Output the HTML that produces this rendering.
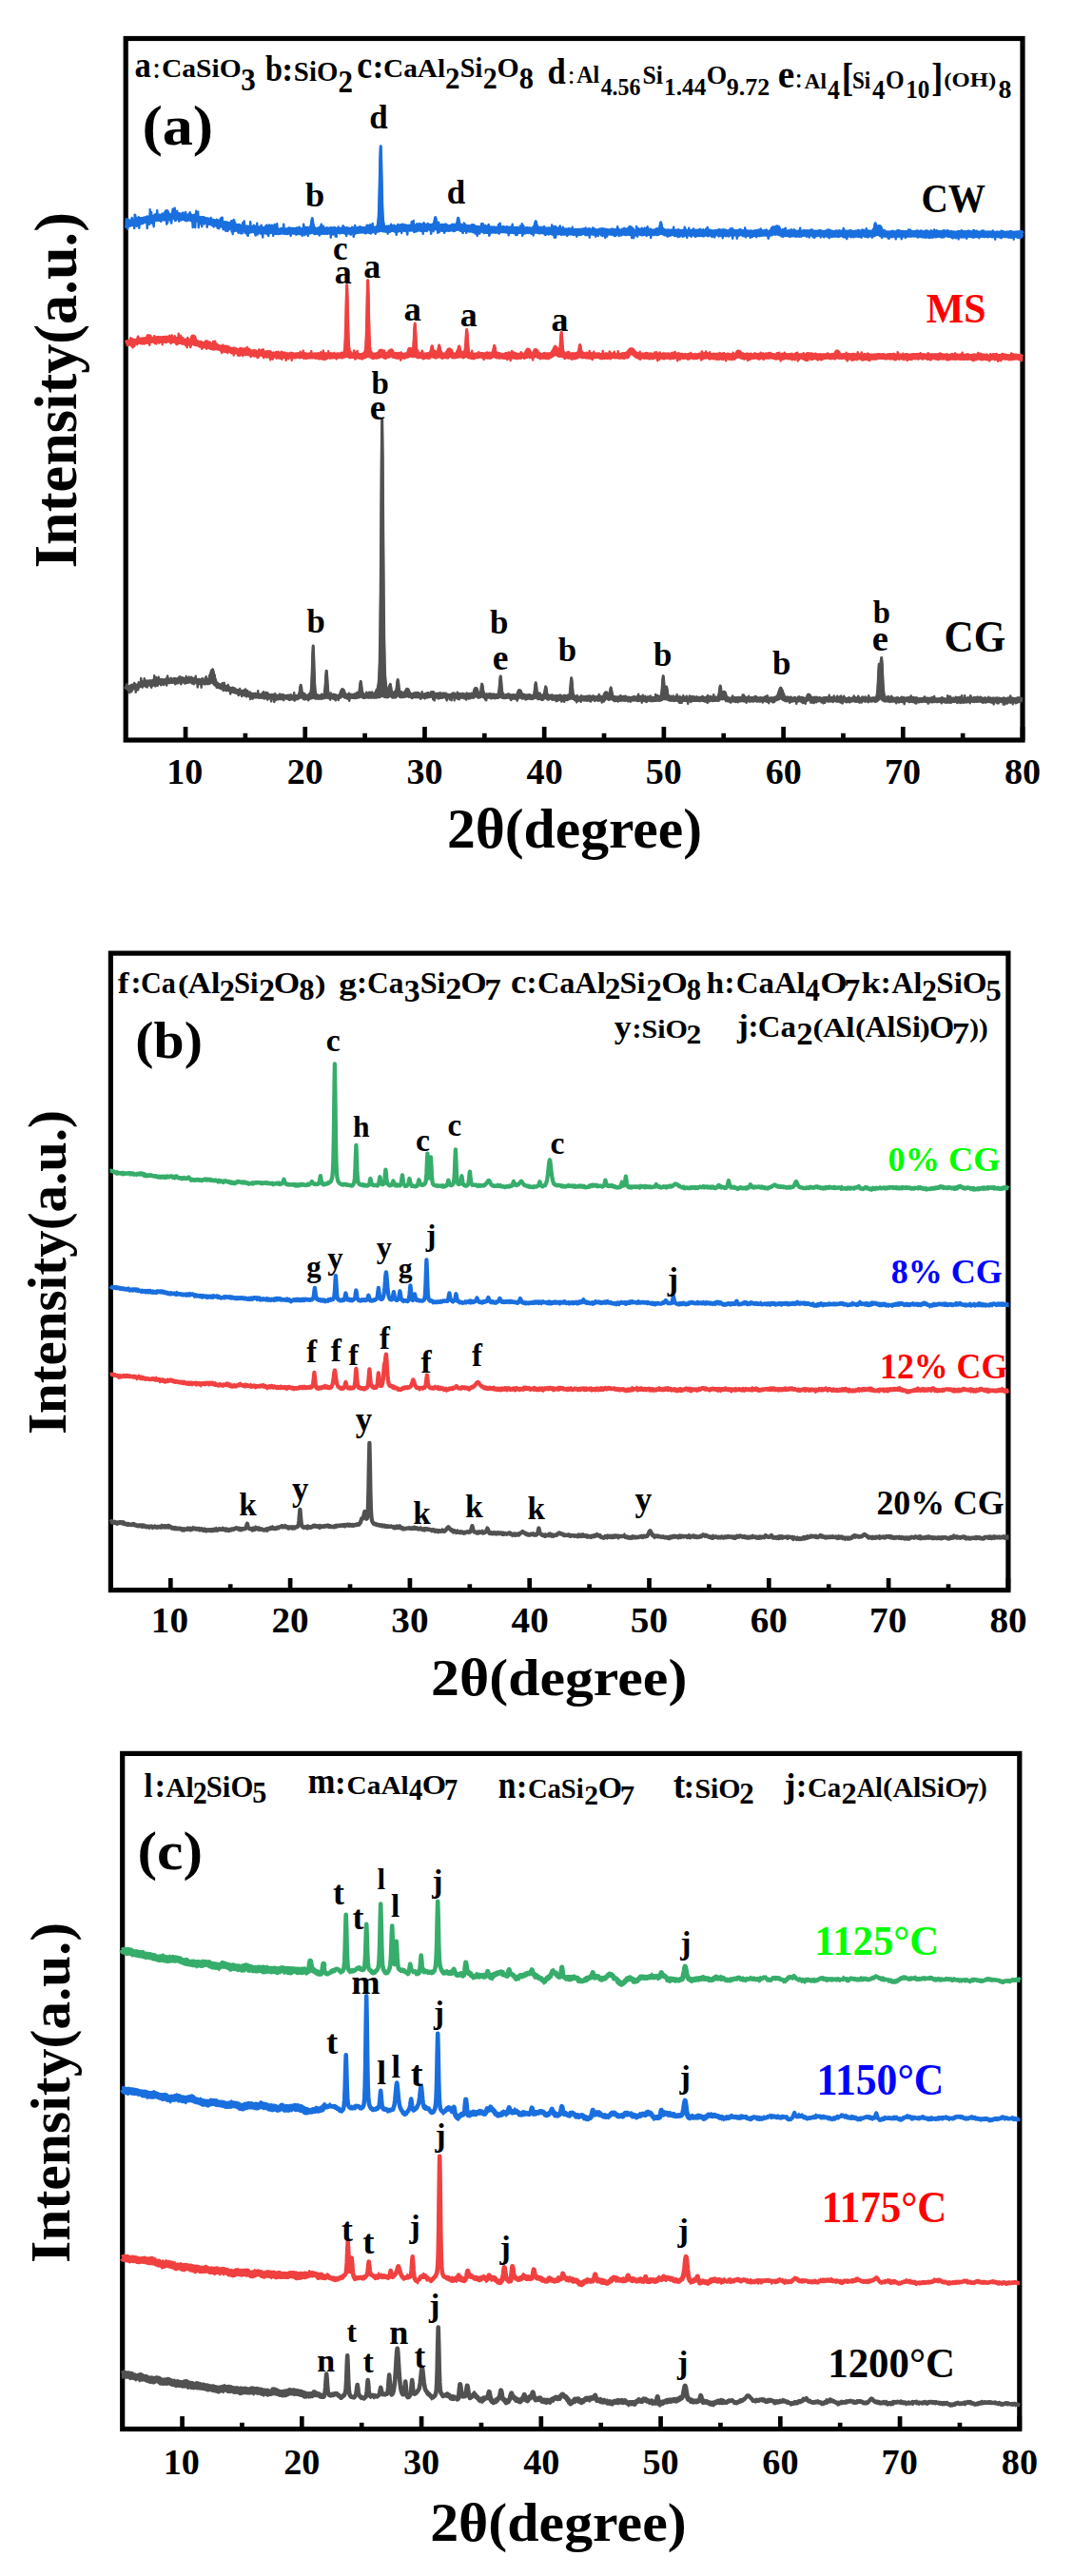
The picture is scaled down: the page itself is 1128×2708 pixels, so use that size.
<!DOCTYPE html>
<html lang="en"><head><meta charset="utf-8"><title>XRD patterns</title>
<style>
html,body{margin:0;padding:0;background:#fff}
svg{display:block}
svg text{font-family:"Liberation Serif","Times New Roman",serif;font-weight:bold;white-space:pre}
</style></head><body>
<svg width="1128" height="2708" viewBox="0 0 1128 2708">
<rect width="1128" height="2708" fill="#fff"/>
<text transform="translate(968.42,222.96) scale(0.9161,1)" font-size="42.84">CW</text>
<text transform="translate(973.79,339.36) scale(0.9452,1)" font-size="44.35" fill="#FF0000">MS</text>
<text transform="translate(992.53,685.14) scale(0.9401,1)" font-size="45.83">CG</text>
<rect x="132.2" y="40.5" width="942.80" height="737.50" fill="none" stroke="#000" stroke-width="5.2"/>
<line x1="195.05" y1="778.0" x2="195.05" y2="764.0" stroke="#000" stroke-width="4.7"/>
<text transform="translate(175.22,823.92)" font-size="38.07">10</text>
<line x1="257.91" y1="778.0" x2="257.91" y2="770.8" stroke="#000" stroke-width="4.7"/>
<line x1="320.76" y1="778.0" x2="320.76" y2="764.0" stroke="#000" stroke-width="4.7"/>
<text transform="translate(301.65,823.92)" font-size="38.07">20</text>
<line x1="383.61" y1="778.0" x2="383.61" y2="770.8" stroke="#000" stroke-width="4.7"/>
<line x1="446.47" y1="778.0" x2="446.47" y2="764.0" stroke="#000" stroke-width="4.7"/>
<text transform="translate(427.45,823.92)" font-size="38.07">30</text>
<line x1="509.32" y1="778.0" x2="509.32" y2="770.8" stroke="#000" stroke-width="4.7"/>
<line x1="572.17" y1="778.0" x2="572.17" y2="764.0" stroke="#000" stroke-width="4.7"/>
<text transform="translate(553.61,823.92)" font-size="38.07">40</text>
<line x1="635.03" y1="778.0" x2="635.03" y2="770.8" stroke="#000" stroke-width="4.7"/>
<line x1="697.88" y1="778.0" x2="697.88" y2="764.0" stroke="#000" stroke-width="4.7"/>
<text transform="translate(678.80,823.92)" font-size="38.07">50</text>
<line x1="760.73" y1="778.0" x2="760.73" y2="770.8" stroke="#000" stroke-width="4.7"/>
<line x1="823.59" y1="778.0" x2="823.59" y2="764.0" stroke="#000" stroke-width="4.7"/>
<text transform="translate(804.63,823.92)" font-size="38.07">60</text>
<line x1="886.44" y1="778.0" x2="886.44" y2="770.8" stroke="#000" stroke-width="4.7"/>
<line x1="949.29" y1="778.0" x2="949.29" y2="764.0" stroke="#000" stroke-width="4.7"/>
<text transform="translate(929.89,823.92)" font-size="38.07">70</text>
<line x1="1012.15" y1="778.0" x2="1012.15" y2="770.8" stroke="#000" stroke-width="4.7"/>
<line x1="1075.00" y1="778.0" x2="1075.00" y2="764.0" stroke="#000" stroke-width="4.7"/>
<text transform="translate(1056.06,823.92)" font-size="38.07">80</text>
<text transform="translate(80.20,597.26) rotate(-90)" font-size="62.36">Intensity(a.u.)</text>
<text transform="translate(469.90,891.24)" font-size="59.57">2θ(degree)</text>
<path d="M132.2,724.9l1-1.4 1,0 1-.5 1,.2 1-.9 1,.5 1-1.3 1,.9 1-.7 1,.4 1-.5 1-.3 1-.1 1-.7 1-.3 1-.2 1,0 1-.2 1-1.1 1,.5 1-.2 1,.5 1-.7 1-1.2 1,1.1 1,0 1-.5 1,.3 1-.9 1-.9 1,.3 1,1.4 1-1.6 1-.4 1,.7 1-.1 1,.3 1-.5 1-.8 1,.6 1,0 1-1.1 1,.2 1-.3 1,.1 1,.9 1-.7 1,.3 1,.1 1-.2 1-1.3 1,1.2 1-.5 1,1.1 1-.1 1-2.1 1,.9 1,.4 1,.1 1-1.2 1,.9 1-.7 1,.4 1,1.1 1-1.1 1,.7 1-.5 1,.6 1-.6 1-.5 1,1 1-.7 1,1 1-.4 1,.8 1-.6 1-.2 1,.9 1-.7 1,.7 1,.3 1,.4 1,.5 1-.5 1,0 1,0 1-.1 1-.1 1-.8 1-.6 1-.1 1,.8 1,1 1,1.5 1,.4 1,.3 1,.9 1,.3 1,.5 1,1.1 1-1.1 1,1.6 1-.6 1,.1 1,1.1 1,1 1-1.5 1,1.2 1,.4 1,.6 1-.3 1,.9 1-1.1 1,1.9 1,.2 1,.3 1-.5 1,.6 1,.9 1,.4 1-.3 1-.3 1,.3 1,.2 1,.8 1,0 1,1.1 1-.7 1,.2 1,.7 1,.7 1-.8 1,.8 1,0 1,.4 1-.9 1,1.2 1-1 1,.4 1,.5 1-.2 1,.3 1,.3 1-.1 1,0 1-.3 1,.7 1-1.4 1,.8 1,.8 1,.1 1-.8 1,.3 1,.8 1-.3 1,0 1-.2 1-.2 1,.5 1,.9 1-.6 1,.2 1,.2 1-.1 1-1.6 1,.8 1,0 1,.4 1-.1 1-.4 1-.1 1,1.5 1-1.2 1,.3 1,.7 1,.1 1-1.3 1,1.3 1-1 1,.7 1-1.2 1,.3 1-1.3 1-1.8 1,2 1,.3 1,1.2 1,.7 1-.7 1,.5 1-.9 1,.2 1,.4 1-.5 1,0 1-1.6 1-1.7 1,1.8 1,1.3 1,.5 1-.3 1,.1 1,.2 1-.1 1-.6 1,.8 1-.6 1,0 1,0 1-1.6 1-1.8 1,1.8 1,1.5 1-.7 1,.3 1-.4 1,.5 1,.6 1,.4 1-1.3 1,.5 1,.4 1,.2 1-.7 1-.1 1-.8 1-2.7 1-2.5 1,3.2 1,2 1,.8 1-.6 1,.4 1,.2 1,.2 1-.3 1-.2 1,.4 1-.7 1,.6 1,.4 1-.6 1,.2 1-.3 1-.1 1-1.3 1-1.9 1,1.8 1,1.2 1,.7 1,.1 1-.5 1-.1 1-.7 1,.9 1-.7 1-.3 1,1 1-.3 1-.1 1,.4 1-.1 1,.1 1-.4 1,.1 1-.2 1-.2 1-.9 1-1.8 1,0 1,1.7 1,.9 1,.3 1-.3 1,.5 1-.6 1-1.5 1-1.7 1,2 1,.9 1,1.2 1-.9 1,.8 1-1.1 1-1.1 1-2 1,1.9 1,.7 1,1.2 1-.1 1,.1 1-.2 1-.5 1,.3 1-2.6 1-2.8 1,3.1 1,2.1 1,0 1,.2 1-.3 1,.7 1-.4 1,.4 1-.2 1,.3 1-1.1 1,1.1 1-.7 1,.7 1,.5 1-.5 1,.2 1-.2 1-.7 1-.2 1,1.2 1-1.9 1,.9 1-.2 1,.3 1,.2 1-.2 1,.4 1-.8 1,1.4 1-.7 1-.3 1-.3 1,1.2 1-.1 1,.5 1-1.8 1,.8 1,.4 1,0 1,.1 1,.3 1,0 1-.2 1,0 1-.4 1,0 1-1.1 1,0 1,1.1 1,.3 1-.1 1,1.2 1-2.3 1,1.3 1-.6 1,.7 1-1 1,0 1,1.4 1-.9 1,.1 1-.2 1-.5 1,.1 1,1.4 1-.9 1-.2 1,.8 1-1.5 1-1.9 1-3.8 1,3.5 1,3 1,.7 1-.2 1-1.1 1-1.7 1-.2 1,2.3 1,1 1-.2 1-.5 1,.2 1,.4 1-.4 1-.8 1,.8 1,.5 1,0 1-.7 1,1.1 1-.9 1,.3 1,.4 1-.7 1-1.4 1-1.5 1,1.7 1,1.6 1,.3 1,.2 1-.2 1-.1 1-.5 1-.3 1,.6 1-.1 1,1.2 1-.1 1-1 1,.9 1-.7 1,.5 1,.8 1-.5 1-3.3 1-2.8 1,3 1,1.6 1,1.3 1-1.4 1,1 1,.4 1-.7 1,1.1 1-.5 1-.6 1,.4 1,.1 1,.5 1-.2 1-.1 1-1.5 1-1.7 1,1.4 1,1.7 1,.7 1-.1 1-.1 1-.9 1,.9 1,.1 1-1.5 1-1.4 1,0 1,2.1 1,1.4 1-.9 1-.7 1,.7 1-.7 1,1.8 1-.6 1-.4 1,.9 1-1.1 1,1.9 1-2 1,1.2 1-1.3 1,1.3 1,.1 1-.5 1-.9 1,1.3 1,.2 1,.2 1-.8 1-.1 1-.4 1-1.9 1-.1 1,2 1,.3 1,.3 1-.2 1,.8 1-.1 1,.6 1-.7 1-.1 1,.2 1,.2 1-.7 1,1 1-1 1,.3 1-.6 1,.7 1-.1 1,1.2 1-1.3 1,0 1,0 1-.6 1,1.1 1-.4 1,.5 1-.7 1,1.3 1-.5 1-.7 1,0 1-.2 1,1 1-.2 1-3.5 1-1.9 1,2.4 1,1.3 1,1.2 1-1.2 1-2.2 1,1.9 1,1.6 1-.3 1,1.4 1-1.1 1,.2 1,.9 1-1.1 1,.9 1-.4 1,.4 1-.7 1,.3 1,.6 1-1.2 1,.3 1,.5 1,.3 1-.7 1,.6 1,.1 1-.6 1,.1 1-.2 1,.4 1-.5 1,0 1,1 1-1.4 1,1.1 1-.8 1,.3 1,.6 1-.3 1,.4 1,.2 1,.3 1-1.2 1-.3 1,.6 1,.1 1,.5 1-.4 1,.5 1-.7 1,.5 1,0 1-.6 1-.2 1,.5 1,.1 1-.5 1-.1 1-1.4 1-1.8 1,1.8 1,.5 1-1.8 1,.1 1,1.9 1,.8 1-.3 1,.8 1-.5 1,.4 1-.3 1-.4 1,.4 1-.9 1,1.2 1-.5 1,1.4 1-.6 1-.4 1-.3 1,.3 1-.5 1,.8 1-.3 1,.4 1,.5 1-.6 1-.3 1,0 1,.4 1-1.5 1,1 1-.6 1,1.1 1-.3 1,.3 1,0 1-.5 1,.2 1-.3 1-.5 1,1.1 1,.2 1,.3 1-.8 1-.9 1,.5 1,1.2 1-.6 1-1.2 1,1 1-.1 1,0 1,0 1-.8 1,.8 1,.1 1,.1 1-1.6 1-2.3 1,1.8 1,.5 1-2 1-2.9 1,3.6 1,2 1,1.1 1,.3 1,.1 1,.2 1-.2 1-.8 1-.4 1,.3 1,.5 1-.6 1,.1 1,.5 1-.7 1,1.1 1,.1 1-.9 1,.3 1,.1 1,.5 1-1.2 1,.8 1,.1 1-.8 1,.2 1,.8 1-.6 1-.3 1-.1 1,1 1-.8 1-1.1 1,1.1 1,1 1-.6 1,.6 1-1 1,.4 1-.3 1,.7 1-.4 1-.3 1,.3 1,.8 1-1.2 1,.4 1,.3 1-.3 1-.4 1,.7 1,.7 1-1.5 1-.6 1,.3 1-.7 1-.1 1-1 1-.6 1,0 1,.5 1,1.3 1,.6 1,.3 1,.8 1-1 1,.7 1,.3 1,.2 1-.3 1,.5 1-.3 1-.4 1-.1 1,0 1,.9 1-.5 1,.1 1-1.4 1,.9 1-.6 1,1.5 1-1.2 1,1.2 1-.4 1,0 1-.6 1-1.3 1-2.3 1,2 1,1.4 1,.8 1-.2 1-.8 1,1.5 1-.4 1-1.4 1,1 1,.2 1-.5 1-.1 1,.7 1-.2 1,.5 1-1.1 1,.3 1-.6 1,.7 1,.4 1,.2 1-.3 1,0 1,.2 1-.3 1-.3 1,.1 1-.1 1,.5 1,.3 1-.5 1-.3 1-.1 1,1.7 1-1.4 1-.4 1-.1 1,.3 1,.6 1,.6 1-.6 1-.6 1,1.1 1-.6 1,0 1-.7 1,.2 1,.3 1,.5 1-.3 1,0 1,0 1,.7 1-.5 1-.5 1-.5 1,.5 1,0 1-.7 1,1 1-.4 1,.1 1-.6 1,.8 1-.1 1,.4 1-.3 1-.5 1,.5 1-.6 1,.7 1-.8 1-1.2 1-2.1 1,1 1-.5 1,.3 1,2 1,.6 1,.8 1,0 1-.3 1,.1 1,.1 1,.1 1-.5 1-.3 1,.9 1-.1 1-.5 1,.7 1-.3 1-.9 1,.7 1,1.2 1-1.2 1,.3 1-1.4 1,2.1 1-1.6 1,.8 1-.2 1-.5 1,.5 1-.7 1,1.6 1-.8 1-.4 1,.8 1-1.3 1,1 1-.1 1-.7 1,.9 1,.8 1,0 1-.6 1-.1 1,.2 1-.3 1,.1 1-.1 1,.4 1-.8 1,0 1,.3 1,.5 1,.2 1,0 1-1.4 1,.6 1,.8 1-.4 1-.1 1,.6 1-.3 1-.3 1,.2 1-.6 1,.1 1,.8 1-.4 1,.4 1,.6 1-.8 1,.7 1-.4 1,.4 1-1.1 1-.5 1,.9 1-.7 1,.9 1-.6 1-.2 1,.2 1-1 1,.4 1,.4 1-.3 1,.5 1,.4 1,.7 1-1 1,.1 1,.1 1,.1 1-.2 1-.8 1,.3 1,.4 1,.1 1,.1 1,.3 1-.9 1-.3 1,1 1-.6 1,.3 1,.1 1-1.3 1,1.4 1,.9 1-.6 1-1.2 1,1.6 1-1.1 1,.5 1-.3 1-.6 1,.5 1,1 1-1.2 1,1.6 1-1.2 1-.8 1,.3 1-.5 1,.7 1-.1 1-.1 1,.6 1,.1 1-.2 1-.9 1,1.9 1-.8 1-.3 1,.8 1-1.6 1,1 1,.9 1-1.8 1,.1 1,1.1 1,0 1-.6 1,1 1-1.4 1,1.1 1-1.6 1,.9 1,.3 1,.4" fill="none" stroke="#515151" stroke-width="5.6" stroke-linejoin="round"/>
<path d="M216.2,716.6 L216.7,716.6 L217.2,716.5 L217.7,716.3 L218.2,716.0 L218.7,715.5 L219.2,714.9 L219.7,713.9 L220.2,712.7 L220.7,711.2 L221.2,709.5 L221.7,707.7 L222.2,705.9 L222.7,704.6 L223.2,704.2 L223.7,704.9 L224.2,706.5 L224.7,708.5 L225.2,710.6 L225.7,712.6 L226.2,714.3 L226.7,715.8 L227.2,717.0 L227.7,718.0 L228.2,718.7 L228.7,719.3 L229.2,719.7 L229.7,720.1 L230.2,720.4 M313.2,732.4 L313.7,732.1 L314.2,731.4 L314.7,729.7 L315.2,726.7 L315.7,722.7 L316.2,720.3 L316.7,722.7 L317.2,726.7 L317.7,729.6 L318.2,731.2 L318.7,731.9 L319.2,732.2 L319.7,732.3 M323.2,732.2 L323.7,732.1 L324.2,732.0 L324.7,731.8 L325.2,731.5 L325.7,731.1 L326.2,730.5 L326.7,729.2 L327.2,726.0 L327.7,719.0 L328.2,706.3 L328.7,689.2 L329.2,679.1 L329.7,689.2 L330.2,706.2 L330.7,718.9 L331.2,725.9 L331.7,729.0 L332.2,730.4 L332.7,731.0 L333.2,731.3 L333.7,731.6 L334.2,731.8 L334.7,731.9 L335.2,732.0 L335.7,732.0 M338.2,732.0 L338.7,731.9 L339.2,731.8 L339.7,731.6 L340.2,731.3 L340.7,730.6 L341.2,729.0 L341.7,725.5 L342.2,719.0 L342.7,710.4 L343.2,705.2 L343.7,710.4 L344.2,719.0 L344.7,725.4 L345.2,729.0 L345.7,730.6 L346.2,731.3 L346.7,731.6 L347.2,731.8 L347.7,731.9 M375.7,731.3 L376.2,731.1 L376.7,730.7 L377.2,729.8 L377.7,727.8 L378.2,724.3 L378.7,719.5 L379.2,716.6 L379.7,719.4 L380.2,724.2 L380.7,727.7 L381.2,729.6 L381.7,730.5 L382.2,730.8 L382.7,730.9 L383.2,731.0 L383.7,731.1 L384.2,731.1 M384.7,731.1 L385.2,731.0 L385.7,731.0 L386.2,731.0 L386.7,730.9 L387.2,730.9 L387.7,730.8 L388.2,730.8 L388.7,730.7 L389.2,730.6 L389.7,730.5 L390.2,730.4 L390.7,730.3 L391.2,730.1 L391.7,729.9 L392.2,729.8 L392.7,729.5 L393.2,729.3 L393.7,729.0 L394.2,728.6 L394.7,728.1 L395.2,727.6 L395.7,726.9 L396.2,726.0 L396.7,724.9 L397.2,723.4 L397.7,721.2 L398.2,717.6 L398.7,710.8 L399.2,697.0 L399.7,670.0 L400.2,623.4 L400.7,556.0 L401.2,480.2 L401.7,441.1 L402.2,480.2 L402.7,555.9 L403.2,623.3 L403.7,669.9 L404.2,696.8 L404.7,710.6 L405.2,717.3 L405.7,720.8 L406.2,723.0 L406.7,724.4 L407.2,725.4 L407.7,726.0 L408.2,726.1 L408.7,725.5 L409.2,723.7 L409.7,721.1 L410.2,719.7 L410.7,721.7 L411.2,724.8 L411.7,727.1 L412.2,728.4 L412.7,729.1 L413.2,729.4 L413.7,729.5 L414.2,729.6 L414.7,729.6 L415.2,729.5 L415.7,729.2 L416.2,728.3 L416.7,726.3 L417.2,722.5 L417.7,717.5 L418.2,714.5 L418.7,717.5 L419.2,722.7 L419.7,726.5 L420.2,728.6 L420.7,729.6 L421.2,730.0 L421.7,730.2 L422.2,730.3 L422.7,730.4 M503.7,731.0 L504.2,730.8 L504.7,730.1 L505.2,728.4 L505.7,725.5 L506.2,721.5 L506.7,719.1 L507.2,721.5 L507.7,725.5 L508.2,728.5 L508.7,730.2 L509.2,731.0 L509.7,731.3 M522.2,731.5 L522.7,731.4 L523.2,731.2 L523.7,730.6 L524.2,729.4 L524.7,726.6 L525.2,721.6 L525.7,714.9 L526.2,710.9 L526.7,714.9 L527.2,721.7 L527.7,726.7 L528.2,729.5 L528.7,730.8 L529.2,731.3 L529.7,731.6 M559.7,732.5 L560.2,732.3 L560.7,731.9 L561.2,731.1 L561.7,729.1 L562.2,725.5 L562.7,720.8 L563.2,717.9 L563.7,720.8 L564.2,725.6 L564.7,729.2 L565.2,731.1 L565.7,732.0 L566.2,732.4 L566.7,732.6 M570.7,732.6 L571.2,732.4 L571.7,731.7 L572.2,730.3 L572.7,727.6 L573.2,724.0 L573.7,721.9 L574.2,724.1 L574.7,727.7 L575.2,730.4 L575.7,731.9 L576.2,732.6 L576.7,732.9 M597.2,733.2 L597.7,732.9 L598.2,732.4 L598.7,731.2 L599.2,728.5 L599.7,723.5 L600.2,716.8 L600.7,712.9 L601.2,716.9 L601.7,723.5 L602.2,728.5 L602.7,731.3 L603.2,732.5 L603.7,733.0 L604.2,733.3 M639.2,733.2 L639.7,733.2 L640.2,732.7 L640.7,731.3 L641.2,728.7 L641.7,725.2 L642.2,723.1 L642.7,725.2 L643.2,728.8 L643.7,731.5 L644.2,733.0 L644.7,733.6 L645.2,733.9 M693.2,734.2 L693.7,734.1 L694.2,733.8 L694.7,733.2 L695.2,731.8 L695.7,728.6 L696.2,723.0 L696.7,715.4 L697.2,710.8 L697.7,715.2 L698.2,722.4 L698.7,727.3 L699.2,728.9 L699.7,727.5 L700.2,724.4 L700.7,722.4 L701.2,724.8 L701.7,728.7 L702.2,731.6 L702.7,733.2 L703.2,733.9 L703.7,734.2 M754.2,734.5 L754.7,734.1 L755.2,733.3 L755.7,731.5 L756.2,728.1 L756.7,723.7 L757.2,721.0 L757.7,723.6 L758.2,728.0 L758.7,731.1 L759.2,732.6 L759.7,732.6 L760.2,731.4 M814.7,734.4 L815.2,734.2 L815.7,733.9 L816.2,733.4 L816.7,732.7 L817.2,731.9 L817.7,730.8 L818.2,729.5 L818.7,728.0 L819.2,726.4 L819.7,724.8 L820.2,723.6 L820.7,723.2 L821.2,723.6 L821.7,724.8 L822.2,726.4 L822.7,728.0 L823.2,729.5 L823.7,730.8 L824.2,731.9 L824.7,732.8 L825.2,733.4 L825.7,733.9 L826.2,734.2 L826.7,734.5 M918.2,734.9 L918.7,734.8 L919.2,734.6 L919.7,734.5 L920.2,734.2 L920.7,733.9 L921.2,733.4 L921.7,732.4 L922.2,730.3 L922.7,725.8 L923.2,717.6 L923.7,706.3 L924.2,698.2 L924.7,700.5 L925.2,704.0 L925.7,702.0 L926.2,695.3 L926.7,691.6 L927.2,698.0 L927.7,709.3 L928.2,719.3 L928.7,726.1 L929.2,730.1 L929.7,732.2 L930.2,733.2 L930.7,733.8 L931.2,734.2 L931.7,734.4 L932.2,734.6 L932.7,734.8 L933.2,734.9" fill="#515151" stroke="#515151" stroke-width="3.0" stroke-linejoin="round" stroke-linecap="round"/>
<path d="M132.2,719.3l.5,1.7 .5,2.4 .5-4.4 .5,4.6 .5,.3 .5-2 .5,2.9 .5,3.6 .5-7.5 .5,3.2 .5-2.9 .5,5.9 .5-1 .5-3.9 .5-2 .5,4.1 .5-2.6 .5-3.7 .5,.6 .5,2.4 .5,6.9 .5-3.4 .5,.8 .5-1.5 .5,1.3 .5,.2 .5-8 .5,5.1 .5-.1 .5-.5 .5-.3 .5-8.6 .5,7.7 .5-4.8 .5,6.9 .5-4.6 .5,.7 .5,.5 .5-6.1 .5,5.6 .5-3.4 .5,6.5 .5-4.5 .5-1.9 .5,7 .5-4.7 .5-2.1 .5,2.5 .5-.4 .5,1.2 .5-3.8 .5,6.2 .5-2.4 .5,3.9 .5-3.3 .5-4.7 .5,6 .5-4 .5,1 .5-7.6 .5,3.4 .5,7.8 .5-.9 .5-8.6 .5,6.2 .5-.1 .5,2.7 .5-7.1 .5-2 .5,6.1 .5-3 .5,.2 .5-1 .5,6.3 .5-6.3 .5,5.4 .5-1.1 .5-3.9 .5,4.9 .5,.8 .5-2.8 .5-1.8 .5,2.9 .5-4.5 .5,3.6 .5,3.1 .5-8.7 .5-1.4 .5,7.6 .5-4.9 .5,1.2 .5,1.8 .5-2.3 .5,2.2 .5-3.4 .5,1.3 .5,1.3 .5,1.9 .5-2.9 .5,2.2 .5,.8 .5-.3 .5-1.9 .5,4.2 .5-6.2 .5,5.4 .5-.2 .5-.3 .5-4.2 .5,4.4 .5-1.5 .5-4.8 .5,2.5 .5-3.1 .5,5.1 .5,3 .5-1.4 .5-5.7 .5,0 .5,2.4 .5,.1 .5,2.6 .5-3.1 .5,4.3 .5-4.9 .5,4.6 .5-7.3 .5,2.7 .5,1.7 .5,2.4 .5-.9 .5-4.1 .5-1.3 .5,3.8 .5-.2 .5-.8 .5,1.1 .5-3.8 .5,5.4 .5,1.5 .5-5.6 .5,.2 .5,6.1 .5-.4 .5-5.4 .5,.3 .5-3 .5,6.6 .5-.8 .5-.5 .5,6.5 .5-7 .5,.2 .5,1.2 .5-1.3 .5,3.8 .5-3.6 .5,.9 .5,6.1 .5-8 .5-1.7 .5,3.9 .5-2.1 .5,0 .5,2.4 .5,1.7 .5-6.3 .5,3.5 .5-4.9 .5,7.6 .5-4.9 .5,3.5 .5,1.8 .5-1.9 .5-2.8 .5-4.7 .5,3.7 .5-4.5 .5-.7 .5-2.9 .5-1.1 .5,1 .5-1.8 .5,1.8 .5,2.8 .5,3.5 .5-2.1 .5,6.5 .5-1 .5,3.2 .5,4.6 .5-3.1 .5,2.1 .5,1.2 .5-3.8 .5,1.5 .5-.6 .5,1.3 .5-1.2 .5-.4 .5-.1 .5,4 .5-5.6 .5,4.2 .5,3.7 .5-7.5 .5-.9 .5,7 .5-4 .5,.4 .5,4 .5-.8 .5-2.5 .5,1.1 .5-3 .5,2.6 .5,1.6 .5,1.9 .5,.3 .5,3.3 .5-4.8 .5,3.1 .5-1.9 .5-3.2 .5,3.7 .5,.2 .5,1 .5-.3 .5-.8 .5-2.7 .5,1.8 .5,1.7 .5,1.1 .5,.6 .5-1.1 .5,.9 .5,2.2 .5-3.1 .5-1.8 .5-2.2 .5,3.9 .5,1.7 .5-2.5 .5,5 .5-6 .5,1.4 .5,1 .5-3 .5,5.9 .5-4.4 .5-1 .5-1.5 .5,7 .5,1 .5-5.6 .5-.9 .5,2.5 .5,1.2 .5-1.2 .5,2.6 .5-3.7 .5,7.7 .5-4 .5,1.7 .5-3.4 .5,3.4 .5,1.8 .5-5.7 .5,2.2 .5,2.1 .5-1.3 .5-2.9 .5,1 .5,2.5 .5-.5 .5-2.3 .5,2.4 .5-5.9 .5,5.4 .5,2.1 .5,0 .5-3 .5,1.6 .5,0 .5-.8 .5-1.5 .5-1.4 .5,1.9 .5-1.4 .5-1.9 .5,7.4 .5-6 .5,1.8 .5,0 .5-2.4 .5,4.6 .5-4.5 .5,7.6 .5-6.9 .5,1.3 .5,1.4 .5,.1 .5,.3 .5,2.5 .5,.7 .5,2.3 .5-7.4 .5,5 .5-.7 .5-2.1 .5-2.2 .5,8 .5-2.4 .5-6.5 .5,7.2 .5-2.2 .5-.5 .5,1.2 .5-3.1 .5,1.1 .5,2.4 .5-4.6 .5-.5 .5-.7 .5,5.4 .5-4 .5,1.5 .5-.3 .5,2.4 .5-.5 .5-2.6 .5,4.9 .5-2.2 .5-.1 .5-1.7 .5,.2 .5,.2 .5,.6 .5,.8 .5,0 .5-1.5 .5,.3 .5,1.8 .5,1.1 .5,.1 .5-2.8 .5-2.7 .5,3.1 .5,0 .5-.2 .5,.9 .5-2.1 .5,1.3 .5-5.2 .5,8.6 .5-3.7 .5-.8 .5,1.7 .5-1.6 .5-1.1 .5,3.1 .5-1.7 .5-1.7 .5,1.6 .5-2.2 .5-3.2 .5-4.6 .5-1.5 .5,1.1 .5,5.4 .5,4.1 .5-1.8 .5,2.6 .5-3.6 .5,3.6 .5-3.3 .5,.7 .5,3 .5,1.7 .5-1.2 .5-1.4 .5-1.2 .5,1.4 .5,4.2 .5-2 .5-5.1 .5,.8 .5-1.6 .5,1.4 .5-4.1 .5-7.6 .5-11.9 .5-17.1 .5-10.2 .5,10.2 .5,17.4 .5,11.9 .5,7.2 .5,1.7 .5,2.4 .5,3.5 .5-.9 .5-2 .5,.4 .5,3.5 .5-2.5 .5-.7 .5,3.3 .5-3 .5-.6 .5,2.2 .5-3.3 .5,1.5 .5-.7 .5,1.5 .5-.7 .5,2.3 .5-3.5 .5-4.5 .5-6.1 .5-9.1 .5-5 .5,5.3 .5,8.7 .5,7.5 .5,3 .5-.2 .5,2.3 .5-2.2 .5,6 .5-7.3 .5,3.5 .5,1.3 .5-2.8 .5,1 .5,3 .5-4.6 .5,4.4 .5-2.4 .5-.2 .5,4.8 .5-2.5 .5-.8 .5-1.3 .5,.8 .5-.7 .5,4.1 .5-3.4 .5-1.9 .5,.4 .5,1.6 .5-3.2 .5-.1 .5-2.5 .5-2.4 .5,3.3 .5-1.1 .5,4.6 .5,.2 .5,.5 .5-2.3 .5,2.2 .5,.5 .5-2.1 .5,3.3 .5,1.1 .5-1.6 .5-.5 .5-4 .5,8.3 .5-3.2 .5-4 .5,0 .5,1 .5-.7 .5,2.1 .5-1.8 .5,2 .5-1.3 .5,.4 .5-1.9 .5,2.7 .5,.1 .5-2.2 .5-1.7 .5,3.3 .5-3.7 .5,1.8 .5,1.8 .5,.2 .5-4.2 .5-3 .5-4.3 .5-4.2 .5,3.1 .5,5.3 .5,4.8 .5-1.4 .5,.6 .5,4.1 .5,.6 .5-3.3 .5,1.4 .5,1.6 .5-2.2 .5-3.1 .5,3.9 .5,1.3 .5-4.1 .5,4.6 .5-3 .5-2.7 .5,3.5 .5-3.1 .5,4.9 .5-1.7 .5,2.1 .5-5.9 .5,2.8 .5,1.8 .5-.6 .5-1.2 .5-.7 .5,0 .5-.1 .5,.4 .5-4.9 .5,.1 .5-.6 .5-.9 .5-2 .5-4.1 .5-6.6 .5-13.6 .5-27 .5-46.8 .5-67.5 .5-75.7 .5-39 .5,39 .5,75.7 .5,67.4 .5,46.5 .5,27.3 .5,13.5 .5,6.4 .5,3.9 .5,2.3 .5,.6 .5,.9 .5,2.5 .5-1.7 .5,.9 .5-2.8 .5-3.1 .5-1.6 .5,1.5 .5,5 .5,2.4 .5,0 .5-.4 .5,1 .5,1.2 .5,1.9 .5-3.1 .5-1.7 .5,2.7 .5-1.7 .5-2.4 .5-4.3 .5-3.3 .5-2.6 .5,1.8 .5,4.5 .5,4.4 .5,2.2 .5,2.2 .5-.3 .5-3 .5,3.7 .5,.1 .5-1.5 .5,1.6 .5-3.2 .5,1.9 .5-1.9 .5,2.5 .5,1.1 .5-5.2 .5,2 .5-.9 .5-1.6 .5,2.6 .5-.2 .5,4.9 .5-2.7 .5-2.2 .5,2.2 .5-1 .5,3.9 .5,.9 .5,.2 .5-1.9 .5-1.8 .5-.9 .5-1.1 .5,3.7 .5-4 .5,2.1 .5,1 .5,.5 .5-3.8 .5,.3 .5,.1 .5,4.3 .5-4.2 .5,.5 .5,3.2 .5,.7 .5,2 .5-3.9 .5,2 .5-5.7 .5,5.1 .5,.5 .5,.2 .5-3 .5,4 .5,.5 .5-3.4 .5,.1 .5-.8 .5,.1 .5,.6 .5-2.7 .5-.2 .5,2.3 .5-.5 .5,3.1 .5-2.4 .5-1.6 .5-1.8 .5,3.1 .5-1.5 .5-1.6 .5,7.9 .5-8.1 .5,7.6 .5,1.6 .5-4.8 .5-1.2 .5,2.4 .5-3.4 .5,2.4 .5,1.2 .5-4.3 .5,6 .5-3.1 .5,.4 .5,2.2 .5-5.8 .5,.4 .5,3.3 .5,.2 .5-1.4 .5,.3 .5-.3 .5-1.5 .5-.7 .5,1.2 .5,1.8 .5,.7 .5-3.6 .5,6.4 .5,1.3 .5-4.6 .5-2.1 .5,1.3 .5,2.1 .5-1.9 .5,4.2 .5-4.6 .5,2.6 .5-1 .5,3.8 .5-3.9 .5,.2 .5-2.8 .5,1.2 .5-2.2 .5,7.8 .5-4.9 .5-.5 .5,.5 .5,.8 .5,.3 .5-4.9 .5,6.5 .5-2.6 .5-.3 .5,4 .5-3.3 .5-2.2 .5-.1 .5,3.4 .5-1.5 .5,.2 .5-3 .5,3.1 .5-1.8 .5-.3 .5,4.4 .5-2.1 .5-1.2 .5,2.7 .5,1.9 .5-7.2 .5,5.2 .5-1.4 .5-.7 .5,3.1 .5-1.2 .5-2.7 .5,3.5 .5-3 .5,.4 .5-2.8 .5,2.8 .5,1.1 .5-2 .5,.6 .5,1.8 .5-3.4 .5-2.3 .5,.3 .5-3.7 .5-.4 .5,3 .5,2.8 .5-.8 .5,.3 .5,1.3 .5,.5 .5-.4 .5-.2 .5-.3 .5-2.1 .5-5.4 .5-2.8 .5,1.5 .5,4.6 .5,1.6 .5,3 .5-1.2 .5,4.4 .5,2.2 .5-2.1 .5,2.9 .5-7 .5,4.1 .5-2 .5,.7 .5-2.6 .5,2.1 .5-.1 .5-1.2 .5,3.8 .5-.8 .5,.9 .5-3.5 .5-.3 .5-1 .5,4.1 .5,.2 .5-2 .5-1.4 .5,1.6 .5,.7 .5,0 .5-1.6 .5,2.4 .5,0 .5-4.3 .5,.7 .5-3.2 .5-6 .5-6.1 .5-3.6 .5,4.5 .5,5.7 .5,5.1 .5,2.9 .5,.9 .5-1.3 .5,4.4 .5-1.9 .5,1.5 .5,.5 .5-2.1 .5-1.1 .5,.6 .5,.4 .5-.6 .5,1.1 .5-2.3 .5,2 .5-.3 .5,1.8 .5,.6 .5,2.7 .5-1.3 .5-1 .5-1.4 .5,.2 .5,.6 .5-1.2 .5,.6 .5-1.9 .5,2.5 .5-2.6 .5,.9 .5-.2 .5,5.4 .5-4.6 .5,.6 .5-4.6 .5,.4 .5-2 .5,2.4 .5,.4 .5,.1 .5,4 .5-.9 .5-2.6 .5,2.5 .5-1.6 .5,3.3 .5-1.2 .5,.6 .5-2.6 .5,4.7 .5-4 .5,1.9 .5-1.1 .5,.6 .5-2.6 .5,2.6 .5,.7 .5-3.4 .5,4.6 .5-4.1 .5,.9 .5-.2 .5,3.5 .5-3.4 .5,0 .5,1 .5-1.2 .5-.9 .5-5.2 .5-4.9 .5-2.9 .5,2.8 .5,5.9 .5,3.6 .5,.9 .5,1.2 .5-3.4 .5,5.8 .5-.6 .5-4.9 .5,3 .5,1 .5,2.9 .5-2.3 .5,1.9 .5,.4 .5-1.9 .5-3.5 .5-1.7 .5-1.2 .5-2.7 .5-2.5 .5,1 .5,5.3 .5,.8 .5,2.1 .5,3.1 .5-1.3 .5-1.1 .5-.3 .5,1.7 .5,.4 .5-.8 .5-1.2 .5,2.5 .5,.8 .5-3.9 .5,3.6 .5-2.6 .5,.8 .5,2.5 .5-4.5 .5,2.3 .5,3.8 .5-.5 .5-4.2 .5-1 .5,4.8 .5-2.1 .5,.1 .5-3.7 .5,3.4 .5-3.4 .5,2.6 .5,4.4 .5-1.3 .5,.7 .5-3.1 .5,.7 .5-1.6 .5,4.9 .5-5.2 .5-1.8 .5,1.9 .5,3 .5-3.2 .5,1.3 .5-3.1 .5,1.3 .5-1.4 .5,0 .5,.2 .5-1.8 .5-4.2 .5-7.8 .5-4.6 .5,3.9 .5,6.1 .5,5.9 .5,1.6 .5,2.2 .5-1.1 .5,5.1 .5-3.3 .5,2.2 .5-1.9 .5,5.1 .5-7.3 .5,4 .5,1.8 .5-2.8 .5,2.1 .5-2.1 .5,2.5 .5-2.3 .5,3.6 .5-6.7 .5,4.8 .5-2.6 .5,.2 .5,2 .5-2.4 .5-.1 .5,2.6 .5-3.5 .5,1.8 .5,2.6 .5-3.8 .5,4.2 .5-4.7 .5,2.7 .5-.3 .5-3.1 .5,4.5 .5-4.6 .5,5.9 .5,.2 .5-4.5 .5,1.5 .5-.5 .5-2.6 .5,1.2 .5,1.6 .5,.1 .5,2.6 .5-3.5 .5-.2 .5,2.6 .5,.2 .5-2.1 .5,.9 .5-1.6 .5,.9 .5-4.1 .5,.8 .5,5.3 .5-3 .5-1 .5,3.3 .5,3.1 .5-2.1 .5-1.3 .5-.9 .5,3.4 .5-.7 .5-3.5 .5-2.2 .5-1.2 .5-.7 .5,.3 .5,1.3 .5,1 .5-.9 .5,2 .5,.4 .5-3.6 .5-1.8 .5-2 .5-3.4 .5,3 .5,2.2 .5,1.2 .5,4.6 .5,1.2 .5-.4 .5-.4 .5,3 .5-3.3 .5-1 .5,2.1 .5,1.7 .5-1.5 .5,1.5 .5,1 .5-4.7 .5,1.4 .5-.3 .5,1.7 .5-4.4 .5,5.2 .5-4.8 .5,3.7 .5-1.5 .5-.2 .5,2 .5-3.6 .5,3.7 .5-1.9 .5-2.1 .5,4.8 .5-4.5 .5,3.8 .5-2.1 .5,.1 .5,3.5 .5-2.2 .5-1 .5,2.2 .5-2.7 .5,4.2 .5-4.5 .5,2.3 .5-2.2 .5,2.6 .5-3.2 .5,1.6 .5,1.6 .5-4.1 .5,2.3 .5,1.2 .5-1.8 .5,.2 .5,2.2 .5,.3 .5-4.9 .5,1.3 .5-2.9 .5,4.6 .5,1.4 .5-3.1 .5-.7 .5,3.4 .5-2 .5,5.3 .5-1.2 .5-6.8 .5,5.2 .5,0 .5,.1 .5-1.5 .5-2.9 .5,3.1 .5-1.3 .5,4.7 .5-2.4 .5,1.4 .5-4.7 .5,2.1 .5-.4 .5-1.4 .5,.9 .5-2.2 .5,3.3 .5-2.1 .5,2.1 .5,.5 .5-1.3 .5-1 .5,3.1 .5-.1 .5-2.5 .5,3 .5-6.4 .5,4.6 .5,.6 .5-1 .5-3.2 .5,3.2 .5,1.7 .5-1.3 .5-3 .5,2.3 .5,2.5 .5-1.5 .5-1.4 .5-5 .5-5.1 .5-8 .5-4.6 .5,3.9 .5,7.7 .5,5.7 .5,.9 .5-3 .5-1.3 .5-2.9 .5,3.4 .5,2.7 .5,5.5 .5-.6 .5,2.8 .5-4 .5,2.4 .5,.7 .5-2.9 .5,1.7 .5,.1 .5,1.2 .5,0 .5-3.4 .5,5.6 .5-1 .5-2.4 .5,3.1 .5-2.4 .5-.7 .5-1.5 .5-2 .5,5.3 .5,1.7 .5-1 .5,0 .5,2.7 .5-6.9 .5,4.4 .5,2.6 .5-4.2 .5,4.1 .5-4.4 .5-.5 .5-2.7 .5,5 .5,.5 .5-.5 .5-.7 .5,1.1 .5-1.9 .5-3 .5,4 .5,.6 .5,3.6 .5-5.7 .5,1.2 .5-3.8 .5-.1 .5,1.3 .5,5.3 .5-2.7 .5-.1 .5-1.2 .5,1.5 .5,1.3 .5-.6 .5-1.3 .5,.5 .5,.4 .5,.6 .5-.6 .5-1.4 .5-2.2 .5,3.1 .5-.3 .5-.2 .5-.7 .5-1.4 .5,4.4 .5-3.5 .5,1.2 .5-.8 .5-1.7 .5,4 .5-4.5 .5,3 .5-.8 .5,.9 .5-2.1 .5,4.1 .5,.6 .5-1.2 .5-2.4 .5-1.7 .5,6.7 .5-8 .5,1.5 .5,3.1 .5,.4 .5-3.4 .5,3.3 .5-3.8 .5,4.3 .5-.7 .5-.8 .5,2.2 .5-1.5 .5-5.3 .5,6.2 .5-1.1 .5,1.4 .5-2.4 .5,1.9 .5-2.2 .5,1.4 .5,.6 .5-2.9 .5-.8 .5-.8 .5-2.8 .5-4.9 .5-2.8 .5,3 .5,4.2 .5,1.7 .5,4.4 .5-.1 .5-1.6 .5-4.7 .5,1.5 .5-.8 .5,3.1 .5,1.3 .5,3.9 .5-.6 .5-1.6 .5,1 .5-2 .5-.8 .5,3.3 .5,.3 .5-1.4 .5,3 .5,.5 .5-4.4 .5,1.4 .5,.5 .5-4.7 .5,6.1 .5-.3 .5-1.2 .5-.8 .5-.7 .5,3.5 .5-4 .5,2.1 .5-1 .5,2.7 .5,.4 .5-2.6 .5-.3 .5-2.4 .5,.3 .5,2.8 .5,.1 .5-.8 .5-2.5 .5,.5 .5-3 .5,4.5 .5-4.5 .5,.9 .5,1.8 .5,3.9 .5-4.4 .5,3.6 .5,2.6 .5-2.4 .5-.3 .5-3.5 .5,1.7 .5-2.7 .5,4.5 .5-.1 .5,1.7 .5-2.7 .5,.6 .5-2.4 .5,2.6 .5,1.6 .5-1.4 .5,.6 .5-1.4 .5,.8 .5-.7 .5-1.9 .5,1.5 .5,1.7 .5-.8 .5-.9 .5-1.5 .5,2.8 .5-2.1 .5,.6 .5,1.7 .5,.8 .5-3.2 .5,.4 .5,2.2 .5-2 .5,3.9 .5-1.5 .5-1.7 .5-2.3 .5,3.7 .5-1.2 .5-3.3 .5,1.2 .5,1.3 .5,1.7 .5-5.2 .5,3.6 .5,.5 .5,3.9 .5-3.7 .5-.2 .5-.5 .5,.7 .5,.5 .5-1.6 .5,1.3 .5,2.5 .5-3.9 .5,1.5 .5,2.2 .5-4.8 .5,1.1 .5-1.3 .5,2.1 .5-.2 .5-1.7 .5-1.4 .5-1.1 .5-1.1 .5-.8 .5-2.2 .5-.8 .5-1 .5-1.8 .5,1.6 .5,1.1 .5,.6 .5-.2 .5,2.5 .5,3 .5-1.9 .5,4.8 .5-2.4 .5,2.1 .5-1.1 .5,.6 .5,1.2 .5-2.4 .5,1.8 .5-.5 .5,2.4 .5-3.2 .5,5.8 .5-.6 .5-5.5 .5-.1 .5,1.4 .5,1.7 .5,.5 .5,.1 .5,.4 .5-1.7 .5-2.1 .5,.4 .5,1.1 .5-.8 .5,6.2 .5-5.5 .5,3.3 .5-.9 .5-3.1 .5-1 .5,2 .5,1.2 .5-1.2 .5,2.7 .5-3.3 .5,0 .5,1.8 .5,3.3 .5-2.3 .5,2 .5-4.4 .5,3 .5-1.2 .5,3.6 .5-5.2 .5,1 .5-2.1 .5-.8 .5,2.1 .5-1.6 .5-2.4 .5,3 .5-.2 .5,1.1 .5,3.9 .5-1.7 .5,.8 .5,.9 .5-2.3 .5-1.1 .5,3.4 .5,.5 .5-6.2 .5,1.2 .5,.2 .5-.1 .5,4.2 .5-3.1 .5,.1 .5,.9 .5,.8 .5-1.2 .5,.7 .5-3.4 .5,2.9 .5-1.8 .5,1.5 .5,2.6 .5-1.8 .5-.9 .5,2.7 .5,.9 .5-2.3 .5-2.6 .5,4.3 .5-2.8 .5-1.9 .5,2.8 .5-2.4 .5,.1 .5-1.2 .5,.3 .5,3.2 .5-6.1 .5,5.9 .5,.4 .5-.2 .5-1.5 .5-2.3 .5,2.3 .5,1.3 .5,1.4 .5-2.4 .5-4.1 .5,2.4 .5-.7 .5,3.3 .5-.5 .5-.5 .5-.7 .5-3.1 .5,2.9 .5,2.6 .5-4 .5,.2 .5-1 .5,1.9 .5,1.5 .5-4.3 .5,4.4 .5-2.7 .5,6.3 .5-5 .5,1.4 .5-4.1 .5,5.3 .5-1.7 .5-1 .5,3.7 .5-3.1 .5-.5 .5,3.6 .5-3.7 .5,2.1 .5-2.4 .5-.9 .5,5.1 .5-2.2 .5,1.3 .5-.2 .5-1.7 .5,.8 .5-1.8 .5-.1 .5,1.7 .5-4.7 .5,3.8 .5-1.8 .5,1.9 .5-2.1 .5,4.6 .5-1.2 .5-2.6 .5,2.6 .5-5 .5,.9 .5,4 .5,2.1 .5-3.3 .5,1.6 .5-1.1 .5,2.7 .5-4.1 .5-2 .5,1.5 .5,1.7 .5,.9 .5-2.4 .5,3.4 .5-5 .5,3.3 .5-2.4 .5,1.1 .5-.3 .5,3.1 .5,1 .5-7.1 .5,3.4 .5,1.2 .5-2.2 .5,1.3 .5,.1 .5,1.5 .5-2.9 .5,2.8 .5-1.8 .5,.3 .5-1.2 .5,.7 .5,.2 .5,3.3 .5-2.6 .5-1.4 .5-1.3 .5-3 .5-3.1 .5-9.4 .5-11 .5-7.7 .5,1.9 .5,3.5 .5-1.2 .5-7.5 .5-3.6 .5,6.2 .5,11.7 .5,10.3 .5,8 .5,3.7 .5,1.5 .5,.4 .5,2.3 .5-1.4 .5,1.3 .5-3.1 .5,3.4 .5-3.1 .5,1.8 .5-2.5 .5,1 .5,5 .5-2.1 .5-2.3 .5,4 .5-5.9 .5,3.6 .5-2.2 .5,3.5 .5,.5 .5-2.2 .5-.1 .5-.5 .5,3.2 .5-1.5 .5,3.3 .5-3.1 .5-.3 .5-2.2 .5-.1 .5,3.4 .5-1.9 .5,2.6 .5-.8 .5-2.3 .5,.3 .5,2.9 .5-.3 .5-.1 .5-3.3 .5,2 .5-1.8 .5,5.9 .5-5 .5,.6 .5-.5 .5-1.2 .5,2.7 .5-2.1 .5,1.3 .5,.8 .5-.9 .5-.8 .5,2 .5-1.3 .5-2.4 .5-2 .5,1.9 .5,2.5 .5,2.3 .5-3.8 .5,1.5 .5-2.3 .5,3.6 .5,1.9 .5-5.1 .5,1.7 .5,4 .5-4.9 .5-.7 .5,1.7 .5,.6 .5-1.1 .5,.4 .5,2.2 .5-3.9 .5,4 .5-3.4 .5,3 .5,.6 .5-2.2 .5-1.1 .5-1.3 .5-.5 .5,4 .5-4.6 .5,3.2 .5-.7 .5,2.7 .5-3 .5,3.6 .5-2.8 .5,4.3 .5-4.7 .5-.1 .5-1.1 .5,4.2 .5-3.1 .5,2.7 .5-2.7 .5-1.9 .5,5.4 .5-.4 .5-3.1 .5,2.6 .5-5.5 .5,5.2 .5-2.1 .5,1.1 .5-1 .5,.8 .5-.7 .5-.5 .5,.7 .5,.6 .5,1.3 .5-1.3 .5-1.6 .5,.9 .5-.3 .5,4.2 .5-6 .5,2.8 .5-2.5 .5,3.2 .5-2.2 .5,1.2 .5-1.2 .5,2.8 .5,.7 .5-1.2 .5,.5 .5-.9 .5-5.3 .5,2.5 .5,2.6 .5-1.4 .5-2 .5-1 .5,2.4 .5,4.5 .5-4.8 .5,4 .5-3.7 .5,3 .5-.7 .5-2.6 .5,.3 .5,.1 .5,2.4 .5-4.1 .5,2.9 .5-1.1 .5,4.5 .5-5.7 .5,3.1 .5-.3 .5,2.4 .5-.8 .5-4.9 .5,6.2 .5-4 .5,1.7 .5-5.5 .5,7.4 .5-2.7 .5,.1 .5-1.1 .5,3.2 .5-6.9 .5,4.2 .5-1.5 .5,1.5 .5,3.1 .5-4.7 .5,1.5 .5-2.1 .5,3.9 .5-1.6 .5,2.4 .5,1.3 .5-7.9 .5,.7 .5,2.4 .5,1.5 .5-1.8 .5,2.8 .5-1.3 .5-2.6 .5,2.6 .5-1.8 .5-.6 .5,2.1 .5-.2 .5,1.9 .5-4.2 .5-.3 .5,4.4 .5-1.7 .5,.2 .5-.1 .5-2.6 .5,.6 .5,3 .5-.3 .5-.7 .5,2 .5,1.3 .5-3.1 .5,1.6 .5,.7 .5-2.2 .5-.1 .5-1.8 .5,4.2 .5-1.3 .5-.5 .5-1.5 .5,3.2 .5-5 .5,4.4 .5,.8 .5-2.3 .5-1.8 .5-.1 .5,3.6 .5-1.8 .5,1.7 .5-2.8 .5-1 .5,7 .5-6.4 .5,3.3 .5,.6 .5-2.1 .5,.6 .5,.2 .5,2.7 .5-3.4 .5,1.1 .5,2.3 .5-5.2 .5-.3 .5,2.5 .5-.6 .5,2.3 .5-.2 .5-1.6 .5,1.4 .5-1.8 .5,4.6 .5-1.9 .5-2.4 .5,4.3 .5-3.7 .5,1.3 .5-3.2 .5-.6 .5,5.4 .5-4 .5-1.1 .5,.4 .5,3 .5-2.5 .5-.9 .5-3.1 .5,3.3 .5,2 .5-1.4 .5-.3 .5,5.2 .5-2.8 .5-2.2 .5,2 .5-2.8 .5,3 .5,1.8 .5-3.4 .5,2.9 .5-3.3 .5-1.7 .5,1.9 .5,.2 .5,2 .5-1.4 .5-1.6 .5,.5 .5,.8 .5,.9 .5-2.9 .5,.7" fill="none" stroke="#515151" stroke-width="2.4" stroke-linejoin="round"/>
<path d="M132.2,361.2l1-.3 1,.1 1-.5 1-.6 1-.1 1,.8 1-.1 1-.3 1-1.2 1,.6 1-.1 1-1 1-.5 1-.4 1,.7 1,.3 1-.4 1-.5 1,.4 1-.4 1,.8 1-1 1,.1 1-1.7 1,1.6 1-.8 1,1.1 1-.6 1-.1 1,.4 1-.6 1,.3 1-1.1 1,.1 1,.6 1,.8 1,0 1-1 1-.1 1-.4 1,.7 1,1.1 1-2 1,.9 1,.1 1-.1 1,.6 1,.4 1-.7 1-.3 1,.8 1,0 1-.4 1,2.3 1-.6 1,0 1-.3 1-.8 1,.2 1,1.6 1-.6 1-.3 1,.3 1,0 1-.3 1,1.1 1,.1 1,1 1-1.6 1-1.2 1-3.4 1,3.7 1,2.3 1,.4 1-.7 1,.8 1,0 1,1.2 1-.8 1,1 1,.3 1-.7 1,1.1 1-.6 1-.3 1,1 1,.3 1,.4 1-.7 1,.4 1,1.1 1-.8 1,1.1 1-.6 1,.5 1-.3 1,.6 1,.1 1,0 1,.9 1,.3 1,.5 1-1.1 1,1.7 1,0 1-.2 1-1.4 1,.9 1,.5 1,.3 1,.3 1,.7 1-1 1-.2 1,.4 1,1.3 1-.2 1,.3 1-.4 1,.5 1-1.6 1,1.9 1,.7 1-.8 1,1 1-.8 1,0 1,.2 1,.9 1,.1 1-.7 1,.6 1,.4 1-1 1,1.8 1-2 1,2.2 1-.8 1,.4 1-.5 1,.2 1-.6 1,.3 1,.4 1-.1 1,1.1 1-.1 1-.6 1,1.1 1-.3 1-.4 1,.7 1-.4 1,.5 1-.2 1-.3 1,.1 1,.7 1-.3 1-.6 1,.2 1,1.5 1-1.1 1-.4 1,.1 1,.5 1-.1 1,.4 1,0 1-.5 1,.2 1,.1 1-.3 1,.2 1-.4 1,1 1-.5 1,.6 1-.9 1,0 1,.2 1-.2 1,.7 1-.9 1,.7 1-.4 1,0 1-.4 1,.4 1,.4 1,.5 1,0 1-.7 1,.7 1-.4 1-.2 1-.2 1,.6 1-.5 1,.4 1,.2 1-.8 1,1.6 1-.4 1,.3 1-.9 1-.8 1,.7 1-.7 1,.1 1,1.6 1-1.2 1-.3 1,.1 1,1 1-1.2 1,.9 1-.2 1,.2 1-.3 1-.1 1,0 1,.1 1,.1 1,0 1-.2 1-.6 1,.4 1-.1 1-.2 1-.3 1-2 1,.1 1,1.7 1,.8 1,.5 1-.5 1-.1 1,.3 1-.2 1,.4 1-.1 1,.2 1,.2 1-.4 1,.7 1-.2 1,.7 1-1.3 1-.2 1,.6 1-.8 1-.4 1-1.9 1-.1 1,2 1,.4 1,.4 1-.2 1,1.1 1-1 1,.1 1,.4 1,.2 1-.4 1,0 1-1 1-3.1 1,0 1,3.2 1-.1 1,1.3 1,.3 1-1.7 1,.4 1,.2 1-.8 1-2.5 1-.6 1,3.1 1,.1 1,1 1,.1 1-1 1,.8 1,.8 1-.8 1,.6 1,.5 1-1 1-.1 1,.3 1,.3 1-.6 1-.3 1-.2 1-.1 1-1.8 1-3.4 1,3 1,1.9 1,.2 1-1.1 1-1.7 1,2 1,1.2 1,.5 1-.1 1,.1 1-.8 1-.2 1,.7 1,1.3 1-1.3 1-.1 1,.7 1-.1 1,.2 1-.4 1-.4 1-1.5 1-1.5 1,1.6 1,1.6 1,.1 1,.6 1-.5 1-.9 1-2.1 1-.2 1,2.3 1,1.1 1-.8 1,.3 1,.1 1,.2 1,0 1,.4 1-2.2 1-3.5 1,.4 1,3.4 1,.2 1,1.5 1-.6 1,.6 1-.6 1,.3 1-1 1-2.1 1,.4 1,2.2 1-.1 1,.1 1,.3 1-.3 1-.2 1-2.1 1,0 1,2.1 1,1.1 1-.4 1,.7 1-1.4 1,.7 1,1.1 1-1 1-.4 1,.3 1,.2 1-.3 1-.5 1,.3 1-.5 1,.3 1,1 1-.8 1,.7 1-.1 1-1.5 1,1.7 1-.4 1,.7 1-.7 1-.5 1-.3 1-1.7 1-.1 1,1.5 1,1.3 1-1 1,.3 1,1.1 1-.6 1,0 1,.6 1-.2 1,.3 1,0 1-1.6 1,1.3 1,.5 1-2.4 1,1.9 1-1 1,.5 1,.3 1-1.5 1,1 1,.2 1-.2 1,.9 1-.6 1,.6 1,0 1-1.3 1,.4 1,.2 1,.5 1-.8 1,.3 1-2.9 1-2.1 1,2.5 1,1.2 1,.9 1,.1 1,.2 1-.7 1-1 1-2.9 1,2.6 1,1.3 1,.6 1-.3 1,1 1-.3 1,.3 1-.6 1,.7 1-.6 1,.9 1-1.3 1-.1 1,0 1,.6 1-.8 1-.4 1-.6 1-.9 1-.6 1,0 1,.3 1,.8 1,.7 1,.3 1-.9 1-1.8 1,1.9 1,1.4 1-.2 1,1.1 1-.2 1-.1 1,.4 1-.9 1,.9 1-.8 1,.7 1-.9 1,.7 1,1.1 1-1.8 1,1 1-.6 1-.5 1-2.3 1,0 1,2.1 1,.9 1-.9 1,.3 1,.2 1,.8 1-.1 1-.5 1,0 1-.5 1,1.4 1-1.3 1,.6 1-.1 1,.3 1-.8 1,.4 1-.1 1-.2 1,.9 1,.2 1,.4 1-1 1,.6 1-.6 1,.3 1-.8 1,1.1 1-.8 1,.2 1-.5 1,.8 1-.7 1,.3 1-.7 1,1 1-.3 1,.3 1,0 1,0 1-.3 1,0 1,.6 1,.1 1-.3 1-1.1 1,.3 1-.7 1,1.2 1-1.6 1-1.3 1-1.5 1-1.1 1-.1 1,1.4 1,1.4 1,.6 1,1 1,.7 1,.2 1-.5 1,1.2 1-.4 1,.4 1-.6 1,.4 1,.5 1-.8 1-.8 1,1.5 1-1.1 1,.6 1,.9 1-1.4 1,.6 1,.8 1-1.1 1,.4 1-.4 1,.1 1,.3 1-.7 1,.3 1,.6 1-.2 1-.3 1-.4 1,1.6 1-.4 1-1 1,.7 1-.8 1,1 1-.3 1-.3 1-.3 1-.7 1,1.6 1-.8 1,.3 1-.2 1-.3 1-.4 1,.9 1,.3 1-.6 1,.2 1,.7 1-.6 1,.2 1,.2 1-.1 1-.2 1-.4 1,.9 1-.5 1-.1 1,.2 1,.7 1-.3 1,.1 1,.1 1-.7 1,.1 1-.6 1,.1 1,.6 1,.8 1-.9 1-.2 1,.4 1-.7 1-.1 1,.1 1-.2 1,1.6 1-1.1 1,.1 1,.6 1-1 1,1.2 1-1 1-.2 1,.8 1-.9 1,.5 1,0 1,.6 1-.2 1-1.1 1,.7 1,0 1,.2 1,.4 1-1.2 1,.3 1,.7 1-.2 1,1.4 1-1.6 1,.5 1-.6 1,.1 1-.5 1-.5 1-2.6 1,.4 1,2.5 1,.7 1-.7 1,.5 1,1.3 1-1.1 1,0 1,.8 1-1.2 1,.2 1,1.1 1-1.3 1,.8 1-.3 1,.5 1-.2 1-1 1,.6 1,.4 1-.6 1,1.4 1-1.5 1,0 1,.6 1-.8 1,.8 1-.1 1-.8 1,.4 1,.4 1-1.4 1,1.1 1,.2 1,0 1-.1 1-.1 1,.4 1,.6 1,.3 1-1 1-.4 1,1.1 1-.2 1-.3 1-.7 1,1.6 1-.5 1-1 1,.1 1,.5 1,.1 1-.7 1,.3 1,.8 1-1 1,.5 1,.6 1-.8 1,0 1-1 1,1.3 1-.1 1-.1 1-.1 1-.1 1,.4 1-.6 1,1.2 1-.7 1,.8 1-1 1-1.2 1,.6 1,.4 1,.3 1,1.3 1-.2 1-1.2 1,.5 1-1.1 1,1 1,.4 1-.3 1-.1 1-.5 1,1.8 1-1.6 1-.1 1,0 1,.4 1-.4 1-.5 1,.5 1,.1 1,.1 1,.6 1-1 1,.5 1,.1 1,.4 1-.9 1-2 1-1.7 1,2.3 1,1.8 1-.4 1,.4 1-.1 1-.3 1-.2 1,0 1,.3 1,.3 1-.3 1-.5 1,.4 1,.3 1-.5 1,1 1,1 1-2 1,.4 1-.1 1,.4 1,.3 1-.7 1,.1 1,.5 1-.6 1,1.9 1-1.1 1-.9 1,1.4 1-.6 1-.9 1-.1 1,.4 1,1 1-.5 1,.5 1-.6 1-.6 1,.6 1-.3 1,.3 1-.8 1-.1 1,.6 1,.2 1-.5 1-.1 1,.6 1,.3 1-.1 1,.1 1-.8 1,.5 1-.7 1,0 1,.5 1,.5 1-1.3 1,.3 1,1.9 1-.8 1-.5 1-.2 1,.2 1,0 1-.2 1,.7 1-.1 1,.2 1-.2 1-.4 1-.5 1,.4 1,.2 1,.2 1-.4 1,1 1-1.6 1,.2 1,.4 1,.6 1-1 1,.1 1,1 1-1.4 1,.5 1,.1 1-.2 1,0 1,.1 1,.4 1,0 1,0 1,.7 1-.5 1,.4 1-1.1 1,.5 1-.5 1,.1 1,.2 1-.3 1,.3 1-.2 1,1.5 1-1.2 1-1.1 1,1.5 1-.8 1,1 1-.6 1,0 1-.2 1,.4 1,1.3 1-1 1,.7 1-1 1,0 1-.8 1,.7 1,.3 1,.5 1-.6 1-.5 1,.7 1,0 1,.4 1,.1 1-.6 1,.5 1-.6 1,.7 1-.6 1,0 1-.8 1,.8 1,.3 1,.1 1-.4 1-.2 1,.2 1-.7 1,1.1 1-.4 1-.7 1,.6 1,.3 1,.3 1-.7 1,1.2 1-1.4 1,0 1,.9 1,.1 1-.9 1,1.4 1-.6 1,.1 1,.2 1-.4 1-.5 1-.6 1,1 1-.7 1-.7 1,2.1 1-1.1 1,1.2 1-1.1 1-.1 1,.5 1-1.4 1,.6 1,.3 1,.5 1-.5 1,0 1,.5 1-.4 1,.5 1,.1 1-1.7 1,1 1,.3 1-.5 1-.3 1,.7 1-.2 1,.6 1,.7 1-1.5 1-.1" fill="none" stroke="#F14040" stroke-width="6.4" stroke-linejoin="round"/>
<path d="M357.7,373.4 L358.2,373.3 L358.7,373.1 L359.2,373.0 L359.7,372.8 L360.2,372.5 L360.7,372.2 L361.2,371.6 L361.7,370.7 L362.2,368.9 L362.7,364.6 L363.2,354.9 L363.7,337.4 L364.2,313.9 L364.7,299.8 L365.2,313.9 L365.7,337.4 L366.2,354.9 L366.7,364.5 L367.2,368.9 L367.7,370.7 L368.2,371.6 L368.7,372.1 L369.2,372.5 L369.7,372.7 L370.2,372.9 L370.7,373.0 L371.2,373.2 L371.7,373.2 M379.2,373.3 L379.7,373.2 L380.2,373.1 L380.7,373.0 L381.2,372.8 L381.7,372.6 L382.2,372.4 L382.7,372.0 L383.2,371.4 L383.7,370.5 L384.2,368.5 L384.7,363.9 L385.2,353.6 L385.7,334.9 L386.2,309.8 L386.7,294.8 L387.2,309.8 L387.7,334.9 L388.2,353.6 L388.7,363.9 L389.2,368.5 L389.7,370.5 L390.2,371.4 L390.7,372.0 L391.2,372.4 L391.7,372.7 L392.2,372.9 L392.7,373.0 L393.2,373.2 L393.7,373.3 M431.7,368.6 L432.2,370.3 L432.7,371.4 L433.2,371.8 L433.7,371.3 L434.2,369.4 L434.7,365.1 L435.2,357.1 L435.7,346.4 L436.2,340.1 L436.7,346.5 L437.2,357.2 L437.7,365.2 L438.2,369.6 L438.7,371.6 L439.2,372.4 L439.7,372.9 L440.2,373.1 L440.7,373.3 M451.2,373.4 L451.7,373.2 L452.2,372.6 L452.7,371.3 L453.2,368.9 L453.7,365.7 L454.2,363.7 L454.7,365.6 L455.2,368.8 L455.7,371.2 L456.2,372.5 L456.7,373.1 L457.2,373.3 M458.7,373.3 L459.2,373.0 L459.7,372.4 L460.2,371.0 L460.7,368.5 L461.2,365.1 L461.7,363.0 L462.2,365.1 L462.7,368.5 L463.2,371.1 L463.7,372.5 L464.2,373.1 L464.7,373.4 M479.7,373.4 L480.2,373.1 L480.7,372.6 L481.2,371.3 L481.7,369.0 L482.2,365.8 L482.7,364.0 L483.2,365.8 L483.7,368.9 L484.2,371.2 L484.7,372.4 L485.2,372.9 L485.7,373.1 M486.2,373.1 L486.7,373.1 L487.2,372.9 L487.7,372.6 L488.2,372.0 L488.7,370.4 L489.2,366.9 L489.7,360.5 L490.2,351.9 L490.7,346.8 L491.2,351.9 L491.7,360.5 L492.2,367.0 L492.7,370.5 L493.2,372.1 L493.7,372.8 L494.2,373.1 L494.7,373.3 M516.7,373.5 L517.2,373.3 L517.7,372.6 L518.2,371.3 L518.7,368.8 L519.2,365.5 L519.7,363.6 L520.2,365.5 L520.7,368.8 L521.2,371.3 L521.7,372.6 L522.2,373.3 L522.7,373.5 M577.2,373.2 L577.7,373.0 L578.2,372.7 L578.7,372.3 L579.2,371.9 L579.7,371.3 L580.2,370.6 L580.7,369.7 L581.2,368.7 L581.7,367.6 L582.2,366.5 L582.7,365.5 L583.2,364.8 L583.7,364.5 L584.2,364.7 L584.7,365.4 L585.2,366.3 L585.7,367.3 L586.2,368.3 L586.7,369.1 L587.2,369.6 L587.7,369.8 L588.2,369.0 L588.7,366.3 L589.2,361.0 L589.7,353.7 L590.2,349.4 L590.7,354.1 L591.2,361.7 L591.7,367.4 L592.2,370.6 L592.7,372.0 L593.2,372.6 L593.7,373.0 L594.2,373.2 L594.7,373.3 M606.7,373.4 L607.2,373.2 L607.7,372.5 L608.2,371.0 L608.7,368.3 L609.2,364.7 L609.7,362.5 L610.2,364.7 L610.7,368.3 L611.2,371.0 L611.7,372.5 L612.2,373.2 L612.7,373.5" fill="#F14040" stroke="#F14040" stroke-width="3.0" stroke-linejoin="round" stroke-linecap="round"/>
<path d="M132.2,357.6l.5,1.5 .5,.5 .5-1.2 .5,4 .5,.6 .5-.8 .5-1.4 .5-3.1 .5,.8 .5-3.4 .5,7.9 .5,.5 .5,.8 .5-8.2 .5,9.4 .5-5.3 .5,.5 .5,3.4 .5-3.8 .5-2.7 .5,2.5 .5-2.9 .5,.7 .5,4.3 .5-7.8 .5-.8 .5,7.1 .5-1.4 .5-.6 .5,1.8 .5-4.4 .5,5.3 .5-5.6 .5,0 .5,5.8 .5-3.6 .5-.1 .5-2.5 .5,6.1 .5-.4 .5-6 .5,3.6 .5-.3 .5-1.1 .5-4.7 .5,8.3 .5-1.6 .5-7.1 .5,2.1 .5,8.6 .5-3.4 .5-6.9 .5,3 .5,1 .5-1 .5-.1 .5-.6 .5,1.1 .5,3.6 .5-6.5 .5,8 .5-2.8 .5-1.7 .5,4.9 .5-1.3 .5-2 .5,.7 .5-2 .5,1.6 .5,2.1 .5-.9 .5-5.4 .5,1.2 .5,2.2 .5-2.4 .5-.9 .5,7.8 .5-7.7 .5,3.1 .5-3.6 .5,4 .5,1.7 .5-3.9 .5,.4 .5,1.8 .5-1.3 .5-1 .5,2.5 .5-.1 .5-2.7 .5,4 .5-6.6 .5,1.2 .5,5.6 .5,1.5 .5-4.8 .5-3.8 .5,2.8 .5,3.6 .5,.8 .5-.7 .5,.7 .5-6.4 .5,2.3 .5,.1 .5,.9 .5,5.8 .5-2.7 .5-4.5 .5,1.9 .5-6.4 .5,9.5 .5-4 .5,2.7 .5,.2 .5-6.3 .5,6.9 .5-2.9 .5,.5 .5-2.2 .5,3.2 .5,2.6 .5,.8 .5-1.7 .5-.6 .5,3.9 .5-4.7 .5,1.5 .5,5.3 .5-10.4 .5,.9 .5,1 .5,1.8 .5,0 .5,1.6 .5,4.7 .5-1.5 .5-5.4 .5,2.8 .5-2.5 .5-2.7 .5,1 .5,2 .5-2.4 .5,5.9 .5-4 .5,1.5 .5,2.2 .5-2.9 .5,1.5 .5,.9 .5,1.4 .5-2.1 .5,.2 .5-1.6 .5,3.6 .5,.6 .5-4.6 .5,4.4 .5,3.5 .5-3 .5,1.5 .5-1.6 .5-1.6 .5-1.1 .5,.5 .5,.5 .5-3.6 .5,1 .5,7.3 .5-8.2 .5,.8 .5-.3 .5,4.5 .5-1.3 .5,2.3 .5-4.7 .5,7 .5-4.6 .5-1.4 .5,5.9 .5,.1 .5,.5 .5-8.3 .5,4.4 .5,1 .5-1.4 .5-4.4 .5,7.5 .5-.5 .5-.8 .5-3.1 .5,.6 .5,4.5 .5-3.5 .5,1.8 .5,.3 .5-.6 .5,3.2 .5-3 .5,3.8 .5,2.3 .5-4.2 .5-4.3 .5,2.3 .5,3.5 .5,.7 .5-5.4 .5,2.6 .5-.4 .5-2.2 .5,3.7 .5-.8 .5,4.6 .5-6.6 .5,4.9 .5-2.2 .5,1.8 .5-2.6 .5-.4 .5,4.5 .5,.7 .5-4.5 .5,3.6 .5-3.2 .5,1.3 .5,5.1 .5-2.4 .5-1.6 .5,1 .5-2.7 .5,1 .5,1.6 .5-3.8 .5,1.7 .5,5.3 .5-5.1 .5,.6 .5,3.6 .5,1.2 .5-4.8 .5,3.2 .5-5.5 .5-.2 .5,2.8 .5,4.7 .5-5.8 .5,2.5 .5,.5 .5-5.1 .5,2.4 .5,4.4 .5-.5 .5-2 .5-5.6 .5,6.5 .5,1.3 .5-6.1 .5,5.1 .5-2.3 .5-2.2 .5,6.5 .5,1.4 .5-5.8 .5,4.1 .5-2.7 .5,.1 .5-1.1 .5,.4 .5-.3 .5,3 .5-2.6 .5,3.6 .5-2.9 .5-1.2 .5,2.4 .5,3.8 .5-2.3 .5,1.9 .5-8.1 .5,2.6 .5-.6 .5,2.4 .5,.2 .5-4.1 .5,2.8 .5,1.8 .5,1.7 .5-7.1 .5,9.1 .5-5 .5,3 .5-4.9 .5,3.4 .5,2.3 .5,.3 .5-2.9 .5-3.6 .5,6.2 .5-3 .5,.7 .5,3.1 .5-7 .5,9.5 .5-8.6 .5,5.5 .5,1.9 .5-4.1 .5,4.5 .5-7 .5,4.6 .5-1.3 .5-2.2 .5,2.8 .5-3.8 .5-.7 .5,6.8 .5-1.2 .5-4.6 .5-1.3 .5,2.5 .5-.4 .5,4.6 .5-3.9 .5,2.7 .5-2.9 .5-2.7 .5,8.3 .5-4.1 .5-3.3 .5,2.9 .5,2.6 .5-4.8 .5-.7 .5,.6 .5,4.9 .5,2.9 .5-7.4 .5,1 .5,.6 .5,.7 .5,3.4 .5-2.2 .5-1.6 .5,2.6 .5-1.8 .5-3.6 .5,2.6 .5,5.7 .5-4.2 .5-1.5 .5,1.8 .5-2.7 .5,1 .5-.8 .5,.6 .5,2.8 .5-2 .5,.1 .5,.5 .5-1.2 .5,1.4 .5,1 .5-2.1 .5-2.6 .5,4.2 .5-5.4 .5,5.9 .5-1.2 .5-3 .5,.8 .5,.8 .5-4.4 .5,7.4 .5,1 .5-3.6 .5,1 .5-1.3 .5,1.8 .5,2 .5-.8 .5-4.3 .5,1.3 .5,2.3 .5-3.3 .5-.4 .5,1.2 .5,1.7 .5,.4 .5-6 .5,3.8 .5,3.3 .5-3.8 .5,1.6 .5,.4 .5,.1 .5-.4 .5-2.7 .5,5.4 .5-1.4 .5-1.3 .5,2.1 .5-2.8 .5-1.2 .5,.1 .5,2.5 .5,2.4 .5-1.1 .5-2.9 .5-3 .5,2.1 .5-.5 .5,4.1 .5,1.7 .5-9.1 .5,3.6 .5,2.2 .5,3.7 .5-3.4 .5-.1 .5,2.8 .5-4.2 .5-.1 .5-1.5 .5,2.9 .5-5.3 .5,4 .5-.8 .5,.9 .5,.8 .5,1.7 .5-.8 .5-2.1 .5,2.3 .5-2.5 .5-.7 .5,1.2 .5-2.1 .5,4.9 .5-1.3 .5-.8 .5,2.5 .5,1.1 .5-5.6 .5,1.2 .5,1.7 .5-3.2 .5,2.8 .5-2.4 .5,1.3 .5,1.7 .5-.4 .5-3.8 .5,2.6 .5,3.2 .5-4.1 .5-.7 .5,.4 .5-.8 .5-4 .5-2 .5-10.3 .5-17.6 .5-23.7 .5-13.9 .5,13.8 .5,24 .5,17.3 .5,7.8 .5,4.7 .5,2.4 .5,1.4 .5-1.3 .5,2.8 .5,.1 .5,.5 .5-1.1 .5,3.5 .5-5.1 .5-2.1 .5,3.4 .5,5.7 .5,0 .5-6.3 .5-1.1 .5,5.1 .5-6.3 .5,6.1 .5-3.2 .5,.6 .5-.6 .5,.7 .5,.9 .5-.7 .5-.3 .5,.6 .5-.5 .5,4.6 .5-1.7 .5-4.4 .5,1.4 .5,1.4 .5-5 .5-.1 .5-5.4 .5-10.1 .5-18.1 .5-25.3 .5-15.3 .5,15.3 .5,24.6 .5,19.2 .5,11.1 .5,3.3 .5,4.6 .5-1.9 .5-.6 .5,1.7 .5,.4 .5,2.8 .5-3 .5,3.6 .5-2.3 .5-1 .5,.8 .5,.6 .5-.6 .5-2.2 .5,2.4 .5,2.2 .5-2.4 .5,2.3 .5-4.4 .5,1.8 .5-1.6 .5-1.2 .5-2.2 .5,2.4 .5,1.1 .5,1.4 .5-.6 .5-2 .5,2 .5-3.6 .5,7.1 .5-2.1 .5,1.3 .5-3.5 .5,3.8 .5-1.3 .5,.9 .5-2.9 .5,3.5 .5-1.5 .5,.6 .5-2.9 .5-3.3 .5,1.4 .5,4.2 .5-1.3 .5-1.4 .5,2.8 .5,.2 .5,.6 .5,.7 .5-3.4 .5,.9 .5,.8 .5,2.7 .5-1.1 .5-2.1 .5,3 .5-5.3 .5,2.3 .5-.6 .5,3.5 .5-5.2 .5,7.7 .5-8.3 .5,6.1 .5-3.4 .5-.2 .5,1.7 .5-1.4 .5,2.5 .5,1 .5-.8 .5-4.1 .5,2.6 .5,.2 .5-1.1 .5,2.1 .5-1.9 .5,.7 .5-.3 .5-1.6 .5-4.4 .5-1 .5,3 .5-1.8 .5,.8 .5-.2 .5,3.8 .5-3 .5-5.8 .5-6.6 .5-11.3 .5-5.9 .5,6.3 .5,10.6 .5,8.8 .5,4 .5,.4 .5-1.6 .5,2.2 .5,.7 .5,0 .5-.3 .5,2 .5,.4 .5-2.8 .5,2.8 .5-4.9 .5,.9 .5,3.5 .5-1.1 .5,.1 .5,.5 .5-.4 .5,.9 .5,.4 .5,1.8 .5-3.3 .5-.8 .5,2.3 .5,3.4 .5-2.8 .5-2.9 .5,5.5 .5-5.8 .5-.2 .5-.5 .5-4.8 .5-1.4 .5,1.8 .5,2.4 .5,3.6 .5,1.1 .5-.3 .5-3.7 .5,5.5 .5-1.2 .5-3.3 .5,1.6 .5-.7 .5,2 .5-4.5 .5-3.1 .5-1.4 .5,3 .5-.8 .5,5.6 .5,4 .5-1.5 .5-1.6 .5,4.2 .5-2.6 .5-1.4 .5,.3 .5,1.7 .5,1 .5-1.8 .5-3.6 .5,2.8 .5-.8 .5-.7 .5,1.5 .5-1.2 .5-2.1 .5-.9 .5-2.1 .5,2.8 .5-.2 .5,1.5 .5-1.3 .5,2.3 .5-.3 .5,2.8 .5-.5 .5,1.4 .5-.1 .5-2.9 .5-.5 .5,.5 .5,3.2 .5-6.2 .5,4.5 .5-5.8 .5,.8 .5-4.4 .5,0 .5,1.6 .5,4.5 .5,2.2 .5-.3 .5,3 .5-5.8 .5,1.9 .5-.9 .5,5.8 .5-5 .5-1.4 .5-2.2 .5-1.1 .5-5.8 .5-8.3 .5-6.5 .5,5.2 .5,9.9 .5,4.9 .5,5.4 .5,1.2 .5-.7 .5,.1 .5,.4 .5,2.8 .5-.4 .5-6.2 .5,6.9 .5-.6 .5,1.4 .5-.8 .5-1.4 .5-.4 .5-1.7 .5,3.1 .5-3.4 .5,3 .5,.2 .5-1.1 .5,.4 .5-4.1 .5,2.5 .5-.5 .5,1.3 .5-.7 .5-1.4 .5,.1 .5,1.7 .5-1.7 .5,3.1 .5,.3 .5,3.1 .5-2 .5-.4 .5-3.8 .5,1.7 .5-2.5 .5,4.1 .5-1.1 .5,1.2 .5,.7 .5-3.2 .5,1.4 .5-3.4 .5,1.6 .5,3.5 .5-2.9 .5,2.4 .5-.7 .5-4.9 .5,1.9 .5-3.6 .5-2.6 .5-2.3 .5,2.3 .5,3.6 .5,3.9 .5,.6 .5-1 .5,1.7 .5-3.3 .5,.7 .5,3.5 .5,.6 .5-4.5 .5,4 .5-2.3 .5-.6 .5,.6 .5,.7 .5,.8 .5,1.8 .5-3.1 .5,2 .5-2.6 .5,1.8 .5,0 .5-1.5 .5,1.2 .5,1.3 .5,2.7 .5-4 .5-2.4 .5,.1 .5,1.5 .5,2.4 .5-4 .5,7.5 .5-6.1 .5,3 .5-7.1 .5,7.6 .5-3.3 .5-.9 .5,1.4 .5,2.9 .5-2.8 .5,3.1 .5-1.5 .5,.2 .5-1.4 .5,3 .5-.7 .5-.9 .5-1.3 .5,1.6 .5-.2 .5-2.4 .5,3.4 .5-6.5 .5,3.8 .5,1.5 .5-.4 .5-1.4 .5-.1 .5,0 .5,3.1 .5-1.1 .5-4 .5,4.1 .5-.9 .5-4.5 .5,1.8 .5-1.9 .5-.1 .5,2.3 .5,.1 .5,3.7 .5-3.7 .5,.3 .5,1.8 .5-.9 .5-1.3 .5,4.2 .5,1.9 .5-6.7 .5,2.1 .5,.3 .5-2.2 .5-3.4 .5,1.4 .5-.6 .5,1.8 .5,1.5 .5,3.4 .5-4.8 .5,.7 .5-1 .5,3.4 .5,2.9 .5-.5 .5-3.9 .5,.6 .5,.8 .5,0 .5,.5 .5,1.8 .5-5.4 .5,1.2 .5-1.4 .5,4.4 .5-1.4 .5-1.1 .5,2.4 .5-2.9 .5,1.6 .5-1.3 .5,4.5 .5-2.7 .5,.9 .5-3 .5-1 .5-.2 .5,1 .5-2.8 .5-.1 .5,.3 .5-.1 .5-2.8 .5-1.3 .5-1 .5-.7 .5,1.1 .5,.5 .5,.9 .5,.1 .5,2.5 .5,.9 .5-.5 .5,1 .5-2.4 .5-.2 .5-6.4 .5-7.7 .5-4.5 .5,5.3 .5,6.9 .5,7.1 .5,1.7 .5,.3 .5,1.2 .5,5.6 .5-2.1 .5-3.1 .5,2.8 .5-3.9 .5,3.2 .5-2.1 .5-2 .5,2.8 .5-2.5 .5,3.4 .5-1.4 .5,1.3 .5,.1 .5,4.1 .5-4.1 .5,3.9 .5-4.4 .5-.1 .5,.7 .5,2.4 .5-1.8 .5,1.2 .5-.8 .5-3.3 .5,3.4 .5-3.9 .5,3.3 .5-2.7 .5,1.2 .5-5.3 .5-2.7 .5-1.8 .5,1.4 .5,6.1 .5,.2 .5,.6 .5,2.3 .5-.5 .5,3.1 .5-5.2 .5,3 .5-1.3 .5-.1 .5,2.4 .5-2.7 .5-1.5 .5,5.4 .5,0 .5-4.5 .5,1.4 .5,3.6 .5-7.7 .5,7.5 .5-2.1 .5,1.6 .5-1.9 .5,.9 .5,3.2 .5-2.8 .5-1.4 .5-4.3 .5,4.6 .5,.2 .5,.5 .5-2.8 .5,2 .5,0 .5-1.2 .5,1.1 .5-1 .5,1.3 .5-1.8 .5-.8 .5,1.8 .5,1.9 .5,1.4 .5-4.1 .5,4 .5,.5 .5-8.2 .5,3.6 .5,3.9 .5-4.3 .5,4.7 .5-1.9 .5-3.3 .5,3 .5,1.4 .5-2 .5,.6 .5,2.1 .5-3.4 .5,2.5 .5-6.5 .5,.7 .5,7.2 .5-3.9 .5-1.7 .5,4.4 .5-.9 .5-1.6 .5,1.7 .5-1 .5-4.5 .5,4.8 .5-.2 .5-.3 .5-1.2 .5,1 .5,.7 .5,.2 .5-5.7 .5,4.9 .5-2.1 .5,4.9 .5-4.3 .5,1 .5,1.1 .5-1 .5-.5 .5-1.9 .5,3.8 .5-2.5 .5,1.4 .5,3.1 .5-1.4 .5,.4 .5-3.2 .5-.5 .5,2 .5-3.1 .5,1.9 .5-1.4 .5-.8 .5,0 .5-1.4 .5,.3 .5-1.8 .5-.2 .5-.3 .5,1.7 .5-1.7 .5,1.9 .5,1.4 .5-.3 .5,1.6 .5,.6 .5-1.5 .5,3.6 .5-1.6 .5,2.8 .5-.1 .5-.3 .5-1.4 .5-2.2 .5,5.4 .5-3.3 .5-4.5 .5,8.1 .5-1.1 .5-2.9 .5-1.7 .5,.1 .5-.3 .5,1.1 .5,.5 .5,.3 .5-.2 .5,.9 .5-1.9 .5,.5 .5,2.9 .5-1 .5-1.8 .5,.1 .5-1.2 .5,5.2 .5-1.8 .5-1.8 .5-1.2 .5,3.2 .5-.6 .5-.2 .5,1.3 .5-2 .5-.6 .5-1.6 .5,1.4 .5-2.8 .5,5 .5-2.2 .5,2.9 .5-6 .5,3.7 .5,5.3 .5-5.5 .5,.8 .5,1.4 .5,2.2 .5-7.6 .5,1.6 .5,1.2 .5-.2 .5,.3 .5,3.4 .5-5 .5,.7 .5,1.6 .5-1 .5-.4 .5-1.2 .5,2.7 .5,1.9 .5-3.4 .5,.8 .5-1.2 .5-.4 .5,1.2 .5,2.5 .5-3.1 .5-.7 .5,5.7 .5-4.2 .5,1.3 .5-3.6 .5,2.4 .5,3.6 .5-2.4 .5-3.8 .5,.4 .5,3.5 .5-4.8 .5,2.8 .5,1.4 .5-.2 .5,1.8 .5,3.6 .5-5.5 .5,0 .5-1.5 .5,2.7 .5,3.1 .5-3 .5-.2 .5-.7 .5,.5 .5,1 .5-1 .5,.3 .5,1.3 .5-1 .5-3 .5-.2 .5,3.5 .5-.7 .5-1.3 .5,3.2 .5,.6 .5-2.5 .5,3 .5-5.4 .5-.5 .5,.7 .5,1 .5-2.8 .5,3.8 .5-.7 .5-.3 .5,1.2 .5-1.7 .5,1.6 .5,1 .5,1.3 .5-5.1 .5,3.6 .5-.4 .5-2.2 .5,0 .5,2.9 .5,.2 .5-.5 .5-.5 .5,0 .5-1.4 .5-.9 .5,1.6 .5,4.1 .5-9.1 .5,1 .5,2.5 .5,3.2 .5-1.4 .5-3.4 .5,4.3 .5-1.7 .5,2 .5-6.4 .5,6.6 .5-1.2 .5-3.6 .5,.7 .5,2.5 .5,.3 .5-.4 .5-4.1 .5,4.8 .5,.4 .5-1.2 .5,.1 .5,0 .5-.3 .5-.6 .5-.1 .5-.4 .5-.2 .5,4.4 .5-1.1 .5-1.4 .5-2.7 .5,6.1 .5-3.4 .5,2.8 .5-5 .5,1.4 .5,3.9 .5-6.8 .5,3.2 .5,1.6 .5,1.6 .5-3.3 .5,3.5 .5-3.2 .5,3.7 .5-2.4 .5-4.6 .5,6.1 .5-1 .5-.5 .5,3.7 .5-5.2 .5,0 .5-.7 .5-.4 .5-.3 .5,5 .5-3.4 .5,.1 .5-2 .5,3 .5-.8 .5,2.8 .5,.5 .5-1.4 .5-5.9 .5,4.2 .5,.8 .5,2.1 .5-1.2 .5-4.1 .5-1.2 .5,1.8 .5-.9 .5,2.9 .5-4.8 .5,3.1 .5-3.9 .5,2.2 .5,2.8 .5,0 .5,.3 .5-1 .5,2.9 .5-4.6 .5,3.1 .5-3.8 .5,3.7 .5,.2 .5-.6 .5,1.9 .5-4.1 .5,3.8 .5-3.3 .5-1.4 .5,2.7 .5,4.8 .5-6.1 .5,.4 .5-.3 .5,4.9 .5-3.4 .5,1.6 .5-2.9 .5-.3 .5,1.2 .5,.2 .5,1.8 .5-2.7 .5,1 .5-3 .5,.1 .5,.9 .5,1.7 .5-.2 .5,.1 .5,0 .5-.5 .5,2.4 .5,.8 .5-2.6 .5,.9 .5,.1 .5-4.6 .5,2.9 .5,.2 .5,2.5 .5-2.6 .5-2.2 .5,6.6 .5-3.6 .5-2.3 .5,1.5 .5,.7 .5-2.7 .5,4.9 .5-2.4 .5-1.2 .5,2.2 .5-.6 .5,2 .5,.1 .5-1.2 .5-.6 .5-3.9 .5,4.2 .5-2.4 .5,.6 .5-.4 .5,3.9 .5-2.4 .5,1.7 .5,0 .5,.1 .5,1 .5-1.2 .5-2.8 .5-2 .5,3.2 .5-3.2 .5,4.1 .5-1.3 .5-3.3 .5,6.9 .5-3.1 .5,5 .5-4.2 .5-1.8 .5,1.1 .5,.5 .5,0 .5,0 .5,.3 .5-4.7 .5,1.5 .5,1.8 .5,2.3 .5-3.7 .5,1.7 .5,1.5 .5-2.4 .5,3.9 .5-3.4 .5-.7 .5,2.1 .5-1.2 .5,.4 .5-.7 .5-2.1 .5,6.7 .5-2.7 .5-1.2 .5,2.7 .5-2.8 .5-1.7 .5,5.6 .5-3.4 .5,.6 .5,1.2 .5-1.7 .5-4.2 .5,8.7 .5-.9 .5-3.7 .5,3 .5-1.2 .5-2 .5-.5 .5-.7 .5-.5 .5,2.1 .5-2.7 .5,3 .5-4.3 .5,6.8 .5-2.3 .5-2.2 .5,3 .5,2.7 .5-3.8 .5,.7 .5-2.3 .5,5.3 .5-1.7 .5-5.9 .5,2.9 .5,1.5 .5,1.1 .5-5.4 .5,2.9 .5-3 .5,3.4 .5,.7 .5-3.6 .5,3 .5,.3 .5-.5 .5,1.9 .5-1.9 .5,2.6 .5-1.6 .5-1.9 .5,4.1 .5,.6 .5-6.1 .5,.7 .5,2.5 .5-1.5 .5,.2 .5,1.1 .5-.1 .5,2.2 .5-1.5 .5-.6 .5-.4 .5,1 .5-.6 .5-2.3 .5,.3 .5,.7 .5,.7 .5,1.1 .5-1 .5-1.9 .5-1.6 .5,3 .5-1.9 .5,.9 .5,2.9 .5-.8 .5-.2 .5-.1 .5,1 .5-2.5 .5-.3 .5-1.3 .5,3 .5,.6 .5,.7 .5-.3 .5-2.3 .5,1.2 .5-4.2 .5,1.5 .5-2.7 .5,2.3 .5,.3 .5,1.5 .5,1.1 .5-3.4 .5,3.5 .5-.8 .5-1.3 .5,2.3 .5-.6 .5,.8 .5,.7 .5-2.7 .5,1.4 .5,1.9 .5-1.3 .5,.1 .5,2.1 .5-6.8 .5,7.1 .5,1.5 .5-5.5 .5,4.2 .5-2.2 .5-2.5 .5,.9 .5,3.1 .5-2.7 .5-1 .5,.2 .5,5 .5-6.8 .5,5.8 .5-5.9 .5,6.1 .5-.1 .5-4.6 .5,2.4 .5,0 .5-.4 .5,3.1 .5-5 .5-3.3 .5,3.2 .5-.1 .5,3.8 .5-3.6 .5,.5 .5,3.4 .5-4.3 .5-2.5 .5,3.3 .5-.3 .5,2.8 .5-1.3 .5,.4 .5-2.7 .5,1.1 .5,.7 .5,1.6 .5,.9 .5-1.8 .5,2.5 .5-6.2 .5,1.8 .5,5.5 .5-4.2 .5,4.5 .5-4.9 .5-.4 .5,.4 .5,1.4 .5-3 .5,4.2 .5-2.5 .5-.1 .5,1.1 .5-.5 .5,3.1 .5-2.8 .5,2.4 .5-4.7 .5,4.6 .5-2.3 .5,.5 .5-.1 .5-1 .5,2.1 .5-2.5 .5-.8 .5,2.5 .5-.4 .5-.8 .5,.9 .5,.9 .5,.1 .5-2.8 .5-.3 .5-.8 .5,.5 .5,1.7 .5-.1 .5-.4 .5,2 .5,.2 .5,.2 .5-.9 .5-1.7 .5,2.6 .5,.5 .5-3.4 .5,3.7 .5-3.1 .5-.6 .5,.5 .5-.2 .5,2.3 .5-1.7 .5,2.4 .5-2.9 .5,1.9 .5-2.5 .5-.4 .5,3.5 .5-.7 .5,.8 .5-6.6 .5,1.3 .5,2.4 .5,4 .5-2.7 .5-1.9 .5,.7 .5,1.1 .5,.8 .5-1.6 .5-.1 .5-2.5 .5,3 .5,3.5 .5-5.2 .5,2.6 .5-3.5 .5,5.1 .5-1.5 .5-1.6 .5,5 .5-6 .5-.5 .5,2.1 .5,1.2 .5,2.1 .5-2.5 .5-1.3 .5-.1 .5,3.9 .5-4.3 .5,2.6 .5-2.7 .5,2.9 .5-1 .5-3.3 .5,1.9 .5-.4 .5,1.1 .5,2.1 .5-3.4 .5,2.5 .5-3.6 .5,4.8 .5-3.7 .5,2 .5-.8 .5-.8 .5-2.6 .5,3.1 .5,1.1 .5,1.9 .5-1.2 .5,1.4 .5-4.7 .5,.9 .5-1.3 .5,2.6 .5,.4 .5,.8 .5,.4 .5-.5 .5-4.1 .5,5.7 .5-6.6 .5,3.5 .5,.5 .5-1.4 .5,1.5 .5,3.3 .5-5.1 .5,3.2 .5,.7 .5-1 .5,.1 .5-.7 .5,.4 .5-2.1 .5-.8 .5,4.3 .5-2 .5,.3 .5-.9 .5,.2 .5,.6 .5-1.9 .5,3 .5-2.5 .5,1.3 .5-1.9 .5,1.6 .5-2.3 .5,2.7 .5,1.1 .5-2.3 .5-1.2 .5,2.7 .5-.4 .5,.3 .5,.4 .5,.2 .5,.9 .5-4.4 .5,4.7 .5-5.7 .5,1.2 .5,.4 .5,.4 .5,1.1 .5,.9 .5,.3 .5-2.3 .5-1.7 .5,3.6 .5-.2 .5,1.4 .5-3.5 .5,4.2 .5-3.3 .5,0 .5-1.2 .5-2.1 .5,2.4 .5,.3 .5,3.8 .5-3.2 .5,2 .5-.8 .5-1.3 .5-.4 .5-1.1 .5,1.9 .5-2.4 .5,4 .5-2.8 .5,.9 .5-3.8 .5,2.9 .5,4.4 .5-3 .5,.1 .5,.2 .5,1.4 .5-4.1 .5,3 .5,1.7 .5-2.7 .5,3.4 .5-3.3 .5,2.5 .5-2.6 .5-.1 .5,1.3 .5-2.8 .5,2.9 .5-2.1 .5,4.5 .5-5 .5,.1 .5,5.9 .5-1.8 .5-2 .5,2.9 .5-4.2 .5,3.2 .5-1.4 .5,2.1 .5-2.4 .5,0 .5-4.9 .5,1.8 .5,0 .5-1 .5,.4 .5,4.8 .5-5.3 .5,1.6 .5,1.5 .5,1.3 .5,.5 .5,.2 .5-3.7 .5,2.7 .5-1 .5,1.7 .5-2.6 .5,2.3 .5-3 .5-.4 .5,3.6 .5-.9 .5,1.5 .5-2.7 .5,5.3 .5-5.5 .5-1.9 .5,3.5 .5,2.1 .5-2.4 .5,1.9 .5-2.4 .5-2.7 .5,1 .5,2.1 .5,3 .5-3.8 .5,1.5 .5-2.6 .5,1.7 .5,2.1 .5-1 .5,3.7 .5-3.9 .5,1.1 .5,1.5 .5-2.7 .5,.8 .5,2.6 .5-3.9 .5,1.6 .5-2.8 .5,.3 .5-1 .5-.5 .5,.4 .5,.7 .5,3.3 .5-4.7 .5,1.4 .5,.9 .5,1.8 .5,.5 .5-.1 .5,.4 .5,.7 .5-3 .5,1.5 .5-1.2 .5,2.8 .5-6.8 .5,4.3 .5,1.5 .5-2.6 .5,3.4 .5-2 .5-.4 .5-.5 .5,2.2 .5-.1 .5-1.4 .5-2.4 .5,1.8 .5,1.7 .5-.4 .5-3.2 .5,.8 .5,2.1 .5-.8 .5-1.7 .5,3 .5,2.5 .5-4.7 .5-1.9" fill="none" stroke="#F14040" stroke-width="2.4" stroke-linejoin="round"/>
<path d="M132.2,235.1l1,.2 1,.4 1-.2 1-.2 1-1.4 1,.5 1,0 1-.7 1,0 1-1 1,.8 1-.8 1-1 1,1.4 1-.7 1-.8 1,.3 1-.1 1-.8 1,0 1-.2 1,1 1-1.7 1,.2 1,.2 1-.6 1,.8 1-.9 1,0 1-.6 1-.8 1,1.1 1-.5 1,.3 1-.9 1,.1 1-.3 1,0 1,.1 1,.5 1-.9 1,.7 1-1.6 1,1.2 1-1.2 1,1.9 1-.3 1-.6 1-.7 1,.1 1,0 1,.3 1-.5 1-.3 1,1 1-.2 1,.5 1-.5 1,.4 1,.1 1,.2 1-.6 1,.8 1,.4 1-.5 1,.4 1-.1 1-.3 1,1.1 1-.1 1-.5 1-.6 1,1.7 1,0 1,.2 1,.1 1-.1 1,.1 1,.6 1,.5 1-.7 1,1.1 1-.6 1,.7 1-.1 1-.1 1,1.5 1,.1 1-.6 1,.6 1-.2 1,.3 1,.9 1,0 1,.3 1,.7 1-1.3 1,.8 1,.5 1,.6 1-.3 1-.2 1,1.1 1-.8 1,.7 1-.5 1,.9 1,.4 1-.7 1,.7 1,1.1 1-.3 1,.8 1-.2 1,0 1,.1 1-.1 1,1 1-1.1 1,.8 1-.1 1,.4 1,.6 1-.5 1,.7 1-.7 1,.5 1-.3 1,.9 1-.2 1,.5 1,.4 1-1 1,.2 1,.9 1,.1 1-1.6 1,1.8 1,.4 1-1.1 1,.5 1-1.1 1,2.7 1-.8 1-.6 1,.6 1-.4 1-.3 1,1.1 1-.7 1,.6 1-.7 1,.1 1,0 1,.4 1,.3 1,.3 1-.6 1-.2 1,1.2 1-.4 1,0 1-.3 1-.6 1,.5 1,.2 1,.2 1-.2 1,.3 1,.2 1-.5 1-1.1 1,1.2 1-.7 1,.1 1-.2 1,.4 1,.6 1-.5 1-.8 1,1.5 1-1.5 1,1.2 1-.3 1,0 1-.2 1-.2 1-1.3 1,2.2 1-.7 1-.2 1,.2 1-.6 1,.5 1-1.5 1-1.8 1,2 1,1 1,1.1 1-.8 1,.7 1-.9 1-.8 1,1.5 1-.2 1,.3 1-.7 1-.8 1,1.4 1-.5 1,.4 1-1.1 1,.9 1,0 1-.1 1-1.1 1,.6 1-.3 1,1 1-.8 1,.5 1-.4 1,.2 1-.2 1,.5 1-.3 1-.2 1,.1 1-1.1 1,1.4 1,.4 1,0 1-.4 1,.4 1-1 1,.5 1,.1 1-.4 1-.4 1,.8 1,0 1-.4 1-.3 1,.3 1-.1 1-.8 1,.2 1-.1 1,0 1,.3 1,.4 1,.5 1-1.2 1,.1 1,.3 1,.3 1-.8 1,.8 1-1.2 1,.3 1,.1 1,.4 1-.6 1,.2 1-.3 1-.3 1-1.4 1-1.6 1,1.5 1,1.3 1,.4 1-.2 1,.3 1-.7 1,.4 1-.6 1,.6 1,.1 1-1.3 1,.6 1,.3 1-.5 1,1 1-.7 1,0 1,.7 1-1.1 1,.4 1,0 1-1.1 1,.2 1,.1 1-.6 1,1.2 1-1 1,.7 1,0 1-.6 1,.2 1,.6 1-.1 1-.2 1-.4 1,.4 1-.7 1,.4 1-.2 1-1 1,.9 1,1.2 1-.6 1-.2 1-.7 1-.5 1,1.6 1-.9 1,.1 1-.1 1-.6 1,.6 1-.3 1,1 1-.3 1-.7 1-2.2 1,0 1,1.6 1,1.3 1-.1 1-.3 1-.4 1,.3 1,1.4 1-1.2 1,0 1,1.3 1-1.1 1,.8 1-.2 1-.1 1-.4 1,.6 1-.2 1-.2 1,.9 1-1 1,0 1-.2 1-2.2 1,.1 1,2.1 1,.6 1-.2 1,.5 1-.3 1,.5 1-.2 1,.2 1-.5 1-.3 1,1.3 1-1.2 1,1.2 1-.2 1,.3 1-1.2 1,2 1-.8 1-.6 1,.2 1,1.2 1-.9 1,.2 1-.2 1,0 1-1 1,1.9 1-1.4 1,2 1,.1 1-2.4 1,2.3 1-1.7 1,1.3 1-.6 1,.6 1-1 1,.6 1-.3 1,0 1,.1 1,.8 1-.6 1,.1 1,0 1-.9 1-.1 1,1 1,0 1,.3 1-.1 1,.5 1,.4 1-1.5 1-.3 1,1.1 1-.6 1,1.1 1-.2 1-.1 1-.7 1,1.2 1-.8 1,.5 1-.4 1,.5 1-1.2 1,1.8 1-1 1-.1 1-.2 1,.1 1,.4 1-.6 1,.1 1,.7 1-.3 1-.2 1,.3 1-1.8 1-1.5 1,1.5 1,1.7 1,.2 1,.4 1-1.1 1,.7 1-.1 1-.4 1,.9 1,.4 1-.3 1,.3 1-1.3 1,.1 1,1 1-.7 1,.2 1-.2 1,1.8 1-1.3 1-.2 1-.3 1,1.2 1,0 1-.8 1,.2 1,.9 1-.3 1-.7 1,1.3 1-.3 1-.8 1,.8 1-.5 1-.7 1,1.3 1,0 1-.3 1-.3 1,.8 1-.2 1-.6 1,.6 1-.4 1,.9 1-.9 1,.8 1-.4 1-.8 1,.1 1-.4 1,.4 1,1.3 1-.9 1-.2 1-.8 1,1.3 1,0 1,0 1-.4 1-.4 1,.5 1,.6 1-.5 1,.1 1-.1 1-.1 1-.7 1,.4 1-.7 1,.8 1-.4 1,.7 1-.4 1,.6 1-.1 1-.1 1,0 1,.4 1-.1 1-.8 1,1 1,1 1-1.5 1,.3 1-1.2 1,.7 1,.6 1-.1 1,.8 1-.7 1-.4 1-.3 1,.5 1,.7 1-.6 1-.4 1-.7 1,1.5 1-.3 1-.1 1,.5 1,.2 1,.3 1-.2 1-.4 1-.9 1,.6 1-.1 1-.6 1,1.2 1,.2 1-1.4 1,1 1,0 1-.4 1,.1 1,.3 1-.3 1-1 1,1.3 1,.1 1-.1 1-.4 1,.1 1-.3 1,.4 1,.4 1-.8 1-.3 1-1.9 1,0 1,1.9 1-.2 1,.2 1,1.4 1-.1 1,.1 1-1 1,1.5 1-.3 1-1 1-.1 1,.5 1-.4 1,.1 1,1.1 1-.7 1-.8 1,.9 1,0 1-.2 1,.5 1-.7 1,.4 1-.5 1-.1 1,1 1,.1 1-.8 1,.1 1,.4 1,.4 1-1 1-.3 1,.5 1-.2 1,1.4 1-1.6 1,1.1 1-1.1 1,1.4 1-.4 1-.8 1,.1 1,1.3 1-1.1 1,.1 1-.3 1,.7 1,.2 1-1.4 1,.3 1,.7 1-.3 1,.4 1,.7 1-.6 1-.3 1-.4 1,.1 1-.6 1,1.4 1-.1 1-.8 1,1 1-1.7 1,1.1 1-.6 1,1.3 1-.8 1,.1 1-.2 1-.3 1,.5 1-.5 1,1.2 1-1.1 1,.2 1,.3 1-.3 1,.4 1,.1 1-.5 1-.9 1,.8 1-.1 1,.4 1,.7 1-1.4 1,.6 1,.1 1,.4 1-.2 1,.4 1-.6 1,1.3 1-.8 1,.1 1,.1 1-1 1,.6 1-.1 1,.3 1-1.2 1,.7 1,.4 1-.1 1,0 1-.3 1-.2 1-.1 1,.7 1,.2 1-.3 1-.2 1,0 1-.6 1-1.2 1-2.3 1,2.4 1,.8 1-2 1-2.1 1,2.6 1,2.1 1,.2 1,.1 1,.9 1-.5 1-.6 1,.3 1,.6 1-.7 1,.2 1-.4 1,1.5 1-.3 1-.9 1,.6 1-.9 1,.6 1-.5 1,.9 1,0 1-.3 1,.9 1-.5 1-.2 1-.2 1-.5 1,.3 1-.2 1-.2 1-.2 1,.2 1,.8 1-.6 1,.1 1-1.1 1,1.2 1,0 1,.6 1-.9 1,.3 1,.2 1,0 1-.8 1,0 1,.9 1-.2 1-.1 1,.8 1-.6 1-.4 1,.2 1,1 1-2.2 1,1.9 1,.1 1,.5 1-.9 1-.3 1,.8 1-.4 1-.8 1,1.1 1,.4 1-1.2 1,.4 1-.1 1,0 1-.6 1,1.6 1-.8 1,.4 1-.8 1,0 1,.2 1,.2 1-.9 1,1.8 1-.8 1,0 1,.4 1-1 1,.7 1-.8 1-.6 1,1.9 1-.9 1-.4 1,0 1-1 1,1 1,.9 1,.2 1-.8 1,1.2 1-1.6 1,.7 1-.5 1,.3 1,.3 1,.1 1-1.9 1-2 1,1.7 1,.7 1-2.3 1-2.5 1,2.6 1,3.4 1-.5 1,.2 1-.6 1,1.4 1-.4 1,.5 1-.5 1,.7 1,.3 1-1 1,.3 1-.4 1-.1 1,.8 1-.2 1,.3 1-.7 1-1.1 1,1.6 1-.4 1-.1 1-.5 1,.9 1-.5 1,.2 1-.1 1,.2 1,.2 1-.6 1,.6 1-.5 1,.5 1-.6 1,0 1,.5 1-.4 1-.1 1-.6 1,1.9 1-.6 1-.2 1-1 1,1.7 1-.1 1-.6 1-.5 1,1.6 1-2.3 1,1.1 1,.4 1,1 1-.9 1-.9 1,1.6 1-.7 1-.5 1,.8 1-.1 1-.7 1-.3 1,0 1,.6 1-.6 1,1.2 1-1 1-1.2 1,.9 1,0 1,.4 1-.1 1,.4 1-.3 1,.4 1-.4 1,1.2 1-1.1 1,1 1-.7 1-.1 1-.4 1-.3 1-.1 1,.3 1,1.2 1-.8 1-.7 1,1.4 1-.9 1-.4 1,1.2 1-.2 1-1.4 1,.4 1,0 1,.5 1,.7 1,.4 1-2 1,1.3 1,.2 1-.9 1,.2 1,0 1,.6 1-.5 1,0 1-1 1,1.5 1,0 1-.6 1,0 1,.3 1,.3 1-.7 1,.3 1-.1 1,.7 1-.2 1-.2 1,0 1,0 1-.5 1,.5 1,.5 1-.2 1-.9 1,.4 1-.5 1,1 1-.2 1,.2 1-.6 1-.1 1,.8 1-.1 1-1.2 1,1.8 1-1.1 1-.2 1,.4 1,0 1-.4 1,.9 1-1 1,.4 1,1.2 1-2.1 1,1.2" fill="none" stroke="#1A6FDF" stroke-width="7.2" stroke-linejoin="round"/>
<path d="M325.2,242.4 L325.7,242.1 L326.2,241.3 L326.7,239.7 L327.2,236.6 L327.7,232.6 L328.2,230.2 L328.7,232.6 L329.2,236.6 L329.7,239.6 L330.2,241.3 L330.7,242.0 L331.2,242.3 M392.2,241.0 L392.7,240.9 L393.2,240.8 L393.7,240.6 L394.2,240.4 L394.7,240.2 L395.2,239.9 L395.7,239.5 L396.2,238.9 L396.7,238.1 L397.2,236.6 L397.7,233.5 L398.2,226.8 L398.7,213.7 L399.2,193.0 L399.7,167.7 L400.2,153.8 L400.7,167.7 L401.2,192.8 L401.7,213.6 L402.2,226.5 L402.7,233.2 L403.2,236.3 L403.7,237.7 L404.2,238.5 L404.7,239.0 L405.2,239.3 L405.7,239.6 L406.2,239.8 L406.7,239.9 L407.2,240.0 L407.7,240.1 L408.2,240.2 M454.7,238.7 L455.2,238.4 L455.7,237.8 L456.2,236.4 L456.7,234.0 L457.2,230.7 L457.7,228.7 L458.2,230.7 L458.7,234.0 L459.2,236.5 L459.7,237.9 L460.2,238.5 L460.7,238.8 M478.7,239.4 L479.2,239.1 L479.7,238.5 L480.2,237.1 L480.7,234.6 L481.2,231.2 L481.7,229.2 L482.2,231.2 L482.7,234.7 L483.2,237.3 L483.7,238.7 L484.2,239.3 L484.7,239.6 M560.2,242.1 L560.7,241.8 L561.2,241.3 L561.7,240.0 L562.2,237.7 L562.7,234.6 L563.2,232.7 L563.7,234.6 L564.2,237.7 L564.7,240.1 L565.2,241.4 L565.7,242.0 L566.2,242.2 M691.7,244.0 L692.2,243.7 L692.7,243.1 L693.2,241.7 L693.7,239.3 L694.2,236.0 L694.7,234.0 L695.2,236.0 L695.7,239.3 L696.2,241.8 L696.7,243.1 L697.2,243.7 L697.7,244.0 M917.2,245.3 L917.7,245.0 L918.2,244.4 L918.7,243.0 L919.2,240.4 L919.7,237.0 L920.2,234.9 L920.7,236.9 L921.2,240.3 L921.7,242.6 L922.2,243.7 L922.7,243.5 L923.2,242.3" fill="#1A6FDF" stroke="#1A6FDF" stroke-width="3.0" stroke-linejoin="round" stroke-linecap="round"/>
<path d="M132.2,239.7l.5-9.6 .5,2.6 .5,2.7 .5,5.6 .5-10.5 .5,6 .5-2 .5,.8 .5-2.9 .5,.2 .5,1.5 .5,.4 .5-5.6 .5,4.5 .5,.8 .5,3.2 .5-5.8 .5,8.5 .5-14.5 .5,.6 .5,3.2 .5,3 .5,5.5 .5-3.4 .5,0 .5-1.6 .5-4.8 .5,11.8 .5-4 .5-6.6 .5,2.2 .5,.3 .5,3.6 .5-.3 .5,0 .5-4.7 .5,4.1 .5-2.1 .5-3.4 .5,3.1 .5-2 .5,.3 .5,2.5 .5-5.2 .5,12.4 .5-6.6 .5-1.4 .5,2.7 .5-4.7 .5,5.8 .5-15.7 .5,10.9 .5-3.5 .5-4.3 .5,11.5 .5-.4 .5-6.1 .5,7.1 .5,2.8 .5-10.6 .5,4.2 .5-.8 .5-5.9 .5,.1 .5,6.6 .5-10.6 .5,5.4 .5,3.1 .5,.4 .5-4.2 .5,2.4 .5,3.8 .5-1.8 .5,2.6 .5-1 .5-1.1 .5-6.3 .5,2.8 .5,0 .5,3.9 .5-5.3 .5-2.8 .5,3.5 .5-5.1 .5,5.3 .5,8.9 .5-14.6 .5,13.2 .5-12 .5,2.5 .5,2.8 .5-.5 .5,.1 .5,2.8 .5,2.5 .5,2.1 .5-8.9 .5-2.8 .5-3.1 .5,6.9 .5-3 .5,2.8 .5-7.9 .5,13.3 .5,.2 .5-2.9 .5,1.2 .5-8.6 .5,7.3 .5-.5 .5-4.3 .5,8.5 .5-8.6 .5,2.1 .5,5.3 .5-4.8 .5,4.5 .5-3.8 .5-3.9 .5,2.3 .5-2.2 .5,2.1 .5,1.7 .5,2.7 .5,1.7 .5-8.9 .5,4.6 .5,.4 .5,4.4 .5-1.2 .5-2.1 .5-4 .5,3.5 .5-4.2 .5-1.2 .5,8.2 .5-4.7 .5-1.1 .5,7.1 .5-3.3 .5,9.7 .5-2.3 .5-3.2 .5-4.3 .5-1.7 .5,11.7 .5-10 .5-7.5 .5,8.2 .5,.9 .5,1.3 .5-9.5 .5,16.6 .5-7.6 .5,1.8 .5,.8 .5-1.5 .5,2.8 .5-3 .5,5.7 .5-8.5 .5-1.6 .5,.6 .5,6.3 .5,.3 .5-6.3 .5-.2 .5,2.7 .5,1.6 .5-1.8 .5,7.5 .5-8.3 .5,2.1 .5-2.2 .5,2.8 .5,1.2 .5-1.7 .5,.6 .5-4.5 .5,7.8 .5-4.2 .5,.5 .5-.5 .5,5.1 .5,.9 .5-2.2 .5-4.5 .5,5.4 .5-5 .5,1.7 .5-3.3 .5,2.1 .5,7.2 .5-5 .5-1.7 .5,7.1 .5-5.3 .5,2.4 .5-7.4 .5-.5 .5-.6 .5,7.4 .5-7.7 .5,9.6 .5,3.1 .5-4.5 .5-1.3 .5,3.4 .5-5.1 .5,8.9 .5-4.7 .5,2 .5-3.9 .5,7 .5-1.4 .5-4.9 .5,4.5 .5-2.4 .5-1.9 .5-2.9 .5,3.8 .5-5.6 .5,11.3 .5-8.1 .5,10.8 .5-14.4 .5-.9 .5,.6 .5,11.5 .5-9.2 .5,8.9 .5-4.5 .5-1.9 .5,2.9 .5,2.3 .5,1.8 .5,1.4 .5-7.8 .5,6.9 .5-2.9 .5,.9 .5,3.3 .5-4.8 .5,2.3 .5,2.7 .5-11.3 .5,3.5 .5-2.2 .5-3 .5,7.4 .5,5.2 .5-2.8 .5-3.2 .5,6.4 .5-.3 .5,2.4 .5,.3 .5-6.1 .5-1.9 .5,.9 .5,3.8 .5-11.4 .5,6.7 .5,4.4 .5-4.6 .5-.3 .5,1.6 .5-1.6 .5-2.7 .5,3.9 .5,1.9 .5,3.9 .5,1.3 .5-5.3 .5-2.3 .5-5.2 .5,11.7 .5-4.7 .5,1.8 .5,.8 .5-1.2 .5-1.5 .5,.4 .5,2.9 .5-8.2 .5,6.2 .5,.4 .5,6.2 .5-9 .5-.6 .5,2.3 .5,2.3 .5-6.3 .5,7 .5-1 .5-7.5 .5-.1 .5,9.8 .5-3.9 .5,5.5 .5-6.4 .5-5.3 .5,4.9 .5-1.3 .5,4.6 .5-2.9 .5-5 .5,.5 .5,4.8 .5,5.8 .5-4.7 .5,3 .5-10.2 .5,7.6 .5-.3 .5,1.7 .5-2.6 .5-7.1 .5,5.8 .5,1 .5,3.2 .5-2.3 .5,1.4 .5-3.3 .5,3.6 .5-1.1 .5,.2 .5-1.7 .5,1.3 .5,.8 .5-.4 .5-8.1 .5,6.6 .5,3.2 .5-.4 .5-4.2 .5,3.6 .5-3 .5,3 .5-3.7 .5,2.9 .5-3.7 .5,2.9 .5,.6 .5,.2 .5,.4 .5,4 .5-6.2 .5,2.9 .5-2.7 .5,3.2 .5-.8 .5-3.8 .5,4.3 .5-1 .5-1.5 .5-.1 .5,4.4 .5-3.5 .5-.5 .5,2.4 .5-1.1 .5,.8 .5,.5 .5-6.5 .5,4.8 .5,2.8 .5-2 .5,1.4 .5-.6 .5,2.7 .5-4.7 .5-.2 .5-7.2 .5,9.9 .5,1.5 .5-4.6 .5-.3 .5,3.6 .5-6.6 .5,2 .5-2.4 .5,9.1 .5-3.7 .5-4.5 .5,4.8 .5-2.2 .5-.1 .5,1.3 .5-7.7 .5-1.2 .5-5.6 .5,3.2 .5,4.4 .5,1.7 .5,1.7 .5,4.9 .5-3.7 .5,2.5 .5-1.4 .5,1.5 .5-.8 .5-2.5 .5,3.1 .5,1.4 .5-1.4 .5,3.8 .5-1 .5-8.3 .5,.6 .5-3.1 .5,3.3 .5,4.1 .5-4.3 .5-1.2 .5,2.3 .5,5.7 .5-5 .5,1.6 .5,3.2 .5-5.2 .5-.3 .5-.3 .5,6.2 .5-.8 .5-.8 .5-2.9 .5,3.2 .5-1.1 .5-3.2 .5,9.6 .5-6.1 .5,.1 .5,1.6 .5-.9 .5,2 .5-5.1 .5,3.2 .5-5.6 .5,4.1 .5,5.5 .5-3.3 .5,3.5 .5-7.7 .5-.7 .5,3.4 .5-5.4 .5,5.3 .5,1.2 .5-2.8 .5,1.5 .5-3 .5,3 .5-.5 .5,1 .5-5.5 .5-1.3 .5,.8 .5,3.7 .5,.3 .5,3.2 .5-3.5 .5-.6 .5,6.9 .5-9.1 .5,2.2 .5,2.1 .5,.8 .5,.8 .5-1.2 .5-1.8 .5-1.6 .5,6.6 .5-5 .5,3.6 .5-6.7 .5,1.3 .5,2 .5,6.8 .5-2.5 .5-1 .5-8.4 .5,8.5 .5-3.1 .5,.9 .5,1.5 .5-5.5 .5,3 .5-1.3 .5-2 .5,2.5 .5,1.2 .5-4.5 .5,2.1 .5,4.3 .5-3.3 .5,2.4 .5-.1 .5-1.1 .5,.3 .5-.1 .5-1 .5,2.7 .5-2.1 .5-3.7 .5,1.6 .5-3.4 .5,4.4 .5-2 .5,3.5 .5-5.8 .5,7.8 .5-4.4 .5-4.2 .5,9.5 .5-4.9 .5-1.6 .5,1.9 .5-6 .5,4.7 .5-.8 .5,.3 .5,4.8 .5,0 .5,1.8 .5-6.9 .5,.1 .5-1.3 .5,.7 .5-1 .5-4.8 .5-4.2 .5-14.7 .5-20.6 .5-25.6 .5-13.6 .5,13.9 .5,24.8 .5,21.6 .5,12.3 .5,5 .5,2.7 .5,3.7 .5,1.1 .5-.1 .5,2.9 .5-.1 .5,1.8 .5-5.7 .5,1.1 .5,6.8 .5-5.1 .5-2.6 .5,2 .5,3.9 .5-5.7 .5,3.9 .5-6.3 .5,4.1 .5-2 .5,1.4 .5-.9 .5,2 .5-3.7 .5,3.4 .5-1 .5,2.3 .5,2.1 .5,3.4 .5-9.4 .5,1.7 .5-3.2 .5,3.4 .5-.4 .5-2.4 .5,4.6 .5,.5 .5-5.5 .5,5.1 .5,3.7 .5-5.8 .5-3.6 .5,.3 .5,5.1 .5,1.6 .5-2.2 .5-.1 .5,0 .5,.3 .5-3.7 .5,6.8 .5,2.8 .5-4.5 .5-3.7 .5,2.8 .5-3.9 .5,1.9 .5,3.5 .5-2.6 .5,1 .5-7.7 .5,1.9 .5,6.9 .5-2.5 .5-7.6 .5,12 .5-4.8 .5-1.8 .5,6.2 .5-1 .5-6.2 .5-1.2 .5,7.9 .5-1.8 .5,.6 .5-2.8 .5-2.2 .5-2 .5,1.9 .5,5.4 .5,.7 .5-4.3 .5-2.8 .5-.6 .5,10.7 .5-6.4 .5-5.2 .5,5.8 .5,2.5 .5-5.6 .5-.9 .5,3 .5,4 .5-3.4 .5-4.8 .5,4.4 .5-1.6 .5,1.3 .5,.6 .5,2.5 .5,.3 .5,3.4 .5-6.4 .5,.4 .5,.2 .5-1.6 .5,4.8 .5-4 .5-6.6 .5-1.1 .5-3 .5,3.9 .5,2.3 .5-.9 .5,6 .5,5 .5-6.3 .5-4.9 .5,10.5 .5-7 .5,5.4 .5-3.4 .5-2.4 .5,1.9 .5-2.6 .5,2.6 .5,2.1 .5-4.6 .5,7 .5,1.7 .5-9.2 .5,7.2 .5-3.5 .5-3.5 .5,3.3 .5,1 .5-3.2 .5,1.6 .5,.5 .5,3.8 .5-3.8 .5,1.5 .5,.8 .5,.2 .5-3.6 .5-2.1 .5,4.1 .5-2.1 .5,2.8 .5-4.9 .5,3.4 .5-.3 .5,2.8 .5-1.8 .5-.9 .5,0 .5-4.7 .5-3.3 .5-1.6 .5,3.1 .5,3.7 .5,2.2 .5,.2 .5,4.3 .5-6.6 .5-.1 .5,3.1 .5,5.3 .5,.5 .5-4.5 .5-6.1 .5,5 .5,2.5 .5-5.9 .5,1.6 .5,7.2 .5-6 .5,4.2 .5-5.9 .5,.9 .5,1.6 .5,2.7 .5-2.4 .5-.2 .5-1.6 .5,5.1 .5-6.8 .5,5 .5-5.1 .5,7.9 .5-7.8 .5,3 .5-2.7 .5,5.1 .5,3.8 .5-5.9 .5,5.1 .5-5.5 .5,8.6 .5-5.9 .5-.7 .5-.4 .5,1.4 .5,3.4 .5-2.1 .5-4.5 .5-1.6 .5-2.4 .5,8 .5-4.4 .5-3.6 .5,4.7 .5,5.4 .5-7.3 .5,2.4 .5-3.3 .5,7 .5-3.5 .5,2 .5-3.7 .5,.4 .5,2.3 .5-5.5 .5,11.8 .5-1.1 .5-4.2 .5-2.6 .5,3.6 .5,.9 .5-5.4 .5,0 .5,1.9 .5,.1 .5-1.9 .5,3.2 .5,1.8 .5,.7 .5-1.9 .5,1.7 .5-4.9 .5,.2 .5,1.8 .5-3.2 .5-2.5 .5,9.7 .5-7.3 .5-3.8 .5,6 .5,.9 .5-1 .5-.9 .5,.9 .5,1 .5,1.5 .5-1.2 .5-1 .5,1.7 .5-2.1 .5-1.3 .5,3.8 .5-4.7 .5,2.7 .5-2.4 .5,2.3 .5,6.6 .5-7 .5,1.8 .5,2.5 .5-4.5 .5,4.7 .5-4.1 .5,1.4 .5-6.5 .5,7 .5-.8 .5,2.3 .5-4.9 .5-.3 .5,4.5 .5,3.5 .5-7.8 .5,1.4 .5,6.2 .5-5.3 .5,.5 .5,2.4 .5-1.4 .5,.2 .5-5.5 .5,5.3 .5-.5 .5-3.6 .5-3.6 .5,12.6 .5-3.3 .5-7.4 .5,4.1 .5,.9 .5-2.4 .5,1 .5,4.6 .5-3.3 .5-2.9 .5-.1 .5,2.7 .5,3.3 .5-1.9 .5-.1 .5-3.2 .5,1.7 .5,3.5 .5-2 .5,2.7 .5-1.4 .5-2.1 .5,.1 .5,5.1 .5-8.1 .5,3.7 .5-5.6 .5-2.6 .5-2 .5,2.6 .5,2.4 .5,6.6 .5-2.9 .5,.4 .5,.1 .5-.9 .5,1.4 .5,2.1 .5-.5 .5-5.5 .5,4.7 .5,1.8 .5-5.5 .5,2.7 .5-.9 .5-3.3 .5,.1 .5,8.4 .5-1.4 .5,1.7 .5-7.4 .5,3.7 .5-.6 .5-2.4 .5,.1 .5,6.2 .5-6.8 .5,2.1 .5,.1 .5-.7 .5,4.8 .5-2.8 .5-6.9 .5,10 .5-4.4 .5-3.9 .5,2.3 .5,9.3 .5-7 .5-4.8 .5,11.9 .5-8.7 .5-2 .5,.9 .5,2.5 .5,3.7 .5-2.3 .5-3.7 .5-1.5 .5-1.3 .5,4.9 .5,4.4 .5-2.2 .5,2.2 .5-3.8 .5-4.1 .5,2.8 .5,.9 .5-1.4 .5,2.8 .5-.4 .5-.4 .5-2.5 .5,2.6 .5,4.8 .5-5.4 .5-.9 .5,4.8 .5-5.9 .5,3.3 .5-1.6 .5,2.2 .5-2.1 .5-.6 .5,1.2 .5-4.3 .5,8 .5-3.8 .5,4.2 .5-4.9 .5,.5 .5,3.6 .5-.6 .5-.8 .5,3.8 .5-5.3 .5,1.8 .5-2 .5-2.3 .5,5.5 .5-3.3 .5,2.4 .5-1.9 .5,1.6 .5-1.5 .5,.9 .5-.9 .5,0 .5,1.9 .5-3 .5,2.1 .5-2.8 .5,1 .5-3.5 .5,2.6 .5-.4 .5,2.1 .5,3 .5,0 .5-1.1 .5-.9 .5,5 .5-5.9 .5-1.2 .5,2.3 .5-2.4 .5,3.3 .5-4.3 .5-2.1 .5,7.2 .5-6.5 .5,.2 .5,6.3 .5-2.9 .5,5.2 .5-4.6 .5-1.5 .5-.4 .5-.4 .5,6 .5-3.5 .5-.6 .5,.6 .5-3.1 .5,1.7 .5,3.4 .5,.9 .5-2.3 .5,1.1 .5,1.8 .5-5.6 .5-.6 .5,.2 .5,.4 .5,7.6 .5-6.1 .5-2.7 .5,1.5 .5,5.9 .5-6.6 .5,2.4 .5-.7 .5-1 .5,2.9 .5,.4 .5-.7 .5-.9 .5-3.7 .5,1.7 .5,1.9 .5-1.9 .5,.2 .5,.5 .5-1.7 .5,3.9 .5,2.7 .5-.3 .5-2.8 .5,.5 .5-2.7 .5-4.4 .5,6.8 .5,.6 .5,2.3 .5-4.7 .5,1.3 .5,.5 .5-1.3 .5-1.3 .5,3 .5-4.7 .5,2.1 .5,.1 .5-1.5 .5-1.7 .5,1.6 .5-1 .5,5.1 .5,.7 .5-1.1 .5-1 .5-4.2 .5,.1 .5,3.9 .5-1.2 .5-4.8 .5,7 .5-5.1 .5,0 .5-1.4 .5,11.9 .5-8.7 .5,4.2 .5-5.5 .5,10 .5-4.8 .5,.9 .5-.8 .5-1.4 .5-1.5 .5-4.7 .5,7 .5,3.7 .5-5.7 .5-2.7 .5,1.9 .5,1.9 .5-.6 .5-2.1 .5,2.3 .5,2.3 .5-6.3 .5,4.1 .5-2.3 .5,1.6 .5,2.5 .5,1.2 .5-7.1 .5,5.3 .5-2.4 .5,2 .5,3.5 .5-9 .5-.8 .5,7.1 .5-2.8 .5,.8 .5,2 .5-2.1 .5-1.1 .5,7.9 .5-7.7 .5,.1 .5,1.5 .5-.4 .5-1.6 .5,5.1 .5-.9 .5-1.2 .5-3.6 .5,2.4 .5-1 .5-2.6 .5,2.6 .5,3.7 .5-2.3 .5-3.6 .5-.4 .5,2.8 .5-5.1 .5-1.9 .5-2.4 .5,3.3 .5,3.5 .5,1.8 .5,1.8 .5-1.1 .5,1.2 .5,1 .5-.7 .5,2.2 .5-.8 .5-1.5 .5,.4 .5,2.2 .5,1.8 .5-4.6 .5,2 .5-2.4 .5-.5 .5,1.5 .5-1.5 .5-.7 .5,2 .5,.8 .5,.4 .5-.5 .5-3 .5-3.6 .5,7.2 .5,2.2 .5-4 .5,.4 .5,3 .5-4.7 .5,1.8 .5,2.6 .5,2.1 .5-5.5 .5-2.3 .5,5 .5,2.3 .5-2.3 .5-2.6 .5,2.7 .5-4.6 .5,1.8 .5,5.1 .5-4.7 .5,2.6 .5,1.6 .5-9.6 .5,5 .5-2.9 .5,4.1 .5-1.2 .5,6.3 .5-5.3 .5,1.7 .5-3.8 .5-2.9 .5,3.1 .5,4.4 .5-5 .5,1.9 .5,4.7 .5-3 .5-.6 .5-3.7 .5,2.7 .5-3.7 .5,6.2 .5-.5 .5-2.5 .5,5.2 .5-5 .5-.4 .5,.7 .5,1.9 .5,.3 .5-1.2 .5-3.6 .5,1.7 .5-1.2 .5-1.3 .5,4 .5,1.4 .5,1 .5-3 .5,3.7 .5-6.8 .5,5.1 .5-.1 .5-.4 .5,1.4 .5-3.5 .5-2.9 .5,6.2 .5-.7 .5-7.3 .5,9.3 .5-.4 .5-1.6 .5,.5 .5-1.8 .5,.8 .5-.3 .5,2.8 .5-1.5 .5,2.3 .5-5.2 .5,1.2 .5,1.8 .5-3.2 .5,5.9 .5-7.5 .5,3.5 .5-1.6 .5-.5 .5,.1 .5,.4 .5-1.9 .5,3.4 .5,3.1 .5-1.1 .5-6.2 .5,1.6 .5,2.3 .5,2.3 .5-.7 .5-2.1 .5,5.6 .5-2.2 .5-1.1 .5-.7 .5-.5 .5,0 .5-3.9 .5,3.5 .5-1.1 .5-.9 .5,1.8 .5,.1 .5,2.7 .5,.7 .5-5.4 .5,.3 .5-3.1 .5,4.7 .5-.4 .5-2.6 .5-2.1 .5,10.8 .5-4.2 .5-.2 .5-4.7 .5,1.1 .5,.8 .5,2.6 .5,.6 .5-3.3 .5,7.3 .5-1.6 .5-6.3 .5,4.4 .5-3.6 .5,2.5 .5-1.9 .5,.4 .5,2 .5-2.3 .5,.8 .5-.6 .5,3.5 .5-.2 .5-4.8 .5,2.4 .5,0 .5-6.1 .5,5.8 .5,4.2 .5-4.9 .5-.4 .5,2.1 .5,1.3 .5-1.8 .5-2.7 .5,.8 .5-.8 .5,7 .5-5.7 .5-1.1 .5,1.1 .5,4.8 .5-4.8 .5-.2 .5,1.4 .5,.6 .5-2.2 .5,.1 .5-1.3 .5,.9 .5,5.7 .5-6.9 .5,1.6 .5,3.3 .5-5.7 .5,3.4 .5,1.9 .5,1.3 .5-.2 .5-7.5 .5,6 .5-3.3 .5,3.9 .5-4.7 .5,.8 .5-.2 .5,1.2 .5-.9 .5-.6 .5,4.2 .5,.3 .5-5.8 .5,2.7 .5,2.1 .5,1.1 .5,3.5 .5-1.2 .5-4.4 .5-.5 .5,2.3 .5-.2 .5-4.6 .5,3.9 .5,1.2 .5-3.9 .5-2.7 .5-1.5 .5,2.1 .5,4 .5-2.6 .5,.1 .5,1.5 .5-.3 .5-4.1 .5-1.1 .5,.9 .5,1.3 .5,2.5 .5-1.3 .5,4.6 .5-4.4 .5,1.8 .5-.5 .5,1 .5,3.6 .5-7.2 .5,7.9 .5-6.4 .5,5.5 .5-7.3 .5,6.3 .5-7.5 .5,3.8 .5,1.7 .5-2.1 .5,.2 .5,4.7 .5-2.3 .5-2 .5,.5 .5,.6 .5-.8 .5,1.5 .5-4.2 .5,1.1 .5,4.8 .5-4 .5,1 .5-1.9 .5-1 .5,7.2 .5-3.3 .5,.6 .5,3.2 .5-5.3 .5,0 .5-.4 .5,4.1 .5-.9 .5-4 .5,1.7 .5,2.9 .5-7.3 .5,4.1 .5,4.9 .5-1.5 .5-1.1 .5-2.8 .5,2.8 .5-.8 .5-3.4 .5,4.4 .5-.1 .5-.2 .5-1.2 .5,4 .5-2.6 .5-1.7 .5-.3 .5,4.1 .5-5.6 .5,6.9 .5-4.8 .5,2.3 .5-.6 .5-3.2 .5-.6 .5,2.8 .5,1.4 .5,2.5 .5-3.1 .5-1.3 .5,4.9 .5-3.9 .5,.2 .5,1.3 .5,.7 .5-.9 .5-2 .5,1.3 .5-1.1 .5-.6 .5,1 .5-1.3 .5-1.7 .5,6.6 .5-2.8 .5-.9 .5,1.9 .5-2 .5-2.5 .5,1.6 .5,4.6 .5-2.3 .5-3.2 .5,1.1 .5-2.2 .5,2.8 .5-.6 .5-2.7 .5,1.3 .5,2.2 .5-.7 .5,5.2 .5-7.6 .5,4.2 .5-.5 .5-3.9 .5,2.3 .5,.1 .5-2 .5,4.8 .5-2.2 .5,.6 .5,1.8 .5-3.1 .5,3.5 .5-5.2 .5,2.1 .5,.6 .5-2.4 .5-.1 .5,2.7 .5-3.4 .5,2 .5-2.4 .5,5.9 .5-.1 .5-2.6 .5-1 .5-1.6 .5,4.4 .5,.3 .5-7.5 .5,2.1 .5,3.9 .5,3.4 .5-6.9 .5,5.8 .5,1.3 .5,1.5 .5-5.5 .5,3.6 .5-6.5 .5,3.9 .5-2.8 .5,1.2 .5,1.8 .5-2.7 .5,3.9 .5-1.8 .5,.9 .5-1.4 .5,.9 .5,2.8 .5-3.4 .5-1.9 .5,4.5 .5-5 .5,2.7 .5,1.2 .5-.5 .5-.2 .5-1.7 .5,1.3 .5-1.4 .5,0 .5,3.3 .5-4.9 .5,5.5 .5-2.9 .5,3.8 .5-8 .5,.6 .5,3.1 .5,1.4 .5-2.7 .5,.2 .5-.3 .5,4.3 .5-4.8 .5-3.4 .5,4.3 .5,.8 .5,1.6 .5-1 .5-.4 .5-1 .5,1.7 .5-1.4 .5-1.9 .5,2.1 .5,0 .5,4.7 .5-2.4 .5-1.5 .5-2 .5,.4 .5-3.2 .5-4.7 .5-1.6 .5,3 .5,1.2 .5,1.7 .5,.3 .5,4.7 .5-4.4 .5-1 .5-1.1 .5,2.7 .5,.4 .5,2.5 .5,3.7 .5-2.4 .5,4.1 .5-2.6 .5-3.5 .5,.4 .5,1.8 .5-3.7 .5,.1 .5,5 .5-2.3 .5,.4 .5,1.9 .5-1.1 .5,.8 .5,3.3 .5-6.3 .5,6.6 .5-4.3 .5-.6 .5-.6 .5,2.3 .5-4.4 .5,6 .5-.9 .5-5.8 .5,1.6 .5,2.2 .5-.5 .5,2.7 .5-2 .5,4.8 .5-5.9 .5-.6 .5,.9 .5,.2 .5-.8 .5-2 .5-1 .5,5 .5-.8 .5-3.5 .5,3.4 .5,5.1 .5-1.4 .5-5.2 .5,2.3 .5-1.1 .5,.1 .5-2.6 .5,1.5 .5,5 .5-1.2 .5-5.9 .5,5.9 .5-2.8 .5,.5 .5-.6 .5-4.5 .5,5.2 .5,.9 .5-.3 .5-5.4 .5,6.6 .5-4.5 .5,2.1 .5-2.1 .5,.6 .5-.5 .5,3.2 .5-.2 .5-3.7 .5,.7 .5,3.3 .5-4.5 .5,1.6 .5,1.7 .5,.6 .5-2.2 .5,1.8 .5-.3 .5,2.9 .5-.5 .5-1.9 .5-1.7 .5,.7 .5-.4 .5-.1 .5,4.1 .5-2.3 .5,.4 .5,2 .5-4.3 .5,1.5 .5-2.2 .5,4.1 .5-4.4 .5,3 .5-2.3 .5,0 .5,2.1 .5,1.6 .5,.6 .5-2.8 .5,1.8 .5-5.6 .5,5.4 .5-1.6 .5-.4 .5,1.3 .5-3.9 .5,3 .5-4.6 .5,4.1 .5-2.8 .5,4.2 .5-1.1 .5-3.8 .5,2.5 .5,.6 .5,.6 .5,.6 .5-1.2 .5,1.9 .5,.4 .5-.5 .5,0 .5-1.5 .5-1.3 .5,.3 .5-1.3 .5,0 .5,6.3 .5-.9 .5-3.5 .5,1.7 .5-2.5 .5,3.6 .5-2.2 .5-3.6 .5,2.2 .5,2.5 .5-4 .5,3.3 .5,.5 .5-.2 .5-.1 .5-3.3 .5,2.8 .5-.9 .5,4.1 .5,1.4 .5-2.9 .5-2.3 .5,1.9 .5,.1 .5-1.7 .5,2.1 .5,2.7 .5-2.5 .5,1.4 .5-1.3 .5-2.3 .5,5.9 .5-7.6 .5,3.9 .5-1.8 .5-1.5 .5-1 .5-1.3 .5,4.9 .5-.6 .5-2.7 .5,5.1 .5-3.2 .5,1 .5,.3 .5-1.3 .5-.7 .5,2.7 .5,3 .5-4.3 .5,1.9 .5-2 .5-2.1 .5,4.4 .5-1.6 .5-.2 .5,1.5 .5-3.3 .5,1 .5-.6 .5,2.4 .5-2.6 .5-2.9 .5,3.2 .5-3.3 .5,2.4 .5,1.1 .5-1.6 .5,4 .5-5.3 .5,3 .5,.6 .5,.6 .5-1.1 .5,4.3 .5-5.1 .5,3.5 .5-4.2 .5,3.2 .5-.7 .5,1.3 .5-1.7 .5-1.5 .5,1.6 .5-1.1 .5,.7 .5,0 .5,.3 .5,1.6 .5-2.7 .5-1.4 .5,1.3 .5,4 .5-2.9 .5-2.5 .5,1.4 .5,1.4 .5,2 .5-1.8 .5,1.5 .5,0 .5-3.6 .5,2.9 .5-5.3 .5,1.9 .5,.6 .5,1.1 .5,1.1 .5,4.6 .5-5.1 .5-2.4 .5,3.8 .5-2.1 .5,3.2 .5-3.5 .5,2.1 .5-1.3 .5,1.8 .5-.9 .5-2.4 .5,5.3 .5-7.4 .5,7 .5-2.6 .5,.5 .5-2.5 .5,2.5 .5-1.6 .5,2.4 .5-1.3 .5-2.4 .5,.3 .5-1.1 .5,5.1 .5-2.9 .5,.3 .5,3 .5-2.3 .5-2.9 .5,2.1 .5,2.7 .5-2 .5-.2 .5-.9 .5,1 .5-1.7 .5,.2 .5,6.2 .5-6.1 .5,.2 .5,1.2 .5-.6 .5,1.1 .5-1.8 .5,.2 .5,1.6 .5,2.5 .5-5.8 .5,2 .5-.4 .5,2.6 .5-.3 .5-1.1 .5,1.4 .5-5 .5,.5" fill="none" stroke="#1A6FDF" stroke-width="2.4" stroke-linejoin="round"/>
<text transform="translate(141.39,81.32) scale(0.9121,1)" font-size="38.00">a</text>
<text transform="translate(160.32,81.70)" font-size="31.00" style="font-weight:normal">:</text>
<text transform="translate(169.98,80.52) scale(1.0457,1)" font-size="28.27">CaSiO</text>
<text transform="translate(253.15,94.86) scale(0.9019,1)" font-size="34.38">3</text>
<text transform="translate(279.11,85.03) scale(0.8757,1)" font-size="36.93">b</text>
<text transform="translate(296.13,85.30)" font-size="36.00">:</text>
<text transform="translate(308.87,85.10) scale(0.9521,1)" font-size="30.26">SiO</text>
<text transform="translate(355.60,96.50) scale(0.9247,1)" font-size="33.53">2</text>
<text transform="translate(375.28,81.64) scale(0.8961,1)" font-size="40.00">c</text>
<text transform="translate(391.43,81.90)" font-size="36.00">:</text>
<text transform="translate(403.09,81.02) scale(1.0471,1)" font-size="27.98">CaAl</text>
<text transform="translate(468.00,92.90) scale(0.9593,1)" font-size="32.33">2</text>
<text transform="translate(483.81,81.11) scale(0.9864,1)" font-size="28.55">Si</text>
<text transform="translate(507.64,93.20) scale(0.9427,1)" font-size="31.87">2</text>
<text transform="translate(522.47,81.40) scale(0.9819,1)" font-size="30.36">O</text>
<text transform="translate(545.80,92.89) scale(0.9730,1)" font-size="31.26">8</text>
<text transform="translate(575.61,87.83) scale(0.9383,1)" font-size="36.93">d</text>
<text transform="translate(596.84,88.00)" font-size="28.00" style="font-weight:normal">:</text>
<text transform="translate(606.28,87.30) scale(0.9473,1)" font-size="25.36">Al</text>
<text transform="translate(631.69,99.65) scale(0.9669,1)" font-size="24.70">4.56</text>
<text transform="translate(675.54,87.94) scale(0.9774,1)" font-size="26.28">Si</text>
<text transform="translate(698.08,99.65) scale(1.0212,1)" font-size="24.78">1.44</text>
<text transform="translate(742.67,88.03) scale(1.0249,1)" font-size="26.93">O</text>
<text transform="translate(763.80,99.65) scale(1.0499,1)" font-size="24.70">9.72</text>
<text transform="translate(817.76,92.14) scale(0.9862,1)" font-size="39.87">e</text>
<text transform="translate(835.46,92.40)" font-size="30.00" style="font-weight:normal">:</text>
<text transform="translate(845.49,92.90) scale(0.9906,1)" font-size="23.63">Al</text>
<text transform="translate(869.96,103.60) scale(0.9030,1)" font-size="28.57">4</text>
<text transform="translate(884.75,94.55) scale(0.8830,1)" font-size="42.15">[</text>
<text transform="translate(895.88,92.65) scale(0.9127,1)" font-size="25.28">Si</text>
<text transform="translate(916.95,103.60) scale(0.9328,1)" font-size="28.57">4</text>
<text transform="translate(931.09,93.34) scale(0.9535,1)" font-size="26.49">O</text>
<text transform="translate(952.20,103.32) scale(0.8996,1)" font-size="27.85">10</text>
<text transform="translate(979.31,94.55) scale(0.8511,1)" font-size="42.15">]</text>
<text transform="translate(992.24,91.34) scale(1.1557,1)" font-size="21.39">(OH)</text>
<text transform="translate(1049.38,103.32) scale(1.0010,1)" font-size="27.85">8</text>
<text transform="translate(149.44,152.32) scale(1.0778,1)" font-size="59.54">(a)</text>
<text transform="translate(388.13,134.55)" font-size="34.94">d</text>
<text transform="translate(320.95,216.74)" font-size="36.36">b</text>
<text transform="translate(469.63,214.45)" font-size="34.94">d</text>
<text transform="translate(350.02,272.88)" font-size="35.00">c</text>
<text transform="translate(351.67,298.04)" font-size="35.91">a</text>
<text transform="translate(382.17,292.34)" font-size="35.91">a</text>
<text transform="translate(424.55,337.33)" font-size="36.74">a</text>
<text transform="translate(483.87,342.64)" font-size="35.91">a</text>
<text transform="translate(579.47,347.74)" font-size="35.91">a</text>
<text transform="translate(390.50,414.17)" font-size="32.95">b</text>
<text transform="translate(388.76,440.56)" font-size="37.58">e</text>
<text transform="translate(322.41,664.75)" font-size="34.80">b</text>
<text transform="translate(515.12,666.35)" font-size="34.94">b</text>
<text transform="translate(517.66,703.56)" font-size="37.58">e</text>
<text transform="translate(586.81,694.95)" font-size="34.80">b</text>
<text transform="translate(686.98,700.35)" font-size="34.94">b</text>
<text transform="translate(812.07,709.35)" font-size="34.94">b</text>
<text transform="translate(917.82,654.97)" font-size="32.67">b</text>
<text transform="translate(916.67,684.15)" font-size="38.62">e</text>
<text transform="translate(933.52,1231.13) scale(1.0094,1)" font-size="35.99" fill="#00FF00">0% CG</text>
<text transform="translate(936.81,1349.02) scale(0.9799,1)" font-size="36.73" fill="#0000FF">8% CG</text>
<text transform="translate(925.03,1449.01) scale(0.9414,1)" font-size="38.05" fill="#FF0000">12% CG</text>
<text transform="translate(921.40,1592.34) scale(1.0208,1)" font-size="35.10">20% CG</text>
<rect x="116.4" y="1002.1" width="943.50" height="669.50" fill="none" stroke="#000" stroke-width="5.2"/>
<line x1="179.30" y1="1671.6" x2="179.30" y2="1659.0" stroke="#000" stroke-width="4.7"/>
<text transform="translate(158.87,1715.82) scale(1.0300,1)" font-size="38.07">10</text>
<line x1="242.20" y1="1671.6" x2="242.20" y2="1665.3" stroke="#000" stroke-width="4.7"/>
<line x1="305.10" y1="1671.6" x2="305.10" y2="1659.0" stroke="#000" stroke-width="4.7"/>
<text transform="translate(285.41,1715.82) scale(1.0300,1)" font-size="38.07">20</text>
<line x1="368.00" y1="1671.6" x2="368.00" y2="1665.3" stroke="#000" stroke-width="4.7"/>
<line x1="430.90" y1="1671.6" x2="430.90" y2="1659.0" stroke="#000" stroke-width="4.7"/>
<text transform="translate(411.31,1715.82) scale(1.0300,1)" font-size="38.07">30</text>
<line x1="493.80" y1="1671.6" x2="493.80" y2="1665.3" stroke="#000" stroke-width="4.7"/>
<line x1="556.70" y1="1671.6" x2="556.70" y2="1659.0" stroke="#000" stroke-width="4.7"/>
<text transform="translate(537.58,1715.82) scale(1.0300,1)" font-size="38.07">40</text>
<line x1="619.60" y1="1671.6" x2="619.60" y2="1665.3" stroke="#000" stroke-width="4.7"/>
<line x1="682.50" y1="1671.6" x2="682.50" y2="1659.0" stroke="#000" stroke-width="4.7"/>
<text transform="translate(662.85,1715.82) scale(1.0300,1)" font-size="38.07">50</text>
<line x1="745.40" y1="1671.6" x2="745.40" y2="1665.3" stroke="#000" stroke-width="4.7"/>
<line x1="808.30" y1="1671.6" x2="808.30" y2="1659.0" stroke="#000" stroke-width="4.7"/>
<text transform="translate(788.77,1715.82) scale(1.0300,1)" font-size="38.07">60</text>
<line x1="871.20" y1="1671.6" x2="871.20" y2="1665.3" stroke="#000" stroke-width="4.7"/>
<line x1="934.10" y1="1671.6" x2="934.10" y2="1659.0" stroke="#000" stroke-width="4.7"/>
<text transform="translate(914.12,1715.82) scale(1.0300,1)" font-size="38.07">70</text>
<line x1="997.00" y1="1671.6" x2="997.00" y2="1665.3" stroke="#000" stroke-width="4.7"/>
<line x1="1059.90" y1="1671.6" x2="1059.90" y2="1659.0" stroke="#000" stroke-width="4.7"/>
<text transform="translate(1040.39,1715.82) scale(1.0300,1)" font-size="38.07">80</text>
<text transform="translate(68.50,1508.08) rotate(-90)" font-size="56.84">Intensity(a.u.)</text>
<text transform="translate(453.09,1782.17) scale(1.0810,1)" font-size="55.33">2θ(degree)</text>
<path d="M116.4,1600.1l.5-.9 .5,.5 .5,.6 .5,.2 .5-.1 .5-.2 .5,.4 .5,0 .5,.3 .5-.7 .5,.1 .5,1.1 .5-.5 .5,.4 .5-.7 .5,.3 .5-.2 .5-.5 .5,.8 .5-.9 .5,.1 .5,.9 .5,.2 .5-.8 .5,.4 .5-.5 .5,.5 .5,1.1 .5,0 .5-.3 .5,.4 .5,0 .5-.1 .5,.8 .5-.4 .5-.3 .5,.8 .5-.2 .5-.3 .5,0 .5,.2 .5,.2 .5-.2 .5,.4 .5,.1 .5-.5 .5-.6 .5,.5 .5,0 .5,.8 .5-.2 .5,.3 .5-.2 .5,.5 .5-.2 .5,.1 .5,.4 .5-.5 .5,.8 .5-.8 .5,.5 .5-.6 .5,.4 .5,0 .5-.2 .5,1.2 .5-1 .5,.6 .5-.8 .5,.7 .5-.3 .5,.9 .5,.1 .5,0 .5,.3 .5-.7 .5,.5 .5,0 .5,0 .5,.2 .5,.5 .5-1.1 .5,.3 .5,0 .5,0 .5-.5 .5,.7 .5,.1 .5-.2 .5,.2 .5-.3 .5,.2 .5-.6 .5,.4 .5,.5 .5-.3 .5-.2 .5,.7 .5-.3 .5-.6 .5,.1 .5,.4 .5-.2 .5,0 .5,.4 .5-.8 .5,.7 .5-.6 .5-.2 .5,.5 .5-.4 .5-.5 .5,1.3 .5-.6 .5-.2 .5,.2 .5,.5 .5-.2 .5-.6 .5-.5 .5,1.3 .5-.4 .5-.9 .5,.4 .5,.7 .5-.2 .5,.5 .5-.1 .5,.4 .5,.1 .5,.1 .5,.1 .5,.8 .5-.3 .5-.5 .5,.9 .5-.4 .5-.2 .5,.1 .5,.7 .5-.2 .5-.3 .5,.4 .5-.4 .5-.1 .5,.8 .5,.1 .5-.6 .5,.2 .5,.6 .5,.7 .5-.7 .5,.3 .5-.4 .5,.8 .5-.8 .5,.2 .5-.3 .5,.1 .5,0 .5-.8 .5-.2 .5,.9 .5-.7 .5,.9 .5,.1 .5-1 .5,1.4 .5-.3 .5-.8 .5,.4 .5,0 .5-.8 .5,.6 .5-.1 .5-.3 .5-.2 .5-.1 .5,.3 .5,.7 .5-.2 .5,0 .5-.4 .5,.3 .5,.4 .5-.6 .5,.6 .5,.4 .5-.3 .5-.4 .5,.8 .5,.2 .5-.8 .5,.3 .5,.3 .5,.8 .5-.4 .5-.2 .5-.1 .5-.2 .5,1.1 .5-.9 .5,0 .5,.5 .5-.1 .5-.3 .5,.2 .5-.4 .5,.7 .5-.4 .5-.1 .5,.7 .5-.6 .5,.2 .5-.7 .5,.9 .5-.3 .5-.4 .5-.6 .5,.5 .5,.5 .5-.2 .5-.2 .5,.5 .5-.6 .5,.2 .5-.4 .5,0 .5-.3 .5-.2 .5-.1 .5,.5 .5,0 .5-.3 .5,.3 .5-1 .5,.6 .5,.3 .5,.2 .5,0 .5,.6 .5-.6 .5-.2 .5,1 .5-.5 .5-.5 .5,.6 .5,.8 .5-.7 .5,.3 .5-.5 .5-.2 .5-.5 .5,.7 .5-.5 .5-.4 .5,.2 .5,.3 .5-.6 .5-.1 .5-.3 .5-.1 .5,0 .5-.5 .5,.6 .5,.3 .5-.5 .5,.4 .5,.5 .5-.2 .5-.5 .5,1.3 .5-.6 .5,.3 .5-.7 .5,.2 .5,.1 .5-.1 .5-.2 .5,0 .5-.5 .5,0 .5,.5 .5-1.1 .5-.8 .5-2.1 .5-1.3 .5,1.8 .5,1.6 .5,1.3 .5,.3 .5,.3 .5-.1 .5,.3 .5-.4 .5,.5 .5,.1 .5,1 .5-1.9 .5,1.2 .5-1 .5,.4 .5-.4 .5,.1 .5,.3 .5-1.3 .5,1 .5-.3 .5,.6 .5,.1 .5,.4 .5-.3 .5,.2 .5-.4 .5,.7 .5-.2 .5-.1 .5,.1 .5,.3 .5,.2 .5,.1 .5,0 .5,.2 .5-.4 .5-.4 .5,.4 .5,0 .5,.4 .5-.8 .5,0 .5-.3 .5-.2 .5-.4 .5-.1 .5,.4 .5-.6 .5-.5 .5,.7 .5-.2 .5-.1 .5-.2 .5,.6 .5-.2 .5,.5 .5,0 .5,0 .5-.7 .5,.4 .5-.6 .5,.4 .5-.2 .5,0 .5-.6 .5-.4 .5,.1 .5-.4 .5-.1 .5-.1 .5-.5 .5,.7 .5-.8 .5,1.1 .5-.5 .5-.1 .5,.2 .5,.4 .5-.1 .5-.9 .5,.5 .5,.1 .5,.6 .5,.1 .5,0 .5,.7 .5-.6 .5,.2 .5-.4 .5,.5 .5-.3 .5,.3 .5-.6 .5,.2 .5,.2 .5-.3 .5-.1 .5,1 .5-.5 .5-.6 .5,0 .5,.2 .5-.5 .5,0 .5-.3 .5-1.2 .5-1.5 .5-3.4 .5-6.6 .5-5.3 .5,5.3 .5,6.8 .5,3.4 .5,2.2 .5,.5 .5,.3 .5-.3 .5,.7 .5-.6 .5,.3 .5-.3 .5,.4 .5,.5 .5-1.1 .5,.3 .5-.7 .5,1.2 .5,0 .5-.6 .5,.5 .5,.1 .5,.2 .5-.4 .5-.6 .5,.1 .5,.1 .5-.1 .5-1 .5,.4 .5,.2 .5-.9 .5,.8 .5-.2 .5-.1 .5,.6 .5-.1 .5,0 .5,.1 .5-.3 .5,.4 .5,.2 .5-1 .5,.4 .5,.7 .5-.6 .5,0 .5-.3 .5,.2 .5,.4 .5-.4 .5,.2 .5-.5 .5-.2 .5,.4 .5-.2 .5-.2 .5,.3 .5-.5 .5-.2 .5,.5 .5-.2 .5,.4 .5-.2 .5,1 .5-.1 .5,.1 .5,0 .5-.1 .5-.4 .5,.4 .5,0 .5,.2 .5-.9 .5,.8 .5-1.3 .5,.1 .5,.6 .5-.5 .5,.2 .5-.5 .5,.2 .5,0 .5-.1 .5-.4 .5,.6 .5-.4 .5-.1 .5,.2 .5-.2 .5-.4 .5,.2 .5-.1 .5,0 .5,.1 .5,0 .5,0 .5-.1 .5,0 .5-.4 .5,.6 .5-.5 .5,.6 .5-.2 .5-.5 .5,.9 .5-.4 .5-.3 .5,.3 .5-.3 .5,.8 .5-.3 .5-.2 .5-.3 .5,.3 .5,0 .5-.4 .5-.2 .5,.3 .5-.7 .5,.1 .5,.2 .5,.1 .5,.2 .5-1.1 .5,0 .5-.7 .5-.6 .5-1.6 .5-1.6 .5-1.2 .5,0 .5,.4 .5-.7 .5-2.2 .5-2.9 .5-1.7 .5,1.5 .5,2.8 .5,2.4 .5,1 .5-.6 .5-2.8 .5-8 .5-17.4 .5-29.4 .5-21.7 .5,21.9 .5,29.6 .5,17.7 .5,8.4 .5,3.5 .5,1.6 .5,.9 .5,.6 .5,.8 .5,.2 .5-.1 .5,.5 .5-.2 .5,.3 .5,.6 .5,.1 .5-.5 .5,.1 .5,.4 .5,.2 .5,.2 .5-.4 .5,.3 .5,.2 .5-.1 .5,.7 .5-.8 .5,.6 .5-.4 .5,.3 .5,.1 .5-.4 .5,.2 .5,.8 .5-.4 .5,.2 .5,.3 .5-.4 .5,.4 .5-.1 .5,.3 .5-.1 .5-.2 .5-.1 .5,.3 .5,0 .5,0 .5,0 .5-.1 .5,.9 .5-.2 .5-.1 .5,.9 .5-.9 .5,.6 .5,0 .5-1.4 .5,.9 .5-.9 .5,1.5 .5-1.2 .5,.4 .5-.2 .5,.8 .5-.3 .5,.7 .5-.5 .5,0 .5,1 .5-.4 .5-.1 .5,.6 .5,.3 .5-.3 .5-.1 .5,.1 .5-.2 .5,0 .5-.1 .5-.1 .5,.1 .5-.1 .5,0 .5-.1 .5,0 .5,.5 .5-.2 .5-.3 .5-.1 .5,.7 .5-.6 .5-.4 .5,.4 .5,.3 .5-.9 .5,1 .5,0 .5-.3 .5,.2 .5,.3 .5-.5 .5,.6 .5,.4 .5-.2 .5-.1 .5,.1 .5-.4 .5-.2 .5,.8 .5,.1 .5,.5 .5-.5 .5-.3 .5,.2 .5,0 .5,.9 .5-.3 .5-1 .5,.6 .5-.1 .5-.4 .5,.3 .5,.3 .5,.1 .5-.2 .5,.4 .5-.2 .5,.3 .5,.1 .5,.3 .5,.2 .5-.4 .5-.1 .5,.3 .5,.5 .5,.2 .5-.7 .5,.8 .5-.5 .5,0 .5,.6 .5,.1 .5,.1 .5,.4 .5-.9 .5,.6 .5-.6 .5,.1 .5,.3 .5,.2 .5-.1 .5,0 .5-.3 .5,0 .5-.3 .5,.5 .5-.6 .5,.2 .5,.2 .5-.8 .5-.5 .5-.4 .5-.7 .5-1 .5-.3 .5-.4 .5,.6 .5,.6 .5,.6 .5,.7 .5,.1 .5,.9 .5,.2 .5,.3 .5-.3 .5,.5 .5,.7 .5-.6 .5,.1 .5,.3 .5,.3 .5-.1 .5,.8 .5-.4 .5-.3 .5,.4 .5,0 .5-.2 .5,.3 .5-.3 .5,.6 .5-.9 .5,.9 .5,.1 .5-.4 .5,.1 .5,0 .5,.9 .5-.1 .5-.8 .5,.5 .5-.4 .5-.3 .5-.3 .5,0 .5,0 .5-.3 .5,.6 .5-.4 .5-.4 .5,.6 .5-1 .5-.4 .5-1.3 .5-2 .5-1.7 .5,1.7 .5,2.5 .5,1.3 .5,.8 .5,.1 .5-.1 .5,.2 .5,0 .5,.8 .5-.1 .5-.5 .5,.6 .5-.6 .5,.2 .5-.2 .5,.3 .5-.1 .5-.4 .5,.2 .5,0 .5,.5 .5-.9 .5,.5 .5,.6 .5-.1 .5-1 .5,0 .5,.3 .5-.9 .5-.7 .5-1.4 .5-1.1 .5,1 .5,2 .5,.9 .5,1.2 .5-.2 .5-.3 .5,.8 .5-.7 .5,.2 .5,.7 .5-.2 .5,0 .5-.5 .5-.3 .5,.7 .5-.4 .5,.4 .5-.4 .5,.2 .5-.3 .5,0 .5,.6 .5-.6 .5,.9 .5-.2 .5-.8 .5,.1 .5,.2 .5,.2 .5-.3 .5,1.3 .5-1.1 .5,1.1 .5,.1 .5-.5 .5-.3 .5-.2 .5,.5 .5,.1 .5,0 .5,0 .5-.4 .5,.1 .5-.5 .5,.1 .5-.3 .5,.8 .5-.8 .5,.9 .5,.4 .5,0 .5,.2 .5-.3 .5,.2 .5,.2 .5-.4 .5,1 .5-1.2 .5,.4 .5-.1 .5,.4 .5-.3 .5-.1 .5,.4 .5-.8 .5,1.2 .5-.8 .5-.8 .5,.1 .5-.5 .5-.2 .5-.3 .5-.3 .5-.8 .5,.7 .5,.1 .5,0 .5,1 .5,.2 .5,0 .5,.7 .5,.2 .5-.7 .5,1 .5-.5 .5,.5 .5-.1 .5,0 .5,.4 .5-.6 .5-.1 .5-.2 .5,.6 .5,0 .5-.2 .5-.6 .5,1 .5-.3 .5-.2 .5,.1 .5,.2 .5,0 .5,.1 .5-.2 .5-.9 .5-1.2 .5-2.3 .5-2.2 .5,1.8 .5,3 .5,.7 .5,.5 .5,.1 .5,.7 .5,.6 .5-.2 .5,0 .5,0 .5,.1 .5,0 .5,1 .5-.4 .5-.3 .5,0 .5-.1 .5-.2 .5-.1 .5,.4 .5-.6 .5,0 .5,.3 .5,.5 .5-1 .5-.2 .5,.6 .5-.2 .5,.7 .5-.1 .5,.4 .5-.6 .5-.2 .5,.3 .5-.1 .5-.2 .5-.3 .5,.3 .5-1.1 .5-.2 .5-.5 .5-.2 .5-.1 .5-.1 .5,.3 .5,.8 .5,0 .5,.1 .5-.1 .5,.5 .5-.3 .5,1 .5-.2 .5,.4 .5-.3 .5,.3 .5-.1 .5-.1 .5-.2 .5,.2 .5,.1 .5,.2 .5-.1 .5,.5 .5-.4 .5-.1 .5,0 .5,.6 .5-.1 .5-.2 .5-.4 .5,.1 .5,.4 .5,.1 .5-.2 .5,.4 .5-.1 .5-.2 .5-.1 .5,0 .5,.5 .5,.4 .5-1 .5-.1 .5,0 .5,.7 .5-.3 .5,.5 .5-1.4 .5,.3 .5,.8 .5-.8 .5,.7 .5,0 .5-.3 .5,.4 .5-.2 .5,.2 .5,.1 .5,0 .5,.8 .5-.4 .5,.3 .5-.5 .5,.5 .5-.3 .5,0 .5,0 .5,.5 .5-.2 .5-.7 .5,.2 .5-.1 .5-.1 .5,.5 .5-.4 .5-.5 .5-.3 .5-.2 .5,.5 .5-.9 .5-.4 .5,.6 .5-.2 .5,.3 .5,.7 .5-.3 .5-.2 .5,1.1 .5,.5 .5,.2 .5,.3 .5-.3 .5,.2 .5,.4 .5,.3 .5-.4 .5,0 .5-.1 .5-.9 .5,.4 .5-.6 .5-.1 .5-.2 .5,.8 .5-.4 .5,.5 .5-.2 .5-.4 .5-.2 .5,.7 .5,.5 .5-.9 .5-.4 .5,1.3 .5-.4 .5,.2 .5-.2 .5-1.3 .5,.9 .5-.5 .5,.3 .5-.6 .5,.5 .5,.3 .5-.6 .5,.9 .5-.3 .5-.3 .5,.3 .5-.3 .5-.1 .5,.1 .5-.1 .5,0 .5,.2 .5-.3 .5,0 .5,0 .5-.1 .5,.1 .5,.9 .5-.5 .5,.5 .5,.2 .5-.3 .5,.9 .5-.4 .5,.2 .5-.1 .5-.1 .5,.2 .5,0 .5-.4 .5-.1 .5,.1 .5-.5 .5,.5 .5-.2 .5-.1 .5,.8 .5-.1 .5,.1 .5-.6 .5,.5 .5-.4 .5,.3 .5-.1 .5-.3 .5,.2 .5-.5 .5,0 .5,0 .5-.2 .5-.3 .5,.6 .5-.7 .5,0 .5,.4 .5-.3 .5-.3 .5,.4 .5-.1 .5,.5 .5-.5 .5,.1 .5-.2 .5,0 .5-1.1 .5-.8 .5-.7 .5-1.8 .5-.7 .5-.6 .5,.5 .5,1.1 .5,1.1 .5,.9 .5,1.2 .5-.3 .5,.9 .5,.3 .5-.5 .5,.6 .5,.3 .5-.2 .5,0 .5-.5 .5,.4 .5,.2 .5-.5 .5,.1 .5,0 .5,.3 .5,.4 .5,0 .5,0 .5,.1 .5,.1 .5,0 .5-.2 .5,.3 .5,0 .5,.5 .5-.3 .5,0 .5-.2 .5,.2 .5,.1 .5,.5 .5-.6 .5,1 .5-.1 .5-.1 .5-.5 .5-.8 .5,.1 .5,.7 .5-.2 .5-.7 .5,.1 .5-.1 .5,0 .5,.2 .5-.9 .5,.6 .5,.2 .5,0 .5-.1 .5-.4 .5,.3 .5-.1 .5,1.1 .5-1.4 .5,1.2 .5-1.6 .5,.6 .5-.2 .5,1 .5-1 .5,.2 .5,.1 .5-.2 .5,0 .5,.1 .5-.1 .5,0 .5-.2 .5,.3 .5,0 .5,.2 .5,.6 .5-.4 .5-.1 .5,.1 .5-1.3 .5,.8 .5,1.3 .5-1.3 .5,.7 .5,0 .5-.5 .5,.1 .5-.7 .5-.2 .5,.1 .5,.2 .5,.8 .5,0 .5-.5 .5,.3 .5,.7 .5-.5 .5,.6 .5-.1 .5-.1 .5,0 .5-.7 .5,.3 .5-.9 .5,.1 .5,.6 .5-.7 .5-.4 .5-.4 .5,.2 .5,.1 .5,.1 .5-.4 .5,1 .5-.2 .5-.7 .5,.3 .5,.5 .5,.1 .5,.2 .5,.7 .5,.1 .5,.1 .5,.2 .5-.6 .5,.2 .5,.8 .5-.7 .5,.5 .5-.2 .5-.7 .5,.2 .5,0 .5,.3 .5,0 .5-.6 .5,.6 .5,.1 .5-.2 .5,.4 .5-.3 .5-.2 .5,.5 .5,.2 .5-.4 .5,.4 .5-.6 .5,.1 .5-.1 .5-.2 .5,.5 .5,.4 .5-.6 .5,.4 .5-.5 .5,.3 .5-.6 .5,.6 .5-.6 .5-.1 .5-.3 .5,.8 .5-.3 .5-.2 .5,.2 .5-.3 .5,.1 .5-.1 .5,.9 .5-.1 .5,0 .5-.1 .5,.3 .5,.5 .5-1.2 .5,.7 .5,.4 .5-.8 .5,0 .5,.1 .5-1.2 .5,.6 .5,0 .5-.1 .5,.2 .5-.8 .5-.1 .5,.2 .5,0 .5,.2 .5,0 .5,.5 .5,0 .5,0 .5,.3 .5-.5 .5,.6 .5-.7 .5,1.1 .5,.1 .5-.2 .5-.5 .5,.7 .5-.5 .5-.2 .5,.9 .5-.5 .5-.2 .5-.2 .5,0 .5,.6 .5-.1 .5-.3 .5,0 .5-.1 .5-.3 .5,.4 .5,.1 .5,.1 .5-.5 .5,.5 .5,.2 .5-.5 .5,.1 .5,.8 .5-.7 .5,.3 .5,.2 .5-1 .5,.5 .5,.1 .5-.3 .5,0 .5-.3 .5,.3 .5-.2 .5,0 .5,.7 .5-.9 .5-.3 .5-1 .5,.5 .5,.4 .5,.4 .5,.2 .5,.3 .5-.1 .5,.1 .5,0 .5-.8 .5,.1 .5-.5 .5-.8 .5,.7 .5,.6 .5,1.2 .5-.4 .5,0 .5,.4 .5,.1 .5-.5 .5,.2 .5,0 .5,.2 .5,.1 .5-.6 .5,.7 .5,.2 .5-.3 .5,.1 .5-.8 .5,.9 .5-.4 .5-.1 .5-.2 .5-.6 .5,.9 .5-.2 .5,0 .5-.3 .5,.2 .5-.4 .5,.2 .5-.2 .5,.4 .5-.3 .5,.2 .5-.4 .5,.9 .5-.6 .5-.2 .5,.3 .5,.1 .5,.1 .5,.2 .5,0 .5,.7 .5-1 .5,1.5 .5-.5 .5-.7 .5,.8 .5-.2 .5,.4 .5,.1 .5-.3 .5-.3 .5,.5 .5,.6 .5-.2 .5-.3 .5-.1 .5-.1 .5,.7 .5,.1 .5-.4 .5-.1 .5,.2 .5-.8 .5-.1 .5-.7 .5,.8 .5-.4 .5-.6 .5,.4 .5-.3 .5,.4 .5,0 .5-1.1 .5,.6 .5,.2 .5-.3 .5-.3 .5,.3 .5-.2 .5-.9 .5,.8 .5-.5 .5,.1 .5,.3 .5-.5 .5,0 .5,.2 .5-.1 .5,.4 .5,.4 .5-.6 .5,.3 .5,.6 .5-.3 .5-.2 .5,.1 .5-.3 .5-.1 .5-.7 .5-.7 .5,.3 .5,.6 .5,.4 .5,0 .5-.3 .5,.7 .5,.2 .5-.2 .5,.2 .5-.3 .5,1 .5-.8 .5,.7 .5-.2 .5-.6 .5,0 .5,.5 .5-.2 .5,0 .5-.4 .5,.6 .5-.2 .5,0 .5-.3 .5-.4 .5,.8 .5-.5 .5,.4 .5,.1 .5-.1 .5,0 .5,.2 .5-.6 .5,1 .5-.4 .5-.1 .5,.9 .5-.8 .5-.3 .5-.2 .5,.6 .5-.6 .5,.1 .5,.1 .5,.6 .5-.5 .5,.4 .5,0 .5,.2 .5,0 .5,.1 .5,0 .5,.2 .5,0 .5,.3 .5,.2 .5-.1 .5-.4 .5,.9 .5-.3 .5-.3 .5-.2 .5,.1 .5,.1 .5-.9 .5,.3 .5,0 .5-1.2 .5,.2 .5-.6 .5-.6 .5,.8 .5-.8 .5,.2 .5,.9 .5-.5 .5-.3 .5,.5 .5-.2 .5,.7 .5-.4 .5,.2 .5,.3 .5-.2 .5-.4 .5,.2 .5,0 .5-.8 .5-.4 .5-.1 .5-.4 .5-.6 .5-.1 .5,.6 .5,.2 .5,.4 .5,.3 .5,.3 .5,.8 .5-.3 .5,.5 .5,.9 .5-.4 .5-.4 .5,.4 .5,.4 .5-.1 .5-.2 .5,.4 .5-.9 .5,.2 .5,.2 .5-.1 .5,.5 .5-.6 .5,.8 .5-1.2 .5,.1 .5,.3 .5,.3 .5,0 .5-.1 .5,.3 .5-1.1 .5,.1 .5,.6 .5-.1 .5,.2 .5-.6 .5,.2 .5-.1 .5,.4 .5-.7 .5,.4 .5,.6 .5-.4 .5,.2 .5-.8 .5-.1 .5,.2 .5-.3 .5,.4 .5-.5 .5,.3 .5-.3 .5,1 .5-.3 .5-.4 .5,1 .5-.2 .5-.5 .5,.5 .5,.5 .5-.7 .5,.5 .5,.4 .5-.5 .5,.2 .5-.5 .5,.4 .5-.5 .5,.3 .5-.4 .5,.1 .5,.2 .5,.1 .5,.2 .5,.3 .5-.5 .5,.7 .5-.9 .5,.7 .5-.4 .5,.1 .5,.5 .5-.5 .5,.2 .5,.7 .5-.3 .5-.5 .5,.4 .5,.4 .5,.1 .5-1 .5,.9 .5-.1 .5-.6 .5,0 .5-.4 .5-.3 .5,.4 .5-.7 .5,.5 .5,0 .5-.2 .5,.1 .5,.6 .5-.7 .5-.1 .5-.5 .5,.7 .5,0 .5,.3 .5-.3 .5-.3 .5-.2 .5,.6 .5,.8 .5-1 .5-.1 .5-.3 .5,1 .5,0 .5-.1 .5,.5 .5-.6 .5,.2 .5-.1 .5,.2 .5,.3 .5-.2 .5-.8 .5,.1 .5-.3 .5,.1 .5-.5 .5,.2 .5,.9 .5-1 .5,.7 .5-.2 .5,.6 .5,.2 .5-.2 .5,.3 .5-.7 .5,.5 .5,.3 .5-.3 .5,.3 .5-.3 .5-.3 .5,.2 .5,.4 .5-.2 .5,.2 .5,.1 .5-.9 .5,.4 .5,.3 .5-.2 .5,.1 .5,.4 .5,.2 .5-1 .5,.7 .5-.7 .5-.2 .5,.5 .5-.5 .5,.1 .5-.1 .5-.1 .5,.6 .5,0 .5,.3 .5-.3 .5,.5 .5,.1 .5-.3 .5,.2 .5,.3 .5-1.4 .5-.1 .5,.2 .5-.5 .5,1 .5-.8 .5-.3 .5,.7 .5-.3 .5-.4 .5,.4 .5,.1 .5-.5 .5,.1 .5,.9 .5,0 .5-.9 .5,.2 .5,.3 .5,.1 .5-.3 .5,.8 .5-.7 .5,.1 .5-.3 .5,.1 .5-.5 .5,.6 .5-.4 .5-.2 .5,.2 .5,1 .5-.8 .5,1.3 .5-.6 .5,.6 .5-.5 .5,.2 .5-.2 .5,.7 .5,.1 .5-.1 .5,.2 .5-.6 .5,0 .5-.3 .5,.3 .5,0 .5-.3 .5,0 .5-.3 .5,.5 .5-.5 .5,.3 .5,.4 .5-1 .5,.7 .5-.5 .5-.3 .5,.3 .5,.1 .5,.5 .5-.5 .5,.8 .5,.1 .5-.1 .5-.3 .5,.2 .5,.1 .5,.5 .5-.1 .5-1 .5,0 .5-.6 .5,.2 .5,.1 .5-.5 .5,0 .5,0 .5,.2 .5,.6 .5-.7 .5-.2 .5,1 .5-1.2 .5,1.3 .5-.5 .5,.8 .5-1.2 .5,.1 .5,.1 .5-.1 .5-.5 .5,.9 .5-.9 .5,.5 .5,.1 .5-.3 .5,.4 .5-.4 .5,.3 .5,.3 .5-.4 .5,.5 .5-.3 .5-.3 .5,.4 .5,.2 .5-.7 .5,.2 .5-.3 .5,.1 .5,0 .5-.4 .5,1.4 .5-1.1 .5,.3 .5,0 .5-.1 .5,.8 .5-.1 .5,.1 .5-.3" fill="none" stroke="#515151" stroke-width="4.3" stroke-linejoin="round"/>
<path d="M116.4,1601.6l.5-1.9 .5,1.7 .5-3.3 .5,1.3 .5,.3 .5,1.1 .5,1 .5-3.4 .5,1.7 .5,.3 .5,.4 .5,1.5 .5-2.1 .5,2.8 .5-2 .5,1 .5-2.6 .5,2.1 .5-1.5 .5,.3 .5,.9 .5-1.9 .5,2.4 .5-.4 .5,.8 .5-.1 .5,.5 .5-.8 .5-2.1 .5,2.6 .5-.5 .5-.1 .5,.5 .5,.1 .5-.6 .5,2.4 .5,0 .5-1.5 .5,.6 .5-1.2 .5,.1 .5,2.2 .5-1.3 .5,.1 .5-1 .5,1.9 .5-1.7 .5,1.3 .5-1 .5-1.4 .5,3.1 .5-2 .5,1.7 .5,.4 .5,.9 .5-2.3 .5,.3 .5,1.1 .5,.4 .5-1 .5,1.4 .5-.8 .5-1 .5-.1 .5-.7 .5,1.1 .5-.2 .5,1.2 .5-.5 .5,.3 .5,.1 .5,0 .5,0 .5-.5 .5,1.5 .5-.3 .5-1.6 .5,.3 .5,1.2 .5,0 .5,.5 .5-1.9 .5,2.3 .5-2.3 .5,.8 .5,.2 .5-.8 .5,3.4 .5-1.8 .5,.4 .5-.8 .5,.2 .5-1.5 .5,.5 .5,.9 .5,1.1 .5-2.1 .5,1.3 .5,.9 .5-2.2 .5,2.1 .5-.9 .5-1.7 .5,1.3 .5-1.2 .5,1.3 .5-2.5 .5,1.8 .5-.8 .5,.7 .5,.7 .5-.8 .5-.2 .5,.4 .5-1.4 .5,1.3 .5,1.9 .5-.6 .5,0 .5-.9 .5-.2 .5,2.1 .5-1.7 .5,1 .5-1.1 .5,1.8 .5-1.6 .5,2.9 .5-2.1 .5-.4 .5,1 .5,1.1 .5-2.3 .5,.8 .5,1.4 .5-.9 .5,1.1 .5-.5 .5,.3 .5-1.4 .5,.1 .5,1 .5,.3 .5-.6 .5,.6 .5,.9 .5-.6 .5-1.2 .5,1.5 .5,.3 .5-1.4 .5,.7 .5,.9 .5-2.6 .5,2 .5-.2 .5,0 .5,.4 .5-.5 .5-1.3 .5,.8 .5,1.8 .5-1 .5-1.9 .5,1.1 .5,.2 .5,.9 .5-2.5 .5,1.6 .5,0 .5-.3 .5-1.1 .5-1.1 .5,1.2 .5,.5 .5-.7 .5,2.3 .5-1.8 .5,2 .5,.2 .5-1 .5,.8 .5-2.4 .5,1.1 .5,1.1 .5,1.4 .5,.1 .5-2.3 .5,1.2 .5-1.7 .5,.6 .5,.1 .5-.5 .5,2.1 .5,.9 .5-2.9 .5-.9 .5,2.7 .5-.4 .5,1.9 .5-2.3 .5-.6 .5,.9 .5-.9 .5,.1 .5-.5 .5,2 .5,1 .5-1.2 .5-.8 .5-1 .5,2 .5-2.2 .5,.4 .5-.4 .5,1.5 .5,.7 .5,0 .5,.6 .5-1.9 .5,0 .5-2.1 .5,3.1 .5,.1 .5-1.4 .5,0 .5-1.4 .5,0 .5,.3 .5,1.8 .5-.7 .5-.1 .5,.2 .5,.6 .5-2.2 .5,3 .5-1.4 .5-.7 .5,.4 .5,.6 .5-1.7 .5,1.6 .5-1.1 .5,2.4 .5-1.7 .5,1.9 .5-1.8 .5,.3 .5,1.2 .5-1.8 .5,1 .5-.6 .5,.4 .5-1.1 .5,.6 .5-.1 .5-.4 .5,1 .5-1.1 .5-.1 .5,.6 .5,.2 .5-2.2 .5,2.1 .5-1.9 .5,1.7 .5,.1 .5-.2 .5-.3 .5,2.3 .5-2.4 .5,2 .5-1.7 .5,2.4 .5-1.1 .5,0 .5,0 .5,.5 .5-2.4 .5,1.3 .5-1.7 .5,1 .5,.3 .5-1 .5-1 .5-1.3 .5-2.6 .5,2.4 .5,.6 .5,1.4 .5,.3 .5-.1 .5,1.1 .5,.7 .5-1 .5,.8 .5,0 .5-1.3 .5,1.3 .5,0 .5-.5 .5-1.1 .5,3.1 .5-4.7 .5,2.1 .5,0 .5,1.2 .5,0 .5-1.6 .5-.6 .5,1.3 .5-1.8 .5,2 .5-.9 .5,1.4 .5,1 .5-.2 .5-2.1 .5,2.1 .5-1.4 .5,2.1 .5,.5 .5-.6 .5-.3 .5-1 .5-.2 .5,1.6 .5-3 .5,1.9 .5,1.9 .5-4.1 .5,1.5 .5,1 .5-2.7 .5,2.3 .5-1.8 .5,.6 .5,.4 .5,.4 .5-3.4 .5,1.6 .5,1.1 .5-.3 .5-1.2 .5,1.7 .5,.1 .5-1.3 .5,.9 .5-.1 .5-2 .5,0 .5,1 .5-.1 .5,1.7 .5-2 .5,.2 .5-.5 .5,.8 .5-.7 .5-.3 .5,.5 .5-1 .5,.9 .5-.7 .5,.8 .5-2.5 .5,.9 .5,1.3 .5,.3 .5-.3 .5,.7 .5,1.5 .5-3 .5,3.4 .5-2 .5,1.5 .5-2.4 .5,2.4 .5-1 .5-.4 .5-.8 .5,3.1 .5-3.7 .5,1.2 .5,.8 .5-.3 .5,.4 .5,0 .5-1.4 .5-.1 .5,.6 .5-1.4 .5,1.7 .5-1.7 .5-1.2 .5-3.8 .5-6.7 .5-5.7 .5,6.1 .5,7.1 .5,2 .5,2.6 .5-.1 .5,1.4 .5,.5 .5-1 .5,0 .5-.1 .5,.8 .5-1.2 .5,.7 .5,.6 .5,.6 .5,1.2 .5-2.1 .5,.7 .5-1.3 .5,1.3 .5-2 .5,1.8 .5-2 .5,2.4 .5-.7 .5-.4 .5,0 .5-.3 .5-.2 .5-.7 .5-.1 .5,.4 .5,.1 .5,.1 .5,.5 .5-2.1 .5,1 .5-.1 .5,.9 .5,1.9 .5,.3 .5-.8 .5-1.6 .5,.8 .5-.2 .5-1.6 .5,1.4 .5-.9 .5,.8 .5-.7 .5-1 .5,.9 .5-.4 .5,1.5 .5-1.1 .5-1.5 .5,1.8 .5,.4 .5-1.2 .5,2.5 .5-2.5 .5,.1 .5-.4 .5,1.2 .5,1.1 .5-.7 .5-.3 .5-.6 .5,0 .5,1.3 .5,.8 .5-1.7 .5-.9 .5,2.1 .5-.5 .5-1.1 .5,1.1 .5-.6 .5,.5 .5-1.3 .5,.3 .5,.5 .5-.5 .5,.4 .5-.4 .5-1.5 .5,1.1 .5,.7 .5-1.9 .5,.6 .5,1.8 .5,.2 .5-.2 .5-3.3 .5,3.9 .5-3 .5,1.7 .5,0 .5-.2 .5,.1 .5-.8 .5-1.4 .5,1.9 .5-.8 .5-.2 .5,.9 .5,.3 .5,.3 .5,.4 .5-1.3 .5-.6 .5,1.1 .5,.9 .5-1.8 .5,.6 .5-1.4 .5,1.6 .5,.4 .5-2.4 .5,1.5 .5-.4 .5-1.3 .5,.5 .5,.3 .5-.7 .5,1.2 .5-2.4 .5-1 .5-3 .5-.5 .5,.1 .5-.1 .5,0 .5-2.9 .5-2.2 .5-2.1 .5,1.3 .5,3.1 .5,2.5 .5,1.1 .5-.9 .5-2.2 .5-8.5 .5-17.6 .5-29.3 .5-21.6 .5,22 .5,29.4 .5,18.2 .5,7.4 .5,3.7 .5,1.4 .5,2.1 .5,.1 .5-.1 .5,1.6 .5-.3 .5,.1 .5-1.7 .5,2.2 .5-.6 .5,1.2 .5-.2 .5-.2 .5-.4 .5,1.9 .5-1.6 .5,.8 .5,.7 .5-1.7 .5,2.3 .5-2.6 .5,2.6 .5-1.9 .5,2.3 .5-1.6 .5,1.3 .5-.1 .5-.6 .5,1.6 .5-1.4 .5-.7 .5,.6 .5-1.6 .5,1.5 .5,.5 .5-.6 .5-.6 .5,.8 .5-.2 .5-.3 .5-.8 .5,.6 .5,2.1 .5-1 .5-.8 .5,.9 .5,1.9 .5-2.7 .5,.6 .5,.7 .5-.1 .5,1.5 .5-2.3 .5,1.3 .5-.6 .5-.6 .5-.9 .5,.8 .5-1.8 .5,2.6 .5-.9 .5,0 .5,2.9 .5-.1 .5,1.2 .5-2.5 .5,1.3 .5-1.3 .5,.4 .5,2 .5-1.5 .5,0 .5-.7 .5,.3 .5-.1 .5,.3 .5-.6 .5-.8 .5,1.3 .5-1.1 .5,1.9 .5-.9 .5-.8 .5,1.7 .5-1.7 .5,1.8 .5-.8 .5,0 .5-.1 .5-1.5 .5,.5 .5-.8 .5,.3 .5,2.3 .5,.6 .5-2.2 .5,1 .5,0 .5,.7 .5-.7 .5,.5 .5-2.2 .5,1.2 .5,1.3 .5-.7 .5,1.5 .5-.7 .5,0 .5,.4 .5-2.2 .5,1.8 .5-.9 .5-.3 .5-.1 .5,1.5 .5-1 .5-.9 .5,2.4 .5-.4 .5,0 .5-.5 .5-.7 .5,1.3 .5-.9 .5,1.4 .5,1.9 .5-3.2 .5-.1 .5-.4 .5,1.7 .5-.4 .5-.2 .5,3.2 .5-3.2 .5,.7 .5,.3 .5-1.4 .5,1.1 .5,.1 .5,0 .5,.6 .5-1.3 .5-.1 .5,1.7 .5,.2 .5-.1 .5-.8 .5-1.9 .5,3.3 .5-2.2 .5,.2 .5-.2 .5,2.7 .5-1.5 .5-.5 .5-.7 .5-1.9 .5,.2 .5-.8 .5-.1 .5-.3 .5,.2 .5,.6 .5,.2 .5,2.4 .5,.5 .5,.7 .5,0 .5-2.6 .5,2.6 .5,1.7 .5-3.4 .5,.2 .5-.3 .5,2 .5-1.3 .5,2.4 .5,0 .5-1.7 .5-1.4 .5,1.1 .5,2.5 .5-1.9 .5,2.1 .5-1.4 .5,.5 .5,0 .5-1 .5,1.2 .5-.4 .5-1.3 .5,1.1 .5,.9 .5-1.5 .5,1 .5,.1 .5,.1 .5,.4 .5-.1 .5-1.6 .5-.1 .5,1.4 .5-1 .5-.1 .5,.2 .5,.7 .5,.2 .5-.5 .5-2.8 .5-1.5 .5-3.3 .5,3.2 .5,2.7 .5,.7 .5-1 .5,1.5 .5,.3 .5-.2 .5,.4 .5-1.1 .5,2.9 .5-1.1 .5-.1 .5,1.2 .5-3.3 .5,2 .5-1.9 .5,2 .5,.1 .5-.5 .5-.2 .5-2.3 .5,4 .5-.6 .5-1.2 .5,1.2 .5-1.4 .5-.3 .5,.9 .5-.8 .5-1.1 .5-2.1 .5-.4 .5,1.7 .5-.1 .5,.9 .5,1.2 .5,.8 .5,1.6 .5-3 .5,.7 .5,.9 .5,.7 .5,.4 .5-.4 .5-.4 .5,.3 .5-1.7 .5,1 .5,.6 .5,1.9 .5-.5 .5-1.4 .5,1.3 .5-1.2 .5-.1 .5-.5 .5,1.6 .5-2 .5,.6 .5,.6 .5-.9 .5,1.8 .5-1 .5-.7 .5,0 .5-.8 .5,1.3 .5-.8 .5,1.7 .5-.7 .5,0 .5,1.4 .5,.4 .5-.4 .5-.5 .5-1 .5-.3 .5,.9 .5,1.1 .5-2.1 .5,1.1 .5-.4 .5,1.4 .5,1.7 .5-2.8 .5-.4 .5,1.9 .5,0 .5-1.9 .5,2.7 .5-1.6 .5-1.5 .5,3 .5-.4 .5-1.9 .5,.1 .5,.8 .5-1 .5-.6 .5-.3 .5,.1 .5-.4 .5,.2 .5,.3 .5-2 .5,.6 .5,1.6 .5-1.3 .5-.5 .5,1.2 .5,.6 .5-.9 .5,.7 .5,1.6 .5,.1 .5,.3 .5,.8 .5-1.7 .5,2.1 .5-2 .5,.9 .5,.3 .5-1.3 .5-.8 .5,.8 .5,.8 .5,0 .5-.8 .5,0 .5,1.2 .5-.8 .5,1.8 .5-2.6 .5,1.7 .5,.7 .5-1.7 .5-.5 .5-3.1 .5-.6 .5-2.5 .5,1.8 .5,1.8 .5,1.7 .5,.1 .5,1 .5,.4 .5,1.5 .5-.2 .5,.8 .5-2.1 .5,1.8 .5,.6 .5-2.6 .5-.8 .5,3.8 .5-1.4 .5-.8 .5,.5 .5,.3 .5,.6 .5-3.7 .5,2.7 .5,.7 .5-3.6 .5,2 .5,1 .5,1.8 .5-1.7 .5,0 .5,1.5 .5-1.7 .5,1.1 .5-1.4 .5,.5 .5-.3 .5,.2 .5-1.1 .5,.5 .5,0 .5-.6 .5-2 .5-.5 .5,1.9 .5,.3 .5-1.3 .5,1.3 .5-.5 .5-1.1 .5,1.5 .5,.3 .5-.3 .5,.3 .5,.1 .5,1.6 .5,.1 .5-1.5 .5,1.9 .5-.3 .5-1.1 .5-.6 .5,.3 .5-.1 .5-1.3 .5,2.3 .5,.1 .5-.7 .5,2.3 .5-.5 .5-1.9 .5,0 .5,1.3 .5-.7 .5,.3 .5,.5 .5,.9 .5-2.4 .5,1.2 .5-.2 .5,.3 .5-.1 .5,1.3 .5-2.8 .5-1 .5,3 .5-.3 .5-2.4 .5,3.6 .5-1.2 .5-1.6 .5,.6 .5,.2 .5-.5 .5-1.6 .5,3.8 .5-1.7 .5,1.6 .5-2.6 .5,2.1 .5-.9 .5-1.3 .5,1.5 .5-.7 .5-.5 .5,1.4 .5,.1 .5,.7 .5-1.2 .5,.5 .5,1.4 .5,1 .5-.9 .5-1.8 .5,.5 .5,.1 .5-2.2 .5,.3 .5,.6 .5-.1 .5,2.1 .5-3.1 .5,.6 .5,1 .5-1.6 .5,1.1 .5,.4 .5-1.1 .5,.7 .5,1.9 .5,.8 .5-1.5 .5,.8 .5-.3 .5,.1 .5,1.3 .5-.5 .5,1 .5-1.8 .5-.5 .5-1.4 .5,2.6 .5-.8 .5,1.8 .5-2.6 .5,3 .5-4.3 .5,2.4 .5-.8 .5,1.6 .5-3.2 .5,.8 .5,.3 .5,.7 .5,1.8 .5-.4 .5-1.2 .5-.7 .5-.4 .5,.5 .5,1.5 .5-1.7 .5,2.1 .5-.6 .5-1.1 .5,1 .5-1.8 .5-.1 .5,3.6 .5-4.1 .5,1.1 .5,1.6 .5-2.3 .5,1.1 .5,1 .5-.5 .5-.5 .5-.5 .5,.9 .5-1.4 .5,.7 .5-2.5 .5,2.6 .5-.7 .5,2.4 .5-.6 .5,0 .5-.2 .5,.1 .5,1 .5,.5 .5-.7 .5,0 .5,1.4 .5-2.9 .5,.9 .5,.8 .5,1.1 .5-2.4 .5,1.8 .5-1 .5-2 .5,2.1 .5-.7 .5-.8 .5,1.3 .5-.6 .5-.8 .5,1.7 .5,.1 .5-.6 .5,.2 .5-1 .5-.4 .5-.2 .5,.1 .5,1.2 .5-.3 .5-1.4 .5,.4 .5,2.7 .5-3 .5,1.1 .5-.5 .5-.6 .5,1.7 .5-1.6 .5,.6 .5-2.1 .5,1.8 .5,.3 .5-2.3 .5-1.3 .5-.6 .5-1 .5-.5 .5,.9 .5,.6 .5,1.1 .5-.1 .5,1.5 .5,.9 .5,.2 .5,.7 .5,2 .5-2.8 .5,1 .5,.5 .5-1.6 .5,1.2 .5-.6 .5-1.2 .5,2.6 .5-1.3 .5,.3 .5,0 .5,.6 .5-.1 .5,1.1 .5-.3 .5-1.4 .5,1.3 .5-1.7 .5-.6 .5,.7 .5,1.3 .5-1 .5,.3 .5,1.9 .5-1.2 .5,.4 .5-1.3 .5,.9 .5,.3 .5,.1 .5-.9 .5,2.7 .5-2.3 .5,1 .5-.7 .5-1.5 .5,2.6 .5-3.7 .5,1.8 .5-1.1 .5,2.3 .5,0 .5-1.6 .5,.4 .5,.6 .5-2.3 .5,.7 .5,.5 .5-1.1 .5,.6 .5,.1 .5,.7 .5,.3 .5,0 .5-1.8 .5,1.7 .5-1.8 .5,.2 .5-.2 .5,1.5 .5,1.3 .5-.4 .5-1.1 .5-.7 .5,1.4 .5-.2 .5-1.2 .5,1.4 .5-.3 .5-1.1 .5,2.7 .5-1.7 .5,.9 .5,.6 .5-2.9 .5,3.1 .5-1.8 .5,.5 .5-1.4 .5-.3 .5,1.8 .5-1.6 .5-.6 .5,3.5 .5-1.3 .5-.3 .5,1.1 .5-1.3 .5,.2 .5-1 .5,.8 .5-.9 .5,.4 .5,.9 .5,.1 .5-1.8 .5,1 .5-1.1 .5,0 .5,0 .5,1.4 .5-3.4 .5,2.3 .5-.2 .5-1.1 .5,1.2 .5,.5 .5-1 .5,.3 .5,1.2 .5-.5 .5-.6 .5,1.8 .5-1.6 .5,1.2 .5-.7 .5,.1 .5,1.1 .5,.5 .5-1 .5-.8 .5,3.2 .5-4.4 .5,4.6 .5-3.4 .5,1.8 .5,.3 .5-1.6 .5,1 .5-.6 .5,1.2 .5-1.5 .5,.3 .5,1.9 .5-1.8 .5,.8 .5-.1 .5-.4 .5-1 .5,1.2 .5-2 .5,2.6 .5,.1 .5-.8 .5,.6 .5-1.2 .5,.3 .5-1.3 .5,1.9 .5,.2 .5-1.4 .5,.3 .5,.6 .5-.6 .5,1 .5-2.4 .5,.5 .5,1.1 .5-.5 .5,1 .5,.3 .5-.4 .5-1.6 .5,.9 .5-.4 .5,0 .5,1.7 .5-.3 .5,.7 .5-1.1 .5,1.6 .5-1.3 .5-.2 .5,.8 .5-2.8 .5,1.1 .5,1 .5-.8 .5,.8 .5-1.7 .5-1 .5,2.6 .5,.1 .5,.4 .5-1.7 .5,.4 .5,1.5 .5-2.3 .5,2.1 .5-1.6 .5,.5 .5,.8 .5-1 .5,.4 .5,1.3 .5-1.1 .5,1.7 .5-1.9 .5-.8 .5,1.6 .5-.3 .5,.8 .5-.1 .5-.9 .5-2 .5,2.3 .5-2.9 .5,1.9 .5,1.1 .5-.6 .5,.5 .5-.2 .5-.1 .5,1.6 .5-1.8 .5,.9 .5,.9 .5-2.2 .5,2.6 .5-.3 .5-.5 .5-2.1 .5-.4 .5,1.9 .5,1.2 .5-.7 .5-.5 .5,0 .5-1.3 .5,.4 .5,.2 .5,.6 .5-2 .5-.6 .5,2 .5-1.7 .5,1.5 .5-1.6 .5,1.1 .5,1.3 .5-.9 .5,1 .5-1.3 .5,0 .5-.5 .5-1.8 .5,2.7 .5-.7 .5,1 .5,.9 .5-1.1 .5,1.7 .5-2.6 .5,2.6 .5-2.3 .5,1.5 .5,1.4 .5-2.2 .5-.2 .5,1.7 .5,1 .5-4.3 .5,.8 .5,1 .5-2 .5,.7 .5,1.7 .5-1 .5,2.7 .5-1.1 .5,0 .5-1.4 .5,0 .5,.5 .5,.3 .5-.9 .5,1.9 .5-.6 .5-1 .5,2.5 .5-3.4 .5,.5 .5,.7 .5,.6 .5-.2 .5-1.6 .5,1.4 .5,.6 .5-2.1 .5,2.2 .5-1.2 .5,3.5 .5-2.8 .5,1.3 .5-2.1 .5,1.3 .5,1 .5-.4 .5,1.7 .5-1.3 .5-2.5 .5,.9 .5,.5 .5,2.4 .5-.5 .5-1.5 .5,1.2 .5-.6 .5-1.1 .5,1.4 .5-.8 .5-1.5 .5,.7 .5,.3 .5-.6 .5,2.7 .5-2.9 .5,2.3 .5-.6 .5-2 .5-.6 .5,2.8 .5-1.1 .5-.8 .5-.3 .5,.3 .5-.7 .5-.9 .5,.9 .5-.5 .5-1.3 .5,1.5 .5,1 .5-.7 .5,.7 .5-1.8 .5,1.1 .5-1.6 .5,.7 .5-.9 .5,3.4 .5-.8 .5-.6 .5-.9 .5,2.7 .5-2.7 .5-.5 .5,1.5 .5-2.4 .5,.4 .5,.9 .5,2.4 .5-.9 .5-2.2 .5,1.2 .5,1.6 .5-.8 .5-.2 .5,.8 .5-1.4 .5,1.6 .5,.1 .5-1 .5,.9 .5-.5 .5,.4 .5-1.7 .5,2.4 .5-2.4 .5,1.3 .5-.5 .5,.6 .5,.8 .5-.7 .5-.8 .5,.3 .5-.1 .5-.3 .5,.1 .5,.3 .5,.1 .5,1.2 .5-.3 .5-.3 .5-.2 .5-.4 .5-1.9 .5,1.7 .5,0 .5,2.2 .5-2.5 .5,1.7 .5-.7 .5-2 .5,.4 .5,3.6 .5-1.8 .5,1 .5-.7 .5,.7 .5,1.6 .5-2.5 .5,.6 .5-1.8 .5,.7 .5,.1 .5,.2 .5-1.1 .5,1.7 .5-.6 .5,.1 .5,2 .5-2 .5-.3 .5,.2 .5,.7 .5-.8 .5-.4 .5-1.6 .5,1.5 .5,.2 .5,.7 .5-1.8 .5-.4 .5,.5 .5,.9 .5-1.8 .5-.2 .5,2.7 .5-1.1 .5,0 .5-1.5 .5,1 .5,.1 .5,.2 .5-.8 .5-.5 .5,1.3 .5-.8 .5-.5 .5-1.2 .5,1.6 .5-1.1 .5,.3 .5,.4 .5,.4 .5,1.1 .5-1.4 .5,1.1 .5-.4 .5,1.3 .5-.1 .5,.2 .5-.3 .5,.8 .5-.6 .5,.5 .5,1.7 .5-3.2 .5,2.5 .5-.8 .5-1.7 .5,2.3 .5-2.2 .5,1.1 .5,.9 .5-2 .5,0 .5,.1 .5,0 .5,.8 .5-1.1 .5-1.1 .5,4.2 .5-2.4 .5-.4 .5,1.4 .5-.9 .5,.6 .5,.5 .5-.1 .5-.7 .5,.4 .5-.8 .5,1.2 .5-1 .5-1.5 .5-.6 .5,1.4 .5-.7 .5-.2 .5,.5 .5,1.9 .5-1.3 .5,.8 .5-.6 .5,1.8 .5-2.4 .5-.6 .5,1.6 .5-.3 .5,1 .5,.5 .5-.9 .5,.7 .5-1.2 .5,0 .5-.7 .5,1.7 .5-1.6 .5,.1 .5,.7 .5,.1 .5,1.9 .5-3.5 .5,1.6 .5-.4 .5,.1 .5,.1 .5,.7 .5,1.3 .5-2.2 .5-.2 .5,2.6 .5-2.4 .5,1.4 .5-.2 .5,1.4 .5-2.1 .5,.8 .5-1.5 .5,2.2 .5,.3 .5,.6 .5-.9 .5-1.2 .5,2 .5-2.2 .5-.8 .5,.8 .5-.3 .5,.1 .5,.1 .5-.5 .5,1.2 .5-2 .5,1 .5,1.2 .5-2.3 .5,.1 .5,1.3 .5,.5 .5-.3 .5,1 .5-1.2 .5,.8 .5-.3 .5-2.9 .5,3.6 .5,1 .5-2 .5,1.1 .5-1.3 .5,.7 .5-.9 .5,.8 .5-.6 .5-1 .5,1.2 .5-.2 .5-1.5 .5,2 .5,.4 .5-2.3 .5,3 .5-2.9 .5,2 .5-1 .5,.4 .5,.3 .5,.2 .5,.2 .5,.6 .5-2.3 .5,2 .5-2.1 .5,.9 .5,1.6 .5-.9 .5-1 .5,.7 .5-.1 .5,.6 .5-.7 .5,.1 .5,.7 .5-1.3 .5,.9 .5-.1 .5-.4 .5-.4 .5,.8 .5-1.7 .5,1.3 .5,0 .5,.1 .5-.2 .5-1 .5,1.4 .5,0 .5-.5 .5,.1 .5,.3 .5,1.1 .5-.2 .5,.9 .5-1.9 .5,2 .5-1.2 .5-.7 .5-.3 .5,1.5 .5-2.7 .5,2.5 .5-1.8 .5,.8 .5-.4 .5,1.5 .5-4.3 .5,1.9 .5-1.6 .5,1.9 .5-.3 .5-.1 .5,.6 .5-1.4 .5,3 .5-1 .5-1.2 .5,2.1 .5-.3 .5,0 .5-1.1 .5-.3 .5,1.9 .5-.1 .5-1.9 .5-.6 .5,1.2 .5-1.2 .5,.9 .5,.9 .5-.6 .5,1.1 .5-.7 .5,2 .5-1.1 .5-1.1 .5,.3 .5-.5 .5,1.7 .5-2.2 .5,2.4 .5-.2 .5-.6 .5-1.4 .5,.8 .5-.1 .5,1 .5-1.2 .5,.2 .5,.4 .5,.2 .5-1 .5,.3 .5,1.6 .5,.2 .5-1.8 .5-.2 .5,1.8 .5-1 .5,.1 .5,.4 .5,.5 .5-1.3 .5-.9 .5,.9 .5,1 .5,.6 .5-1.7 .5,.5 .5,.9 .5-2.6 .5-.1 .5,2.6 .5-1.2 .5-1.8 .5,1.3 .5,.9 .5-1.6 .5-.2 .5-.6 .5,.4 .5,1.1 .5-.1 .5,.8 .5,.4 .5-2 .5,2.5 .5-1.2 .5-1.1 .5,.1 .5-1.2 .5,2.8 .5,1.1 .5-.9 .5,.2 .5-2.2 .5,1.8 .5-.2 .5-.9 .5-.7 .5,1.6 .5-1.1 .5-1.4 .5,1.9 .5,.4 .5-1 .5-.8 .5,.1 .5,.5 .5,.5 .5,.4 .5-1.6 .5-.5 .5,1.1 .5,.3 .5,1.2 .5-1.5 .5,0 .5,1.6 .5-.1 .5-2.8 .5,2.6" fill="none" stroke="#515151" stroke-width="2.0" stroke-linejoin="round"/>
<path d="M116.4,1445.2l.5-.4 .5,.2 .5,.2 .5-.2 .5-.3 .5,.6 .5,.5 .5-.1 .5-.5 .5,.7 .5,.3 .5,0 .5-.2 .5-.1 .5,.9 .5-.2 .5,1.1 .5-.9 .5,.1 .5-.4 .5,.4 .5,.5 .5-.6 .5-.1 .5-.5 .5,.6 .5-.9 .5,1.1 .5,0 .5-.7 .5,.1 .5,.1 .5-.6 .5,.2 .5,.3 .5-.2 .5,.8 .5,0 .5-.2 .5,.3 .5-.7 .5,.6 .5,.1 .5,0 .5-.1 .5,.2 .5,.4 .5-.4 .5-.4 .5,.7 .5,0 .5-.2 .5,.6 .5,.3 .5,0 .5-.1 .5-.1 .5-.6 .5,.2 .5,.8 .5-.9 .5,.5 .5,.9 .5-.8 .5,.6 .5,.5 .5-.7 .5-.3 .5,.4 .5,.7 .5-.3 .5,.7 .5,.1 .5-.8 .5,.6 .5-.1 .5,.2 .5-.3 .5-.1 .5,.2 .5,.5 .5-.2 .5,.1 .5,0 .5-.1 .5-.2 .5-.4 .5,.4 .5,.2 .5-.1 .5-.2 .5,.7 .5-.6 .5,.6 .5,.3 .5,0 .5,.1 .5,0 .5-.2 .5-.3 .5,.8 .5,.1 .5-.6 .5,1.3 .5-.4 .5,0 .5,0 .5,0 .5,.3 .5-.1 .5-.5 .5,.4 .5,.3 .5-.3 .5,.6 .5-.2 .5,0 .5,.1 .5,.2 .5-1.4 .5,.4 .5,.3 .5-.3 .5,.1 .5-.2 .5-.5 .5,1 .5,.2 .5-.3 .5-.3 .5,.3 .5,.9 .5-.5 .5,.7 .5-.1 .5,.4 .5-.2 .5,0 .5-.1 .5-.1 .5,.2 .5,.3 .5-.2 .5,.6 .5-.3 .5,.4 .5,.1 .5-.8 .5,1 .5-.1 .5,.5 .5-.3 .5,0 .5-.3 .5-.3 .5,.8 .5,0 .5-.2 .5,.7 .5-.6 .5,0 .5,.7 .5-.8 .5-.2 .5,1.4 .5-.8 .5,.4 .5-.9 .5,.3 .5,.4 .5-.7 .5,.2 .5,0 .5,.6 .5-.4 .5-.1 .5,0 .5,.2 .5,.6 .5-1 .5,.9 .5,0 .5-.2 .5-.1 .5,.1 .5,.8 .5,0 .5-.2 .5-.1 .5-.4 .5-.4 .5,.4 .5,.3 .5,.1 .5-.9 .5,.1 .5,0 .5,.7 .5-.4 .5-.1 .5-.5 .5,.6 .5-.4 .5-.2 .5-.1 .5,.1 .5,.7 .5-.6 .5-.2 .5,.5 .5,.3 .5-.6 .5,.8 .5-1.1 .5,1.5 .5,0 .5-.6 .5,.6 .5,.4 .5,.3 .5-.1 .5-.3 .5,.5 .5-.3 .5,0 .5,.8 .5-.3 .5-.1 .5-.8 .5,.3 .5-.2 .5,1 .5-.2 .5,.1 .5,.2 .5-.6 .5-.5 .5,.3 .5,.4 .5-.2 .5-.3 .5,.3 .5-.8 .5,.9 .5-1 .5,.2 .5-.5 .5,1 .5,.7 .5,0 .5,.1 .5,.6 .5-.3 .5,0 .5-.2 .5,0 .5,.9 .5-.7 .5,.3 .5,.1 .5,0 .5,.3 .5-.6 .5-.2 .5,.3 .5-.7 .5-.2 .5,.2 .5-.5 .5-.4 .5,.7 .5-.7 .5,.5 .5-.1 .5,.4 .5,.3 .5,0 .5-.3 .5,.4 .5-.2 .5,.8 .5-.5 .5,.3 .5-1.3 .5,1.1 .5-.2 .5,.2 .5-.5 .5,.2 .5,.2 .5,.3 .5,0 .5,.4 .5,0 .5,.4 .5-1 .5,0 .5,.7 .5-.3 .5-.3 .5,.4 .5,.2 .5-.7 .5,1.1 .5-.8 .5,.8 .5-.1 .5-.7 .5,.3 .5,0 .5-.2 .5-.2 .5,0 .5,.5 .5-.5 .5-.5 .5,.3 .5,0 .5,.3 .5,.3 .5-1.2 .5,1.2 .5-.3 .5,.3 .5,.4 .5-.3 .5,.2 .5,.6 .5,0 .5-.1 .5,.1 .5-.5 .5-.2 .5,.2 .5,0 .5,.6 .5-1.2 .5-.3 .5,.8 .5,.2 .5-.4 .5,1.1 .5-.4 .5-.6 .5,.4 .5-.1 .5,.5 .5-.3 .5,.9 .5-.7 .5-.4 .5,.5 .5,.2 .5,.4 .5-.5 .5-.6 .5-.2 .5,1.4 .5-1 .5,0 .5,.3 .5,.2 .5,.2 .5,.2 .5-.3 .5-.5 .5,.9 .5-.9 .5,.8 .5,.4 .5-.1 .5-1.1 .5,1 .5-.3 .5-.9 .5,.9 .5,0 .5-.3 .5,.2 .5,.6 .5-.2 .5,.2 .5-.7 .5,.9 .5,.6 .5-.6 .5-.3 .5-.1 .5,.3 .5-.5 .5,.8 .5-.4 .5,.1 .5-.3 .5-.1 .5-.5 .5,.4 .5-.9 .5,.4 .5,0 .5,.6 .5,0 .5-.5 .5,.5 .5-.5 .5,0 .5,.2 .5,.3 .5-.3 .5-.6 .5,.9 .5-.3 .5-.1 .5-.2 .5-.4 .5,.3 .5-.3 .5-.1 .5-.2 .5,.6 .5-.5 .5,.4 .5-.3 .5-1 .5-.8 .5-3 .5-5.7 .5-4.5 .5,4.8 .5,5.7 .5,3 .5,1.9 .5,.5 .5,.7 .5-.6 .5,.3 .5-.2 .5,.4 .5-.4 .5-.3 .5,0 .5-.1 .5,.5 .5-.3 .5,0 .5-1 .5,.5 .5-.4 .5-.4 .5,1 .5-.7 .5,.4 .5,.3 .5-.9 .5,0 .5,1 .5-.6 .5,.8 .5-.7 .5,.1 .5,.8 .5-.2 .5-.5 .5-.4 .5-1.1 .5-1 .5-2.2 .5-2.5 .5-4.1 .5-4.4 .5-2.1 .5,2.2 .5,4.2 .5,3.9 .5,2.8 .5,1.7 .5,1 .5,1.2 .5,.4 .5,.6 .5,0 .5,.1 .5,0 .5,.2 .5,.4 .5,.6 .5-.9 .5,.5 .5,.1 .5-.9 .5-.2 .5-1.4 .5-2.3 .5-1.8 .5,1.7 .5,2.3 .5,.7 .5,1.1 .5,.5 .5-.1 .5,.3 .5,.2 .5-.4 .5-.7 .5,.9 .5,.1 .5-.6 .5-.1 .5,.1 .5,.2 .5-.7 .5-.6 .5-2.1 .5-4.1 .5-7.1 .5-5.6 .5,5.5 .5,7.1 .5,3.9 .5,2 .5,1.3 .5,.1 .5,.1 .5-.5 .5,1.1 .5-.4 .5-.1 .5,0 .5,.6 .5-.4 .5,.4 .5,.6 .5,0 .5-.6 .5-.5 .5,0 .5,.4 .5-.5 .5-.4 .5-1.6 .5-1.4 .5-3.8 .5-7 .5-5.4 .5,5.2 .5,6.6 .5,3.5 .5,2.3 .5,.1 .5,.9 .5,0 .5,0 .5,.9 .5-.6 .5-.4 .5,.9 .5,0 .5-.2 .5-.8 .5-1.2 .5-3.4 .5-5.5 .5-4.5 .5,4.2 .5,5.5 .5,3 .5,.9 .5-.1 .5,.1 .5-.5 .5-1.4 .5-2.3 .5-4.5 .5-6.8 .5-6.3 .5-1.6 .5-2.2 .5-4.9 .5-2.7 .5,5.4 .5,8.9 .5,7.4 .5,4.9 .5,3.3 .5,1.8 .5,1 .5,.5 .5,.1 .5,.3 .5-.6 .5,.9 .5-.1 .5,1 .5-1 .5,.7 .5,.1 .5,1 .5-.9 .5,.5 .5,0 .5,.5 .5,0 .5,.6 .5-.3 .5,1.1 .5-.2 .5,.3 .5-.1 .5,0 .5-.3 .5-.4 .5,0 .5-.7 .5,.4 .5-.6 .5-.4 .5-.1 .5-.3 .5,.7 .5-.7 .5,.3 .5,.1 .5,.1 .5,.1 .5-.6 .5-.1 .5,.3 .5,0 .5-.8 .5,0 .5-.6 .5-1.1 .5-1.5 .5-1.5 .5-1.6 .5-1 .5,1.2 .5,1.5 .5,2 .5,1.1 .5,1.1 .5,.4 .5,1.1 .5,.1 .5,.2 .5-.2 .5,.1 .5,0 .5-.2 .5,.3 .5,.3 .5,0 .5-.5 .5,.3 .5,0 .5-.4 .5,.6 .5-.3 .5-.8 .5,.4 .5-1.3 .5-.7 .5-2.8 .5-4.9 .5-3.4 .5,3.7 .5,4.4 .5,2.8 .5,1.2 .5,.5 .5,.6 .5-.2 .5,.6 .5,.1 .5-.6 .5,.7 .5-.3 .5-.1 .5,.5 .5-.6 .5-.2 .5,.3 .5,0 .5,.1 .5-.5 .5,.3 .5,.1 .5-.8 .5,1.6 .5-.7 .5,.8 .5-.5 .5-.7 .5,.8 .5,.4 .5-.5 .5,.4 .5,.1 .5,.2 .5,.1 .5,.7 .5-.7 .5-.2 .5,.3 .5-.3 .5,.3 .5,.1 .5-.2 .5,.1 .5-.2 .5-.1 .5,.3 .5-1 .5,.2 .5,.2 .5-.1 .5,.4 .5,.1 .5-.5 .5-.6 .5,.5 .5-.7 .5,.2 .5-.4 .5-.7 .5-.6 .5-.2 .5,.7 .5,.2 .5,.9 .5,.3 .5,.2 .5-.1 .5,.1 .5-.3 .5,.5 .5-.3 .5-.9 .5,0 .5,.5 .5,.1 .5-.4 .5-.2 .5,.6 .5-.5 .5,.5 .5-.1 .5,.3 .5-.5 .5,.6 .5,.5 .5-.3 .5-.4 .5,1.2 .5-1.1 .5-.5 .5-.1 .5,.1 .5,0 .5-.9 .5,.3 .5,.1 .5-.9 .5-.1 .5-.5 .5-.8 .5-.6 .5-.5 .5-.8 .5-.5 .5-.2 .5-.5 .5,.4 .5,.5 .5,1 .5,.6 .5,.5 .5,.8 .5,.1 .5,.8 .5,0 .5,.5 .5,.1 .5,.6 .5,.6 .5,0 .5-.4 .5-.4 .5,1.1 .5-.4 .5-.2 .5,.2 .5,.5 .5,.3 .5-.5 .5-.1 .5,.1 .5,0 .5-.6 .5,.1 .5,.1 .5,.3 .5,.4 .5-.6 .5,.7 .5,.4 .5-1 .5,.7 .5-.1 .5,.5 .5-.1 .5-.3 .5,.8 .5-.9 .5,.2 .5,.3 .5,.3 .5-.9 .5,1.1 .5-.4 .5-.7 .5-.3 .5,1.3 .5-.9 .5,0 .5,.1 .5-.4 .5,.6 .5-1 .5,.4 .5-.4 .5,.2 .5,.6 .5-.5 .5,.7 .5-.5 .5,.7 .5-1 .5,.5 .5,.8 .5-.3 .5-.2 .5,.3 .5-.4 .5,0 .5,0 .5-.8 .5,.7 .5,.6 .5-.5 .5-.7 .5,1 .5-1.4 .5,.3 .5,.9 .5-.3 .5,0 .5,.2 .5,.1 .5-.4 .5,0 .5-.1 .5,.5 .5,.4 .5-.1 .5-.8 .5,.3 .5,.5 .5-1.8 .5,1.1 .5,.1 .5-.1 .5-1.2 .5,1.1 .5-.1 .5-.3 .5,.6 .5,.1 .5-.3 .5,0 .5,.3 .5,.7 .5-.7 .5-.4 .5,.3 .5-.4 .5,.3 .5,.4 .5-.5 .5-.1 .5,.1 .5-.4 .5,.2 .5,0 .5,.5 .5,0 .5,.1 .5,.9 .5-.6 .5,.3 .5-.4 .5-.8 .5,1.1 .5-.9 .5,.7 .5-.8 .5,.6 .5,.2 .5,1.1 .5-1.3 .5,.5 .5-.6 .5,.2 .5-.7 .5,.4 .5-.6 .5,0 .5,0 .5,.1 .5,.4 .5,0 .5-.9 .5-.2 .5,.8 .5,.1 .5-.3 .5,.4 .5,.1 .5-.5 .5-.2 .5,1.3 .5,0 .5-.9 .5,.6 .5-.3 .5,.2 .5-.3 .5-.3 .5,.2 .5,.8 .5-.6 .5-.5 .5,1 .5-1.2 .5,.4 .5-.8 .5,.8 .5,.2 .5-.6 .5,.4 .5-.4 .5,.8 .5,.3 .5-.2 .5,0 .5,.4 .5-.1 .5,.4 .5-.2 .5,.3 .5-1.1 .5,.5 .5-.7 .5,.6 .5,.4 .5,0 .5-.4 .5,.3 .5-.3 .5,.2 .5,.5 .5-.2 .5-.3 .5,.1 .5-.2 .5-.8 .5,.5 .5,.3 .5-.4 .5,.5 .5-.3 .5,.8 .5-.7 .5,.7 .5-.4 .5-.6 .5,.4 .5,0 .5-.7 .5,.4 .5,.1 .5-.6 .5,.5 .5-.1 .5-.4 .5,.6 .5,.9 .5-1.1 .5,.3 .5-.7 .5,1.1 .5-.5 .5,.2 .5-.3 .5,.3 .5-.5 .5,.5 .5-.1 .5,0 .5-.7 .5,.6 .5-.1 .5,.9 .5-.3 .5-.5 .5,0 .5,.2 .5-.4 .5,0 .5,0 .5-.2 .5,1.1 .5-1.3 .5,.5 .5,1.1 .5-.8 .5,.2 .5,.2 .5-1 .5,.6 .5,.2 .5-1.2 .5,1.5 .5-.4 .5-1.1 .5,.2 .5,.5 .5-.6 .5,.1 .5,.4 .5-.9 .5,1 .5,.1 .5-.3 .5-.3 .5,.2 .5-.8 .5,.6 .5,.1 .5-.4 .5,.8 .5-.1 .5,0 .5,.1 .5-.4 .5-.1 .5,.3 .5,.3 .5-.4 .5,.7 .5-.6 .5,.4 .5,.2 .5-.2 .5,.5 .5-.6 .5,.7 .5-.4 .5,.7 .5-.7 .5,.5 .5-.5 .5,.6 .5-.6 .5,.3 .5-.2 .5,.1 .5,0 .5-.3 .5,.7 .5,.1 .5-.1 .5,.9 .5-.8 .5,.8 .5-.9 .5,.4 .5-.7 .5,.9 .5-.4 .5-.7 .5,.9 .5-.3 .5-.3 .5,.1 .5-.6 .5,.7 .5-1.4 .5,1 .5-.4 .5-.1 .5-.1 .5,.1 .5,.3 .5-.1 .5,.1 .5,0 .5,.1 .5-.9 .5,.2 .5,.9 .5-.7 .5,.7 .5-1 .5,.2 .5,.5 .5-.3 .5,.6 .5-.4 .5,.4 .5-.9 .5,1.1 .5-.4 .5-.6 .5,.3 .5-.2 .5,.5 .5-.1 .5,.2 .5-.4 .5-.4 .5,.8 .5-.7 .5,1.5 .5-1.5 .5,.6 .5,.6 .5-.7 .5,1.1 .5-.6 .5-.6 .5,.7 .5-.1 .5,.3 .5,.3 .5-.7 .5,.4 .5-.8 .5,.1 .5,.1 .5,.2 .5-.9 .5,.3 .5,.5 .5-.5 .5-.2 .5,.6 .5-.4 .5,0 .5,.1 .5,.5 .5-.2 .5,.3 .5-.7 .5-.4 .5-.4 .5,.1 .5,.2 .5-.2 .5,1.1 .5-.3 .5-.9 .5,.9 .5-.2 .5,.2 .5,.4 .5-.7 .5,.5 .5,.9 .5-.2 .5,.1 .5-.6 .5-.1 .5-.4 .5,.6 .5,.7 .5-1.1 .5,.6 .5-.4 .5,.3 .5,.8 .5-.6 .5,.5 .5-.6 .5-.1 .5,.6 .5,0 .5,.3 .5-.3 .5-1 .5,1.3 .5-1 .5,0 .5,.1 .5-.5 .5,.2 .5-.2 .5,.2 .5-.6 .5-.6 .5,.8 .5,.2 .5,.2 .5,.6 .5-.7 .5,.5 .5-1.3 .5,.5 .5,.4 .5,0 .5,.2 .5-.6 .5,1 .5-.6 .5,.4 .5,.1 .5-.7 .5,.3 .5,0 .5-.2 .5-.2 .5,.3 .5,.5 .5-.3 .5,.2 .5,0 .5-.8 .5,0 .5,.5 .5-.5 .5-.5 .5-.2 .5,.1 .5-.5 .5,.3 .5-.2 .5,.6 .5,.1 .5-.5 .5,1.1 .5-1.1 .5,.4 .5,0 .5,.5 .5,0 .5,.4 .5,0 .5,.1 .5,.3 .5-.5 .5-.2 .5,0 .5-.1 .5-.4 .5,.5 .5-.6 .5,.5 .5,0 .5-.5 .5,.4 .5-.2 .5,.8 .5-.7 .5,.6 .5-.6 .5,.3 .5,1.3 .5-1.3 .5-.4 .5,.2 .5,0 .5,0 .5-.1 .5,.6 .5,0 .5-.4 .5,.7 .5-.6 .5-.5 .5,.5 .5,.1 .5,.2 .5-1.2 .5,.6 .5,.3 .5,.2 .5,0 .5,.4 .5-.6 .5,.5 .5-.6 .5,.8 .5-.6 .5,.7 .5-.2 .5-.5 .5,.7 .5-.7 .5,.1 .5-.1 .5,.2 .5,.6 .5-.7 .5,.3 .5,.3 .5-.9 .5,.5 .5-.1 .5-.4 .5,.1 .5-.2 .5,.6 .5-.4 .5,.2 .5,.3 .5-.2 .5,.8 .5-.5 .5,0 .5-1 .5,.6 .5,.1 .5-.1 .5,.5 .5-.1 .5-1 .5,.6 .5,.3 .5-.5 .5,.1 .5-.1 .5,.6 .5,.1 .5,0 .5-.3 .5-.6 .5,.7 .5,.3 .5,.2 .5-.9 .5-.1 .5,0 .5,.1 .5-.4 .5,.6 .5,0 .5-.3 .5-.7 .5,1.3 .5-.1 .5-.5 .5,1.4 .5-.6 .5,0 .5,.3 .5-.7 .5,.5 .5-.1 .5-.2 .5-.5 .5,.5 .5,0 .5-.7 .5,.2 .5,0 .5-.1 .5-.4 .5,0 .5,.3 .5-.3 .5,.5 .5-.5 .5,.4 .5-.4 .5,.4 .5,.3 .5-1.3 .5,1.3 .5-.5 .5,.1 .5,0 .5-.8 .5,.8 .5-.9 .5,.3 .5-.2 .5,.3 .5,1 .5-.5 .5,.3 .5-.1 .5-.1 .5,.4 .5,.5 .5-1.2 .5,1.1 .5-.1 .5-1 .5,.4 .5,.5 .5,.2 .5-.1 .5-.7 .5,.5 .5-.1 .5-.7 .5,.1 .5-.4 .5,.9 .5-.5 .5,.7 .5-.8 .5,.6 .5-.2 .5-.3 .5,.2 .5,.1 .5-.6 .5,.4 .5-.3 .5,0 .5,.3 .5-.4 .5-.1 .5,.2 .5,.7 .5-.2 .5-.1 .5-.2 .5,.2 .5,.4 .5,.1 .5,.3 .5,0 .5,.3 .5-.5 .5-.3 .5,.4 .5,.4 .5-.1 .5-.2 .5-.1 .5-.5 .5,.5 .5-.1 .5-.7 .5,.6 .5-.2 .5-.7 .5,.6 .5-.5 .5,.8 .5-.2 .5-.4 .5,.6 .5-.4 .5,.8 .5-.2 .5-.3 .5,.5 .5-.6 .5,.6 .5-.1 .5,0 .5-.8 .5,.5 .5,0 .5,.1 .5,.3 .5-.3 .5-.3 .5,1 .5-.1 .5-.8 .5,.7 .5-.2 .5,.1 .5-.5 .5,.1 .5-.4 .5,.3 .5-.1 .5-.1 .5,.6 .5-.4 .5-.3 .5-.1 .5,.7 .5-1 .5,0 .5,.1 .5-.2 .5,.4 .5-.1 .5-.1 .5,.4 .5,.3 .5-.8 .5,.9 .5-.8 .5,.1 .5-.2 .5,.5 .5,.4 .5-.1 .5,.6 .5-.7 .5,.1 .5-.6 .5,1.3 .5-1.3 .5,.9 .5,.1 .5,.1 .5-.4 .5-.2 .5,1 .5-.7 .5,.5 .5-.5 .5,.1 .5-.2 .5,.2 .5-.2 .5,.4 .5-1 .5,.1 .5,.9 .5-1.3 .5,.7 .5,.3 .5-.7 .5,.2 .5,.7 .5-1.6 .5,1.5 .5-1 .5,.5 .5,.8 .5-.3 .5,.4 .5,.6 .5-1.7 .5,1.5 .5-.7 .5,.1 .5,0 .5,.4 .5,.2 .5-.6 .5,.4 .5,.1 .5,.1 .5,.2 .5-.7 .5-.1 .5,.3 .5-.3 .5-.5 .5,0 .5-.1 .5,.3 .5-1.1 .5,.4 .5,.3 .5-.3 .5,0 .5,.2 .5-.3 .5-.1 .5,.3 .5-.5 .5-.2 .5,1.3 .5-.4 .5-.2 .5-.3 .5,0 .5,.7 .5-.3 .5-.5 .5-.1 .5,.5 .5-.1 .5-.8 .5,1.5 .5-.1 .5-.8 .5-.3 .5,1.4 .5-.7 .5,.2 .5,.6 .5-.5 .5,.7 .5,.3 .5-.5 .5,.3 .5,.2 .5,0 .5,.1 .5-.2 .5-.8 .5,0 .5-.2 .5,.9 .5-1.3 .5,.6 .5-.3 .5,0 .5-.1 .5,.2 .5,0 .5,.7 .5-.5 .5,0 .5,.2 .5,.6 .5-.6 .5-.6 .5,.9 .5-.4 .5-.7 .5,.4 .5-.3 .5,.6 .5,.2 .5-.5 .5-.4 .5-.4 .5,.9 .5-.1 .5,0 .5-.3 .5,.2 .5-.8 .5,.6 .5-.5 .5,.3 .5,.3 .5-.8 .5,.1 .5,.8 .5-.5 .5,.4 .5-.7 .5,.1 .5,.5 .5-.2 .5-.5 .5,.6 .5,.4 .5,0 .5,.4 .5,0 .5,.2 .5-.4 .5,.5 .5,0 .5,0 .5-.1 .5,.9 .5-.3 .5,1 .5-.5 .5-.1 .5,.8 .5-.9 .5-.1 .5,.4 .5-.1 .5-.3 .5-.1 .5-.2 .5-.1 .5,.2 .5-.1 .5-.6 .5,.2 .5,.3 .5-.5 .5-.5 .5,.4 .5-.5 .5-.5 .5,1.3 .5-1.4 .5,.7 .5-.2 .5-.3 .5,.9 .5-.6 .5,1 .5-.8 .5,.1 .5-.9 .5,1.1 .5-.1 .5-1 .5,1.7 .5-.6 .5-.8 .5,.1 .5-.1 .5,1 .5-.4 .5-.2 .5,.7 .5-1.1 .5,.5 .5-.1 .5-.4 .5-.2 .5,1.1 .5-.7 .5-.2 .5-.1 .5-1 .5,1.5 .5-1.3 .5,1.2 .5,.4 .5-.1 .5,.5 .5-.8 .5,1 .5-.3 .5,.1 .5-.3 .5,0 .5,.6 .5,.3 .5,0 .5-.9 .5,.2 .5,.3 .5,0 .5-.4 .5-.5 .5,.9 .5-.1 .5-.3 .5-.1 .5-.5 .5-.2 .5-.2 .5,0 .5-.1 .5,0 .5,.4 .5-.1 .5,.3 .5-.2 .5,.3 .5-.4 .5-.2 .5,.1 .5,.4 .5,.8 .5-.7 .5,1.4 .5-1 .5-.7 .5,.5 .5,1.2 .5-1 .5-.2 .5,1 .5-.4 .5-.4 .5,.1 .5,.9 .5-.1 .5-.2 .5-1.2 .5,.1 .5,.5 .5,0 .5-.6 .5,.4 .5-.7 .5,.1 .5-.8 .5,1 .5,.1 .5-.5 .5,.5 .5-.4 .5,.2 .5,.1 .5,.1 .5,.1 .5,.3 .5-.1 .5-.6 .5,.6 .5,0 .5,0 .5-1 .5,1.4 .5-.5 .5,0 .5,.4 .5-.2 .5,1.2 .5-.6 .5,.3 .5-.1 .5-.5 .5,.1 .5,.3 .5-.9 .5,.4 .5-.2 .5-.1 .5-.7 .5,.1 .5-.7 .5,.9 .5-.4 .5-.4 .5,.5 .5,.5 .5,0 .5,.5 .5-.3 .5-.1 .5-.3 .5,1.2 .5-.1 .5-1.1 .5-.2 .5,1 .5,1.1 .5-1.6 .5,.5 .5-.3 .5,.4 .5,0 .5-.2 .5,.3 .5,.1 .5,.1 .5-.6 .5,.1 .5-.1 .5,.6 .5,.2 .5-.5 .5,0 .5,.5 .5-.6 .5,.4 .5,.3 .5-.5 .5,.2 .5-.4 .5-.7 .5,0 .5,.8 .5-.4 .5,.7 .5-1.2 .5,1.1 .5-1.2 .5-.2 .5,.5 .5,.9 .5-.8 .5,1.2 .5-.4 .5,0 .5,.5 .5-.6 .5,.6 .5-.7 .5,.1" fill="none" stroke="#F14040" stroke-width="4.3" stroke-linejoin="round"/>
<path d="M116.4,1446.0l.5-1.8 .5-.3 .5,1.3 .5,.7 .5,0 .5-1.9 .5,.8 .5-.6 .5,.1 .5,2.4 .5-1.8 .5,1.4 .5-.7 .5,.6 .5-.1 .5-.3 .5,2.2 .5-1.7 .5-1.3 .5,.7 .5,0 .5,1.9 .5-.4 .5,.1 .5,.1 .5,.3 .5-1.4 .5,.4 .5,.8 .5,.1 .5-1.8 .5,2.4 .5-1.3 .5,.8 .5-2 .5-.6 .5,2.1 .5-.9 .5,1.1 .5-1.5 .5,2.1 .5-1.8 .5,1.8 .5-.7 .5,.4 .5-.4 .5-1.2 .5,.6 .5,1.6 .5-1.2 .5-.6 .5,2 .5,.4 .5-1.2 .5,2.8 .5-2.7 .5,.5 .5,.6 .5-3.5 .5,2.7 .5-.1 .5-.6 .5,1.5 .5-.2 .5-2.2 .5,2.9 .5-.8 .5,.9 .5-1.2 .5-.7 .5,1.1 .5-.4 .5,1.1 .5,.8 .5-2 .5,1.9 .5-2 .5,1.4 .5,.8 .5-.9 .5-.2 .5-.2 .5,2.2 .5-1.3 .5,1.2 .5-2 .5,1.4 .5-.9 .5-1.4 .5,1.8 .5-.9 .5,1 .5,0 .5,1.7 .5-.8 .5-3.4 .5,3 .5,.1 .5,.7 .5-.1 .5,.5 .5-.8 .5,2.3 .5-1.9 .5-.3 .5,.5 .5-1.2 .5-1.3 .5,2.6 .5,1.3 .5-3.4 .5,1.1 .5-.8 .5,4.2 .5-1.1 .5-1.1 .5,.4 .5,.1 .5-.2 .5-.9 .5,.2 .5,.7 .5,.4 .5-1.7 .5-.1 .5,.5 .5-.2 .5,1 .5,.5 .5-1.2 .5,.2 .5-.8 .5-.3 .5,1.7 .5,1.2 .5-2.2 .5-.2 .5,2.2 .5-2.2 .5,.9 .5,.5 .5,.3 .5,.9 .5-.6 .5,.6 .5-.9 .5-.3 .5-.2 .5,1.6 .5-.8 .5,.6 .5-.4 .5-1.8 .5,2.5 .5-.6 .5-.9 .5,1.6 .5,.1 .5,1.2 .5,.2 .5-2.2 .5,1.4 .5,.8 .5-.7 .5-1.8 .5,1.7 .5-.8 .5,1 .5-.8 .5-.1 .5,2.5 .5-3.2 .5,.6 .5,1.7 .5-1.2 .5-.7 .5,1 .5-.1 .5,1 .5,1.3 .5-3 .5,1.1 .5,.3 .5-.7 .5-1.8 .5,1.1 .5,.5 .5-1.2 .5,1.5 .5,2.8 .5-2 .5-.2 .5-.7 .5-.6 .5-1 .5,1 .5,.3 .5-1.1 .5,3.2 .5-1.7 .5,.8 .5-2.5 .5,.4 .5,1.4 .5-.3 .5,2.2 .5-1.1 .5-.5 .5,.2 .5,.4 .5,.2 .5,.2 .5-2.9 .5,1.7 .5-1.6 .5,.7 .5,.1 .5,2.7 .5-2 .5-1.9 .5,3.5 .5-.9 .5,.5 .5-1 .5,.6 .5-.2 .5,1.3 .5,.8 .5-2.4 .5,1.1 .5-1 .5,1.4 .5-1.6 .5,.7 .5,.8 .5,1.5 .5-.7 .5-1.4 .5-.4 .5,1.3 .5-.5 .5-.6 .5-2.2 .5,1.8 .5,.6 .5-2.1 .5,.8 .5,2.8 .5-.8 .5-1.5 .5-.5 .5-.2 .5,2.1 .5,2.3 .5-2.3 .5,1.4 .5-1.7 .5,.6 .5,1.3 .5-3.4 .5,.9 .5,1.8 .5,.2 .5-.6 .5-.9 .5-.1 .5,1.3 .5-.8 .5-.2 .5,1.1 .5-2.8 .5,2.1 .5-3.1 .5,2.3 .5,.8 .5-.6 .5,.8 .5-1.6 .5,1.4 .5,1.2 .5-3.1 .5,1.3 .5,2.5 .5-.7 .5-1.6 .5,1.6 .5-.8 .5-1 .5,.6 .5,.1 .5,0 .5,.5 .5-1 .5-1.5 .5,4.1 .5-2.7 .5,1 .5,.3 .5,0 .5-1.9 .5,2.4 .5-2.3 .5,3.1 .5,.7 .5-2 .5,.7 .5-.4 .5-1.4 .5,.1 .5,.9 .5-.2 .5,1.3 .5-.6 .5,.3 .5-1.3 .5-.6 .5,.6 .5-.3 .5,.1 .5,1.1 .5-1.1 .5,1.2 .5-2.1 .5,1.2 .5,1.5 .5-2.6 .5,3.7 .5-1.3 .5,2.2 .5-2.4 .5,.4 .5,1 .5-3.2 .5,1.6 .5,.7 .5-1.4 .5,.9 .5-.6 .5-1.4 .5,1.3 .5,1.3 .5-.4 .5-.9 .5,.1 .5-.9 .5,1.7 .5,.6 .5-.6 .5,0 .5,.3 .5-.9 .5-.2 .5,.6 .5-.9 .5,.1 .5,2 .5,0 .5-.6 .5-1.6 .5,.4 .5,2.2 .5-1.9 .5,.9 .5-1.1 .5-.5 .5,.5 .5,.3 .5,1.5 .5-1.6 .5,3.5 .5-.9 .5-2.6 .5,1.3 .5,.5 .5,.4 .5-1.3 .5,.1 .5,1.2 .5-1.7 .5,.3 .5,1.8 .5-1.1 .5,.9 .5,.2 .5-1.8 .5,0 .5,1.6 .5-.4 .5-1 .5-.8 .5,.4 .5,.7 .5,1.2 .5-.6 .5-.9 .5,1.5 .5-.9 .5-.4 .5-1.2 .5,.2 .5,1.2 .5-1.2 .5-1.4 .5,1 .5,1.2 .5,1 .5-3.4 .5,1.9 .5,1.2 .5-.3 .5-.6 .5-.9 .5,.8 .5,.1 .5,0 .5,1.4 .5-2.4 .5,.2 .5,1.7 .5-.9 .5,1.3 .5-2.6 .5,1.6 .5-2.4 .5-.6 .5-2.9 .5-5.8 .5-3.9 .5,4.6 .5,5 .5,3.6 .5,2.4 .5,1.1 .5-.1 .5-.5 .5-1.9 .5,3.5 .5-3.4 .5,1.4 .5,1.2 .5,.2 .5-2.9 .5,1.6 .5-1.1 .5,.8 .5-1 .5-.2 .5-.9 .5,1.6 .5-2.2 .5-.5 .5,1.5 .5,.3 .5,1.5 .5,.3 .5-2.8 .5,2.6 .5-1.4 .5,.1 .5,1.2 .5,1 .5-2 .5,.3 .5-.5 .5-1.6 .5-.8 .5-1.4 .5-2.6 .5-4.5 .5-3.9 .5-2 .5,1.4 .5,4.3 .5,3.3 .5,4.5 .5,1.7 .5,.4 .5,1.2 .5,.3 .5,.5 .5,.6 .5,1.6 .5-2.4 .5,.6 .5-.6 .5,1.1 .5,.3 .5-.8 .5,.7 .5-.5 .5-1.4 .5-.6 .5-2.9 .5-1.8 .5,2.1 .5,2.5 .5,1.6 .5-1.1 .5,1.7 .5,.3 .5-1.5 .5,1.8 .5-2 .5,2.3 .5-1.5 .5,1.3 .5-1.1 .5,0 .5,.2 .5-.2 .5,.8 .5-2.5 .5-1.4 .5-3.7 .5-7.2 .5-5.9 .5,5.6 .5,7.3 .5,4.3 .5,2.8 .5-.7 .5,1.5 .5-.7 .5-1.3 .5,1.5 .5,1.2 .5-1.9 .5,1.3 .5,.1 .5,.4 .5,.2 .5-.7 .5-1.9 .5,3.4 .5-2.1 .5,.6 .5,.3 .5-.7 .5-.4 .5-1.4 .5-1.9 .5-3.7 .5-7.3 .5-4.8 .5,5 .5,7 .5,3 .5,2 .5,1.5 .5-1.2 .5,1.6 .5-2.5 .5,.3 .5,2.4 .5-1.4 .5-.4 .5,.3 .5,.9 .5-1.5 .5-.6 .5-3.4 .5-5.2 .5-3.9 .5,3.3 .5,5.6 .5,3.8 .5,1.6 .5-.6 .5-.2 .5-.8 .5-1.3 .5-2.3 .5-4.6 .5-7 .5-6.3 .5-1.7 .5-1.8 .5-5 .5-3 .5,5.7 .5,8.4 .5,7.7 .5,5.1 .5,2.8 .5,1.7 .5,1.7 .5,1.4 .5,0 .5-2.1 .5,1.5 .5-1.1 .5,.2 .5,1.9 .5,1.3 .5-2.7 .5,2.2 .5,.7 .5-1.3 .5,1 .5-.4 .5-.1 .5,.6 .5-.3 .5,2.5 .5-1.4 .5-.8 .5,1.9 .5-1.7 .5,1.3 .5-1.6 .5,2.4 .5-2 .5,.6 .5-1.4 .5-.4 .5,0 .5,1.6 .5-.2 .5-1.5 .5-.8 .5,.2 .5-.9 .5,1.2 .5-1.1 .5,.1 .5,.3 .5,1.4 .5-.2 .5-.4 .5-.6 .5-1.3 .5-.3 .5-1.8 .5-1.9 .5-1.2 .5-.3 .5,.1 .5,1.9 .5,1.2 .5,2.1 .5,.9 .5-.3 .5,.8 .5,1.3 .5,.1 .5,.9 .5,.3 .5,.5 .5,.7 .5-2.5 .5-.9 .5,.7 .5,.8 .5,0 .5-1.9 .5,2.4 .5-1.2 .5-1.3 .5,1.3 .5,.1 .5-.7 .5-1.9 .5-2.6 .5-4.4 .5-4.5 .5,3.8 .5,4.5 .5,3.2 .5,1.3 .5-.5 .5,.3 .5,0 .5,2.2 .5-.2 .5-.7 .5-.3 .5,1.7 .5-2.1 .5-.9 .5,2.2 .5-1.1 .5-1.9 .5,3.2 .5-.3 .5-1.1 .5-.7 .5,2.3 .5-1.6 .5,1.5 .5-.6 .5,2.2 .5-.6 .5-1.5 .5,1.5 .5-.9 .5,.1 .5-1 .5,1.4 .5-2.3 .5,1.3 .5-.3 .5,2.6 .5-1.1 .5,1.3 .5-3.5 .5,4.5 .5-1.4 .5-1.4 .5,2.2 .5-1.9 .5,.6 .5-2 .5-.1 .5,.1 .5-.3 .5,1.8 .5-1.7 .5-1.1 .5,1.8 .5,.3 .5-1.8 .5,.7 .5,.8 .5-1 .5-2 .5-.1 .5-.2 .5,2.9 .5,.2 .5-.3 .5-.4 .5,1.7 .5-1.9 .5,.6 .5-.2 .5,.6 .5-.4 .5,1.2 .5-3.1 .5,1.4 .5,.9 .5-.4 .5-1.2 .5,.4 .5,2.2 .5-.8 .5-.9 .5,.2 .5,.4 .5,1.2 .5-1.1 .5,2 .5-1 .5,.4 .5-1.2 .5-.3 .5-.1 .5-.2 .5-2 .5,1.3 .5-1.1 .5,1.2 .5-.2 .5-.4 .5-1.5 .5,.6 .5-.6 .5-2.2 .5,.4 .5-.3 .5-1 .5-.6 .5,1.2 .5-1 .5,1.3 .5,1.2 .5,.5 .5,.1 .5,.1 .5,1.8 .5,.1 .5,.1 .5-1.6 .5,2.2 .5-1.1 .5,2.6 .5-1.4 .5,1.1 .5-1.7 .5,.9 .5-1.1 .5,3 .5-1.5 .5,.3 .5,.8 .5-3 .5,3.1 .5-.9 .5,.7 .5-1.4 .5-.7 .5,2.8 .5-.7 .5,.5 .5-.9 .5-2.6 .5,3.9 .5-.1 .5-1.7 .5,2.1 .5-1.2 .5-1.9 .5,2 .5,.2 .5,1.1 .5-.5 .5-2.5 .5,1.1 .5,.6 .5,2 .5-2.2 .5,.5 .5,.7 .5-.5 .5-1.1 .5,.7 .5,.9 .5-1.3 .5,1.5 .5-2.4 .5,.9 .5-1.1 .5,3.5 .5-2.1 .5-.8 .5-1.4 .5,1.1 .5-.3 .5,2 .5,.7 .5-.7 .5-1 .5,.4 .5,1.3 .5-1.9 .5-.8 .5,1.1 .5,1.8 .5-.4 .5,1 .5-3.9 .5,2.8 .5-.6 .5-1 .5-.2 .5-.7 .5,1.7 .5-1.1 .5,2.8 .5-3 .5,2.4 .5-2.2 .5-.1 .5,1 .5,.2 .5-1.6 .5,2.1 .5-1.8 .5,.5 .5,.5 .5-1.2 .5,1.8 .5-1.5 .5,1.8 .5-1.3 .5,.8 .5-2.2 .5-.3 .5,2.8 .5-3.3 .5,1.8 .5,1.9 .5-.6 .5,.3 .5-.1 .5-.9 .5-.2 .5,0 .5-2.1 .5,4.3 .5-4.5 .5,2.4 .5-.2 .5,2.3 .5-2.8 .5-.1 .5-.6 .5,.4 .5,.4 .5,2.8 .5-2.9 .5,0 .5,2 .5,0 .5,0 .5-1.5 .5,1.9 .5-3.6 .5,.6 .5,1.5 .5-.1 .5-1.9 .5,.9 .5,1.3 .5-2 .5,.6 .5,2 .5-1.7 .5-1.4 .5,1.3 .5,2.1 .5-2.2 .5,1.1 .5-2.1 .5,2.5 .5-2.6 .5,1.8 .5-.8 .5,2.1 .5,1.2 .5-2.5 .5-.4 .5,2.8 .5-2.8 .5,.6 .5-.5 .5-.7 .5,1.7 .5,.9 .5-1.2 .5,0 .5-2.7 .5,1.2 .5,.3 .5,0 .5,0 .5-.6 .5,.1 .5,1.4 .5-.6 .5,2.2 .5-2 .5-.1 .5,1.2 .5,.7 .5-1.2 .5-.9 .5,.9 .5-1.3 .5,3 .5,.4 .5-2.6 .5,2 .5-.8 .5-.4 .5,.4 .5-3 .5,3.3 .5-2.5 .5,1.6 .5,2 .5-.8 .5-1.2 .5-.4 .5,.3 .5,.2 .5,.9 .5-2 .5-.5 .5,1.1 .5,.2 .5,.3 .5-.5 .5,1 .5-1.2 .5,.4 .5-.6 .5,2.8 .5-2.1 .5,.4 .5-1.5 .5,1.5 .5-1.6 .5,2.7 .5-.8 .5,.3 .5-2.3 .5,1 .5,1 .5-.4 .5-.4 .5,1.4 .5-2.4 .5,1.1 .5,.2 .5-.3 .5,1.8 .5-3 .5,1.7 .5,.1 .5,2 .5-3.8 .5,1.7 .5,.4 .5-.6 .5,.5 .5,1.2 .5,.6 .5-1.9 .5-1.2 .5,1.8 .5,0 .5-2.5 .5,1.3 .5,0 .5,1.2 .5-.2 .5-1 .5-.5 .5-1.4 .5,1.4 .5,2.2 .5-1.7 .5,1 .5-1.3 .5,2.2 .5-2.9 .5,.3 .5-.4 .5-.5 .5,1 .5,.2 .5,1.8 .5-2.3 .5-.4 .5,.8 .5-.7 .5-.3 .5,1.7 .5-.5 .5-.5 .5,1.6 .5-.2 .5-1 .5,.5 .5-.4 .5-.5 .5-.4 .5-.8 .5,1.3 .5,1.5 .5-1.3 .5,1.8 .5,.1 .5,.2 .5,.1 .5-2.1 .5,.6 .5-.8 .5,.6 .5,.7 .5-.1 .5-1.3 .5,1.3 .5,.2 .5,.9 .5-3 .5,2.2 .5,1.6 .5-2 .5,.4 .5-1.2 .5,1.9 .5,.5 .5-1.6 .5-1.3 .5,.7 .5,1.1 .5-.9 .5,1.6 .5-1 .5-.2 .5-1.3 .5,2.8 .5,.2 .5-4.4 .5,.8 .5,1.5 .5,1.7 .5-.8 .5-.3 .5-.4 .5-.5 .5-.5 .5,1.4 .5-3.3 .5,1.9 .5,3.3 .5-2.8 .5-1.2 .5,3.2 .5-3.2 .5,.7 .5,.8 .5-1.1 .5-1.2 .5,1.4 .5,.5 .5,1.1 .5,.6 .5-.9 .5,.6 .5-1.9 .5,2.6 .5,.1 .5,.3 .5-3.2 .5,2.1 .5-1.1 .5-.1 .5,.7 .5-.7 .5-.1 .5,1.1 .5-1.3 .5-.8 .5,1 .5,1.5 .5,0 .5,.3 .5,.8 .5-1.4 .5-.6 .5,1 .5,.3 .5-2.4 .5,.6 .5-.2 .5,1 .5,1.1 .5-1.9 .5,.3 .5-2.4 .5,3.1 .5-1.4 .5,1.6 .5,.9 .5-2.3 .5-.1 .5,.7 .5,2 .5-1.6 .5-2.1 .5,2.1 .5-1.6 .5,2.7 .5-1.7 .5-1 .5,1.4 .5-1 .5-1.4 .5,2.8 .5,1.2 .5-.1 .5-2 .5-1.3 .5,2.3 .5-1.1 .5,.6 .5-.4 .5,1 .5-1 .5,1.4 .5-.9 .5-1.3 .5,1.2 .5,2 .5-1.4 .5-1 .5,.4 .5,2.9 .5-2.3 .5,1.3 .5-.2 .5-3.4 .5,2.7 .5-2.7 .5,0 .5,2.2 .5,0 .5-1 .5,.3 .5,1.3 .5-.6 .5-1.3 .5-.6 .5,2 .5-.7 .5,.3 .5-.8 .5,.5 .5,.4 .5-.1 .5,.6 .5-.8 .5-.1 .5,1.5 .5,.8 .5-3 .5,3.6 .5-.5 .5-.5 .5-3 .5,.7 .5-.3 .5,1 .5-.9 .5,1 .5,1.1 .5-1.5 .5,1.7 .5,.7 .5-3 .5-.1 .5,2.7 .5-3.6 .5-.4 .5,2.2 .5,.5 .5-2 .5,2.2 .5-2.2 .5-.7 .5,1.3 .5-.1 .5,1.1 .5-.1 .5-1.7 .5-.1 .5-.2 .5,2.8 .5-1.5 .5-.7 .5,.1 .5,1.5 .5-.8 .5-.3 .5-.2 .5,2.9 .5-.7 .5-3 .5,3.1 .5-2.4 .5,.8 .5-1.5 .5,1.3 .5-.1 .5,1.2 .5-1.2 .5-.4 .5,1.3 .5-.9 .5-.8 .5,2.2 .5-1.3 .5,.1 .5,.4 .5-2 .5,2.9 .5-1.2 .5,1.1 .5,1.7 .5-1.8 .5-1 .5-.1 .5,1.9 .5-3.3 .5,2.1 .5-1.2 .5,1.5 .5,.3 .5-.6 .5-.1 .5-.7 .5,1.1 .5-1 .5-.3 .5-.5 .5,2.7 .5-1.5 .5-.6 .5,1.6 .5,.4 .5,0 .5,1.6 .5-3.8 .5,.3 .5,.2 .5,.1 .5,.5 .5,.6 .5-.1 .5-2.3 .5-.3 .5,3.5 .5-2.6 .5,1.6 .5-1.1 .5,1.7 .5-.8 .5,.6 .5,.4 .5-2.5 .5,1.1 .5-.9 .5,1.9 .5-1.7 .5,1.9 .5-.1 .5-1.2 .5-.9 .5,3.3 .5-3.3 .5-.5 .5,1.5 .5,.2 .5-1.1 .5,.2 .5,0 .5,.1 .5,1.1 .5-2.1 .5,.6 .5,1.7 .5,.4 .5-1.9 .5,2.2 .5-2.6 .5-1.5 .5,3.1 .5-.4 .5-.7 .5,1 .5-2.4 .5,3.5 .5-1.1 .5-2.7 .5,1.3 .5,1.7 .5-2 .5,2.4 .5-.8 .5,.2 .5-.6 .5,1.1 .5-1.2 .5,2 .5-.9 .5-1.1 .5-.7 .5,.9 .5,1.4 .5-1.3 .5,.3 .5,.1 .5-2.3 .5,.5 .5,1.7 .5-2.1 .5,2.6 .5-1.1 .5-.9 .5-.2 .5,2.6 .5-1.1 .5-.9 .5,.1 .5-1.4 .5,2.1 .5-1.2 .5,2.4 .5-.6 .5-1.9 .5,1.8 .5,0 .5,1.1 .5-2.5 .5,1 .5-1.9 .5,3.3 .5-.3 .5-.6 .5-1.6 .5,.6 .5,.6 .5,.4 .5,.2 .5-.5 .5-.3 .5,.1 .5-2 .5,2 .5-1.2 .5-.1 .5,1.7 .5-2.7 .5,2.8 .5-2.2 .5-1 .5,3.3 .5-.5 .5-1.8 .5,1.8 .5-.7 .5-1.9 .5,2.3 .5-.2 .5-2.3 .5,2.2 .5-1.3 .5,2.1 .5-3.1 .5,1.4 .5-.3 .5,2.2 .5-2.3 .5,.1 .5,1.2 .5-1.4 .5,2.1 .5-.8 .5,.8 .5,1 .5-1 .5-1.6 .5,.3 .5,3.1 .5-.4 .5-1.4 .5,1.6 .5-2.5 .5,.8 .5,1.2 .5-1.3 .5,1 .5-.2 .5,.4 .5-2.4 .5,.9 .5,2.6 .5-4.1 .5,2.4 .5,.2 .5-1.6 .5,1.2 .5-1.2 .5,1.1 .5,1.9 .5-2 .5,.7 .5-.3 .5,.6 .5-.4 .5-1.5 .5,.1 .5,2 .5-1.8 .5,.8 .5-1.1 .5,.2 .5,.7 .5,2.9 .5-3.3 .5-.6 .5,.7 .5,1.7 .5-.5 .5-2.2 .5-1.1 .5,2.2 .5-.8 .5,1.6 .5-2.6 .5,1.9 .5-2.2 .5,1.5 .5,1.4 .5-.7 .5-1.4 .5,.6 .5,1 .5-2.6 .5,1.5 .5-1.9 .5,3.3 .5-.5 .5,1.9 .5-2.4 .5,1.7 .5-2.5 .5-.2 .5,1.1 .5-1 .5,2 .5-.7 .5,.8 .5-.3 .5,0 .5-.3 .5-1.2 .5,1.2 .5,1.2 .5-1.7 .5,1.3 .5-1.8 .5,1.4 .5-1.5 .5,1.6 .5,.7 .5-1.4 .5,2.4 .5-1.9 .5-1.8 .5,2.7 .5-1.3 .5-.4 .5-.7 .5,1.5 .5-.4 .5,.2 .5-1 .5-.8 .5,.3 .5,.3 .5,1.2 .5,.5 .5,.1 .5-1.3 .5,.1 .5,2.6 .5-1.2 .5,.3 .5,.7 .5-.4 .5-.1 .5-.7 .5-.6 .5,.7 .5,1.7 .5-.9 .5-.1 .5-2 .5,1.3 .5-1 .5,1.5 .5-2.1 .5,2.2 .5-1.2 .5-1.5 .5,1.5 .5-1.4 .5,1.3 .5,.1 .5,2 .5-3.1 .5,.1 .5,.6 .5,.2 .5,1.8 .5-3.6 .5,.9 .5,2 .5-1.6 .5-.4 .5-.3 .5,.6 .5-.4 .5-.7 .5,1.8 .5,.7 .5-1.3 .5-1.1 .5-.5 .5,2.9 .5-2.1 .5,.2 .5-1.5 .5,2.5 .5,.6 .5-3.2 .5,2.4 .5,1.2 .5-1 .5,.7 .5-.7 .5,1.4 .5,.3 .5,0 .5,.1 .5-1.9 .5,.3 .5,1 .5-1.7 .5,.5 .5,.2 .5,2.5 .5-3.3 .5,.9 .5,.2 .5-1.4 .5,1.6 .5-.2 .5-.5 .5-1.6 .5,.5 .5,3.3 .5-3.7 .5,3 .5-.9 .5,1.5 .5-2.3 .5,.1 .5-.7 .5,3.5 .5-3 .5,1.6 .5-1.5 .5-1.8 .5,2 .5,.2 .5-.5 .5,.4 .5-1.6 .5-.1 .5,.3 .5,.6 .5-.5 .5,2.4 .5-1 .5-1.2 .5,1.2 .5-1 .5,1.3 .5-2.7 .5,.9 .5-1.4 .5,1.2 .5-.5 .5-1.1 .5,3.3 .5,1.4 .5-1.8 .5,.9 .5-2.5 .5,3.8 .5-.9 .5-1.4 .5,.2 .5,1.2 .5,.9 .5-2.1 .5,2.3 .5-.4 .5-.9 .5,1.9 .5-1.4 .5,.6 .5,.6 .5,.2 .5-2.4 .5,1.2 .5-.7 .5-.4 .5,1 .5-1.3 .5,0 .5-.2 .5,1.5 .5-.1 .5-2.6 .5,1.2 .5-.3 .5,0 .5,.4 .5-.3 .5-1.8 .5-.8 .5,2.5 .5,1.5 .5-1.3 .5,1.8 .5-.7 .5-.6 .5,.2 .5-.6 .5,.7 .5-.3 .5-1.1 .5,.5 .5,1.1 .5,.1 .5-1.5 .5,1.3 .5-.9 .5-.3 .5,.4 .5,.5 .5-.2 .5-2.2 .5,2.5 .5-1.1 .5,.1 .5,1.1 .5-.2 .5,1.7 .5-1.7 .5,.8 .5-1.8 .5-1.9 .5-.1 .5,3.3 .5,1.5 .5-1.7 .5-.3 .5,.1 .5,1.5 .5-2 .5,2.9 .5-1.3 .5-2.6 .5,2.4 .5-.7 .5,.1 .5,1.3 .5-.7 .5-.5 .5-.3 .5,1.1 .5,.5 .5-2.9 .5,1.4 .5-1.2 .5,.9 .5,.1 .5-1.3 .5,.6 .5-.6 .5-.5 .5,.6 .5,.4 .5-1.4 .5,2 .5-.8 .5,.7 .5,.4 .5-1.8 .5,1.5 .5,.2 .5,1.5 .5-.9 .5-.2 .5-1.1 .5,.4 .5-.8 .5-.5 .5,1.4 .5-.6 .5,1.5 .5,.9 .5-3.2 .5,1.1 .5,1.6 .5-2.9 .5,3.2 .5-2.4 .5,1.3 .5,1.5 .5-1.8 .5,.9 .5-2.9 .5,2.3 .5-1.2 .5-.4 .5,.6 .5-1.1 .5,1.8 .5-.8 .5-.9 .5,1.6 .5,.6 .5,.3 .5-1.7 .5,2.1 .5-.4 .5-.8 .5-.8 .5-.3 .5,3 .5,.3 .5-2.5 .5,1.5 .5-.1 .5-.3 .5-1.6 .5,2.2 .5-2.6 .5,1.1 .5,0 .5,2.5 .5-4.2 .5,3.3 .5-2.3 .5-.5 .5,.2 .5,2.6 .5-1.6 .5,.7 .5-1.9 .5,1.2 .5,.4 .5-2.7 .5,2 .5,.4 .5,.1 .5-.5 .5-1.2 .5,1.5 .5,.5 .5,.1 .5-1.5 .5,.2 .5,1.8 .5-2.6 .5,2.1 .5-.7 .5,.4 .5,2.4 .5-2.3 .5,1.7 .5-2.6 .5,1.1 .5-.6 .5,1 .5-.5 .5-.8 .5,1.7 .5,.1 .5-.6 .5-.7 .5,.2 .5,.2 .5,1.4 .5-2.4 .5-.7 .5,.7 .5,1.3 .5-.9 .5-.1 .5-1.2 .5,1.4 .5-1.5 .5,1.2 .5-.3 .5-2.1 .5,1.6 .5,.3 .5,.2 .5-.2 .5,1 .5,2.8 .5-2.4 .5-.1 .5-.9 .5,1.3 .5,.8 .5-1 .5,.5" fill="none" stroke="#F14040" stroke-width="2.0" stroke-linejoin="round"/>
<path d="M116.4,1352.4l.5,.9 .5,0 .5-.3 .5,.6 .5-.7 .5,.1 .5,.1 .5,0 .5,.7 .5,0 .5,.4 .5-.2 .5-.5 .5,.6 .5,.2 .5-.6 .5,.1 .5-.1 .5,.5 .5,.4 .5,.2 .5-.5 .5,.5 .5,0 .5-.2 .5-.1 .5,.6 .5-.5 .5,.2 .5,.6 .5,.1 .5-.3 .5,.3 .5-.2 .5,.3 .5-.6 .5-.3 .5,1.4 .5-.3 .5,.7 .5-.7 .5,.3 .5-.2 .5,.2 .5-.7 .5,.6 .5,.5 .5-.9 .5,.6 .5-.7 .5,.6 .5-.4 .5-.3 .5,1.1 .5-.8 .5,.4 .5-.3 .5,1.3 .5-.5 .5,0 .5,.2 .5,.3 .5,.3 .5-.1 .5,.2 .5-.6 .5,1 .5-.6 .5,.2 .5,0 .5,.4 .5,0 .5-.8 .5,1.3 .5-1.3 .5,.6 .5-.1 .5-.6 .5,1.2 .5-.4 .5-.2 .5,.6 .5-1.2 .5,1.1 .5,.2 .5,.1 .5,.3 .5-.2 .5-.9 .5,.8 .5-.5 .5,0 .5,.6 .5,0 .5,.2 .5-.5 .5,.5 .5-.7 .5,.2 .5-.1 .5-.2 .5-.5 .5,.1 .5,.8 .5-.5 .5,.4 .5-.7 .5,.2 .5,.2 .5,.2 .5,.1 .5,.5 .5-.6 .5,1 .5-.3 .5,.4 .5-.5 .5,.6 .5,.3 .5-.5 .5,1 .5-.7 .5,.4 .5-.2 .5,.4 .5,.3 .5-1 .5,.3 .5,.5 .5-.3 .5,0 .5,.3 .5,.1 .5-.2 .5-.3 .5,.7 .5,.4 .5-.8 .5,.1 .5,.5 .5-.5 .5,.1 .5-.2 .5,.2 .5,.5 .5,0 .5-.1 .5,.3 .5-.1 .5-.1 .5,.6 .5-.5 .5,.4 .5-.5 .5,.1 .5,.2 .5-.1 .5,.7 .5,0 .5-1.1 .5,.6 .5,.4 .5-.9 .5,0 .5-.3 .5,1.3 .5-.9 .5,.1 .5-.3 .5,.3 .5-.1 .5,.4 .5-.2 .5,.3 .5,.4 .5,0 .5,0 .5,.4 .5-.4 .5,.3 .5,.5 .5-.6 .5,.4 .5,.1 .5-.1 .5,.1 .5-.1 .5-.2 .5,.3 .5,0 .5,1.2 .5-.8 .5-.5 .5,0 .5,.1 .5,0 .5,.5 .5,.2 .5-.4 .5-.1 .5,.5 .5,.8 .5-.9 .5,.9 .5-.8 .5,0 .5-.1 .5-.1 .5,.4 .5-.5 .5-.1 .5,.7 .5-.7 .5,0 .5,1.2 .5-.9 .5-.6 .5,.7 .5-.4 .5,.4 .5,0 .5-.4 .5-.1 .5,.9 .5,.4 .5-.7 .5-.2 .5,.1 .5,1.1 .5-.2 .5,.3 .5,.4 .5-.4 .5,0 .5-.2 .5,0 .5-.3 .5,.3 .5,.3 .5-1.1 .5,.7 .5-.5 .5-.2 .5,.4 .5-.3 .5,.3 .5,.3 .5-.4 .5,.5 .5-.8 .5,.9 .5-.5 .5,1 .5-.4 .5-.6 .5,.4 .5,0 .5-.1 .5,.7 .5-.3 .5-.1 .5,.2 .5,.8 .5-1 .5,.2 .5,.6 .5-.2 .5,.2 .5-.6 .5,.5 .5-.3 .5-.2 .5,.5 .5-.6 .5,.6 .5-.3 .5,.2 .5-.6 .5,.8 .5-.2 .5-.2 .5,.7 .5-.7 .5,.1 .5,.5 .5,.1 .5-.1 .5,.5 .5,.2 .5-.5 .5-.6 .5,1 .5-.5 .5-.3 .5,.3 .5-.8 .5,.4 .5,.1 .5-.4 .5,.1 .5-.6 .5,.2 .5,.3 .5-.3 .5,0 .5,.2 .5,.3 .5,.7 .5-.4 .5-.5 .5,.9 .5-.5 .5-.4 .5,1.2 .5,.5 .5-.9 .5,.3 .5-.1 .5,.6 .5-.5 .5-.3 .5,.3 .5,.4 .5-.3 .5-.1 .5,.1 .5,.6 .5-.4 .5,.4 .5-.1 .5,.2 .5-.1 .5-.5 .5,.5 .5-.4 .5,.5 .5,.3 .5-.2 .5-.8 .5,.6 .5,0 .5,.3 .5-.5 .5,.5 .5-.5 .5,.3 .5-.8 .5,.5 .5-1.3 .5,1.5 .5-1.3 .5,.3 .5,.2 .5-.3 .5-.3 .5,1.3 .5-.4 .5-.2 .5,.4 .5-.1 .5,0 .5,.1 .5,.2 .5,.1 .5-.1 .5,.4 .5,0 .5-.2 .5,0 .5,.2 .5-.8 .5,.5 .5-.1 .5,.3 .5-.3 .5,.7 .5-.1 .5,.2 .5,1.1 .5-1 .5-.1 .5-.1 .5-.1 .5,.2 .5-.3 .5-.1 .5-.2 .5,.4 .5-.9 .5,.5 .5,.5 .5-.5 .5-.7 .5,.8 .5,.5 .5-.4 .5-.4 .5,.7 .5-1 .5,.6 .5-.1 .5,.6 .5-.4 .5-.9 .5,1 .5,0 .5-.1 .5-.9 .5,.9 .5-.4 .5-.5 .5,.5 .5,.1 .5,.1 .5-.3 .5,.3 .5-.3 .5,.2 .5,.4 .5,0 .5-.9 .5-.1 .5,.5 .5-.4 .5-.5 .5-1 .5-2.5 .5-4.4 .5-3.7 .5,3.7 .5,4.3 .5,2.3 .5,1.2 .5,.6 .5-.5 .5,.7 .5,.7 .5,.1 .5-.2 .5-.1 .5-.4 .5,.1 .5,.6 .5,.1 .5-.1 .5,0 .5-.4 .5,.3 .5,.7 .5-.4 .5,.5 .5-.5 .5,.5 .5-.4 .5-.1 .5-.1 .5,.4 .5-1.1 .5,.3 .5,.1 .5-.4 .5-.6 .5,1 .5-.7 .5,.1 .5-.2 .5,.1 .5-.6 .5-.8 .5-2.2 .5-4.8 .5-9.3 .5-7.1 .5,7.3 .5,9.1 .5,5 .5,2.7 .5,.6 .5,.6 .5-.2 .5,.2 .5,.3 .5-.1 .5,.5 .5,.1 .5,0 .5-.2 .5,0 .5-.1 .5-.8 .5,.2 .5-1.9 .5-2.9 .5-2.1 .5,2 .5,2.3 .5,1.5 .5,1.2 .5-.1 .5,0 .5,0 .5-.5 .5,1.1 .5-.4 .5,0 .5,.3 .5,.4 .5-.1 .5-.6 .5-.6 .5-.2 .5-.1 .5-1.3 .5-1.5 .5-3.6 .5-2.8 .5,3 .5,3.6 .5,2.6 .5,.3 .5,.9 .5,.2 .5-.3 .5-.2 .5,.9 .5-.4 .5,0 .5-.4 .5,.4 .5-.1 .5-.2 .5-.4 .5-.3 .5,.5 .5,.5 .5-.3 .5,.1 .5-.6 .5,.2 .5-1.2 .5-2 .5-1.6 .5,1.5 .5,2 .5,.9 .5,1.3 .5-.2 .5,.3 .5,0 .5,0 .5-.5 .5-.3 .5,.3 .5-.5 .5,.2 .5-.3 .5-.3 .5-.3 .5-.8 .5-.4 .5-2.6 .5-4.4 .5-3.6 .5,3.6 .5,4.3 .5,2.6 .5,1.1 .5,.2 .5-.1 .5-.2 .5,0 .5-.7 .5-1.3 .5-2.3 .5-3.1 .5-4.7 .5-6.3 .5-6.6 .5-3.1 .5,3.2 .5,6.6 .5,6.2 .5,4.8 .5,3.2 .5,2.2 .5,1.1 .5,1 .5,.3 .5,.1 .5,.3 .5-.2 .5-.5 .5-2 .5-3.1 .5-2.4 .5,2.6 .5,3 .5,1.5 .5,1 .5,.1 .5,.4 .5-.7 .5,.4 .5-.9 .5,0 .5-2.4 .5-3.2 .5-2.7 .5,2.7 .5,3.5 .5,2 .5,1.1 .5,0 .5,.8 .5-.3 .5-.3 .5,.2 .5,.1 .5,.2 .5-.3 .5,.2 .5,.2 .5,.4 .5,.2 .5-.8 .5-.1 .5-1.6 .5-3.2 .5-6.2 .5-4.8 .5,4.6 .5,6.1 .5,3.2 .5,1.2 .5,.5 .5-1 .5-.9 .5-2.9 .5-1.7 .5,1.7 .5,2.5 .5,1.7 .5,.4 .5,.2 .5,.1 .5-.4 .5,.5 .5,0 .5,.5 .5-.2 .5-.1 .5,.1 .5,.2 .5-.3 .5,.1 .5,0 .5-.3 .5-.3 .5-.4 .5-1.8 .5-3.8 .5-8.6 .5-15.5 .5-12.2 .5,12.2 .5,15.6 .5,8.6 .5,3.9 .5,1.5 .5,.3 .5,.9 .5-.6 .5,.8 .5-.2 .5-.1 .5,.3 .5,.2 .5,1.4 .5-.9 .5,0 .5,.2 .5,.1 .5,.4 .5-.4 .5,.4 .5-.6 .5,.3 .5,0 .5-.3 .5-.2 .5,.1 .5,.1 .5,.2 .5-.7 .5,.7 .5-.1 .5-.5 .5-.2 .5-.5 .5,.2 .5-.1 .5,0 .5,.3 .5-.2 .5,0 .5-.2 .5,.4 .5,0 .5-1.2 .5-1.8 .5-2.9 .5-2.5 .5,2.4 .5,3.1 .5,1.2 .5,1 .5,0 .5,1 .5,0 .5-.6 .5,0 .5,0 .5-.2 .5-1.6 .5-3.3 .5-2.1 .5,2.2 .5,3 .5,1.6 .5,1.1 .5,0 .5,.2 .5,.4 .5,.4 .5-.7 .5,.5 .5,.1 .5,0 .5,.3 .5,0 .5,.1 .5-.2 .5-.1 .5,.1 .5,.1 .5-.8 .5,.7 .5-.3 .5-.6 .5,0 .5-.3 .5,.5 .5,.4 .5-1 .5-.4 .5,.7 .5,1.1 .5-1.7 .5,.9 .5-.7 .5,.6 .5-.2 .5,.6 .5-.8 .5,0 .5,.1 .5-.5 .5-.8 .5-1.2 .5-1.2 .5,1.3 .5,1.3 .5,1.1 .5-.2 .5,.5 .5,.6 .5-.2 .5-.4 .5,.1 .5,0 .5,1 .5-1.1 .5-.1 .5-.3 .5,.5 .5,.2 .5-.4 .5-.6 .5,.5 .5-.8 .5,.3 .5-1.4 .5-1.4 .5-.9 .5,1.2 .5,1.8 .5,.7 .5,.8 .5,0 .5,.4 .5,.2 .5-1.2 .5,.2 .5,.4 .5,.4 .5-.1 .5-.1 .5,.3 .5-.4 .5,0 .5,.2 .5,0 .5-.3 .5-.2 .5-.9 .5-.6 .5-.8 .5-1.1 .5,.5 .5,1.7 .5,.9 .5,.2 .5-.2 .5,.7 .5-.7 .5,.8 .5-.4 .5-.1 .5-.2 .5,.8 .5-.7 .5,.4 .5-.4 .5-.2 .5,.4 .5-.5 .5,.4 .5,0 .5-.2 .5-.3 .5-.1 .5,1 .5-.3 .5,.1 .5-.1 .5,.2 .5-.2 .5,.3 .5,0 .5,0 .5,.2 .5-.2 .5,.2 .5,.2 .5,.6 .5-1 .5,.5 .5-.8 .5-.6 .5-1.8 .5-1 .5,1.2 .5,1 .5,1.4 .5,.3 .5,.2 .5-.2 .5,.9 .5-.1 .5-.5 .5,.7 .5,.1 .5-.5 .5,.5 .5-.6 .5,.6 .5,.1 .5-.1 .5,.2 .5-.9 .5,.4 .5-.4 .5,.2 .5-.2 .5-.2 .5,.3 .5,0 .5-.2 .5-.4 .5,.7 .5,0 .5-.2 .5-.9 .5,.9 .5-.1 .5,0 .5,.1 .5-.8 .5,.3 .5,1 .5-1 .5,.6 .5-.5 .5-.4 .5,.8 .5-.6 .5-.2 .5,.1 .5-.3 .5,.8 .5-.4 .5,.3 .5,0 .5,.3 .5-.3 .5,.4 .5,.2 .5-.6 .5,.8 .5-1.2 .5,1.6 .5-.7 .5-1 .5,1.3 .5,.4 .5-1.1 .5,.9 .5-1 .5,.8 .5-.2 .5-.4 .5-.4 .5-.3 .5,.8 .5,0 .5-.4 .5,.8 .5-.5 .5-.5 .5,.5 .5,.1 .5-.3 .5,1 .5,.1 .5-.7 .5-.8 .5,.7 .5,.2 .5-.1 .5-.5 .5,.2 .5,.3 .5-.3 .5-.9 .5,.8 .5-.3 .5,1 .5-.6 .5,.8 .5-.4 .5,.1 .5-.2 .5,.2 .5,.6 .5-1 .5,.6 .5-.2 .5,.2 .5-.6 .5,.3 .5,.2 .5,.5 .5-1.3 .5,.9 .5-.4 .5,0 .5,.2 .5-.3 .5,.4 .5-.2 .5,.8 .5-1.2 .5,.8 .5-.3 .5-1.3 .5,1 .5-.8 .5,.4 .5,.3 .5-.4 .5-.3 .5-.7 .5-.4 .5-1.3 .5,1.3 .5,1.4 .5,.3 .5,0 .5,0 .5,.5 .5,.1 .5-.6 .5,.6 .5-.7 .5,.3 .5,0 .5,.9 .5-.1 .5-.2 .5,.1 .5-.4 .5-.4 .5,.9 .5,.4 .5-1 .5-.4 .5,.7 .5-.3 .5-.2 .5-.8 .5,.7 .5-.2 .5,0 .5-.2 .5-.4 .5,.6 .5-.5 .5,.3 .5,0 .5,0 .5,.1 .5,.9 .5-.7 .5,.2 .5-.2 .5,.2 .5,.3 .5-.3 .5-.3 .5-.2 .5,0 .5-.1 .5,.2 .5-.7 .5,.4 .5,.8 .5-.5 .5,.1 .5,.3 .5,.2 .5-.7 .5,.6 .5,.4 .5-.1 .5,.5 .5,0 .5-.3 .5,.6 .5,0 .5-.7 .5,.5 .5,.2 .5,.6 .5-1 .5-.4 .5,.8 .5-.6 .5,.2 .5-.4 .5,.1 .5,0 .5-.1 .5-.9 .5,.4 .5,.3 .5-.1 .5,0 .5,.2 .5,.1 .5-.4 .5-.2 .5,.4 .5-.4 .5,1.2 .5-1.1 .5,.5 .5,0 .5,.1 .5-.7 .5,.4 .5-1.1 .5,.4 .5,.5 .5-.4 .5-.6 .5,.7 .5-.6 .5,.3 .5,.4 .5-.3 .5,0 .5,.3 .5-.1 .5,.2 .5,0 .5,.4 .5-.8 .5,.7 .5-.7 .5,0 .5,.5 .5-.6 .5,.5 .5,.2 .5-.6 .5,.2 .5,0 .5,.3 .5-.5 .5-.1 .5,.7 .5-.5 .5,.4 .5-.1 .5-.1 .5-.1 .5-.2 .5,1.1 .5-.8 .5-.1 .5,.5 .5-.1 .5,.3 .5,.1 .5-.1 .5,.7 .5-.6 .5,.2 .5-.4 .5,.2 .5,1 .5-.5 .5,.7 .5-.4 .5-.7 .5,1.1 .5-.8 .5,.2 .5-.6 .5,.3 .5-.3 .5,.6 .5,.1 .5-.1 .5,.1 .5-.1 .5,.1 .5-.2 .5-.1 .5-.6 .5,0 .5-.7 .5,.2 .5-.3 .5,0 .5-1 .5-.8 .5,.4 .5,1.7 .5,.4 .5,0 .5,.2 .5,.5 .5-.5 .5,0 .5,.2 .5,0 .5-.3 .5,.1 .5,0 .5-2.5 .5-2.5 .5-2.1 .5,2.2 .5,2.8 .5,1.6 .5,.3 .5,.6 .5,.2 .5-.2 .5,.6 .5-.1 .5,.5 .5-.7 .5,0 .5-.3 .5,1 .5-1 .5,.1 .5,.1 .5,.4 .5-.6 .5-.5 .5,0 .5,1 .5,.1 .5-.3 .5-.1 .5,.8 .5-.2 .5,0 .5-.3 .5-.5 .5,.7 .5-.2 .5-1.3 .5,.7 .5-.5 .5-.3 .5,.3 .5-.1 .5-.3 .5-.1 .5,.4 .5-.3 .5,.9 .5-.2 .5,0 .5,.2 .5,.2 .5-.1 .5-.1 .5-.2 .5-1 .5,.6 .5,.1 .5,.5 .5-.4 .5,.2 .5,.1 .5-.7 .5,.1 .5,.9 .5-.4 .5,0 .5-.2 .5,.5 .5-.8 .5,.4 .5,.1 .5,.6 .5-.8 .5-.6 .5,.8 .5-.4 .5,.2 .5,.5 .5-.8 .5,.8 .5,.3 .5-.3 .5-.1 .5,.4 .5-.4 .5-.1 .5,.3 .5,.1 .5,.1 .5-.2 .5-.6 .5-.4 .5,.7 .5-.3 .5-.2 .5-.1 .5-.3 .5,.9 .5-1.3 .5,1.7 .5-1.1 .5,.4 .5,.1 .5,0 .5,.2 .5,.2 .5,1 .5,.1 .5-.2 .5,.4 .5-.4 .5,.6 .5-.7 .5-.1 .5,.6 .5-.9 .5,0 .5-.1 .5-.3 .5,.5 .5-.4 .5,.7 .5-.4 .5,.8 .5-.4 .5-.2 .5,.1 .5-.7 .5,.8 .5-.5 .5,0 .5,.2 .5-.4 .5,.4 .5-.6 .5-1.8 .5-.6 .5,.9 .5,1.5 .5,.7 .5,.6 .5-.2 .5-.4 .5,0 .5,0 .5,.2 .5-.2 .5-.5 .5,0 .5-.2 .5-.4 .5-.2 .5,.7 .5-1.1 .5,.6 .5,.5 .5-1 .5,.6 .5,.9 .5-.3 .5-.2 .5-.1 .5-.2 .5,.4 .5-.1 .5-.4 .5,.3 .5-.6 .5,.1 .5,.6 .5-.4 .5,.5 .5-.2 .5,.2 .5,.4 .5-.4 .5-.3 .5,.2 .5-.2 .5,.8 .5,0 .5-.3 .5,0 .5,.5 .5-.5 .5-.1 .5,.5 .5,.2 .5-.1 .5,.4 .5-.2 .5-.4 .5,.2 .5-.4 .5,.3 .5-.4 .5,.5 .5,0 .5-.3 .5,.5 .5-.2 .5-.4 .5,.6 .5-.3 .5,.2 .5-.1 .5,.4 .5-.9 .5,.4 .5-.9 .5,.1 .5,.4 .5-.4 .5,.6 .5-.6 .5-.1 .5,.8 .5,.1 .5,.7 .5-.8 .5-.1 .5,.2 .5,.1 .5,0 .5-.7 .5,.2 .5,0 .5,.1 .5,.4 .5,.3 .5-.3 .5-.2 .5,0 .5-.5 .5-.1 .5,.4 .5-.3 .5-.1 .5-.3 .5,.7 .5-.6 .5,.6 .5,.3 .5,.3 .5-1.1 .5,.5 .5,.6 .5-.5 .5-.2 .5,.6 .5-.2 .5-.2 .5-.5 .5-.3 .5,.8 .5-.7 .5,.5 .5-.4 .5,.1 .5-.1 .5-.4 .5-.3 .5,.7 .5-.3 .5-1 .5,1.5 .5-.4 .5,.3 .5-.3 .5,.8 .5-.3 .5-.6 .5,.3 .5-.4 .5,.5 .5,0 .5-.3 .5,.2 .5,.2 .5,.5 .5-.6 .5,.6 .5-.7 .5,.3 .5,.4 .5-.6 .5,.6 .5-.6 .5,.4 .5,.1 .5,.3 .5,.3 .5,0 .5,0 .5-.3 .5,.7 .5-.3 .5,.8 .5-.2 .5-.2 .5,.8 .5-.6 .5,0 .5,0 .5-.1 .5-.2 .5-.4 .5,1 .5-1.1 .5,.5 .5,.3 .5-1.1 .5-.1 .5,0 .5,.3 .5,.2 .5-.4 .5,.3 .5,1 .5-.8 .5-.1 .5,.2 .5-.5 .5,.6 .5-.4 .5,.1 .5,0 .5-.2 .5-.2 .5,.5 .5,.1 .5-1 .5,.5 .5,.1 .5,0 .5,.1 .5,0 .5,.1 .5-.1 .5-.4 .5-.2 .5,0 .5,.7 .5-.4 .5,.4 .5-.5 .5,.3 .5-.1 .5,.2 .5-.6 .5,.2 .5-.2 .5-.1 .5,.2 .5-.6 .5,.4 .5,0 .5-.2 .5,.4 .5-.7 .5,.6 .5,.2 .5,.7 .5-.3 .5,.1 .5-.3 .5,.4 .5,.3 .5,0 .5,.4 .5-.3 .5,.1 .5-.4 .5,.4 .5-.4 .5,.2 .5-.5 .5-.1 .5,0 .5-.2 .5-.3 .5-.1 .5,.4 .5-.4 .5,.5 .5-.1 .5,.2 .5,.4 .5,.4 .5-.5 .5-.6 .5,1 .5-1 .5-.1 .5-.8 .5-.6 .5,.3 .5,.6 .5-.2 .5,1 .5-.1 .5-.5 .5,.3 .5,.1 .5-.2 .5,.6 .5-.3 .5-.3 .5,1 .5-.1 .5-1.3 .5,.6 .5,.6 .5,.6 .5-.9 .5-.2 .5,0 .5,.7 .5-.1 .5-.4 .5-.4 .5-.2 .5-.9 .5,1.2 .5-.8 .5,.1 .5-.1 .5-.2 .5,.5 .5,.1 .5-.2 .5,.8 .5-.1 .5-.2 .5,.8 .5-.4 .5,1 .5-.4 .5-.9 .5,1.3 .5-.4 .5,.3 .5-.6 .5-.5 .5,.5 .5,.2 .5-.8 .5,.9 .5-.8 .5,1.3 .5-.4 .5-.1 .5,.5 .5-.4 .5,.3 .5,.3 .5-.7 .5,.2 .5,.1 .5,.2 .5,0 .5-.1 .5-.3 .5,.8 .5-.9 .5,.2 .5-.5 .5,.3 .5,.2 .5,0 .5-1 .5,.3 .5-.4 .5,.6 .5-.4 .5-.2 .5-.4 .5,1.2 .5-.2 .5-1.2 .5,.7 .5-.5 .5,.4 .5-.8 .5,.4 .5,.2 .5,0 .5,.4 .5,.2 .5,0 .5,.3 .5,.1 .5-.1 .5-.6 .5-.1 .5,1.1 .5-.9 .5,.3 .5,.6 .5-.2 .5,.4 .5-1.2 .5,.4 .5-.1 .5-.2 .5-.1 .5-.4 .5,.7 .5-.4 .5,.4 .5-.1 .5,.2 .5-.5 .5,.4 .5,.2 .5-.2 .5-.4 .5,1.3 .5-.4 .5-.8 .5,.3 .5-.1 .5,.1 .5,.7 .5-.5 .5-.5 .5,.2 .5-.6 .5,.5 .5-.4 .5-.3 .5,.6 .5,0 .5,0 .5-.6 .5,.7 .5-.1 .5,.8 .5-.2 .5,.4 .5,.3 .5-.1 .5,.2 .5-.1 .5,.1 .5-.3 .5,.2 .5,.5 .5-.9 .5-.2 .5,0 .5-.8 .5,1.2 .5-.4 .5-.2 .5,.5 .5-.1 .5-.2 .5-.2 .5-.5 .5,.3 .5-.3 .5-.1 .5,.3 .5-.2 .5,.3 .5,.1 .5-.5 .5,.2 .5,.3 .5-.6 .5,.3 .5,.1 .5,.8 .5-.2 .5-.9 .5,.9 .5-.8 .5,.2 .5,.9 .5-.6 .5,.1 .5,.2 .5-.4 .5-.2 .5-.1 .5,.5 .5-.5 .5,.1 .5,.9 .5-.4 .5,.4 .5-.5 .5,0 .5-.4 .5,0 .5,.3 .5-1.1 .5,.9 .5-.4 .5,0 .5,.7 .5-.7 .5-.3 .5,.4 .5,.2 .5-1.1 .5,1.4 .5-.5 .5,.6 .5-.2 .5,.3 .5,0 .5,.3 .5-.2 .5-.3 .5,.6 .5,.5 .5-1.1 .5,.3 .5,0 .5,.5 .5-.5 .5,.4 .5-.2 .5-.1 .5,.3 .5-1.4 .5,1 .5,.7 .5-.4 .5-.1 .5-.1 .5-.1 .5-.1 .5-.4 .5,.5 .5,.7 .5-.4 .5-.5 .5,.2 .5,.3 .5,.1 .5-.8 .5,.3 .5-.4 .5-.6 .5,0 .5-.1 .5,.5 .5,1.3 .5-.8 .5-.3 .5-.2 .5,1.2 .5-.4 .5,0 .5,.3 .5,.2 .5-.9 .5,.1 .5,.9 .5-.4 .5-.2 .5,0 .5,.2 .5,0 .5,.4 .5-.9 .5,.2 .5-.4 .5,.5 .5-.3 .5-.1 .5-.7 .5,.4 .5,.1 .5-.7 .5,.4 .5-.2 .5,.2 .5,.8 .5-.6 .5,.9 .5-.1 .5-.4 .5-.1 .5-.8 .5,.6 .5,.5 .5-.1 .5-.5 .5-.6 .5,1.3 .5-1 .5-.1 .5,.9 .5-.4 .5,.3 .5,.1 .5-.1 .5,0 .5-.2 .5,.2 .5,.4 .5-.3 .5,.3 .5-.4" fill="none" stroke="#1A6FDF" stroke-width="4.3" stroke-linejoin="round"/>
<path d="M116.4,1353.4l.5-.9 .5,.5 .5,.9 .5-1.9 .5,.9 .5,.2 .5,1.4 .5,.5 .5-1.5 .5-1.1 .5,.9 .5-1.5 .5,1.5 .5,.5 .5-.6 .5,.3 .5,.6 .5-.6 .5,2.3 .5-2.1 .5-.3 .5,1 .5,.9 .5-1.9 .5,2.5 .5-.7 .5-1.4 .5,.5 .5,.8 .5,.8 .5-.1 .5-1.5 .5,1.7 .5-1.8 .5,1.4 .5-2.1 .5,2 .5,.3 .5-.3 .5,1 .5-1 .5,1.8 .5-1.1 .5-1 .5-.6 .5,2.8 .5-2.1 .5,1.2 .5,.5 .5-2.4 .5,.6 .5,1.2 .5,1 .5-2.1 .5,.1 .5-.3 .5,3 .5-1.3 .5,.6 .5-1.4 .5-.3 .5,1.7 .5,1.4 .5-.9 .5-1.8 .5,1.7 .5-1.3 .5-.6 .5,1.6 .5,.7 .5,.1 .5,.2 .5,.2 .5-2 .5,.5 .5,.9 .5-1.8 .5,1.7 .5-2 .5,2.9 .5-1.7 .5-.3 .5,2.1 .5-1.4 .5,1.8 .5-2.3 .5,1.5 .5,.6 .5,.5 .5,.1 .5-1.1 .5-.9 .5,.7 .5-.9 .5,2.4 .5-3.5 .5,1 .5-1.4 .5,1.5 .5,.1 .5,.9 .5-1.4 .5,.3 .5-.5 .5,1.6 .5-1.4 .5-.1 .5,.4 .5,2.4 .5-3.4 .5,1.4 .5,.9 .5-.3 .5,1 .5-1.7 .5,0 .5,1.3 .5-1 .5,1.5 .5-.3 .5,.7 .5,1.3 .5-1.3 .5-.6 .5,1.8 .5,0 .5-1.9 .5-.7 .5,1.2 .5,1.1 .5-.5 .5-1.8 .5,1.8 .5-1.7 .5,.1 .5,.1 .5,.6 .5,1.1 .5-2.9 .5,3.5 .5-1.7 .5-.6 .5,0 .5,1.6 .5-1.1 .5-.2 .5,0 .5,2.4 .5-.3 .5-1.7 .5,2 .5-1.2 .5-.2 .5,1.4 .5-1 .5-.4 .5-.1 .5,.8 .5,.8 .5-1.5 .5,2.2 .5-1.2 .5-.9 .5,.3 .5-1.5 .5,1.4 .5,.5 .5-.3 .5-.6 .5,.9 .5,.3 .5,.1 .5-2.2 .5,2.2 .5,1.2 .5,1.4 .5-2.2 .5-1.9 .5,1.2 .5-.3 .5,0 .5,1.4 .5-.6 .5,.4 .5,.3 .5,1.6 .5-3.2 .5,2 .5,.7 .5-2.3 .5,1.4 .5-1.3 .5,.3 .5,3 .5-.1 .5-.7 .5-.9 .5,.3 .5,.4 .5-.2 .5-.6 .5-1 .5,1.2 .5-.3 .5,1.2 .5-2.1 .5,1.4 .5,.7 .5-.4 .5-.4 .5,1.9 .5-.9 .5-.9 .5-.3 .5-1 .5,.7 .5,.9 .5-1.3 .5,.4 .5,.9 .5,.6 .5-1.8 .5,.2 .5-1 .5,1.4 .5,.3 .5,.1 .5-.5 .5,.6 .5,.1 .5-.2 .5,.1 .5,1.8 .5-1.2 .5-.1 .5,.9 .5-2.2 .5,.7 .5,1.2 .5-.4 .5-.7 .5-.7 .5,1.4 .5-1.3 .5,.4 .5,1 .5,.9 .5-1.3 .5,.4 .5-1.4 .5,1.2 .5-.7 .5,1 .5,.3 .5-1.5 .5,2.5 .5-1.2 .5-1 .5,1.2 .5,1 .5,.1 .5-.9 .5-.1 .5,.5 .5-.5 .5,0 .5,.4 .5-1.9 .5,.9 .5,.2 .5,1.4 .5,.1 .5-.7 .5,0 .5-.5 .5,1.6 .5-2 .5,2.1 .5-1.8 .5,1.7 .5-1.2 .5,1.4 .5-.2 .5-1.1 .5-.4 .5,1.9 .5,.3 .5-.7 .5-1.5 .5,1.5 .5-.6 .5,1.7 .5-2 .5,.9 .5-1.8 .5,2.3 .5,.6 .5-3.5 .5,2.2 .5,.6 .5-1.5 .5,1.1 .5-.4 .5-.1 .5-2.1 .5,1.7 .5,1.8 .5-3.7 .5,.7 .5,.3 .5,0 .5,.8 .5,2.2 .5,.2 .5-1.1 .5-1.2 .5,1.7 .5-1.3 .5-.3 .5-.2 .5-1 .5,2.9 .5-.8 .5,.3 .5,.4 .5-1.9 .5-.5 .5,1.5 .5-2.2 .5,3.6 .5-.5 .5,.8 .5-2.7 .5-.3 .5,1.9 .5,1.1 .5-1.2 .5-.7 .5,0 .5,.1 .5,.7 .5-2.2 .5,2.6 .5-.5 .5-2.4 .5,2.5 .5,.2 .5-1.6 .5,.3 .5-1.7 .5,2.2 .5,.4 .5-.6 .5-.3 .5,.4 .5-.8 .5,1.1 .5-.7 .5,2.3 .5-1.2 .5-1.1 .5,.5 .5,1.5 .5-1 .5,.8 .5-.1 .5-.4 .5-2.4 .5,1.4 .5,2.2 .5-1.5 .5-2.3 .5,1.2 .5,2.8 .5-1.6 .5-1.7 .5,2.2 .5,1.5 .5-1.4 .5-.3 .5,.4 .5-1.1 .5,1.2 .5-2.3 .5,1.7 .5-.3 .5-1.1 .5,.5 .5-.1 .5,2.1 .5-2.3 .5-.1 .5,.2 .5-.8 .5,1.3 .5,.3 .5,.2 .5-.3 .5-.1 .5,.7 .5-1.6 .5,2.3 .5-1.2 .5,.2 .5,1.5 .5-2.2 .5,.2 .5-.1 .5-.1 .5-.8 .5,.1 .5,.2 .5-.4 .5,1.4 .5-.2 .5,.9 .5-1.2 .5,.1 .5,.1 .5-.9 .5,.3 .5,.2 .5,.9 .5-1.2 .5-1.3 .5,1.2 .5-3.2 .5-5.3 .5-3.5 .5,4.5 .5,3.6 .5,3 .5,2.5 .5-1.1 .5,.3 .5-.5 .5,.2 .5-.5 .5,1.6 .5,.3 .5,.3 .5,1.2 .5-2.9 .5,.5 .5,1.5 .5,1 .5-3.4 .5,0 .5,.9 .5,1.2 .5,2 .5-2.7 .5,1.3 .5-1.6 .5,.7 .5-.4 .5,2.1 .5-3.3 .5,.8 .5,.7 .5-1.6 .5-.5 .5,.8 .5,.9 .5-.7 .5,.3 .5,.4 .5-.2 .5-1.5 .5-2.5 .5-5.4 .5-8.7 .5-7.5 .5,7.1 .5,10.2 .5,4.1 .5,2.6 .5,.9 .5,.6 .5-.5 .5-.5 .5,2.9 .5-2.6 .5,1.2 .5-1.1 .5,1.3 .5-2.3 .5,2.1 .5-.7 .5,.9 .5,.3 .5-4.7 .5-.4 .5-3.3 .5,2.8 .5,1.5 .5,2.1 .5,1 .5-.9 .5,1.1 .5-.8 .5-.1 .5,.8 .5-.1 .5-.7 .5-1 .5,2 .5,.8 .5,.3 .5,0 .5-2.2 .5-.7 .5-.3 .5-1.8 .5-3.3 .5-2.8 .5,3.6 .5,3 .5,1.5 .5,1.3 .5,.1 .5,0 .5,1.5 .5,.3 .5-.2 .5-1.9 .5,2.1 .5-3.1 .5,1.4 .5-.3 .5,1.8 .5-1.9 .5,.9 .5,1.3 .5-1.6 .5,.6 .5-2.2 .5,2.1 .5-.2 .5-2.5 .5-.4 .5-2.8 .5,1.5 .5,2.3 .5,1 .5,1.3 .5-1.5 .5,1.4 .5,.6 .5-.9 .5,.8 .5-.5 .5-.2 .5-.3 .5,1.2 .5-1 .5-.7 .5-.5 .5,.1 .5-1.4 .5-2.7 .5-3.8 .5-4.1 .5,3.9 .5,4.5 .5,3.4 .5-1 .5,.8 .5,.2 .5,1.5 .5-2.2 .5-.3 .5-1.2 .5-1.8 .5-3.7 .5-4.6 .5-6.1 .5-6.7 .5-3.3 .5,3.4 .5,6.9 .5,6 .5,4.2 .5,4.3 .5,1.1 .5,.7 .5,3.2 .5-.2 .5-.2 .5-.3 .5-.7 .5-.2 .5-.7 .5-3.7 .5-3.4 .5,3.1 .5,3.3 .5,2.6 .5-1.2 .5,1.6 .5-1.3 .5,.1 .5,.6 .5,.9 .5-2.4 .5-1.4 .5-4 .5-2.3 .5,2.6 .5,3.3 .5,2.9 .5,1.3 .5-.2 .5-.1 .5,.1 .5,2.2 .5-1.6 .5-.7 .5,0 .5,1.1 .5,.5 .5-1.6 .5,1 .5-1.1 .5,.9 .5-.1 .5-3.3 .5-1.6 .5-7.1 .5-4.3 .5,4.5 .5,6.1 .5,3.5 .5-.2 .5,1.9 .5-1.6 .5-.1 .5-3.4 .5-1.1 .5,.5 .5,3.5 .5,2.1 .5-1.1 .5,.8 .5-.7 .5,.9 .5-.5 .5,1.3 .5-2 .5,.2 .5,2 .5-.1 .5-.4 .5,.7 .5,.4 .5-1.1 .5-.6 .5-.2 .5-.3 .5-2 .5-4.3 .5-8 .5-15.4 .5-12.2 .5,12.4 .5,15.7 .5,8.8 .5,2.7 .5,1.7 .5,.9 .5,.2 .5,.8 .5-1.2 .5,1.1 .5,.4 .5-.6 .5,1.4 .5,.2 .5-.5 .5,.8 .5-.3 .5-.7 .5-.5 .5,1.8 .5,.2 .5-.9 .5-1.2 .5-.2 .5,2.5 .5-.2 .5-.8 .5-1.1 .5-.2 .5-.9 .5,.1 .5,1.2 .5-1 .5,1.3 .5-.7 .5,.8 .5-.3 .5-1.5 .5,.4 .5,.3 .5,0 .5-.8 .5,2.5 .5-1.1 .5-2 .5-1.2 .5-3.4 .5-2.4 .5,3 .5,3.3 .5,.3 .5,1.8 .5,0 .5-1 .5,2.5 .5,.7 .5-1.3 .5-.8 .5-.7 .5-2.2 .5-2.7 .5-2 .5,2.6 .5,3.2 .5,1 .5,1.8 .5-.7 .5-.7 .5,2.2 .5-1 .5,1.3 .5,0 .5,0 .5,1 .5-2.3 .5,2.4 .5,.1 .5-2.1 .5,1.1 .5-.5 .5-2 .5,1.2 .5,.5 .5-.6 .5,.5 .5-.1 .5,.2 .5-.9 .5,.4 .5,.3 .5-.8 .5-.2 .5,.6 .5,.9 .5-.9 .5,1.3 .5,.5 .5-1.8 .5,.7 .5-1 .5-.7 .5-.5 .5,0 .5,.3 .5-.4 .5-2.8 .5,3 .5,.6 .5-.1 .5-.6 .5,1.6 .5,0 .5,.1 .5-.3 .5-.3 .5,1.9 .5-.6 .5-1.4 .5,2 .5,0 .5-2.1 .5,.3 .5-.6 .5,1.7 .5-.6 .5,.3 .5-2.5 .5-.5 .5-2.1 .5,.1 .5,.6 .5,1.5 .5,1.4 .5,.3 .5,.7 .5-.8 .5,1.7 .5-.9 .5-.5 .5,1.1 .5,.8 .5,.8 .5-1.5 .5,.7 .5-.5 .5,1.7 .5-2.2 .5-1 .5,.6 .5-1.3 .5,1.7 .5-1.8 .5-2.1 .5,.3 .5,1.6 .5-.2 .5,1.7 .5,1.6 .5-.9 .5-.4 .5,1.2 .5-1.8 .5,1.9 .5-.2 .5-1 .5,.2 .5-.5 .5-.7 .5,1.8 .5-.6 .5-.3 .5,.2 .5-.1 .5,1.5 .5-2.1 .5-1.4 .5,1.8 .5,.6 .5-1.8 .5,2.6 .5-1.7 .5-.1 .5,1.2 .5-1.2 .5,2.4 .5-2.7 .5,.4 .5,.2 .5-.3 .5,1.7 .5-.6 .5,.3 .5-1.1 .5,.5 .5-1.7 .5,.6 .5-2.3 .5,.4 .5,1.8 .5,.8 .5-1.3 .5,1.8 .5,.3 .5,.5 .5,.3 .5,0 .5,0 .5,1.3 .5-1.5 .5,.3 .5,.5 .5-.5 .5-.3 .5-.9 .5,.9 .5,.3 .5,.6 .5-.8 .5,.2 .5,.3 .5-1.5 .5,1.9 .5-.9 .5-.6 .5,1.6 .5-2.3 .5,.6 .5-.1 .5-.9 .5,2.5 .5-2.1 .5,0 .5-.9 .5,1.2 .5-.1 .5-1.4 .5,2.5 .5,.2 .5-1.1 .5,.8 .5-1 .5,2.5 .5-3 .5,.4 .5-1.3 .5,1.9 .5-.5 .5-.1 .5,.6 .5,.1 .5-.9 .5,.3 .5,.6 .5,1 .5,0 .5-1.9 .5,1.5 .5,.2 .5,.5 .5-1.8 .5,1 .5-.5 .5,.1 .5-.4 .5-.4 .5,.8 .5-.3 .5-.6 .5,1.5 .5,.2 .5-.7 .5-1.9 .5,.2 .5,1.5 .5-.8 .5,1 .5,.6 .5-1.1 .5,1.7 .5,.6 .5-1.6 .5,.6 .5-1.2 .5,.8 .5,.1 .5-.4 .5-2.3 .5,2.9 .5-1.5 .5-1.5 .5,2.4 .5-.2 .5-.5 .5-.4 .5,.4 .5,.8 .5,.7 .5-1.2 .5-1.4 .5,2 .5-1.3 .5,2.6 .5-2.1 .5,.2 .5,.6 .5-1.4 .5,1 .5,.6 .5-.4 .5-.1 .5,.7 .5,.6 .5-1.6 .5-2 .5,.3 .5,2.5 .5-.6 .5,.5 .5-1 .5,2.1 .5-2.6 .5,1.9 .5-1 .5-2.5 .5,2.4 .5-.1 .5,.7 .5-1.8 .5-1 .5-.5 .5-.3 .5,2.9 .5,.4 .5-.2 .5,.3 .5-2.5 .5,2.5 .5-1.3 .5,.4 .5,.6 .5,1.1 .5-1.2 .5,1 .5,.3 .5-.9 .5,.2 .5-.1 .5,1.5 .5-1.3 .5,.1 .5,.2 .5,.5 .5-.5 .5-2 .5-1.7 .5,2.1 .5,.8 .5-.7 .5,.5 .5-.9 .5,.2 .5,.7 .5,1.1 .5-2.3 .5,2.3 .5,.4 .5-.5 .5-.2 .5-.8 .5-1.1 .5,1.4 .5-1.2 .5-1.1 .5,.4 .5,.5 .5-1 .5,3.6 .5-.3 .5-2.1 .5-1.2 .5-.5 .5,1.6 .5,1.3 .5,.6 .5-1.6 .5,.5 .5,2 .5-1.4 .5,.5 .5-1.1 .5,1.1 .5,1.1 .5-1.1 .5-1 .5,.9 .5,.1 .5,.1 .5,.4 .5-1.1 .5,1.4 .5,.5 .5-3.3 .5,.5 .5,1.5 .5,2 .5-1.3 .5-.8 .5,.3 .5-1.7 .5,.3 .5-.5 .5,.8 .5-.5 .5-.2 .5,.5 .5-1 .5,.2 .5,3.6 .5-.2 .5-2 .5-.3 .5,.1 .5-.6 .5,1.5 .5-1.3 .5,.4 .5,1.2 .5-2.7 .5,2.3 .5-.3 .5-2.1 .5,1.1 .5-2 .5,1.9 .5-.7 .5,.7 .5-1.2 .5,1 .5,1.2 .5-1.3 .5,1.3 .5-1.6 .5,1.7 .5-.5 .5-2.7 .5,1.5 .5-.5 .5,.6 .5,.2 .5,1.5 .5-.6 .5-1.5 .5,.7 .5,.6 .5-1.5 .5,1.3 .5,.8 .5-.4 .5-1.4 .5,.8 .5,1.2 .5-1.3 .5,0 .5-.5 .5,1 .5,0 .5,1.9 .5-2.5 .5,.6 .5,.2 .5-.1 .5,1.2 .5-1.3 .5,2.4 .5-3.1 .5,.6 .5,1.2 .5-1.2 .5,1.1 .5,1.9 .5-1.7 .5,1.5 .5-.8 .5-2.2 .5,.7 .5,.8 .5-.3 .5-.2 .5,.6 .5-.1 .5,0 .5-.7 .5,.4 .5,.9 .5-1.8 .5-.9 .5,.1 .5,.8 .5,1.5 .5-.3 .5-2.3 .5-1.5 .5,.3 .5,1.5 .5,.3 .5,.9 .5-.9 .5,2 .5-.8 .5,.1 .5-1.2 .5-.1 .5,1.4 .5,.3 .5-1.6 .5-.7 .5-1.2 .5-2.1 .5-2.2 .5,2.5 .5,2.7 .5,2.1 .5-.8 .5,.6 .5-.7 .5,1 .5-.4 .5,.6 .5,1.4 .5-1.4 .5,1.3 .5-.5 .5,0 .5-.5 .5,.4 .5,1.2 .5-3.3 .5,2.9 .5-2.4 .5,.2 .5,1.5 .5-2.2 .5,1.5 .5,.2 .5,1 .5,.3 .5,.3 .5-2 .5,1.6 .5-1.5 .5,.5 .5-.6 .5-.1 .5-1 .5,1.1 .5-2.5 .5,1.8 .5-.4 .5,1.2 .5-1 .5,.1 .5,.1 .5,.8 .5-.7 .5,.7 .5-1.6 .5,.2 .5-.3 .5,1.8 .5-2 .5,3.2 .5-3 .5-.1 .5,1.7 .5,.4 .5-.9 .5-.1 .5,.4 .5-1.4 .5,1.2 .5,1 .5-3.1 .5,2.3 .5,.3 .5,.8 .5-1.4 .5-.4 .5,.6 .5,.2 .5-.9 .5-.1 .5,.2 .5,.9 .5,.7 .5-1.5 .5,.4 .5-1.2 .5,2.2 .5-2.3 .5,.7 .5,1.8 .5,1 .5-1.7 .5,0 .5-.1 .5,.8 .5-1.4 .5,2.5 .5-1.3 .5-3.3 .5,1.9 .5-.1 .5-.7 .5,1.2 .5-.9 .5,1.2 .5,1 .5-.8 .5-2.3 .5,3.5 .5,0 .5,.2 .5,.3 .5-1 .5-.6 .5,.7 .5,.6 .5-.6 .5,.5 .5-.2 .5-.4 .5,.1 .5-1.6 .5,.3 .5,1.4 .5,0 .5-1.6 .5,1.8 .5-1.1 .5,1 .5-1.6 .5-1 .5,.9 .5,1.3 .5,1 .5-1 .5,.2 .5-1.7 .5,.5 .5,.7 .5-1.1 .5-1.5 .5,.4 .5,.7 .5,1 .5,.3 .5,.8 .5,0 .5-.2 .5-.3 .5-.1 .5-1.1 .5,.9 .5-.6 .5,1.8 .5-1.8 .5-.9 .5-.6 .5,.1 .5,1.8 .5,0 .5,.5 .5-1.5 .5,2 .5,1.1 .5-.6 .5-2.6 .5,2.6 .5-.2 .5,.6 .5-2.3 .5-1.9 .5,2.4 .5-1.4 .5,.7 .5,1 .5-.9 .5-.8 .5,.6 .5,1.2 .5,0 .5-.7 .5-.6 .5,.5 .5,1.5 .5-.8 .5-.8 .5,.2 .5,1.1 .5-.9 .5,.9 .5-.9 .5-1.8 .5,2.9 .5-1.3 .5-.1 .5,1 .5,.7 .5-.1 .5,.5 .5-.2 .5-.9 .5-.2 .5,.7 .5-2.1 .5,.3 .5,1.3 .5-1.6 .5-.5 .5,1.5 .5-.5 .5,0 .5,2.8 .5-3.1 .5,1.2 .5-1 .5,2 .5-1.8 .5,.8 .5,.8 .5-1.5 .5,.2 .5,.2 .5,1.1 .5,.3 .5-1.8 .5,.5 .5,.3 .5,1.2 .5-1.5 .5-.3 .5-.5 .5-.7 .5,2.2 .5-2.6 .5,1.2 .5,2.8 .5-.7 .5-2.3 .5-.6 .5,2.3 .5-1.3 .5,.6 .5,1 .5-.3 .5-.9 .5-.7 .5,.4 .5,.7 .5,1 .5-.6 .5-1.5 .5,0 .5,1.2 .5-1.6 .5,0 .5,2.4 .5-.8 .5,.2 .5-.5 .5-1.5 .5,2.9 .5-2.8 .5,1.3 .5-1.1 .5,2.8 .5-2.6 .5,.5 .5,.2 .5-1.5 .5,1.6 .5,.9 .5-.8 .5,.2 .5-.4 .5-.9 .5,2.1 .5-.8 .5-.6 .5-.2 .5,1 .5,.5 .5-1.9 .5-1.4 .5,2.3 .5-.6 .5-.4 .5,2.5 .5-3.2 .5,2.1 .5-.9 .5,1.6 .5-.7 .5-.8 .5-.4 .5,.3 .5,2.3 .5,.3 .5-.8 .5,.5 .5-1.1 .5-.3 .5-1.6 .5,3 .5-.8 .5,2.2 .5-1.8 .5-.4 .5-.3 .5,2.7 .5-1.1 .5-2.1 .5-.1 .5,2.1 .5-1.4 .5-.5 .5,0 .5-.9 .5-1.1 .5,2.6 .5,1.3 .5-2.3 .5-.9 .5,3 .5-1.6 .5,1.1 .5-2.3 .5,2.5 .5-1.8 .5,1.1 .5,.9 .5-2.6 .5,1.7 .5-.8 .5,.9 .5-.4 .5,.8 .5-2 .5,.6 .5-1 .5,1.4 .5-.4 .5-.5 .5,.1 .5,1.5 .5-2.3 .5,1.5 .5,.7 .5-.4 .5,.7 .5-1.8 .5,1.1 .5-1.3 .5,1.2 .5-1 .5,.6 .5,.4 .5-.5 .5,.6 .5-.3 .5-.5 .5-1.1 .5,1.6 .5,.3 .5,.5 .5-1.4 .5,.3 .5,.7 .5,.2 .5-.2 .5-.5 .5,1.2 .5-.2 .5-1.3 .5,1.8 .5-.9 .5,.1 .5-.3 .5-.2 .5,.4 .5-1.1 .5,.8 .5,.4 .5,0 .5-2.9 .5,4.2 .5-2.4 .5,1.5 .5-1.6 .5,.9 .5-.9 .5,1.2 .5-.2 .5-.9 .5,1.5 .5-1.3 .5,1.9 .5-2.6 .5,.9 .5-1 .5-2.3 .5,2.3 .5,1.9 .5-.6 .5,.4 .5-1.3 .5,.1 .5,.7 .5-.9 .5,.5 .5-1 .5,1.9 .5-1.6 .5-1.1 .5,.3 .5,3.1 .5-.9 .5,.1 .5-1.9 .5,2.9 .5-1.9 .5,2.4 .5-2.5 .5-1.8 .5,3.6 .5-1.6 .5,1.8 .5-2.3 .5-.5 .5,.9 .5-1.2 .5,.3 .5-.5 .5,2.7 .5-.8 .5-1 .5-.1 .5,1.5 .5-.9 .5,.1 .5,.4 .5,1.9 .5-2.9 .5,1.8 .5-.5 .5,1.5 .5-2 .5,1 .5,0 .5-.1 .5-1.3 .5-.2 .5,1 .5,.5 .5-1.7 .5,1 .5,.8 .5,.6 .5,.4 .5,.3 .5-.4 .5-.3 .5-.4 .5-.9 .5,.4 .5,1 .5-.9 .5,.3 .5,1.7 .5,0 .5-.3 .5-2.6 .5,2.4 .5-.7 .5-1.8 .5,1.2 .5-1.1 .5,.4 .5,1.2 .5,.3 .5-1.3 .5-.7 .5,.2 .5,0 .5,.4 .5-.1 .5,.5 .5,0 .5-1.4 .5-.8 .5,.3 .5,1.5 .5,1.8 .5-1.3 .5,1.6 .5-2.2 .5-1.4 .5,1.3 .5,1.4 .5-.4 .5,.6 .5-.5 .5-1.3 .5,2.1 .5-1.5 .5,0 .5-1.3 .5,0 .5,2.2 .5-1.6 .5,1.2 .5-2.7 .5,3.1 .5-.7 .5-1.2 .5,0 .5,2.5 .5-2.3 .5,0 .5,.1 .5-.6 .5,1.4 .5,1.5 .5-1.7 .5,.8 .5,.3 .5-.8 .5,1.3 .5-1.2 .5,1 .5-3 .5-.4 .5,1.6 .5,.6 .5,.1 .5-3.3 .5,1.9 .5,.3 .5-.1 .5-1.3 .5,1.1 .5,2.4 .5-1.5 .5,.5 .5,.2 .5-.5 .5-.5 .5,3.8 .5-1.2 .5-.3 .5-2.2 .5,1 .5,.6 .5-.2 .5-2 .5,.5 .5,1.7 .5,0 .5-.8 .5,.2 .5,1.2 .5-3.2 .5,.7 .5,.7 .5,.8 .5-.7 .5-2 .5,.4 .5,1.5 .5,.1 .5-1.1 .5,.7 .5,.5 .5,.2 .5,.4 .5-.3 .5-.6 .5,1.3 .5-2.2 .5-1.1 .5,3.4 .5-.2 .5-.1 .5-.2 .5-.1 .5-1.9 .5,2.9 .5-2.2 .5,.1 .5,.7 .5-.5 .5,.8 .5-.9 .5,1 .5-.4 .5,.2 .5-.4 .5,.3 .5-.8 .5-.1 .5,.5 .5-.4 .5,2.1 .5-3.1 .5-.9 .5,2.4 .5-2 .5,1.7 .5-.1 .5-.6 .5,.1 .5-.2 .5,1.6 .5-1.3 .5,.2 .5-1 .5,1 .5,0 .5,1.7 .5,.2 .5-.9 .5-1 .5,.3 .5,1.3 .5,.5 .5-1.1 .5,.6 .5-.5 .5-.8 .5,.6 .5,.2 .5,.2 .5-1.8 .5,2.3 .5-1.1 .5-.5 .5,1.8 .5-1.7 .5-.6 .5,2.3 .5-1.7 .5-1.5 .5,2.9 .5-.2 .5-.2 .5,.8 .5-.4 .5-1.9 .5,1.1 .5-2.4 .5,4.2 .5-4.2 .5,2 .5,.5 .5-.4 .5-1.1 .5,.2 .5,1.6 .5,.2 .5-.4 .5,1.3 .5-.7 .5-1.7 .5,.4 .5,0 .5-.4 .5,.3 .5,1.8 .5,.1 .5-1.4 .5,.5 .5,.1 .5-1.5 .5,1.2 .5,1 .5-2.8 .5-.4 .5,2.5 .5,1.3 .5-2.7 .5-.9 .5,1.6 .5-.2 .5-.1 .5,.3 .5-.5 .5-.7 .5,2 .5,.6 .5-1.7 .5-1.6 .5,1.9 .5-1.5 .5,1.5 .5,.5 .5-1.4 .5,1.6 .5-.7 .5,1.5 .5-1.2 .5-.8 .5,.6 .5-2.4 .5,3.9 .5-3 .5,1.5 .5,0 .5,.9 .5-.5 .5,.2 .5-.3 .5-1.9 .5,1.6" fill="none" stroke="#1A6FDF" stroke-width="2.0" stroke-linejoin="round"/>
<path d="M116.4,1231.2l.5-.5 .5,.4 .5,0 .5,.5 .5,0 .5,0 .5,.1 .5,.5 .5,.2 .5,.5 .5-.4 .5,.1 .5,1.1 .5-.8 .5,.4 .5-.2 .5,.1 .5,.1 .5,.2 .5-.2 .5-.2 .5,.3 .5-.2 .5,.9 .5-.3 .5,.1 .5,.3 .5-.5 .5,.3 .5-.5 .5,.1 .5,0 .5,0 .5,0 .5,.2 .5-.2 .5-.4 .5-.1 .5,.3 .5-.3 .5,.2 .5,.8 .5-.5 .5,.7 .5-.4 .5,.3 .5-.8 .5,1.1 .5-.4 .5,.5 .5,0 .5-.1 .5-.1 .5-.2 .5,.2 .5-.5 .5,.7 .5-.2 .5-.3 .5,0 .5-.6 .5,.5 .5,0 .5-.5 .5,.5 .5-.5 .5,.7 .5,.4 .5-.1 .5,1.2 .5-1.4 .5,1.1 .5,.4 .5-.3 .5,.7 .5-.6 .5,.3 .5-.4 .5,.5 .5-.6 .5,.1 .5,.2 .5,.2 .5-.2 .5-.2 .5,0 .5,.3 .5,.2 .5,.3 .5-.1 .5,.4 .5-.4 .5,0 .5,.5 .5-.4 .5,.5 .5,.4 .5,0 .5-.5 .5,.6 .5-.5 .5,.2 .5,.5 .5-.2 .5-.5 .5,.9 .5-.6 .5-.2 .5,.2 .5-.2 .5,.7 .5,.2 .5,.2 .5-.3 .5-.7 .5,.2 .5,.3 .5,.1 .5-1.2 .5,.5 .5,.1 .5-.1 .5,.4 .5-.3 .5-.5 .5,.2 .5,0 .5-.2 .5,.1 .5,.8 .5,.5 .5-.1 .5-.2 .5,.3 .5,.2 .5-.7 .5-.7 .5-.3 .5,.2 .5,.9 .5,.3 .5,.6 .5-.2 .5,.1 .5-.1 .5,.5 .5-.3 .5,.1 .5,.1 .5,.7 .5-.7 .5,.3 .5-.2 .5-.7 .5,.6 .5,.3 .5-.2 .5-.3 .5,.7 .5-.5 .5,.2 .5-.1 .5-.6 .5-.5 .5,1.2 .5,.2 .5,.4 .5,.3 .5,1 .5-.6 .5,.3 .5,.2 .5-.2 .5,.2 .5-.3 .5,.4 .5-.4 .5,.4 .5-.1 .5-.3 .5-.2 .5-.2 .5-.1 .5,.5 .5,.4 .5-.5 .5,.4 .5,0 .5-.3 .5,.2 .5,.6 .5-.8 .5,0 .5,.3 .5-.2 .5-.5 .5,.2 .5,0 .5-.7 .5,.8 .5-.5 .5,.6 .5-.7 .5,.2 .5,.6 .5-.2 .5,0 .5-.4 .5,.2 .5,.8 .5-.3 .5-.3 .5,.6 .5-.2 .5,0 .5,.6 .5-.2 .5-.2 .5,0 .5,.2 .5,.4 .5-.2 .5,.3 .5,.1 .5,0 .5-.4 .5,.5 .5,.4 .5,.2 .5-1.1 .5,.3 .5,.2 .5-.2 .5,.4 .5,.5 .5-.4 .5,.9 .5-1 .5-.3 .5,.6 .5,0 .5-.9 .5,.7 .5-.3 .5,.4 .5,.1 .5,.5 .5-.6 .5,.5 .5,.5 .5-.3 .5,.7 .5-.1 .5-.8 .5,1.3 .5-.8 .5,.7 .5-.4 .5-.1 .5,.1 .5-.1 .5,.4 .5,0 .5-.3 .5-.3 .5-.6 .5,.1 .5-.7 .5,.5 .5-.2 .5,.1 .5,.2 .5,.5 .5-.2 .5,.5 .5-.8 .5,.6 .5,.2 .5-.4 .5,.3 .5-.8 .5,.9 .5,.2 .5-.4 .5,.2 .5,.3 .5,.5 .5-.3 .5-.2 .5,.9 .5-.6 .5,.4 .5-.2 .5,0 .5,0 .5,.2 .5-.9 .5,.6 .5,.5 .5-.9 .5-.3 .5,.3 .5,0 .5,.1 .5-.4 .5-.2 .5,.4 .5-.1 .5-.5 .5,.1 .5,.1 .5,.2 .5-.2 .5,.4 .5,.2 .5,.4 .5-.6 .5,.1 .5-.1 .5,.6 .5-.2 .5-.2 .5-.3 .5,.1 .5,0 .5,.1 .5-.3 .5,.5 .5-.3 .5-.1 .5,.4 .5,.2 .5-.2 .5,.5 .5-.2 .5-.1 .5-.1 .5,.3 .5,.2 .5-.5 .5,1.3 .5-.5 .5-.1 .5-.3 .5,0 .5,.1 .5-.3 .5-.3 .5,.6 .5,0 .5-.5 .5,0 .5-.3 .5,.7 .5-.2 .5,.2 .5,.5 .5-.6 .5-.5 .5,.6 .5-.7 .5-1 .5-1.6 .5-1.3 .5,1.2 .5,2 .5,.6 .5,1 .5,.2 .5,.1 .5,.5 .5,0 .5-.6 .5,.6 .5-.1 .5,.2 .5,0 .5-.2 .5,.3 .5-.2 .5-.1 .5,.3 .5-.4 .5,0 .5,.5 .5-.7 .5,1 .5-.6 .5,.7 .5,.3 .5-.3 .5-.7 .5,.4 .5,.7 .5-.9 .5-.2 .5,.6 .5-.8 .5,.4 .5-.1 .5-.6 .5,.8 .5-.3 .5,.4 .5,0 .5-.3 .5,.2 .5,.2 .5,.1 .5,0 .5,0 .5-.1 .5-.3 .5-.3 .5,.2 .5,.2 .5-.7 .5-.2 .5,0 .5-.6 .5-.1 .5-1.4 .5-.7 .5,1.2 .5,.6 .5,.5 .5,.3 .5,0 .5-.1 .5,.2 .5,.5 .5-.3 .5,.2 .5-.3 .5,.2 .5-.5 .5-.1 .5-.5 .5-2.1 .5-3 .5-2.5 .5,2.6 .5,3.1 .5,1.9 .5,.8 .5,.2 .5-.3 .5,.9 .5-.4 .5-.5 .5,.2 .5-.1 .5,.2 .5-.2 .5-.3 .5-.8 .5-.2 .5,.6 .5-.6 .5-.5 .5-.3 .5-.1 .5-.8 .5-1.1 .5-1.4 .5-2.5 .5-5.3 .5-12.3 .5-25.8 .5-43 .5-31.7 .5,31.8 .5,43.2 .5,26 .5,12.5 .5,5.5 .5,2.6 .5,1.8 .5,.7 .5,.6 .5,.7 .5,.3 .5,.2 .5,.5 .5,.2 .5,0 .5,.3 .5-.7 .5,.8 .5-.3 .5-.1 .5-.2 .5-.1 .5,.5 .5,.5 .5-.8 .5,.2 .5,.2 .5,.5 .5-.2 .5-.1 .5,.5 .5,.1 .5-.2 .5,.1 .5,.4 .5-.6 .5,.4 .5-.7 .5-.6 .5-.7 .5-1.7 .5-3.6 .5-8.3 .5-15 .5-11.8 .5,11.7 .5,14.8 .5,8.2 .5,3.7 .5,1.4 .5,.9 .5,.5 .5-.2 .5,.6 .5-.2 .5,.2 .5,.1 .5,.2 .5,.2 .5-.7 .5,.6 .5,.1 .5-.3 .5-.1 .5,.4 .5,.5 .5,.1 .5-.3 .5,0 .5,.1 .5-.4 .5-.4 .5-1.6 .5-2.7 .5-2.3 .5,1.9 .5,2.7 .5,1.3 .5,.5 .5-.2 .5,.5 .5,.3 .5-.2 .5,0 .5,.3 .5,.1 .5,0 .5-.1 .5-.4 .5,.8 .5-.9 .5-.4 .5-2.1 .5-3.2 .5-2.6 .5,2.3 .5,3.1 .5,1.6 .5,.5 .5,.5 .5-.2 .5-.3 .5-.4 .5-1.3 .5-3.3 .5-5.8 .5-4.4 .5,4.6 .5,5.7 .5,3 .5,1.6 .5,.5 .5,.4 .5,.2 .5,.7 .5-.6 .5,.2 .5,.1 .5,0 .5-.7 .5-.9 .5-1.7 .5-1.2 .5,1.1 .5,1.8 .5,.8 .5,1 .5-.2 .5-.3 .5,.5 .5-.6 .5,.8 .5-.5 .5-.1 .5,.3 .5-.1 .5,.3 .5-.6 .5-1.1 .5-2.3 .5-3.9 .5-3 .5,3 .5,4.5 .5,1.8 .5,.7 .5,.8 .5,.6 .5-.4 .5,.3 .5-.5 .5,.3 .5-.9 .5-.6 .5-1.3 .5-2.8 .5-1.9 .5,1.8 .5,2.7 .5,1.5 .5,.6 .5,1.2 .5-.7 .5,.4 .5,.4 .5,.3 .5-.3 .5,0 .5,.3 .5,.1 .5-.2 .5-.1 .5-.2 .5-.9 .5-1.4 .5-2.4 .5-1.8 .5,1.4 .5,2.2 .5,.8 .5,.7 .5,.1 .5-.2 .5,.5 .5-.4 .5,.3 .5-.1 .5-.4 .5-.5 .5-.6 .5-1.2 .5-2.7 .5-6.5 .5-11.8 .5-9.3 .5,8.9 .5,11.2 .5,5.4 .5,.4 .5-4.5 .5-9.8 .5-7.7 .5,8.3 .5,10.6 .5,5.8 .5,2.9 .5,1.1 .5,.5 .5,.3 .5,.2 .5-.1 .5,.2 .5,.2 .5-.1 .5,0 .5,.6 .5-.1 .5-.4 .5,0 .5-.1 .5,.2 .5,0 .5,.1 .5,.1 .5,.1 .5,.5 .5-.4 .5-.6 .5,.7 .5,.5 .5-.6 .5,0 .5,0 .5-.3 .5-.3 .5-.7 .5-1.5 .5-1.7 .5-1.8 .5,1.5 .5,2 .5,1 .5,.6 .5-.2 .5,.5 .5,0 .5-.5 .5-.4 .5-.8 .5-1.4 .5-3.2 .5-7.4 .5-13.4 .5-10.6 .5,10.6 .5,13.3 .5,7.3 .5,3.2 .5,1.6 .5,.5 .5-.2 .5-.1 .5,.1 .5-.8 .5-1.5 .5-3.4 .5-2.7 .5,2.9 .5,3.7 .5,2.2 .5,.5 .5,.3 .5,.3 .5,.2 .5-.2 .5,0 .5-.2 .5,.3 .5-.4 .5-.5 .5-1.6 .5-2.8 .5-5.2 .5-4.2 .5,4.1 .5,4.9 .5,2.9 .5,1 .5,1.3 .5-.4 .5,0 .5,.3 .5-.1 .5,.3 .5,0 .5-.4 .5,.5 .5-.1 .5,0 .5,.9 .5-.5 .5,.3 .5-.2 .5-.6 .5,.9 .5-.1 .5-.3 .5,.2 .5-.2 .5,.1 .5-.2 .5-.2 .5,.3 .5-.6 .5,.2 .5-.5 .5-.3 .5-.6 .5-.7 .5-.4 .5-.9 .5-.8 .5-.6 .5-.1 .5,.5 .5,.8 .5,1 .5,1.3 .5,.7 .5,.4 .5,.4 .5,.4 .5,.1 .5,.1 .5,.4 .5-.2 .5-.4 .5,.1 .5,.1 .5,.2 .5-.1 .5-.2 .5-.2 .5,.2 .5,.3 .5,.2 .5-.2 .5-.6 .5,.8 .5-.2 .5,.4 .5-.2 .5,0 .5,.5 .5-.2 .5,.1 .5,.1 .5-.2 .5,.6 .5-.3 .5-.4 .5-.4 .5,.4 .5-.1 .5,.3 .5-.6 .5,0 .5,.3 .5-.5 .5,.3 .5-.2 .5-.1 .5-.7 .5-.7 .5-1.9 .5-1.5 .5,1.4 .5,1.3 .5,1.1 .5,0 .5,.3 .5,.1 .5-.8 .5,.4 .5-.1 .5-.4 .5-.8 .5-.2 .5-.6 .5-.8 .5-.6 .5-.5 .5,.3 .5,.8 .5,1 .5,.5 .5,.5 .5,.8 .5,.4 .5,.1 .5,.3 .5,.1 .5,0 .5,.3 .5-.1 .5,.5 .5,.1 .5-.5 .5,.4 .5,.5 .5,.1 .5-.3 .5,.2 .5,.2 .5-.1 .5,.2 .5-.5 .5,.6 .5-.4 .5-.2 .5,0 .5,0 .5,.1 .5-.3 .5-.2 .5,0 .5-.5 .5-.4 .5-1 .5-1.7 .5-1.2 .5,1.3 .5,1.7 .5,1 .5-.1 .5,.9 .5-.8 .5,.5 .5-.2 .5-.2 .5-.2 .5,0 .5-1 .5-.8 .5-1.4 .5-2.1 .5-2.6 .5-3.6 .5-4.3 .5-5 .5-4.3 .5-1.8 .5,1.7 .5,4.3 .5,4.8 .5,4.1 .5,3.5 .5,2.6 .5,1.8 .5,1.6 .5,.9 .5,.3 .5,.5 .5,.2 .5,.3 .5-.3 .5,.3 .5,.4 .5-.3 .5-.2 .5,0 .5,.2 .5,.4 .5-.1 .5-.2 .5,.8 .5-.4 .5,.3 .5,.4 .5,.2 .5-.1 .5-.4 .5,.3 .5,.1 .5,.3 .5-.6 .5-.1 .5,.2 .5-.4 .5-.1 .5-.2 .5,.5 .5,.1 .5-.6 .5,.1 .5,.4 .5-.2 .5,.3 .5,0 .5-.6 .5,.3 .5,.2 .5,.7 .5-.5 .5-.5 .5,1.2 .5-.1 .5-.5 .5,.1 .5-.1 .5,.1 .5-.4 .5,.5 .5-.5 .5,.5 .5-.3 .5-.3 .5,.5 .5-.2 .5-.3 .5-.2 .5,1.2 .5-.8 .5,.6 .5-.3 .5,.8 .5,.1 .5-.1 .5,.1 .5-.1 .5-.2 .5-.2 .5-.1 .5-.5 .5-.1 .5-.4 .5-.1 .5-.5 .5,.6 .5-.1 .5-.6 .5,.9 .5-.7 .5-.1 .5-.2 .5,.5 .5,.1 .5,.2 .5-.6 .5,.3 .5,.6 .5,.3 .5-.9 .5,.4 .5,.2 .5,.2 .5-.4 .5,0 .5-.3 .5,.4 .5,0 .5,.7 .5-.2 .5,0 .5-.5 .5-.5 .5-1.1 .5-2.7 .5-1.9 .5,1.8 .5,2.2 .5,1.4 .5,.7 .5-.1 .5,.3 .5-.5 .5,.7 .5-.3 .5,.1 .5-.3 .5-.1 .5,.2 .5-.7 .5,1.2 .5-.5 .5,.7 .5-.2 .5,.3 .5-.2 .5,.6 .5,.4 .5,0 .5-.3 .5-.1 .5,.6 .5-.1 .5-.5 .5-.1 .5,.2 .5,.1 .5-.2 .5-1.7 .5-1.9 .5-1.5 .5,1.3 .5,1.8 .5,.7 .5-.5 .5-.4 .5-2.2 .5-3.8 .5-3.1 .5,3.3 .5,3.9 .5,2.5 .5,1 .5,0 .5,.5 .5,.4 .5-.7 .5,0 .5,.7 .5-.8 .5,1.1 .5-.7 .5,.1 .5-.4 .5,.3 .5-.1 .5-.1 .5-.3 .5,.4 .5,.3 .5-.5 .5,.3 .5-.2 .5-.4 .5,.4 .5,.2 .5-.1 .5,.7 .5-.7 .5,.2 .5,0 .5-1 .5,.6 .5-.2 .5,0 .5-.4 .5,.9 .5,0 .5-.4 .5-.3 .5,.8 .5-.2 .5,0 .5-.4 .5,.6 .5,.1 .5-.4 .5,.4 .5-.4 .5-.1 .5,0 .5,.1 .5,.6 .5-.3 .5-.1 .5,0 .5-.3 .5,.2 .5-.1 .5-.2 .5-.5 .5-1.1 .5-.8 .5,.8 .5,1.3 .5,.3 .5,.2 .5,0 .5,.4 .5,.1 .5-.2 .5,.1 .5,.5 .5-.3 .5-.2 .5,.1 .5-.1 .5-.6 .5,.5 .5-.1 .5-.2 .5,.5 .5-.8 .5,1.3 .5-1 .5,0 .5-.4 .5,.5 .5-.7 .5,0 .5,.3 .5,.1 .5-.8 .5,1 .5-.3 .5-.2 .5-.1 .5-.3 .5-.4 .5-.5 .5-.8 .5-.2 .5-.1 .5-.2 .5,.4 .5-.1 .5,.4 .5,.5 .5,.5 .5,.1 .5,.4 .5,.7 .5,0 .5,.1 .5,.4 .5,0 .5,.4 .5-.5 .5,.1 .5-.2 .5,1.4 .5-.7 .5,.6 .5-.1 .5-.2 .5-.3 .5,.3 .5,0 .5-.1 .5,.4 .5-.4 .5,.2 .5,.2 .5-.6 .5,.2 .5-.3 .5,.6 .5-.8 .5,.5 .5-.5 .5,0 .5,.4 .5-.2 .5-.2 .5,.9 .5-.7 .5,.5 .5-.6 .5,.5 .5,.3 .5-.7 .5-.2 .5-.1 .5,0 .5-.5 .5,.3 .5,.2 .5,.1 .5-.1 .5,.2 .5-.1 .5-1 .5,.6 .5,.4 .5-.7 .5,.4 .5-.3 .5,.1 .5-.2 .5,.9 .5-.3 .5-.4 .5,.8 .5,.1 .5-.2 .5-.3 .5-.2 .5,.5 .5-.1 .5-.1 .5-.6 .5,1 .5-.7 .5,.4 .5,.6 .5,0 .5-.3 .5,.2 .5,0 .5-.2 .5-.1 .5-1 .5-1 .5-.6 .5,0 .5,1.2 .5,.3 .5,.6 .5-.3 .5,.8 .5-.4 .5,.1 .5-.2 .5,.3 .5-.2 .5,.6 .5-.1 .5,.2 .5-.5 .5,.4 .5-1 .5-.1 .5-1.9 .5-2.4 .5-2 .5,1.7 .5,2.6 .5,1.3 .5,.8 .5,.8 .5-.5 .5-.2 .5,.6 .5,0 .5-.1 .5,.5 .5-1 .5,.9 .5-.1 .5,.3 .5,.3 .5-.2 .5,.6 .5-.6 .5,.4 .5-.5 .5,.1 .5,0 .5,.3 .5-1 .5,.4 .5,.1 .5,.1 .5,.4 .5,.1 .5-.3 .5,0 .5,.2 .5-.3 .5-.3 .5,.7 .5-.2 .5,.5 .5-.5 .5-1 .5,.7 .5-.3 .5-.5 .5-.3 .5-1.5 .5-1 .5,1.2 .5,.6 .5,.8 .5,0 .5,.5 .5-.3 .5-.3 .5,.7 .5-.6 .5,.3 .5-.6 .5,.4 .5,.2 .5,0 .5,0 .5-.3 .5-.3 .5-.2 .5,.4 .5,.2 .5,.5 .5-.5 .5,.4 .5-.7 .5,.9 .5-.1 .5,.1 .5-.4 .5,.8 .5,.2 .5-.3 .5,.5 .5-.3 .5,0 .5-.1 .5,.3 .5-.3 .5-.4 .5,.1 .5,.1 .5-.8 .5,0 .5-.2 .5,.1 .5-.8 .5,.2 .5-.6 .5,0 .5-.5 .5-.4 .5-.2 .5,.1 .5,.5 .5,.5 .5,.5 .5-.2 .5,.5 .5-.6 .5,.9 .5-.1 .5-.1 .5,.2 .5-.7 .5,.5 .5,.4 .5-.4 .5,.3 .5-.4 .5,0 .5,.8 .5-.3 .5-.1 .5,.1 .5,.1 .5,.1 .5,.4 .5-.2 .5-.3 .5,.3 .5-.4 .5,.5 .5-.6 .5,.4 .5,.3 .5-.8 .5,.4 .5,.1 .5-.2 .5-.6 .5,.2 .5-.8 .5-.4 .5-1.2 .5-1.5 .5-1 .5-.6 .5,.5 .5,1.1 .5,1.4 .5,1.2 .5,.4 .5,.5 .5,.6 .5,.1 .5,.4 .5,.1 .5-.2 .5,.1 .5,.4 .5,.1 .5,.2 .5-.1 .5,.3 .5-.2 .5-.2 .5,.1 .5-.2 .5,0 .5-.1 .5,.2 .5-.1 .5,.3 .5-.6 .5-.5 .5,.3 .5,.2 .5-.6 .5,.8 .5-.2 .5-.1 .5-.1 .5,.4 .5,.2 .5-.6 .5-.1 .5-.1 .5-.5 .5,.7 .5-.1 .5-.2 .5-.5 .5,1 .5,0 .5,.1 .5-.5 .5,.7 .5,.3 .5-.2 .5-.1 .5,.5 .5,0 .5,.3 .5-.9 .5,.4 .5-.2 .5-.2 .5-.3 .5,1 .5-.9 .5-.4 .5,.6 .5,.1 .5,.1 .5,0 .5-.7 .5-.4 .5,.8 .5,0 .5,0 .5-.1 .5-.1 .5,.3 .5-.1 .5,.3 .5,.1 .5-1 .5,1.2 .5-.9 .5,.2 .5,.2 .5,.2 .5-.5 .5,0 .5,.2 .5,0 .5,0 .5-.1 .5,0 .5,.2 .5-.2 .5,1.5 .5-1.2 .5,.5 .5,.3 .5-.4 .5,.2 .5,.1 .5,0 .5,.2 .5,0 .5-.4 .5,.5 .5-.4 .5-.1 .5-.6 .5,.7 .5,0 .5-.4 .5,.7 .5-.9 .5-.1 .5,.5 .5,.3 .5-.5 .5,.3 .5-.2 .5-.1 .5-.4 .5-.1 .5-.1 .5,.2 .5,.1 .5-.3 .5-.2 .5,.2 .5,.1 .5-.7 .5-.7 .5,.7 .5,.9 .5,.8 .5-.3 .5,.4 .5,.2 .5-.3 .5,.6 .5-.2 .5-.1 .5-.8 .5,0 .5-.1 .5-.7 .5,1 .5,.1 .5-.3 .5-.3 .5,1.1 .5,0 .5-.3 .5,.6 .5,.4 .5-.2 .5-.6 .5,.5 .5-.3 .5-.3 .5,.2 .5-.9 .5,1.2 .5-.2 .5-.7 .5,.4 .5-.4 .5,.2 .5-.5 .5,.5 .5-.4 .5,.3 .5,.1 .5-.1 .5-.4 .5,.2 .5-.5 .5,.6 .5-.3 .5,0 .5,.2 .5-.4 .5,0 .5-.3 .5,.1 .5,.9 .5-.3 .5,.2 .5,0 .5,.2 .5-.8 .5,.6 .5-.8 .5,.2 .5,.1 .5-.6 .5,.5 .5-.3 .5-.2 .5,.1 .5-.1 .5-.2 .5,.2 .5,.3 .5-.1 .5,.5 .5-.3 .5-.2 .5,.2 .5,.1 .5,.6 .5-.7 .5,.4 .5,0 .5,.1 .5,.4 .5-.3 .5-.1 .5,.1 .5-.6 .5,.5 .5,.2 .5-1 .5,.9 .5-.3 .5-.3 .5,.2 .5-.1 .5,.2 .5-.3 .5-.5 .5,.4 .5,.4 .5-.2 .5,.1 .5,.2 .5-.7 .5,.5 .5-.1 .5,.7 .5-.5 .5,.8 .5,0 .5-.4 .5-.1 .5,0 .5,.4 .5-.4 .5,.4 .5-.5 .5-.2 .5,.1 .5,0 .5-.1 .5-.3 .5-.1 .5,.9 .5-1.2 .5,.2 .5,.4 .5-.6 .5,.3 .5,.3 .5,.3 .5-.1 .5,.5 .5-.3 .5,.1 .5,.7 .5-.1 .5-.2 .5-.2 .5-.2 .5,.8 .5,.4 .5-.3 .5-.3 .5,.1 .5-.2 .5,0 .5,.4 .5-.4 .5,.1 .5-.6 .5,.4 .5-.4 .5-.1 .5,0 .5-.2 .5-.1 .5,.3 .5-.2 .5,.4 .5-.8 .5,.1 .5,.1 .5-.3 .5,.4 .5-.6 .5,.3 .5-.6 .5,.6 .5-.3 .5-1 .5,.2 .5,.4 .5,.5 .5-.9 .5,.6 .5,.9 .5-.4 .5,.1 .5-.1 .5,.4 .5-.1 .5-.1 .5,.3 .5-.2 .5,.2 .5-.6 .5-.1 .5-.3 .5,.2 .5,.4 .5,.1 .5,.4 .5,0 .5-.3 .5,.3 .5-.5 .5,.3 .5-.3 .5,1.2 .5-.5 .5-.1 .5,.2 .5-1.3 .5,1.4 .5-1.4 .5,.6 .5-.5 .5-.9 .5,.4 .5-.5 .5-.3 .5,.5 .5,.1 .5,.6 .5,.4 .5-.4 .5,.8 .5,.1 .5,.3 .5-.2 .5,0 .5,.5 .5-.5 .5-.6 .5,.4 .5-.2 .5-.2 .5,0 .5,.2 .5,.1 .5,0 .5,0 .5,.7 .5,.2 .5-.3 .5,.1 .5,.3 .5-.3 .5,1.1 .5-1.4 .5,1.2 .5-.2 .5-.2 .5,.3 .5-.3 .5,.1 .5,0 .5,0 .5-.1 .5,.3 .5-1.1 .5,.7 .5,0 .5-.4 .5-.6 .5,.2 .5-.3 .5,.4 .5-.3 .5,.3 .5-.4 .5,.6 .5-.6 .5,.1 .5,.5 .5,.2 .5-.5 .5-.4 .5-.6 .5,.7 .5-.1 .5,.2 .5-.5 .5,.3 .5-.2 .5-.2 .5,.3 .5,.2 .5-.6 .5,.7 .5-.3 .5-.1 .5,.9 .5-.4 .5-.1 .5,.2 .5,.4 .5-.2 .5-.3 .5,0 .5,.4 .5,.2 .5,.3 .5-.6 .5,.6 .5,0 .5-.6 .5,.2 .5-.6 .5,.7 .5-.3 .5-.6 .5-.4 .5,.6 .5-.4 .5,.1 .5,.7 .5-.3 .5-.7 .5,.8 .5-.3 .5,.6" fill="none" stroke="#37AD6B" stroke-width="4.3" stroke-linejoin="round"/>
<path d="M116.4,1232.7l.5-2.5 .5,.1 .5,1.1 .5,.7 .5-1.1 .5-.3 .5,1.9 .5,.2 .5-1 .5,.3 .5,.1 .5,.4 .5-.2 .5-1.5 .5,2.7 .5-1.8 .5,1.6 .5-1.5 .5,2.1 .5-.5 .5-.6 .5-.3 .5,.9 .5,1 .5-2.8 .5-.1 .5,1.5 .5,.1 .5,1.3 .5,.3 .5-2.6 .5,1.5 .5-1.2 .5,1.4 .5-.4 .5,.2 .5-.3 .5-.3 .5,.7 .5,2 .5-1.1 .5-.5 .5-.3 .5-.3 .5-.1 .5,1.3 .5-.8 .5,1.4 .5-1.3 .5-1 .5,1.5 .5,.4 .5-1 .5,2.2 .5-2.4 .5,0 .5,.2 .5-.1 .5,.8 .5-2 .5,2.2 .5,.7 .5-1.8 .5,1.9 .5-2.8 .5,2.7 .5-.9 .5-.5 .5,.4 .5,1.8 .5,1 .5-2.6 .5-.2 .5,1.5 .5-1.6 .5,1.9 .5-1.9 .5,2.1 .5-.6 .5-1 .5,.5 .5-.6 .5,.7 .5-1.5 .5,2.6 .5-1.5 .5,0 .5,1 .5-.4 .5,.8 .5,.3 .5-.7 .5-.7 .5,.1 .5,.4 .5,.9 .5,.6 .5,.5 .5-.5 .5,1.1 .5-1.1 .5,.1 .5,.2 .5-.4 .5-.9 .5,2 .5-.2 .5-2.1 .5-.3 .5,2.4 .5-2.7 .5,2.1 .5-.2 .5-1.8 .5,.8 .5,2.3 .5-2 .5,1.7 .5-1.2 .5,.2 .5,.3 .5-.9 .5-.2 .5-.1 .5,.1 .5-.9 .5,.6 .5,1 .5,0 .5-1.8 .5,.1 .5,1.6 .5,.7 .5,1.6 .5-3.8 .5,1 .5-1 .5,.9 .5,.8 .5-.3 .5,.7 .5,0 .5,1.2 .5,.1 .5-1.7 .5,1.5 .5-.3 .5,.4 .5-1.9 .5,2.1 .5-.9 .5,1.2 .5-.9 .5-.5 .5,.7 .5,0 .5,.2 .5-.9 .5,.6 .5-.9 .5,.2 .5,.3 .5-.5 .5,.2 .5-.3 .5,2.3 .5-.2 .5,.1 .5,0 .5,1.1 .5-2.6 .5,1.5 .5,.2 .5,.1 .5,0 .5-1.1 .5,1.9 .5,.1 .5-.8 .5-1.4 .5,.6 .5,.7 .5-1.1 .5-.1 .5,1.1 .5-.1 .5,1.2 .5-.5 .5,.7 .5-.4 .5-.3 .5-.2 .5-.4 .5,1.4 .5-2.3 .5,1.4 .5-.2 .5,.6 .5-.4 .5-1.3 .5,2.3 .5-.7 .5-1.2 .5,1.3 .5-1.9 .5,.7 .5-.7 .5,2.3 .5,.1 .5-1.2 .5,.9 .5-1.2 .5,1.8 .5-1.6 .5,1.1 .5-.5 .5-1 .5,1.5 .5-.7 .5,0 .5-1.5 .5,1.5 .5,.1 .5,.1 .5,2.8 .5-1.5 .5-2.7 .5,1.4 .5,.1 .5,1.2 .5,.4 .5,.5 .5-1.3 .5,.5 .5,.8 .5-1.5 .5-1 .5,1.7 .5-1.6 .5,.5 .5,.9 .5,.2 .5-.2 .5-.5 .5-.3 .5,0 .5,1.6 .5-.1 .5-1.7 .5,2.9 .5-.4 .5-1.3 .5,1.3 .5,.6 .5,.2 .5-.3 .5,.4 .5-.5 .5-1.6 .5,3 .5-.9 .5,.3 .5-3.4 .5,.9 .5,1.2 .5-2.2 .5,1.1 .5-.5 .5,.4 .5,1 .5-.3 .5-.7 .5,1.8 .5-.1 .5-1.1 .5-.7 .5,1.3 .5-.5 .5,1.4 .5-1.2 .5,.3 .5-.1 .5,.9 .5-1.1 .5,.2 .5,1.3 .5-1.8 .5,2.2 .5,.1 .5-2 .5,.4 .5,1.5 .5-.9 .5-.2 .5,0 .5,1 .5-1 .5,1.3 .5-2.3 .5,.4 .5,1.3 .5-.2 .5-1.4 .5-1 .5,.5 .5,1.5 .5,0 .5-.8 .5,.5 .5-.2 .5-.8 .5,.4 .5,.2 .5-.7 .5,.8 .5-1 .5,.1 .5,1.3 .5,0 .5,0 .5,.1 .5-.8 .5,1.3 .5-2 .5,.9 .5,.9 .5-.4 .5,1.3 .5,.2 .5-2.1 .5,1 .5-.5 .5-.3 .5,.8 .5,.5 .5-.7 .5-1.1 .5,1.2 .5-1.2 .5,1.2 .5-.3 .5-.6 .5,1.2 .5,.6 .5,.1 .5-.4 .5-.8 .5-.6 .5,.8 .5,0 .5-.2 .5,.4 .5,.1 .5,1.4 .5-.8 .5,1.2 .5-2.4 .5-.5 .5,1.7 .5-1 .5-1.3 .5,1.1 .5-3.2 .5-.6 .5,.1 .5,2.5 .5,2.7 .5-2.2 .5,1.2 .5,.4 .5-.4 .5,1.2 .5-.9 .5-.5 .5,2.2 .5,0 .5-2.2 .5,1.5 .5-.3 .5,.2 .5-.3 .5-.1 .5,.9 .5-2 .5,2.4 .5-.7 .5,.5 .5-.4 .5,1.7 .5-1.6 .5-.1 .5,1 .5-1.2 .5,.7 .5-.6 .5-.8 .5,2.3 .5-1.7 .5-.7 .5,1.9 .5-.1 .5-1.3 .5-.8 .5,1.4 .5-.4 .5-1.9 .5,1.9 .5,.6 .5-.4 .5,1.4 .5-2.4 .5-.3 .5,1.9 .5-3.1 .5,1.7 .5,1 .5,.2 .5,.3 .5-.8 .5-1.5 .5-.6 .5-.7 .5-1.1 .5,.8 .5,.4 .5,1.3 .5,1.5 .5-1.9 .5,1.8 .5-1.9 .5,.7 .5-.5 .5,1.3 .5-.6 .5,.9 .5-1.5 .5,.7 .5-2.3 .5-.6 .5-3.3 .5-2.7 .5,3.5 .5,2.1 .5,2.4 .5,1.2 .5-.4 .5-.3 .5-.8 .5,.3 .5,2 .5,.2 .5-1.6 .5,1.2 .5-.9 .5-1.3 .5-.4 .5,.7 .5-1.4 .5,1.1 .5-.1 .5-1 .5-.5 .5-.3 .5-.7 .5-1.5 .5-2.7 .5-5.9 .5-11.9 .5-25.7 .5-43.1 .5-31.6 .5,31.8 .5,43.3 .5,25.7 .5,12.8 .5,5.4 .5,3.1 .5,1 .5,1 .5,1.6 .5,.3 .5-.6 .5-.5 .5,1.6 .5,.4 .5-.5 .5,1.4 .5-1.4 .5,.4 .5,.9 .5-1.3 .5-.2 .5,.3 .5-.3 .5,.3 .5-.4 .5,1.6 .5-.6 .5,.1 .5-.3 .5,.1 .5,.3 .5,.7 .5-1 .5,1.2 .5-1.2 .5,1.2 .5-1.9 .5-.1 .5,.8 .5-2.3 .5-.5 .5-3.7 .5-8.1 .5-15.3 .5-11.6 .5,11.7 .5,15 .5,7.7 .5,3.9 .5,1.3 .5,.6 .5-.7 .5,.5 .5,2.5 .5-1.1 .5,1.2 .5-2 .5,.4 .5,.6 .5-.7 .5,2.8 .5-1.7 .5,.1 .5,.1 .5-.2 .5,.7 .5-.7 .5,.1 .5,1.1 .5-1.2 .5-.8 .5,.1 .5-2.1 .5-1.5 .5-2.6 .5,2 .5,2.5 .5,2.3 .5-.1 .5,1.1 .5-2.5 .5,.5 .5,1.1 .5,.5 .5-.8 .5-1.2 .5,1 .5,1 .5,.6 .5-1.6 .5,1 .5-2 .5-.6 .5-4.4 .5-2.3 .5,1.8 .5,4.4 .5-.2 .5,1.8 .5,1 .5-1.7 .5,1.2 .5-2.2 .5,.3 .5-4 .5-5.7 .5-4.3 .5,4.4 .5,5.5 .5,3.5 .5,1 .5-.5 .5,.6 .5,2.6 .5-.9 .5-.5 .5-.4 .5,1.8 .5-.5 .5-.6 .5-.8 .5-2.1 .5-1.9 .5,1.3 .5,2.9 .5-.3 .5,.3 .5,1.9 .5,.2 .5-1.1 .5-.9 .5-.9 .5,1.8 .5-.4 .5,1.7 .5-1 .5-.6 .5,.5 .5-1 .5-2.3 .5-4.4 .5-3.2 .5,3.7 .5,3.4 .5,3.9 .5-.5 .5,2 .5-.9 .5,1 .5-2.5 .5,.7 .5-.3 .5,.2 .5-.6 .5-1.2 .5-3.3 .5-1.7 .5,1 .5,3.5 .5,.3 .5,2.6 .5-1.3 .5,1.2 .5,.7 .5,.3 .5,.4 .5-.9 .5,0 .5,.5 .5-.6 .5-1.7 .5,1.1 .5,0 .5,.1 .5-1.2 .5-2.8 .5-2.4 .5,2 .5,2.8 .5-.9 .5,.9 .5,.8 .5-.7 .5,2.1 .5-1.4 .5-1.4 .5,1 .5-.2 .5-1.6 .5,1.5 .5-2.1 .5-2.4 .5-6.6 .5-11.6 .5-9.5 .5,8.8 .5,11.1 .5,5.1 .5,.3 .5-3.9 .5-9.8 .5-7.9 .5,8.5 .5,10.5 .5,5.2 .5,3.7 .5,.5 .5,.8 .5,.5 .5-.2 .5,.1 .5,.2 .5-.5 .5-.9 .5,2.1 .5-.1 .5-.5 .5,.6 .5-.2 .5,.6 .5,.5 .5-1.1 .5,1.1 .5-2.4 .5,1.9 .5-.6 .5,.6 .5-.7 .5,1.5 .5-2.2 .5,1.7 .5-.8 .5,.2 .5-2.4 .5,1.4 .5-.5 .5-1.2 .5-2 .5-2.2 .5,2 .5,2.6 .5,.6 .5,1.4 .5-1.8 .5,1 .5,.1 .5-.3 .5-.6 .5-1.1 .5-.7 .5-3.3 .5-7.9 .5-13.2 .5-10.3 .5,10.4 .5,13.4 .5,7 .5,3.9 .5,0 .5,2.1 .5-.9 .5,1.4 .5-1 .5-1.1 .5-1.8 .5-3.2 .5-2.4 .5,2.8 .5,3.8 .5,2.4 .5-1.1 .5,1.8 .5-.6 .5,2.1 .5-.7 .5,.8 .5-.3 .5-2.6 .5,.8 .5-.4 .5-1 .5-3.3 .5-4.9 .5-4.5 .5,4.1 .5,5.4 .5,3.2 .5-.9 .5,1.3 .5,1.3 .5-.2 .5,.2 .5-.8 .5-.4 .5,1.3 .5,.2 .5-.9 .5,.7 .5,.7 .5-.3 .5-.7 .5-.3 .5,2.6 .5-1.2 .5-.3 .5-.4 .5,1.7 .5-3 .5,1.1 .5-.5 .5,.4 .5-.3 .5,2 .5-1.2 .5-1.1 .5-.3 .5-.2 .5,0 .5,0 .5-1.8 .5-.3 .5-.6 .5-.4 .5-.4 .5,.7 .5,1 .5,1.1 .5-.1 .5,.6 .5,1.4 .5,.3 .5,.4 .5-.6 .5-.7 .5,2.4 .5-.4 .5,.2 .5-1.4 .5,.6 .5-.5 .5,1.5 .5-3.2 .5,2.2 .5-1.3 .5,1.2 .5-.8 .5,.3 .5-1.3 .5,2 .5-.7 .5-.2 .5,1.1 .5,.6 .5,.7 .5-1.8 .5,.9 .5,.8 .5,0 .5-.8 .5-.4 .5-.4 .5,1.6 .5-1 .5,0 .5,1.1 .5-1.2 .5-1.7 .5,.5 .5,.7 .5,0 .5,.5 .5-.7 .5,.6 .5-2.3 .5-.6 .5-2.7 .5,1.4 .5,1 .5,2.1 .5-.4 .5-.3 .5-.6 .5,1.4 .5-1 .5,.5 .5-.1 .5-.7 .5-.6 .5-.7 .5-1.2 .5-.1 .5-.3 .5-.3 .5,.6 .5,1.4 .5,.2 .5,1.1 .5,.7 .5,.4 .5,.2 .5-.8 .5,1.3 .5,.2 .5,.7 .5-1.1 .5,1.2 .5,0 .5,.6 .5,.6 .5-.5 .5-1 .5,.3 .5,.5 .5-.4 .5,.5 .5-1.4 .5,.1 .5-.7 .5,2.2 .5-.6 .5-.4 .5-.2 .5,.8 .5-1.8 .5,1.8 .5-.5 .5,.4 .5-1.2 .5-1.7 .5-1.9 .5-.8 .5,2 .5,1.2 .5,.6 .5-.1 .5-.4 .5,1.2 .5,1.7 .5-2 .5,0 .5-1.5 .5,1.5 .5-.4 .5-2.9 .5-.6 .5-1.3 .5-2.7 .5-3.8 .5-4.5 .5-5 .5-4.2 .5-1.9 .5,1.8 .5,4.3 .5,4.2 .5,4.9 .5,3.5 .5,2.1 .5,1.7 .5,2.5 .5,.8 .5,0 .5,0 .5,1.5 .5-.6 .5-.3 .5,1 .5-.6 .5,.1 .5,.3 .5-1.1 .5,.5 .5,.3 .5,1.4 .5-1.7 .5,.1 .5,1.2 .5,1.2 .5-.7 .5-2.3 .5,1.3 .5,.5 .5-.8 .5,1.1 .5,.6 .5-.1 .5-1.8 .5,.2 .5,.4 .5-.4 .5-1.6 .5,2.5 .5-1.2 .5,1.7 .5-.5 .5,.4 .5,.1 .5-1.2 .5-.7 .5,2.5 .5-1.9 .5,1.3 .5,.6 .5-1.2 .5,1.1 .5-1.9 .5,1 .5-.1 .5,.1 .5,.2 .5,.6 .5-1.4 .5,.4 .5-.3 .5-1.4 .5,1.2 .5,1.5 .5-1 .5,.9 .5-1.5 .5,.9 .5,.1 .5-.3 .5-.8 .5-.6 .5,1.6 .5,1.1 .5,.9 .5-1.2 .5-.4 .5,.9 .5-.9 .5-1.5 .5,.5 .5,1.9 .5-3.7 .5,3.8 .5-2.1 .5-.8 .5,1.5 .5-1.2 .5-.2 .5-.4 .5-1 .5,.2 .5,1.2 .5,1 .5-1 .5,.4 .5-2 .5,2.3 .5,.2 .5,.7 .5-1.6 .5,1.6 .5-1.2 .5,.7 .5,0 .5-.8 .5,.5 .5,.4 .5,.3 .5-1.2 .5,1 .5-.4 .5-.9 .5-.5 .5-3.1 .5-1.6 .5,1.8 .5,2.1 .5,1.1 .5,.2 .5,1.7 .5-.7 .5,.5 .5-.3 .5-.8 .5-1.4 .5,.9 .5,0 .5,2.1 .5,0 .5-.6 .5-1 .5,1.4 .5,.8 .5-.7 .5-1.4 .5,2.5 .5-.7 .5-1 .5,.2 .5,1.7 .5-1.4 .5-.7 .5-.4 .5,1.5 .5,.4 .5,0 .5-1.5 .5,0 .5-3 .5-1.6 .5,2 .5,2.5 .5-.5 .5,.4 .5-.3 .5-3 .5-3.4 .5-3.3 .5,2.7 .5,4 .5,1.5 .5,1.6 .5-.3 .5,.8 .5-.8 .5,.8 .5,1.5 .5,.2 .5-1.8 .5,.1 .5,1.5 .5-1.2 .5,.9 .5-1.5 .5,1.9 .5-.8 .5,.2 .5,.4 .5-1 .5,1.6 .5-1.2 .5,.9 .5-1.8 .5,.7 .5,.2 .5,.9 .5,.2 .5-3.6 .5,2.3 .5,.2 .5-1.3 .5,.8 .5,.7 .5-1.8 .5,1.4 .5,.2 .5,.7 .5,.9 .5-.5 .5-3.4 .5,2.4 .5-.6 .5,.3 .5-1.1 .5,.9 .5-.2 .5-1.1 .5,1.6 .5-.4 .5,.2 .5,1.2 .5-1.1 .5-.5 .5,.4 .5,.2 .5,.2 .5-.7 .5-.6 .5,1.7 .5-1.1 .5-3.1 .5,.2 .5,1 .5,2.7 .5-.8 .5,.1 .5,.6 .5-.5 .5-1.8 .5,1.7 .5-.2 .5,.5 .5,.4 .5,.5 .5-1.5 .5,.7 .5-.6 .5-.6 .5,1 .5,.2 .5,.6 .5-.8 .5,.5 .5-1.3 .5,1.5 .5-1.7 .5,1.3 .5-.6 .5-.1 .5,.9 .5-.8 .5-.6 .5-1 .5,1.4 .5-.7 .5,1.1 .5-1 .5-1.3 .5,.6 .5-1.3 .5,.3 .5-.3 .5-.1 .5-.3 .5,1.1 .5-.5 .5,1.4 .5,.8 .5,.2 .5,.1 .5-.6 .5-1.2 .5,2.2 .5,.4 .5-.1 .5-1.2 .5,1.9 .5,.4 .5-.1 .5-2.3 .5,2.7 .5-1.1 .5,2.2 .5-1.8 .5-.3 .5-1.1 .5,2.6 .5-1.1 .5,.8 .5-1.5 .5,2 .5-.6 .5-.1 .5-.9 .5,.3 .5-1.8 .5,.9 .5,1.6 .5-1.2 .5,0 .5-.2 .5,1.3 .5-2.7 .5,1.3 .5,.2 .5-.8 .5,1.6 .5-.3 .5,.1 .5-1.3 .5,1.5 .5-.5 .5-.9 .5,.8 .5-1.7 .5,2.5 .5-1.7 .5,.5 .5,.4 .5,0 .5-.6 .5-.5 .5,2.1 .5-1.8 .5-.6 .5,.2 .5,.3 .5,1.2 .5-.8 .5-.7 .5,1 .5-.8 .5,1 .5-1.2 .5-.5 .5,.5 .5,2.5 .5-3 .5,1.3 .5,.5 .5-.1 .5,.1 .5-1.2 .5,1.2 .5,1 .5,.9 .5-.6 .5-1.5 .5,.8 .5-.5 .5-.6 .5-1.6 .5-1.5 .5,2.3 .5,0 .5,1.6 .5-.3 .5-1.4 .5-1 .5,1.2 .5,0 .5,1.2 .5-.8 .5-.5 .5,3 .5-2.6 .5,.1 .5,.7 .5-1 .5,.4 .5-.5 .5-1.2 .5-2.3 .5-3.2 .5,2.6 .5,1.8 .5,1.8 .5,1 .5-.3 .5-1.1 .5,1.9 .5,.1 .5,.6 .5-1.8 .5,.4 .5,1.1 .5-.7 .5-.2 .5,.7 .5,.3 .5,1.5 .5-1.3 .5,1.3 .5,.9 .5-2.6 .5,1.7 .5-1.7 .5-.7 .5,1 .5-.6 .5,.3 .5-.2 .5-.9 .5,.5 .5,1.7 .5-.4 .5-.5 .5-.6 .5,1 .5-.7 .5,1.5 .5-.8 .5,.6 .5-1.9 .5,1.3 .5-.2 .5-1.7 .5-.2 .5-1.7 .5,.2 .5,.3 .5,.3 .5,.3 .5,2.1 .5-2.3 .5,2.7 .5-.9 .5-.1 .5-.3 .5,1 .5-1.5 .5,.2 .5,.3 .5,.8 .5-.1 .5-1.8 .5,1.4 .5,.5 .5-1.2 .5,0 .5,1.2 .5-.8 .5,1.5 .5-2.4 .5,.6 .5,2.3 .5-1.4 .5,.1 .5,.6 .5,.3 .5-.3 .5-1.5 .5,1.7 .5,.6 .5-.5 .5,.6 .5,.7 .5-1.5 .5-1.9 .5,1.9 .5,0 .5-.7 .5-.4 .5,0 .5-.6 .5-1.3 .5,.7 .5-1 .5-.5 .5-.5 .5,1 .5-.2 .5-.1 .5,.9 .5,1.1 .5-.7 .5,.8 .5-.6 .5,1.2 .5-1.3 .5,.7 .5,.7 .5-1.4 .5,1.9 .5-1.7 .5,.8 .5,.6 .5-.3 .5,.6 .5-2.2 .5,1.4 .5-.9 .5,.9 .5,.7 .5,1.1 .5-.6 .5-.8 .5,.8 .5-.8 .5,.6 .5,.4 .5-1.2 .5-.6 .5,.4 .5-.4 .5,.7 .5-.3 .5,.4 .5-.8 .5,0 .5-1.3 .5-.8 .5-.1 .5-1.7 .5-1.1 .5,0 .5-.3 .5,1.1 .5,1.2 .5,2.1 .5-.6 .5,1.8 .5-.7 .5,1.1 .5,.3 .5-.6 .5,.3 .5-.6 .5,1.4 .5-.8 .5,0 .5,1.4 .5-1.6 .5,.9 .5,0 .5,.7 .5,.7 .5-3.1 .5,2.2 .5-1.3 .5,.2 .5,0 .5,.3 .5-.7 .5,.2 .5,.7 .5,.2 .5-1.2 .5,1.5 .5-1.2 .5-1 .5,1.1 .5,.5 .5-.4 .5-.3 .5-.2 .5,.6 .5-.4 .5-.9 .5,1.2 .5-1.1 .5,.7 .5-.1 .5,.2 .5,1.1 .5-.2 .5-.9 .5-.6 .5,1.4 .5,.7 .5-1.1 .5,1.8 .5-1.9 .5,1.9 .5-.3 .5-1 .5-.2 .5,.5 .5-2.3 .5,.8 .5,.5 .5-.5 .5-.9 .5,1.9 .5-.9 .5,.7 .5,.9 .5-.3 .5-2.1 .5,.3 .5,1.4 .5-.2 .5,.4 .5-.1 .5,0 .5-1.8 .5,.5 .5-.8 .5,1.5 .5-.4 .5,1.2 .5,.8 .5-1.4 .5,.3 .5,.2 .5-1.3 .5,.9 .5-.2 .5-.2 .5-.1 .5-.5 .5-1.1 .5,1.9 .5-.5 .5,.8 .5-.2 .5,.1 .5-.1 .5,1.4 .5-1.4 .5,2.1 .5-.5 .5-1.1 .5,.2 .5,.1 .5-.5 .5,.9 .5-.8 .5,1.5 .5-2.3 .5,1.1 .5,.8 .5-1 .5,.6 .5,0 .5-1.2 .5-.1 .5,2.4 .5,.1 .5-2.7 .5,.4 .5,.4 .5-2 .5,.9 .5,1.2 .5-2.3 .5,.8 .5,.2 .5,1.7 .5,.1 .5,.4 .5-.9 .5,.8 .5,.1 .5-.2 .5-.5 .5,.4 .5-1 .5,1.5 .5-.4 .5-1.2 .5,.2 .5-1.6 .5,.9 .5,2.3 .5-1.8 .5-.1 .5,1.3 .5,.5 .5-.3 .5-.4 .5,.3 .5-.1 .5,.9 .5,1.4 .5-2.3 .5-.9 .5-.6 .5,1.7 .5,0 .5-1.2 .5,.5 .5,2 .5-2.9 .5,1.2 .5-.6 .5-.3 .5,.5 .5-.1 .5,.2 .5-.6 .5-1.4 .5,1.1 .5,.6 .5,1.6 .5-1.9 .5-.6 .5,1.7 .5-1.6 .5,1 .5-.2 .5,.4 .5-.6 .5,1.5 .5-1.7 .5,.7 .5,.8 .5-1.1 .5,.8 .5-.8 .5,.2 .5-2.2 .5,3 .5-2.3 .5,.3 .5,.8 .5,.1 .5-.2 .5,1.7 .5-2.6 .5-.2 .5,.8 .5,0 .5-.1 .5-.9 .5,2.1 .5-2.4 .5,1.2 .5-.8 .5,2.8 .5-1.1 .5-1.9 .5,2 .5,.9 .5-.3 .5-1.7 .5,.4 .5-.5 .5,1.3 .5-2.5 .5,.8 .5,.8 .5-.6 .5,1.4 .5,.5 .5-1.5 .5,0 .5-.7 .5,2.2 .5,.2 .5-1.5 .5,0 .5,1.7 .5-.4 .5-1.1 .5,1.4 .5-1.9 .5-.2 .5,2 .5,.6 .5-1.1 .5,.4 .5,0 .5-.2 .5-2.1 .5,1 .5,.3 .5-.6 .5,.9 .5,.3 .5,.7 .5-2.3 .5,.4 .5,.4 .5,.3 .5,1.2 .5-2.1 .5,.9 .5,1.7 .5-2.6 .5,.8 .5-.2 .5,1.8 .5-.6 .5-.9 .5,.4 .5,1.1 .5,.6 .5,.5 .5-1.5 .5-.1 .5,.6 .5-1.2 .5,1.4 .5-.8 .5-.5 .5,.9 .5-.7 .5,.7 .5-.9 .5,0 .5,.7 .5-.9 .5,1.8 .5-1.8 .5,1.1 .5-2.4 .5,.9 .5-1 .5,1.4 .5,.3 .5-1.7 .5,1.1 .5,.5 .5-.9 .5,.5 .5-1 .5,.3 .5-.3 .5-.9 .5,1.9 .5-1.7 .5,1.7 .5-1.1 .5,1.9 .5-.5 .5-2.4 .5,.5 .5,1.3 .5,.9 .5-2 .5-.2 .5,2.6 .5-2.4 .5,1.8 .5-.8 .5,.1 .5-.5 .5-.6 .5-.1 .5,1.6 .5,1.1 .5-.2 .5,.4 .5-2.3 .5,.1 .5,.3 .5,.7 .5,.3 .5-.1 .5-.2 .5,.1 .5,.2 .5-1.3 .5,.2 .5,.8 .5-1 .5-.6 .5-1.3 .5,2.5 .5-2.5 .5-.6 .5,1.7 .5,.1 .5,.8 .5-.3 .5,1.4 .5-1.6 .5-.2 .5,1 .5-.8 .5,1.1 .5-.4 .5,1.6 .5-1.6 .5,.7 .5,.7 .5-.5 .5-1.2 .5,1 .5-.3 .5,.8 .5,1.6 .5-1.4 .5-.4 .5-1.7 .5,1.8 .5,.7 .5-2.5 .5,1.6 .5-.9 .5,1.1 .5,1.7 .5-1.1 .5-1.5 .5,2.3 .5-2.9 .5,2.5 .5-.7 .5-.3 .5-.6 .5,1.6 .5-1.9 .5,.3 .5,.9 .5,.5 .5-1.3 .5-1.5 .5,1.8 .5,1.7 .5-1.7 .5-2 .5,1.7 .5-.2 .5,.9 .5,.6 .5-1.4 .5,.6 .5-.2 .5,1.3 .5-1.6 .5,0 .5-.2 .5-1.5 .5,1.3 .5,.6 .5-1.3 .5,1.5 .5-1 .5,.5 .5,.5 .5-2.4 .5,1.5 .5-1.4 .5,2.8 .5-1.7 .5,.4 .5-.3 .5,1.7 .5-1.3 .5-1.3 .5,3.2 .5-2 .5,1.9 .5-.3 .5-.5 .5-1.8 .5,3 .5-1.4 .5-.5 .5,.4 .5,.3 .5-2.3 .5,.7 .5-.6 .5,1.1 .5,.4 .5-1.2 .5,1 .5,.4 .5-1.3 .5,.4" fill="none" stroke="#37AD6B" stroke-width="2.0" stroke-linejoin="round"/>
<text transform="translate(123.85,1044.30) scale(1.1032,1)" font-size="32.10">f</text>
<text transform="translate(137.62,1044.30)" font-size="33.00">:</text>
<text transform="translate(148.05,1044.38) scale(0.9352,1)" font-size="32.29">Ca</text>
<text transform="translate(186.95,1043.91) scale(1.2500,1)" font-size="27.67">(</text>
<text transform="translate(197.60,1044.30) scale(1.1006,1)" font-size="30.69">Al</text>
<text transform="translate(230.42,1051.60) scale(1.0093,1)" font-size="32.63">2</text>
<text transform="translate(245.88,1044.39) scale(0.9940,1)" font-size="30.82">Si</text>
<text transform="translate(271.97,1051.60) scale(1.0462,1)" font-size="32.63">2</text>
<text transform="translate(287.80,1044.38) scale(1.0959,1)" font-size="32.29">O</text>
<text transform="translate(314.22,1051.28) scale(1.0225,1)" font-size="32.00">8</text>
<text transform="translate(330.88,1043.91) scale(1.2500,1)" font-size="27.67">)</text>
<text transform="translate(356.23,1044.50) scale(1.2153,1)" font-size="30.79">g</text>
<text transform="translate(374.92,1044.30)" font-size="33.00">:</text>
<text transform="translate(386.10,1044.38) scale(0.9699,1)" font-size="32.29">Ca</text>
<text transform="translate(424.85,1053.26) scale(1.0050,1)" font-size="33.63">3</text>
<text transform="translate(441.69,1044.39) scale(1.0448,1)" font-size="30.82">Si</text>
<text transform="translate(468.17,1050.10) scale(1.1077,1)" font-size="30.82">2</text>
<text transform="translate(484.21,1044.38) scale(1.0914,1)" font-size="32.29">O</text>
<text transform="translate(509.20,1050.60) scale(1.1101,1)" font-size="31.60">7</text>
<text transform="translate(537.04,1044.18) scale(1.0549,1)" font-size="35.21">c</text>
<text transform="translate(553.62,1044.30)" font-size="33.00">:</text>
<text transform="translate(564.95,1044.39) scale(1.0468,1)" font-size="30.82">CaAl</text>
<text transform="translate(635.70,1050.00) scale(1.0843,1)" font-size="30.82">2</text>
<text transform="translate(651.38,1044.39) scale(1.0532,1)" font-size="30.82">Si</text>
<text transform="translate(679.21,1052.40) scale(1.0028,1)" font-size="33.08">2</text>
<text transform="translate(695.29,1044.38) scale(1.1005,1)" font-size="32.29">O</text>
<text transform="translate(721.79,1050.68) scale(0.9666,1)" font-size="31.70">8</text>
<text transform="translate(742.81,1044.30) scale(1.0306,1)" font-size="31.84">h</text>
<text transform="translate(761.42,1044.30)" font-size="33.00">:</text>
<text transform="translate(773.82,1044.39) scale(1.0649,1)" font-size="30.82">CaAl</text>
<text transform="translate(846.40,1051.90) scale(0.9100,1)" font-size="33.74">4</text>
<text transform="translate(862.24,1044.38) scale(1.1368,1)" font-size="32.29">O</text>
<text transform="translate(887.35,1052.30) scale(1.0115,1)" font-size="33.74">7</text>
<text transform="translate(905.42,1044.30) scale(1.1532,1)" font-size="31.84">k</text>
<text transform="translate(925.82,1044.30)" font-size="33.00">:</text>
<text transform="translate(937.61,1044.30) scale(1.0337,1)" font-size="30.69">Al</text>
<text transform="translate(968.96,1051.90) scale(1.0127,1)" font-size="31.57">2</text>
<text transform="translate(984.25,1044.39) scale(1.0743,1)" font-size="30.82">SiO</text>
<text transform="translate(1036.28,1051.59) scale(1.0506,1)" font-size="31.43">5</text>
<text transform="translate(645.68,1090.87) scale(1.0580,1)" font-size="33.93">y</text>
<text transform="translate(664.51,1090.80)" font-size="30.00">:</text>
<text transform="translate(674.50,1091.23) scale(1.1165,1)" font-size="26.99">SiO</text>
<text transform="translate(721.47,1097.00) scale(1.0941,1)" font-size="29.00">2</text>
<text transform="translate(774.92,1090.15) scale(1.0944,1)" font-size="32.64">j</text>
<text transform="translate(786.52,1090.30)" font-size="33.00">:</text>
<text transform="translate(796.73,1090.18) scale(1.0393,1)" font-size="31.55">Ca</text>
<text transform="translate(837.34,1098.30) scale(1.0488,1)" font-size="33.23">2</text>
<text transform="translate(854.48,1089.78) scale(1.1858,1)" font-size="27.78">(</text>
<text transform="translate(865.00,1090.10) scale(1.1202,1)" font-size="29.97">Al</text>
<text transform="translate(898.88,1089.78) scale(1.1858,1)" font-size="27.78">(</text>
<text transform="translate(909.51,1090.19) scale(1.0301,1)" font-size="30.82">AlSi</text>
<text transform="translate(966.75,1089.78) scale(1.1858,1)" font-size="27.78">)</text>
<text transform="translate(976.98,1090.57) scale(1.0132,1)" font-size="33.33">O</text>
<text transform="translate(1000.71,1097.10) scale(1.1356,1)" font-size="32.37">7</text>
<text transform="translate(1019.16,1089.78) scale(1.0597,1)" font-size="27.78">))</text>
<text transform="translate(142.32,1111.95) scale(1.0646,1)" font-size="54.24">(b)</text>
<text transform="translate(342.76,1105.40)" font-size="33.75">c</text>
<text transform="translate(371.12,1194.60)" font-size="31.56">h</text>
<text transform="translate(436.96,1210.40)" font-size="33.75">c</text>
<text transform="translate(470.44,1193.80)" font-size="32.92">c</text>
<text transform="translate(578.61,1213.30)" font-size="33.75">c</text>
<text transform="translate(322.31,1342.27)" font-size="30.93">g</text>
<text transform="translate(344.18,1334.00)" font-size="32.89">y</text>
<text transform="translate(395.83,1321.62)" font-size="32.30">y</text>
<text transform="translate(418.66,1343.47)" font-size="29.56">g</text>
<text transform="translate(447.65,1308.67)" font-size="32.08">j</text>
<text transform="translate(701.83,1355.61)" font-size="33.74">j</text>
<text transform="translate(322.23,1431.70)" font-size="32.67">f</text>
<text transform="translate(347.71,1430.70)" font-size="33.38">f</text>
<text transform="translate(366.16,1434.70)" font-size="31.96">f</text>
<text transform="translate(398.96,1418.20)" font-size="32.81">f</text>
<text transform="translate(442.61,1443.30)" font-size="33.38">f</text>
<text transform="translate(496.08,1435.70)" font-size="32.67">f</text>
<text transform="translate(251.31,1593.00)" font-size="33.29">k</text>
<text transform="translate(306.90,1576.88)" font-size="34.81">y</text>
<text transform="translate(373.76,1503.95)" font-size="34.96">y</text>
<text transform="translate(434.26,1601.60)" font-size="33.29">k</text>
<text transform="translate(489.00,1594.50)" font-size="33.86">k</text>
<text transform="translate(554.61,1596.50)" font-size="33.14">k</text>
<text transform="translate(667.62,1588.49)" font-size="35.70">y</text>
<text transform="translate(856.18,2055.15) scale(0.9458,1)" font-size="45.19" fill="#00FF00">1125°C</text>
<text transform="translate(858.61,2201.83) scale(0.9379,1)" font-size="46.52" fill="#0000FF">1150°C</text>
<text transform="translate(863.66,2336.33) scale(0.9231,1)" font-size="46.52" fill="#FF0000">1175°C</text>
<text transform="translate(870.27,2499.35) scale(0.9507,1)" font-size="45.04">1200°C</text>
<rect x="128.7" y="1843.4" width="943.10" height="710.10" fill="none" stroke="#000" stroke-width="5.2"/>
<line x1="191.57" y1="2553.5" x2="191.57" y2="2540.1" stroke="#000" stroke-width="4.7"/>
<text transform="translate(171.66,2600.92)" font-size="38.22">10</text>
<line x1="254.45" y1="2553.5" x2="254.45" y2="2546.8" stroke="#000" stroke-width="4.7"/>
<line x1="317.32" y1="2553.5" x2="317.32" y2="2540.1" stroke="#000" stroke-width="4.7"/>
<text transform="translate(298.13,2600.92)" font-size="38.22">20</text>
<line x1="380.19" y1="2553.5" x2="380.19" y2="2546.8" stroke="#000" stroke-width="4.7"/>
<line x1="443.07" y1="2553.5" x2="443.07" y2="2540.1" stroke="#000" stroke-width="4.7"/>
<text transform="translate(423.97,2600.92)" font-size="38.22">30</text>
<line x1="505.94" y1="2553.5" x2="505.94" y2="2546.8" stroke="#000" stroke-width="4.7"/>
<line x1="568.81" y1="2553.5" x2="568.81" y2="2540.1" stroke="#000" stroke-width="4.7"/>
<text transform="translate(550.18,2600.92)" font-size="38.22">40</text>
<line x1="631.69" y1="2553.5" x2="631.69" y2="2546.8" stroke="#000" stroke-width="4.7"/>
<line x1="694.56" y1="2553.5" x2="694.56" y2="2540.1" stroke="#000" stroke-width="4.7"/>
<text transform="translate(675.41,2600.92)" font-size="38.22">50</text>
<line x1="757.43" y1="2553.5" x2="757.43" y2="2546.8" stroke="#000" stroke-width="4.7"/>
<line x1="820.31" y1="2553.5" x2="820.31" y2="2540.1" stroke="#000" stroke-width="4.7"/>
<text transform="translate(801.27,2600.92)" font-size="38.22">60</text>
<line x1="883.18" y1="2553.5" x2="883.18" y2="2546.8" stroke="#000" stroke-width="4.7"/>
<line x1="946.05" y1="2553.5" x2="946.05" y2="2540.1" stroke="#000" stroke-width="4.7"/>
<text transform="translate(926.58,2600.92)" font-size="38.22">70</text>
<line x1="1008.93" y1="2553.5" x2="1008.93" y2="2546.8" stroke="#000" stroke-width="4.7"/>
<line x1="1071.80" y1="2553.5" x2="1071.80" y2="2540.1" stroke="#000" stroke-width="4.7"/>
<text transform="translate(1052.78,2600.92)" font-size="38.22">80</text>
<text transform="translate(73.30,2378.97) rotate(-90)" font-size="59.68">Intensity(a.u.)</text>
<text transform="translate(452.19,2671.14) scale(1.0452,1)" font-size="57.28">2θ(degree)</text>
<path d="M128.7,2495.9l.5-.3 .5,.3 .5-.4 .5,0 .5,.8 .5-.6 .5,.4 .5,.3 .5,.7 .5-1.2 .5,1.4 .5-.1 .5-.1 .5-1.2 .5,.4 .5,1.2 .5-.8 .5,1.2 .5-1.5 .5,1.4 .5,.4 .5-.1 .5,0 .5,.4 .5-.4 .5,.7 .5-.2 .5,.2 .5-.1 .5,.1 .5,.3 .5-.3 .5-.4 .5-.1 .5,.4 .5,.3 .5-.1 .5-1.2 .5,1.1 .5-.8 .5,.8 .5,1.2 .5-.6 .5,.6 .5,0 .5,.1 .5,.1 .5-.5 .5-.3 .5,1 .5,0 .5,.3 .5,.4 .5,.3 .5-.4 .5-.3 .5,.3 .5,1.4 .5-.4 .5-.6 .5,.5 .5-1 .5,.3 .5,.8 .5-.4 .5,1.4 .5-1.4 .5,.8 .5-.9 .5-.3 .5-.4 .5,.5 .5,0 .5-.3 .5,.4 .5-.3 .5,1.4 .5,.4 .5-.1 .5-.2 .5,1.6 .5-1 .5,.7 .5-.7 .5,.3 .5,.9 .5-1 .5,.7 .5-.1 .5-1.2 .5,1 .5-.7 .5,1.3 .5-1.3 .5-.4 .5-.4 .5,.3 .5,1.1 .5-.4 .5,.1 .5,.6 .5-.4 .5,1.2 .5-.5 .5,1 .5-.3 .5,.2 .5,0 .5-.5 .5,.8 .5,.6 .5-1 .5-.1 .5,.9 .5-.4 .5-.7 .5,.4 .5,.8 .5,.5 .5-.3 .5-.8 .5,.6 .5,.4 .5-.1 .5-.5 .5,.3 .5,1 .5-1.3 .5,.5 .5,.4 .5-2 .5,1 .5,.3 .5,.7 .5-2.1 .5,2.3 .5-.2 .5,.4 .5-.3 .5,.2 .5,.4 .5,.4 .5-.8 .5-.5 .5,1.8 .5-1.3 .5,.5 .5-.2 .5,.7 .5,.7 .5-1 .5,.7 .5-1.1 .5,0 .5,.9 .5-.5 .5-1.1 .5,1 .5,.3 .5,.2 .5,.8 .5-1.5 .5,.7 .5,1.1 .5-.9 .5,0 .5-.1 .5,.5 .5-.4 .5,.8 .5-.9 .5,1.4 .5-.6 .5,.5 .5,.6 .5-.4 .5,.6 .5-1.5 .5,.4 .5,.1 .5,.8 .5-.4 .5,.6 .5-.2 .5,.4 .5-.4 .5,.8 .5-.2 .5-.7 .5,1.4 .5-1.6 .5,1 .5,.4 .5,.8 .5,0 .5-1.4 .5,.9 .5,.8 .5,0 .5-.5 .5-.1 .5,1.2 .5-1.9 .5,.1 .5,1 .5-.7 .5-.5 .5,.2 .5,.5 .5-.7 .5-.5 .5,1.2 .5-1.1 .5,.3 .5-.3 .5,.7 .5-.3 .5-.3 .5,.5 .5-.4 .5,.7 .5-.6 .5,1.7 .5-.6 .5-.9 .5,1.4 .5-.8 .5-.8 .5,.4 .5,0 .5,1.1 .5-1 .5,.7 .5,.3 .5-.2 .5,1.2 .5-.7 .5-.7 .5,1.4 .5-.8 .5,.4 .5,.2 .5-1.1 .5,.6 .5,.9 .5-.8 .5,.1 .5-.3 .5,2.1 .5-1.6 .5-.8 .5,.8 .5-.1 .5,.4 .5,.3 .5-1.1 .5,.7 .5,.3 .5-1.3 .5,.4 .5-.1 .5,1.4 .5-.3 .5,.2 .5-.4 .5,0 .5,.6 .5-.9 .5,0 .5-.6 .5,.7 .5,.1 .5,.6 .5-2 .5,1.4 .5-.4 .5,0 .5,.5 .5,.3 .5-1 .5,.8 .5,.1 .5-1.3 .5,1.1 .5-.6 .5,.8 .5-.5 .5,1 .5-.5 .5,.7 .5-1.2 .5,.8 .5,1.1 .5-.6 .5,.8 .5-1.3 .5,.1 .5,.5 .5-.3 .5,.4 .5-.4 .5,0 .5,1.2 .5-.3 .5-.8 .5,1.8 .5-1.4 .5,.5 .5,.1 .5-.1 .5,.2 .5,.1 .5,0 .5-.7 .5-.4 .5,.1 .5-.5 .5-1.2 .5,.9 .5,.4 .5,.8 .5-.5 .5-.6 .5,1.1 .5-.3 .5,.8 .5-.8 .5,1 .5,0 .5,0 .5,.7 .5-.5 .5-.2 .5-.1 .5,.8 .5-.6 .5,0 .5,.5 .5-.4 .5-.7 .5-.1 .5,.3 .5,1.5 .5-.9 .5-1.1 .5,1.3 .5-1.2 .5,.5 .5-.9 .5-.1 .5-.7 .5-.2 .5,.2 .5,1.1 .5,.2 .5,0 .5-.8 .5,.3 .5,.1 .5-.7 .5,.4 .5,.1 .5,.8 .5,.1 .5-.9 .5,.4 .5,.6 .5,.1 .5-.9 .5,.7 .5,.4 .5-.5 .5,.1 .5,.2 .5,.6 .5-.6 .5,.9 .5-.6 .5,.3 .5,.4 .5,0 .5,1 .5,.5 .5-1 .5,.3 .5,.7 .5-.4 .5-.1" fill="none" stroke="#515151" stroke-width="7.0" stroke-linejoin="round"/>
<path d="M321.2,2517.3l.5,.7 .5-.4 .5-.1 .5,.5 .5-.6 .5,0 .5,.6 .5-.9 .5,0 .5-.2 .5,.7 .5,.1 .5,.1 .5,.4 .5-.6 .5-.6 .5-1 .5-1 .5,.3 .5,1 .5,.4 .5,.7 .5-.2 .5-.2 .5-.3 .5,.4 .5,.1 .5-.1 .5,.7 .5,.5 .5,.4 .5-.3 .5,.6 .5-.3 .5,.4 .5-.4 .5,.4 .5-.5 .5-1" fill="none" stroke="#515151" stroke-width="5.8" stroke-linejoin="round"/>
<path d="M339.2,2518.7l.5,.4 .5-.5 .5-1 .5-.9 .5-2.4 .5-4.8 .5-8 .5-5.9 .5,5.8 .5,7.9 .5,4.6 .5,2 .5,1.8 .5,.1 .5-.3 .5,.5 .5,.4 .5-.7 .5-.6 .5-.2 .5,.8 .5-.7 .5,.8 .5-.7 .5-.4 .5,.2 .5-.8 .5,.9 .5-.1 .5,.5 .5-.6 .5,.7 .5,1 .5-.6 .5,.5 .5,.7 .5,.7 .5-.2 .5,1 .5-.5 .5-.8 .5,.1 .5-.4 .5-1 .5,.1 .5-1 .5-.9 .5-2 .5-4 .5-8.7 .5-14.5 .5-10.6 .5,11 .5,14.7 .5,9 .5,4.5 .5,1.8 .5,1 .5,.7 .5,.4 .5,.3 .5,0 .5,0 .5,.1 .5,.2 .5,.3 .5-.6 .5-.7 .5-.8 .5-1.2 .5-2.6 .5-4.4 .5-3.1 .5,2.9 .5,4.4 .5,2.9 .5,.7 .5,.8 .5,1 .5,.1 .5,.1 .5,.9 .5-.4 .5,.1 .5-.1 .5,.1 .5,.8 .5-.6 .5-.4 .5-.2 .5-.6 .5-1.8 .5-4 .5-6.7 .5-5 .5,4.6 .5,6.4 .5,3.8 .5,1.3 .5,.7 .5-.2 .5-.4 .5,.1 .5,.2 .5-.5 .5,.9 .5,0 .5,.5 .5-.9 .5,.2 .5-.1 .5,.3 .5-.1 .5,.1 .5-.4 .5-.1 .5,.1 .5-.7 .5-.8 .5-1.4 .5-3.4 .5-2.3 .5,1.9 .5,2.6 .5,2 .5,.7 .5-.7 .5,.1 .5,.4 .5,0 .5,.4 .5-.5 .5-.2 .5,.2 .5,0 .5-1 .5-2 .5-4.6 .5-7.3 .5-5.3 .5,5.7 .5,7.5 .5,4.3 .5,2.3 .5,.9 .5-.2 .5-.9 .5-1 .5-1.9 .5-2.7 .5-3.7 .5-4.9 .5-6.4 .5-7.7 .5-8.6 .5-7.5 .5-3.1 .5,3.2 .5,7.6 .5,8.6 .5,7.8 .5,6.2 .5,4.7 .5,3.5 .5,2.7 .5,1.9 .5,1.1 .5,.8 .5,.5 .5,0 .5-1.2 .5-2.9 .5-5.6 .5-4.1 .5,4.6 .5,6.2 .5,3.7 .5,1.5 .5,.6 .5-.1 .5,0 .5-1.1 .5-.2 .5-.8 .5-1.7 .5-3.6 .5-6.2 .5-4.3 .5,4 .5,5.9 .5,3 .5,1.3 .5,.3 .5-.4 .5-.6 .5,.3 .5-1.2 .5,0 .5-.6 .5-.9 .5-.5 .5-.8 .5-1.1 .5-2.5 .5-3.3 .5-4.4 .5-4.7 .5-4.9 .5-2.2 .5,1.9 .5,4.5 .5,5.1 .5,4.3 .5,3.2 .5,2.6 .5,1.5 .5,1.2 .5,.9 .5,0 .5,1.4 .5,1 .5,.2 .5,.6 .5-.4 .5,.6 .5,.9 .5,.8 .5-.3 .5,1.1 .5,0 .5-.1 .5,.4 .5-.6 .5-.7 .5-.1 .5-.5 .5-.9 .5-1.4 .5-3.1 .5-7.3 .5-15 .5-25.3 .5-18.7 .5,18.1 .5,24.9 .5,14.8 .5,6.9 .5,3.2 .5,1.3 .5,1 .5,.4 .5,.4 .5,1.3 .5-.4 .5-.5 .5,.4 .5-.1 .5-.5 .5-.1 .5-.2 .5,.1 .5-.7 .5,.8" fill="none" stroke="#515151" stroke-width="4.6" stroke-linejoin="round"/>
<path d="M469.2,2517.5l.5,.1 .5-.7 .5,.8 .5,.3 .5,.7 .5-.7 .5,1.2 .5,.5 .5,.5 .5,.7 .5-.5 .5,.7 .5,.3 .5-.4 .5-.4 .5,.2 .5-.9 .5,.9 .5,0 .5,.2 .5,.4 .5,.2 .5,.4 .5-.6 .5,0 .5-1.5 .5-3.4 .5-5.5 .5-4.3 .5,3.1 .5,4.2 .5,2.4 .5,1.9 .5-.6 .5,1.3 .5-.9 .5,.4 .5,.5 .5,0 .5-.5 .5-1.1 .5-2.2 .5-4 .5-3.1 .5,2.8 .5,4.4 .5,2.8 .5,.7 .5,.2 .5,1.6 .5-.8 .5-.1 .5-.1 .5-1 .5-.4 .5-.1 .5-1 .5,.6 .5-.1 .5-.4 .5,1.4 .5,.2 .5,.9 .5-.2 .5,.5 .5,1 .5,.5 .5,.2 .5,.9 .5,.5 .5-.4 .5,1 .5-1.4 .5,.4 .5,.3 .5,.5 .5-1.8 .5,.8 .5-1.6 .5,.1 .5,.1 .5-.2 .5,.2 .5-.6 .5,.1 .5,.1 .5-1.3 .5-1 .5-2.2 .5-1.8 .5,2.4 .5,3.1 .5,1 .5,2.2 .5,.1 .5,1.6 .5,0 .5,.1 .5,.7 .5-.5 .5-.3 .5-.6 .5,.1 .5,.3 .5-1.8 .5,.8 .5-.5 .5-.6 .5-.9 .5-.7 .5-.3 .5-.7 .5-1.8 .5-2.8 .5-2.3 .5,2.4 .5,3 .5,2.5 .5,1.1 .5,.3 .5,.2 .5,.2 .5,1 .5,.7 .5,.4 .5,1 .5-1.3 .5-.4 .5,.5 .5,.2 .5-1.4 .5-.3 .5-1 .5-.8 .5-2.1 .5-2 .5-1.2 .5,1.2 .5,1.5 .5,.9 .5,.2 .5,.1 .5,.8 .5,1 .5-.4 .5,.2 .5,1.8 .5-.2 .5-.8 .5,.8 .5,.3 .5,.8 .5-.4 .5,.9 .5,.1 .5-1.9 .5,.6 .5-.1 .5-.5 .5-.9 .5-1.3 .5-.9 .5-.9 .5-1.4 .5,1.5 .5,2.4 .5,1 .5,.9 .5,.1 .5,0 .5,.3 .5-1 .5-1.2 .5-1.4 .5,.2 .5-.1 .5-1 .5,.9 .5-.4 .5-1.3 .5-2.1 .5-1.3 .5,1.9 .5,2.2 .5,1.5 .5,.7 .5,.2 .5,1.4 .5-.2 .5-.2 .5-.3 .5-.6 .5,.1 .5-.4 .5,1 .5-.3 .5-1.1 .5,1.4 .5,0 .5,1.1 .5,.8 .5-.9 .5,.5 .5-.3 .5-.4 .5,.1 .5,1.7 .5-1.5 .5,.1 .5,.2 .5,.6 .5-.2 .5-.9 .5,1.3 .5-.8 .5,.4 .5,.6 .5,.2 .5-1.2 .5-.7 .5-.1 .5-.1 .5-.6 .5,.1 .5-.6 .5,.2 .5-.3 .5,0 .5-.7 .5-.6 .5,.9 .5,.1 .5,0 .5-.9 .5,.4 .5,.5 .5,0 .5,.1 .5-1.6 .5-.7 .5-.5 .5-.6 .5-.4 .5-.5 .5,0 .5,1.2 .5,.4 .5,.5 .5,.3 .5-.3 .5,.5 .5,.4 .5,.9 .5,.4 .5,.4 .5,1.7 .5,.1 .5,1.6 .5-.3 .5,.6 .5,1.4 .5-.5 .5-.4 .5-.4 .5-.9 .5,.2 .5-.8 .5-.6 .5-.2 .5-1 .5,.2 .5,.7 .5-1 .5,.7 .5-.3 .5,.8 .5-1.6 .5,1.3 .5,.7 .5-.6 .5,.5 .5,.2 .5,.3 .5,1.4 .5-1.5 .5-.4 .5,1 .5-.1 .5-1.2 .5-.2 .5-.7 .5-.1 .5-.7 .5-.1 .5-.3 .5,.9 .5-.4 .5,.1 .5-.6 .5-.2 .5,1.1 .5-.3 .5-.7 .5-.3 .5-.2 .5,.5 .5-.6 .5,.4 .5,.1 .5-.3 .5-.4 .5-1.1 .5-1.1 .5,1.8 .5,1.8 .5,.9 .5,.8 .5-.1 .5,.1 .5-.5 .5,.1 .5-.3 .5,1.1 .5,.7 .5-.7 .5,.1 .5-.1 .5,.2 .5,1 .5-.9 .5-.3 .5-.4 .5,1.1 .5-.3 .5,0 .5,.3 .5,.4 .5-.4 .5,1.6 .5-.4 .5-.8 .5,.2 .5,.1 .5-.6 .5,2 .5-1.2 .5,.5 .5,.3 .5-.9 .5,.1 .5,.1 .5-.7 .5-.5 .5,1 .5-.6 .5,0 .5-.2 .5-.5 .5,1.2 .5-.5 .5-.2 .5-1.1 .5,.7 .5,.1 .5,.4 .5-.4 .5,.8 .5,.1 .5-1.7 .5,1.9 .5-1.3 .5,1 .5-.7 .5-.4 .5,.6 .5,.3 .5-.5 .5,.5 .5,.7 .5,.6 .5,.3 .5,0 .5,.2 .5-.9 .5,.2 .5-.4 .5,0 .5,1.2 .5-1.2 .5,0 .5,.6 .5-.4 .5,1.1 .5-.7 .5-.4 .5,1.4 .5-.7 .5-1.4 .5,0 .5-.7 .5-.2 .5-.2 .5-.5 .5,.7 .5-1.4 .5,1 .5-.3 .5,.5 .5,.1 .5,.3 .5-.6 .5,.3 .5-1.2 .5,.4 .5-1.4 .5,1.1 .5-.2 .5,.3 .5-.8 .5,.7 .5,.2 .5,.9 .5-.2 .5,.1 .5,.1 .5-.1 .5,.8 .5,.5 .5-.6 .5,.2 .5-.2 .5-.7 .5,1.3 .5-.4 .5,.2 .5,.3 .5,.7 .5,.1 .5-.4 .5,.4 .5-.7 .5-1.1 .5-2.9 .5-1.9 .5,2.2 .5,2.7 .5,2.7 .5,0 .5-.2 .5-.9 .5,1 .5-1.4 .5,.2 .5-.5 .5,.8 .5-.9 .5-.1 .5-.2 .5,.2 .5-.8 .5-.4 .5-.1 .5,.6 .5,.4 .5-1.6 .5,.9 .5-.7 .5,.4 .5-.6 .5,.2 .5-.5 .5,1.3 .5-.6 .5,.1 .5-.3 .5,.1 .5-.1 .5-1 .5,1 .5,.2 .5-1.2 .5,.7 .5,.2 .5,.6 .5-1.6 .5,1 .5-1.4 .5,.7 .5,0 .5-.4 .5-.2 .5-1.3 .5,.3 .5-.1 .5-.3 .5-1.1 .5-.7 .5-1.3 .5-2.5 .5-2.7 .5-2.8 .5-1.4 .5,1.5 .5,3.1 .5,3.3 .5,2.3 .5,2 .5,1.1 .5,1 .5,0 .5-.3 .5,.7 .5-.1 .5,1.5 .5-.8 .5-.3 .5,.3 .5,1.1 .5-.4 .5,.6 .5-.2 .5-.5 .5,.3 .5,0 .5,.3 .5-.6 .5,.7 .5-.3 .5,0 .5-.5 .5-.3 .5-.4 .5-.9 .5-2.2 .5-1.8 .5,1.8 .5,2.9 .5,.7 .5,.9 .5,.4 .5-.4 .5-.4 .5,.7 .5,0 .5,.3 .5-.4 .5-.3 .5,.3 .5,.1 .5,.6 .5,.4 .5-.1 .5,0 .5,.5 .5,.6 .5-.4 .5,.6 .5,.1 .5-.8 .5,.3 .5-.7 .5-.1 .5-.1 .5,.6 .5-.5 .5,0 .5-.2 .5-.9 .5,.1 .5-.3 .5-.4 .5,.5 .5-.5 .5,1.2 .5-1 .5,.1 .5-.2 .5-.9 .5,2 .5-1.4 .5-.1 .5,1.6 .5-.7" fill="none" stroke="#515151" stroke-width="5.2" stroke-linejoin="round"/>
<path d="M759.2,2524.1l.5-.1 .5,1.6 .5-.7 .5,.3 .5-.2 .5,.4 .5-.3 .5,.1 .5-.3 .5,.5 .5-.4 .5-.3 .5-.4 .5,.2 .5-1 .5-.1 .5,.1 .5,.3 .5,.2 .5,.1 .5-.1 .5,.1 .5,0 .5,.5 .5,0 .5,1.5 .5-.9 .5,.9 .5,.1 .5-.6 .5-.2 .5,.5 .5-1 .5,.2 .5-.1 .5-.8 .5,.6 .5-.1 .5-1 .5-.4 .5,.4 .5,.2 .5-1.1 .5-.2 .5,.1 .5-.2 .5-.7 .5-.7 .5-.3 .5-.6 .5-.4 .5-1 .5-.4 .5-.1 .5,.1 .5,.3 .5,.6 .5,.4 .5,.6 .5,.7 .5,.3 .5,.6 .5,.3 .5,1 .5,.6 .5-.5 .5,.5 .5-.2 .5-.1 .5-.1 .5,.7 .5-1 .5,.7 .5-.2 .5,.3 .5-.1 .5-.8 .5,.4 .5-.1 .5-.9 .5,.6 .5-.4 .5-.2 .5,.5 .5-.6 .5,.2 .5-.1 .5,.7 .5-.3 .5,1.3 .5,.2 .5-.1 .5,.3 .5-.1 .5,.4 .5-.5 .5-.1 .5-.7 .5-.6 .5,1.2 .5-.7 .5,.5 .5-.8 .5,.5 .5,.2 .5,.5 .5-.4 .5,.4 .5,.4 .5-.2 .5,0 .5,.1 .5,0 .5,.8 .5-1.1 .5,1.1 .5,.1 .5-1.2 .5,0 .5,1 .5-.8 .5-.7 .5,.6 .5,.4 .5-.1 .5-.5 .5,.1 .5,.1 .5-.9 .5,1.1 .5-1 .5,.3 .5,.3 .5,0 .5,.4 .5,1 .5-.4 .5-.5 .5,.7 .5,.6 .5,.1 .5-.2 .5,.4 .5,.2 .5,.9 .5-1.2 .5,.3 .5-.3 .5,.6 .5-.6 .5,.5 .5-1.6 .5,.4 .5,.6 .5-.9 .5,.3 .5,0 .5,.2 .5,.3 .5-1.6 .5,.6 .5-.5 .5-.3 .5,0 .5-.1 .5,.5 .5-.9 .5,.5 .5-.7 .5-.7 .5,.6 .5-1.1 .5,.1 .5-.4 .5,.2 .5-.6 .5-.5 .5,.6 .5,1 .5,.4 .5,1.1 .5,.1 .5-.3 .5,.4 .5,0 .5,.7 .5-.2 .5,.2 .5,.3 .5,0 .5-.2 .5,.6 .5-.5 .5-.1 .5,.3 .5,.1 .5-.3 .5-.3 .5,.2 .5-.5 .5-.4 .5,.3 .5,1 .5-.7 .5,.9 .5-.1 .5,.1 .5-.3 .5,.9 .5,.6 .5-.8 .5,.9 .5-1.2 .5,.8 .5-1.3 .5,.2 .5-.7 .5,.3 .5-.5 .5-.3 .5-.3 .5-.1 .5,.7 .5-1.3 .5,.3 .5,0 .5-1.2 .5,1.9 .5-.7 .5-.2 .5,0 .5,.3 .5,.3 .5-.1 .5,.7 .5-.1 .5,.5 .5,.4 .5-.1 .5,.7 .5-.1 .5-.1 .5,.5 .5-.6 .5,.4 .5-.5 .5,.2 .5-.3 .5,.4 .5-.7 .5-.5 .5,1.2 .5-.3 .5-.4 .5,0 .5-.2 .5,.6 .5-.8 .5,.1 .5-.5 .5,1 .5-1 .5,.4 .5-.2 .5-.6 .5,.2 .5,0 .5,.2 .5,0 .5-.6 .5,.5 .5,0 .5,.2 .5,.2 .5,.1 .5,.6 .5-.9 .5,.5 .5,.8 .5-.7 .5,.4 .5-.7 .5,.7 .5-1.3 .5,.9 .5-.5 .5-.6 .5,.2 .5-.1 .5,.5 .5-.4 .5,.1 .5,.1 .5,.6 .5,0 .5,.9 .5-.4 .5,.7 .5-.1 .5-.1 .5,.1 .5-.6 .5,.5 .5,.2 .5-.4 .5-.5 .5-.2 .5-.7 .5-.4 .5-.6 .5-.6 .5-.6 .5-.6 .5-.2 .5,.3 .5,.4 .5,.3 .5,1 .5,.6 .5,.3 .5,.4 .5,.2 .5,0 .5-.2 .5,.5 .5-.5 .5,.8 .5,.3 .5-.2 .5,.5 .5-.9 .5,1 .5,.2 .5-.6 .5,.3 .5-.7 .5,.7 .5,.2 .5-.4 .5-.2 .5,0 .5,.2 .5,.5 .5-.8 .5-.2 .5,.9 .5-.3 .5,1.2 .5-.4 .5-.3 .5-.1 .5-.5 .5,.9 .5-.7 .5,.7 .5-.4 .5-.6 .5,.1 .5,.7 .5-1.7 .5,.2 .5,0 .5,.2 .5,0 .5,.3 .5-.5 .5,.4 .5-.5 .5-.3 .5,.5 .5,.1 .5-.1 .5-.2 .5,.5 .5-.1 .5-1 .5,.6 .5,.6 .5-.2 .5-.1 .5,.9 .5-.5 .5,.4 .5,0 .5-.6 .5,.9 .5,.1 .5-.5 .5-.3 .5,.2 .5,0 .5-.4 .5,.9 .5-.7 .5,.4 .5-.1 .5,0 .5,.1 .5-.3 .5-.9 .5,.8 .5-.2 .5-.1 .5-.3 .5,.3 .5,.1 .5-.5 .5,1 .5-.5 .5,0 .5,0 .5,.4 .5,0 .5,.6 .5-.6 .5,.1 .5-.4 .5,.2 .5,0 .5,.1 .5-.1 .5-.4 .5,.5 .5-.2 .5,.3 .5,.1 .5-.3 .5-.6 .5,.5 .5,.6 .5-.6 .5,.1 .5-.3 .5-.5 .5,.6 .5-.6 .5-.1 .5,0 .5-.1 .5,.1 .5,.6 .5-.2 .5-.4 .5,.7 .5-.5 .5,.3 .5,.1 .5,.7 .5-.5 .5-.4 .5,.4 .5,.1 .5-.1 .5,.5 .5-.5 .5,.8 .5-.3 .5,.5 .5-.7 .5,.2 .5,.4 .5,.2 .5,.4 .5-.2 .5-.8 .5,.7 .5-.7 .5,.2 .5,.6 .5-.3 .5-.7 .5-.2 .5,.8 .5,.4 .5,.1 .5,.2 .5,.4 .5-.5 .5,.4 .5,0 .5,.8 .5-.9 .5,.3 .5,.4 .5-.6 .5-.1 .5,0 .5-.3 .5,.4 .5-1 .5,.5 .5-.5 .5-.5 .5,.1 .5-.4 .5,.6 .5,.3 .5,0 .5,.3 .5-.6 .5-.1 .5,.7 .5-.5 .5,.1 .5,0 .5-.1 .5-.2 .5,.3 .5-.4 .5-.4 .5,.4 .5-.7 .5,0 .5,0 .5-.3 .5,.4 .5-.8 .5,.9 .5-.4 .5,.1 .5,.2 .5-.6 .5,1.4 .5,0 .5-.3 .5,.4 .5,.1 .5-.2 .5,.7 .5,.3 .5-.5 .5,.6 .5-.5 .5-.1 .5,0 .5,.5 .5-.8 .5,.5 .5-.6 .5,.2 .5,0 .5-.7 .5-.2 .5,.2 .5-.5 .5,.8 .5-.5 .5-.4 .5,.4 .5,.2 .5-.3 .5-.6 .5,.5 .5-.2 .5,.4 .5-.4 .5,.3 .5-.3 .5,0 .5,.4 .5-.3 .5,.2 .5-.4 .5-.2 .5,.4 .5,.4 .5-.3 .5,.3 .5-.1 .5,.1 .5-.1 .5,.2 .5-.4 .5-.2 .5,.9 .5-.2 .5,0 .5,.3 .5,.1 .5,.4 .5-.7 .5,.4 .5-.7 .5,1.1 .5-.2 .5,0 .5,.6 .5-.5 .5,.7 .5-.7 .5,0 .5,.4 .5-.4 .5,0 .5-.1 .5-.6 .5,.6 .5-.5 .5-.2 .5,.7 .5-.4 .5,.3 .5,.2 .5,.1 .5,0 .5,.3 .5-.2 .5,0 .5,.4 .5-.7 .5,.6 .5,.1 .5-.1 .5-.4 .5-.3 .5,.3 .5,0 .5,.3 .5-.1 .5,.3 .5,.3 .5,0 .5,0 .5-.2 .5-.1" fill="none" stroke="#515151" stroke-width="4.3" stroke-linejoin="round"/>
<path d="M128.7,2493.5l.5,6.3 .5-3.5 .5-3.9 .5,4.9 .5,0 .5,.3 .5-3.1 .5,4.9 .5-.7 .5-1.4 .5-.5 .5-.6 .5,1.4 .5-2.3 .5,.7 .5,5.1 .5-3 .5,2.4 .5-1.4 .5-.6 .5-.4 .5,2.7 .5-2.1 .5-.8 .5-1.5 .5,4.8 .5-5.7 .5,6.9 .5-3.9 .5-2 .5,.3 .5,.3 .5,2.9 .5,1.2 .5-.6 .5,2.7 .5-4.2 .5-3.2 .5,2 .5,4.4 .5-1.3 .5,0 .5-1.1 .5,.9 .5,.9 .5-.4 .5-4.2 .5,1.6 .5,1.3 .5,3.6 .5-2.8 .5-1 .5-.8 .5,1.6 .5,.2 .5-1.5 .5,.3 .5,.7 .5,.9 .5-1.8 .5,5 .5,.7 .5-2.3 .5-2 .5,2.2 .5-2.7 .5,1.3 .5-.3 .5,.4 .5-2.6 .5,3.1 .5-.3 .5-1.9 .5,2.1 .5-.7 .5,1.9 .5-1.1 .5,1.3 .5-.2 .5-1.4 .5-1.9 .5,3.3 .5-.6 .5,1.8 .5,.4 .5,.5 .5-1.9 .5,.1 .5-1.5 .5,.8 .5-.1 .5-.5 .5,.6 .5,3.1 .5-1.9 .5-3.5 .5,3 .5-.5 .5,3.1 .5-1.3 .5-2.6 .5,3.4 .5,.6 .5-4.3 .5,2.5 .5-2.2 .5,3.9 .5-1.5 .5-3.1 .5,2.8 .5,3.3 .5,.7 .5,.7 .5-.5 .5-2.5 .5,.2 .5-.9 .5,2.5 .5-2.4 .5,.9 .5-.9 .5-.6 .5-1.6 .5,5.4 .5-5.2 .5,3.9 .5,.1 .5-2.7 .5,.5 .5,1.9 .5-4 .5,6.2 .5-2.4 .5,1.8 .5-4.2 .5,3.1 .5,2.8 .5,.5 .5-6.3 .5,1 .5,2.6 .5-4.4 .5,2.6 .5,2.7 .5-3.4 .5,.1 .5,2 .5-3.9 .5,2.6 .5,3.4 .5-3.3 .5,.7 .5,.7 .5-3.3 .5,4.5 .5-.9 .5,3.1 .5-2.6 .5-2.8 .5-.1 .5,.6 .5,2.3 .5,.8 .5-1.6 .5-1.4 .5,.6 .5,.6 .5,4 .5-2.8 .5,2.5 .5-.6 .5-2.6 .5-1.1 .5,1.3 .5,3.5 .5-1 .5,.9 .5-3 .5,2.3 .5,2.3 .5-4.3 .5,2.4 .5-1 .5,1.5 .5-3 .5,2 .5,1.8 .5-1.6 .5-1.4 .5,3.7 .5-1.8 .5,1.7 .5-.6 .5-1 .5,0 .5,1.7 .5-2.5 .5-1.1 .5,0 .5,1.2 .5-1.9 .5,.5 .5,2.9 .5-.5 .5-1.1 .5-1.8 .5,3.3 .5,.1 .5-1.3 .5,.7 .5-4.4 .5,7.4 .5-5.6 .5,3.5 .5-5.9 .5,3.8 .5-1.9 .5,3.1 .5,.6 .5-1.5 .5,1.9 .5-.2 .5-3.5 .5-1.8 .5,7.4 .5-3.3 .5,1.3 .5-.7 .5-.9 .5,1.6 .5,.3 .5-3.3 .5,1.8 .5-1.5 .5,.4 .5,3.9 .5-1.8 .5-1.3 .5,.3 .5-2.6 .5,3.1 .5-1.7 .5,1.3 .5-1.2 .5,5.1 .5-3.3 .5-.6 .5,.5 .5-2.9 .5,4.8 .5-1.3 .5,3 .5-3.6 .5,2.1 .5,.1 .5-1.7 .5-1.2 .5-1.1 .5,.7 .5,1.9 .5-2.7 .5,2.7 .5,2.6 .5-4 .5,2.8 .5,1 .5-2.4 .5,.2 .5,.2 .5-3.9 .5,2.4 .5,2.4 .5-1.6 .5-.4 .5,3.5 .5,1.4 .5-4.4 .5,1.1 .5,.3 .5-.3 .5,.6 .5-1.3 .5-1.6 .5,5 .5-3.9 .5,.7 .5,.1 .5-2 .5,.2 .5,3.1 .5,.8 .5,.5 .5-2.2 .5-.5 .5-1.2 .5,2.5 .5,3.7 .5-5.5 .5-1.1 .5,2 .5-.2 .5,1.7 .5-1.8 .5,1.1 .5,1.1 .5-1.2 .5,.5 .5,1.7 .5-2.6 .5-.6 .5,3.7 .5-3 .5-.2 .5-3.4 .5,4.6 .5-3.7 .5,2 .5,.3 .5,1.7 .5-3.1 .5,1.7 .5,1.5 .5-.4 .5-2.8 .5-.4 .5,4.8 .5-2.4 .5,2.1 .5-3.9 .5,1 .5,2.3 .5,.7 .5-3.6 .5,2.9 .5,.5 .5-2.3 .5,5.3 .5-5.5 .5,4.6 .5-5 .5,2.8 .5-1.3 .5,1.7 .5-1.6 .5,.5 .5-.2 .5-2.4 .5-1.1 .5,3.2 .5,1.3 .5-3.5 .5,1.6 .5-1.5 .5,1.9 .5,.8 .5,.4 .5-3.6 .5,4 .5-3.4 .5,4.4 .5-6.1 .5,6 .5-2.7 .5-.3 .5,2.3 .5-3 .5-.3 .5,4.2 .5-2.6 .5,.9 .5-.6 .5-.4 .5,1 .5,2.6 .5-3.4 .5-1 .5-.7 .5,.8 .5,.6 .5,.1 .5,3.5 .5-1.4 .5-1.8 .5-.8 .5,5.1 .5-4.7 .5,3.3 .5,.2 .5-3 .5,.7 .5-1.2 .5,5.6 .5-4.2 .5,2.1 .5-1.4 .5,3.1 .5-5.3 .5,4.4 .5-3.8 .5,2.6 .5-.7 .5-1.1 .5-.8 .5,.5 .5,.1 .5-.5 .5-1.5 .5,4.4 .5,.5 .5-3.4 .5,1.7 .5-.6 .5-.9 .5,.8 .5-.3 .5,1.5 .5-1.2 .5,2.8 .5-1.7 .5,1.5 .5,.7 .5,.2 .5-4 .5,1.6 .5-2 .5-1.2 .5-4.6 .5-8.3 .5-5.8 .5,5.1 .5,8.5 .5,5.6 .5,0 .5,2.9 .5,.5 .5-2.1 .5,1.7 .5-1.1 .5,.5 .5-1.5 .5,1.5 .5-.5 .5,2.1 .5-2 .5-1.7 .5,1.8 .5-.1 .5,0 .5-1.8 .5,1.9 .5-2.4 .5,3.2 .5,.6 .5,.1 .5,.3 .5-.2 .5,.3 .5-.6 .5,3.5 .5-1.2 .5-1.2 .5-.1 .5-1.4 .5-.9 .5,1.3 .5,.1 .5-1.2 .5-.7 .5-2.3 .5-4.2 .5-8.3 .5-14.9 .5-10.4 .5,10.7 .5,15.3 .5,8.4 .5,4.6 .5,2.7 .5,1.5 .5-1.9 .5,3.1 .5-.2 .5-1.2 .5,1.7 .5-1.3 .5,.7 .5-2.6 .5,1.8 .5-.8 .5-1.8 .5-.2 .5-1.9 .5-5.4 .5-3.5 .5,4.3 .5,3.1 .5,3.5 .5,.3 .5,.2 .5,2.4 .5-.6 .5-1.1 .5,.6 .5,2.4 .5-.8 .5,0 .5-.6 .5,2.4 .5-2.3 .5-.1 .5,.7 .5-2.6 .5-.4 .5-3.6 .5-6.8 .5-5.5 .5,4.5 .5,6.7 .5,2.6 .5,2.3 .5,.8 .5,2.2 .5-2 .5,1 .5-.4 .5-.5 .5-1.6 .5,.4 .5,3.5 .5-2.1 .5-1.8 .5,3.1 .5-1.4 .5,.8 .5-1.8 .5,2.6 .5-1.7 .5,.4 .5-1 .5-2.3 .5-1.7 .5-2 .5-2.7 .5,1.6 .5,1.6 .5,2.4 .5,1.4 .5,0 .5,1.2 .5-1.8 .5,0 .5,.8 .5-1.2 .5-.1 .5,2.1 .5-1.9 .5-.3 .5-1.7 .5-5.1 .5-6.9 .5-5.3 .5,5.7 .5,7.7 .5,4.2 .5,1.5 .5,.7 .5,.4 .5-.7 .5-1.8 .5-2.2 .5-1.5 .5-3.9 .5-4.3 .5-6.5 .5-7.8 .5-8.7 .5-7.5 .5-3.3 .5,3.3 .5,7.6 .5,8.7 .5,7.7 .5,6.2 .5,5 .5,3.6 .5,2.5 .5,1.4 .5,1.5 .5,.8 .5,.5 .5-.1 .5-.5 .5-3.3 .5-5.3 .5-5.1 .5,4.9 .5,7 .5,2.4 .5,2.9 .5,.5 .5-2.2 .5,1 .5,.4 .5-.6 .5-1.9 .5-1.1 .5-4.1 .5-6 .5-4.1 .5,4.2 .5,5.5 .5,2.3 .5,.3 .5,3 .5-2.1 .5,1.7 .5-1.2 .5-2.1 .5,2 .5,0 .5-2 .5-.3 .5-1.5 .5-1.8 .5-2.1 .5-2.8 .5-4.3 .5-5.4 .5-4.5 .5-2.5 .5,2.5 .5,4.3 .5,5.1 .5,4.3 .5,2.7 .5,2.1 .5,3 .5,.4 .5,.5 .5,.7 .5,1.5 .5,.7 .5-.1 .5-.6 .5,2.4 .5-2 .5,2.9 .5-1.5 .5,.8 .5,4.2 .5-3.6 .5,1.5 .5,.5 .5-2.5 .5,1.7 .5-.9 .5-3.1 .5,2.8 .5-3 .5-3 .5-8 .5-14.3 .5-25.2 .5-18.7 .5,18.3 .5,24.9 .5,14.9 .5,5.7 .5,4.4 .5,.1 .5,3.7 .5-1.3 .5,.3 .5-.7 .5,1.6 .5,.1 .5-.4 .5-1.4 .5,1.2 .5-1.8 .5,1 .5,2.6 .5-3 .5-.1 .5,.4 .5-.1 .5,1.4 .5,3.2 .5-3.2 .5,1.4 .5,.4 .5,.2 .5,2.5 .5-5.1 .5,3.6 .5,1.7 .5-1.9 .5,.9 .5-1.3 .5,.5 .5-1.2 .5,.7 .5,2.3 .5-3 .5,1.9 .5-1.6 .5,.4 .5-4.5 .5-5.2 .5-4.4 .5,2.8 .5,4.9 .5,2.4 .5,3 .5-3.7 .5,2.2 .5-.6 .5,.2 .5,1.5 .5,0 .5-.6 .5-1.1 .5-2.1 .5-4.2 .5-4 .5,4.6 .5,3.8 .5,2.5 .5,.2 .5,.1 .5,.8 .5,.8 .5-.9 .5,0 .5-1.1 .5-.3 .5,.4 .5-2.1 .5-1.7 .5-.3 .5,3.9 .5-.4 .5,2.7 .5-2.5 .5,.3 .5,1.1 .5,1.4 .5,1.5 .5-1.2 .5,1.7 .5-.4 .5-.2 .5-.6 .5,.1 .5,1.8 .5-.6 .5,3.1 .5-3.1 .5-2.8 .5,.2 .5,3.5 .5-2.7 .5-1.2 .5,.8 .5-.6 .5-.4 .5,2 .5-1.2 .5-.8 .5-3.6 .5-1.6 .5,2.7 .5,4 .5,.7 .5,.9 .5-1.8 .5,2.3 .5,2.9 .5-.1 .5-3.3 .5,1.6 .5,.2 .5-.7 .5,1.5 .5-.5 .5-2.3 .5,1.4 .5-2.1 .5-.6 .5,.7 .5-2.1 .5,1 .5-.3 .5-2.6 .5-2.8 .5-1.4 .5,2 .5,4.8 .5,2.5 .5-2.1 .5,.2 .5,2.3 .5,0 .5,.6 .5,1.9 .5-.6 .5-3 .5,3.4 .5,.3 .5-1.8 .5,1.8 .5-1.8 .5-2.4 .5,1.5 .5-2 .5-1.1 .5-4.1 .5-.3 .5,1.8 .5,1.8 .5-.3 .5-1 .5,3.7 .5,.8 .5-1.1 .5,1 .5-1.7 .5,2.5 .5-2.1 .5,.6 .5,3 .5-.6 .5,.3 .5-1.5 .5,2.1 .5-1.1 .5-1.3 .5-.9 .5,1.4 .5-2.3 .5,1.1 .5-.3 .5-.6 .5-2.9 .5-1 .5,3.1 .5-.4 .5,3.4 .5-1.4 .5,2.2 .5-1.3 .5,1.1 .5-2.6 .5,2.5 .5-5.2 .5,.6 .5,.6 .5-.7 .5,3.3 .5-3.5 .5-2.2 .5-1.1 .5,.3 .5,1.5 .5,2.6 .5,3.3 .5-1.8 .5,1.6 .5-.4 .5,1.4 .5-1.1 .5-.2 .5-2.1 .5,1.5 .5-1 .5,2.3 .5-.8 .5,.7 .5-.9 .5-1.2 .5-.7 .5,1.1 .5,2.4 .5-.2 .5-1.7 .5,.8 .5-.2 .5,2.7 .5-1 .5-1 .5,3.3 .5,.2 .5-2.4 .5,1.4 .5-3.3 .5,1.4 .5-.2 .5-.7 .5,3.8 .5-2.3 .5-3.3 .5-.4 .5,1.3 .5-1.3 .5,.9 .5,3 .5-5.1 .5,.5 .5,2.2 .5-2.5 .5-.6 .5,.7 .5,.9 .5-.1 .5,2.4 .5-2.5 .5,2 .5-3.8 .5,1.9 .5-1.1 .5-1.2 .5,.6 .5-1.9 .5,.1 .5-.1 .5,2.6 .5-.3 .5,.9 .5-1.7 .5,2.5 .5-1.1 .5,.6 .5,2.4 .5-1.1 .5-1.2 .5-.5 .5,1.4 .5,.7 .5,3.8 .5-4.3 .5,4.2 .5-.2 .5-.2 .5-.4 .5,.1 .5,1.5 .5-3.7 .5,2.9 .5-3.6 .5-.1 .5,1.5 .5,2.1 .5-3.9 .5,.5 .5,.4 .5-.2 .5,1.6 .5-1 .5,2.2 .5-2 .5-2.4 .5,3.4 .5-2.2 .5,.4 .5,.6 .5-1.5 .5,1 .5,2.8 .5-1.3 .5-2.7 .5,2 .5-3.3 .5,2.7 .5-.8 .5,.5 .5-.5 .5,.2 .5-.2 .5-.1 .5-.6 .5,.2 .5,2.8 .5-5 .5,3.8 .5-3.5 .5-.3 .5,1.7 .5,1.1 .5-1.9 .5,1.6 .5-.8 .5-.1 .5-3.3 .5-.1 .5,2 .5,.5 .5,2.7 .5,.7 .5-.7 .5,.5 .5,0 .5-.9 .5,1.8 .5-1.1 .5,.3 .5-2.9 .5,2.5 .5,.3 .5,.1 .5-1.3 .5-.5 .5,2.4 .5,.6 .5,1.4 .5-1.1 .5,.6 .5-1.6 .5,1.8 .5-3.3 .5,3.2 .5,.6 .5-.8 .5,.8 .5,.3 .5,.5 .5,0 .5-2.4 .5,1.2 .5,1.2 .5,1.4 .5-2.5 .5,1.1 .5-2.1 .5,2.2 .5-3 .5,.2 .5,2.4 .5-.7 .5-.5 .5-.6 .5-.2 .5-1.2 .5,3.6 .5-2.7 .5,1.3 .5-1.3 .5-1.1 .5,.7 .5,0 .5,.1 .5-1.1 .5,.5 .5,2.3 .5,1 .5-4.5 .5,1.6 .5,0 .5-2 .5,3.7 .5,0 .5,.9 .5,0 .5-1.6 .5,4.1 .5-1.2 .5-3.2 .5,.8 .5-.4 .5-.1 .5-.2 .5,2 .5,.9 .5-3.5 .5,2.1 .5-1.5 .5,3.3 .5-4.1 .5,2.9 .5-1.4 .5,.5 .5-1.7 .5,0 .5-1.3 .5,1.1 .5-.1 .5,.4 .5,.2 .5-.4 .5-.1 .5-.3 .5-1.1 .5,1.4 .5,1.6 .5-1.2 .5-1.3 .5,0 .5-2.1 .5,2.3 .5-2.1 .5,3.1 .5-2.7 .5,3.5 .5-3 .5,.3 .5,0 .5-.2 .5,3.6 .5-2.1 .5,.6 .5-.7 .5,.2 .5,1.7 .5-1.8 .5,4.1 .5-5.3 .5,1.6 .5,1.1 .5,.1 .5-.6 .5,1.5 .5-.1 .5-.3 .5-1.8 .5-2.4 .5-2.1 .5,2 .5,4.1 .5-1.1 .5,3 .5,1.9 .5-2.5 .5-.5 .5-1 .5-.1 .5-2.1 .5,2.1 .5-1.1 .5,2.8 .5-2.2 .5-.9 .5,.5 .5-1.1 .5-.2 .5,1.7 .5-1.2 .5-.1 .5,.7 .5,1.4 .5-2.1 .5-.4 .5,2.3 .5-1.7 .5-2.1 .5,1.3 .5-.4 .5,.9 .5-1.2 .5,.3 .5,2.4 .5-1.6 .5-1.2 .5,1.7 .5-2.3 .5,2.1 .5-2.7 .5,3.7 .5-.6 .5-1.5 .5,0 .5,.7 .5-1.6 .5,.6 .5-3.2 .5,.3 .5,1 .5,.2 .5-1.4 .5-1.7 .5-.2 .5-1.2 .5-3.7 .5-2.8 .5-1.4 .5,.9 .5,3.8 .5,2.2 .5,4.1 .5,.2 .5,1.6 .5-.1 .5,2.1 .5,.2 .5-.5 .5-.9 .5,.6 .5,1.6 .5-.2 .5,.9 .5-1.2 .5,2.6 .5-2.2 .5-.7 .5,1.2 .5-.2 .5,.3 .5-1.4 .5,.4 .5,.5 .5-.4 .5-.3 .5,.7 .5-.6 .5,.1 .5-1 .5-2 .5-2.3 .5,1.8 .5,1.8 .5,1.9 .5,3 .5-2 .5,1.5 .5-3.2 .5,3 .5,0 .5-2.4 .5,1 .5-1.5 .5,1.8 .5-.1 .5-.5 .5,2.8 .5-.7 .5-.3 .5,.8 .5-2.3 .5,.3 .5,3 .5-3.3 .5,2.7 .5-.5 .5-1.7 .5,4 .5-3.3 .5,.8 .5-2.1 .5,0 .5,.9 .5-1.1 .5,.3 .5-.3 .5-.6 .5,1 .5-.8 .5,.2 .5-1.2 .5,1.1 .5,1 .5-2.1 .5,1.8 .5,.6 .5-1.1 .5-1.4 .5,1.6 .5,.2 .5-1.3 .5,3.3 .5-2.2 .5,2.2 .5,.1 .5-1.5 .5-2.3 .5,3.1 .5-3.5 .5,1 .5-.3 .5-.1 .5-.3 .5,1 .5-1.5 .5,2.1 .5-2.3 .5-.2 .5,2.5 .5-1 .5,.9 .5,2.2 .5-.8 .5-1.1 .5-.4 .5,.5 .5,2.4 .5-1.8 .5-.6 .5,.5 .5-1 .5-.4 .5,.6 .5-2.6 .5,2.5 .5-1.2 .5,1.3 .5,.1 .5-1.6 .5,.1 .5-.1 .5-2 .5,.9 .5,.5 .5-1 .5-1.7 .5,.2 .5-.7 .5-.4 .5-.9 .5,1 .5,.3 .5-.3 .5,.3 .5,1.1 .5-1.1 .5,2.5 .5,.4 .5,.7 .5,0 .5-.4 .5,2 .5-1 .5-.1 .5,.4 .5,1.8 .5-1.5 .5-2.6 .5,1.8 .5-.4 .5,1.2 .5-.5 .5,1.1 .5-.4 .5-2.3 .5,.6 .5,1.2 .5-2 .5,1.1 .5,.4 .5,0 .5,1.5 .5-.6 .5-1.4 .5-.1 .5,2.4 .5,1 .5-1.7 .5-1.2 .5-.4 .5-.8 .5,2.9 .5,.5 .5-1.1 .5-.5 .5-.6 .5,.1 .5,.5 .5-.1 .5,.7 .5-1.1 .5-.7 .5,.4 .5,3.7 .5-2.8 .5,3.5 .5-3.7 .5,.9 .5,2.5 .5-2.5 .5-.8 .5,2 .5,.6 .5-.6 .5-1.6 .5-.4 .5,1.8 .5-1.9 .5,2.3 .5-.2 .5-2.8 .5,.2 .5-1.2 .5,2.8 .5-.2 .5-.7 .5-.3 .5,1.8 .5,0 .5,0 .5,.4 .5-.6 .5,1 .5-1.3 .5,.3 .5,1.5 .5,.1 .5-.3 .5-.1 .5,0 .5-.6 .5,.7 .5-.9 .5,2.1 .5,.1 .5-.1 .5-1 .5-1.8 .5,.7 .5,.3 .5,1 .5-2.3 .5,3.1 .5-2.2 .5,1.1 .5-.1 .5-1.9 .5-1.6 .5,2.6 .5,.7 .5-.1 .5-1.4 .5-1.8 .5-.9 .5,.1 .5-1.5 .5,2.3 .5-2.1 .5,1.2 .5-.3 .5,1.5 .5-.9 .5,.8 .5,.7 .5-.2 .5-1.3 .5,1.6 .5-1.2 .5,2.4 .5-.9 .5-1.6 .5,.6 .5,2.4 .5,.7 .5-1.5 .5,.7 .5-.5 .5-.8 .5,1.8 .5-1.1 .5-.1 .5-1.3 .5,.9 .5,.9 .5-.1 .5,.3 .5-.7 .5-.2 .5,.9 .5-.9 .5-.6 .5,1.6 .5,1.8 .5-.9 .5,.8 .5-.8 .5,.9 .5-.3 .5-.3 .5,.2 .5-1.3 .5-.1 .5-.4 .5-.9 .5-2.2 .5,4.9 .5-1 .5-2.2 .5,0 .5-1 .5,1.7 .5-.9 .5,.5 .5,.1 .5-2.3 .5-.2 .5,1.1 .5,.5 .5,1.9 .5-2.3 .5,.2 .5,2.4 .5,0 .5-.8 .5-.4 .5,1.2 .5-.3 .5,.9 .5,2.5 .5-2 .5-1.1 .5,2.6 .5-1 .5-1.7 .5,1.7 .5-2.1 .5-1.1 .5,.1 .5,2.5 .5-1.4 .5,.1 .5-.8 .5,.8 .5-.9 .5,.5 .5,1.4 .5-1.1 .5-.4 .5,.5 .5-1.2 .5,.4 .5,0 .5,.8 .5-.9 .5-.9 .5,1.3 .5,.2 .5-1.4 .5,1.5 .5-1.3 .5-.3 .5,1.9 .5-.9 .5-.3 .5,1.1 .5-.6 .5,1 .5-.9 .5-.2 .5,.1 .5,.5 .5-.1 .5-.2 .5,0 .5-.7 .5,.8 .5,1 .5,0 .5-1.4 .5-.5 .5-.3 .5,2.6 .5-1.4 .5,.8 .5-.4 .5,.2 .5,1.8 .5-.5 .5-.2 .5-2.1 .5,1.6 .5,.7 .5-.7 .5-2.7 .5,.1 .5-1 .5,.9 .5-.9 .5-1.2 .5,1 .5-.2 .5,.2 .5,.7 .5,.4 .5-.2 .5,.8 .5,.2 .5,2 .5-2.8 .5,2.1 .5-.1 .5,1.3 .5-2.4 .5,2 .5-2.6 .5,3.2 .5-1.4 .5-.3 .5,.6 .5,1 .5-1 .5,0 .5-.2 .5-1.4 .5,0 .5-.5 .5,3 .5-2.3 .5,2.1 .5-.9 .5-1.8 .5,3.1 .5,.4 .5,.9 .5-2.9 .5,1.4 .5,.5 .5-.7 .5,.2 .5,.9 .5,.7 .5-2.6 .5,.8 .5-2.3 .5,3.9 .5-1.7 .5-1.8 .5,.6 .5-1.3 .5,1.6 .5-.4 .5-.5 .5-.9 .5,1.6 .5-1 .5,.5 .5-.3 .5-.6 .5,1.7 .5-1.1 .5,2.5 .5-1.2 .5-.7 .5,.5 .5-1.6 .5,.6 .5,1.4 .5-.1 .5-1.4 .5,.8 .5-.3 .5,.9 .5,2.3 .5-2.8 .5,.5 .5-.3 .5,.9 .5,.7 .5-.7 .5-.1 .5-.9 .5-.4 .5,.3 .5,1.9 .5-2.3 .5,1.8 .5,1.1 .5-1.8 .5-1 .5,.5 .5-1.3 .5,.5 .5,1.7 .5-.8 .5-2.3 .5,3.9 .5-1.6 .5-.1 .5,1.6 .5-2.7 .5,2.1 .5-1.1 .5-.3 .5,.9 .5-.1 .5,1.6 .5-.2 .5-.3 .5-1.5 .5-1.5 .5,2.2 .5,.1 .5-2.7 .5,2.5 .5-1.1 .5,2.3 .5-.4 .5,.7 .5-1.7 .5-1.6 .5,.5 .5-.3 .5,1.6 .5-.9 .5,.2 .5,.7 .5-1.7 .5,2.1 .5-1.3 .5,1 .5-.4 .5,.1 .5-1.7 .5,2.1 .5-.9 .5-1.6 .5,1.4 .5,.3 .5,.4 .5-.6 .5,1.7 .5-1 .5-.9 .5,1.7 .5-2.1 .5,1.6 .5,.5 .5-1.8 .5,.7 .5,1.5 .5-1.5 .5-.2 .5-.8 .5,2.2 .5-1.4 .5,.9 .5,.4 .5-1 .5,.3 .5-1 .5,2.8 .5-.5 .5-.7 .5,2.1 .5-1.2 .5,1.9 .5-1 .5-.6 .5,.1 .5-.6 .5,1.5 .5-2.3 .5-.4 .5,1.5 .5-1.2 .5,2 .5-2.3 .5-.6 .5,.1 .5-.5 .5,0 .5-.7 .5,.8 .5,1.2 .5-.1 .5,.2 .5-.4 .5,.3 .5-1 .5,2.3 .5-2.3 .5,.6 .5,.8 .5-2.5 .5,.7 .5-.7 .5,3.7 .5-1.1 .5-1.2 .5,.5 .5-1.5 .5,1.4 .5,.2 .5-1 .5-.3 .5-.2 .5,.1 .5,.6 .5-1.4 .5,2.4 .5-1.4 .5-.1 .5,2.2 .5-.9 .5-.8 .5,1.3 .5-.6 .5,.1 .5,.6 .5-.7 .5,0 .5,1.4 .5-2.4 .5-.3 .5,1 .5,.7 .5-.1 .5-2.3 .5,1.5 .5,.5 .5-.6 .5-2.1 .5,3.2 .5-.3 .5-.7 .5-1.2 .5,1.4 .5-.5 .5,.3 .5-.8 .5-.3 .5,1.7 .5-1 .5-.8 .5,1 .5-1.7 .5,1.7 .5-1.2 .5,.9 .5-.1 .5,1.6 .5-1.1 .5-.8 .5,.8 .5,.6 .5-1.3 .5,.4 .5,1.1 .5-.8 .5,1.2 .5-.9 .5,.3 .5,.7 .5-.7 .5,.3 .5-.2 .5-.5 .5,.8 .5,0 .5,.1 .5,0 .5,1.8 .5-2.5 .5,.5 .5-.1 .5-.4 .5,1.2 .5,.5 .5-1 .5-1.1 .5,1.7 .5,.2 .5-.5 .5-.9 .5-.8 .5,1.6 .5,1.1 .5-2.7 .5,1.5 .5-.8 .5,.9 .5,.7 .5,.1 .5,.2 .5-.3 .5,.9 .5-.9 .5-.8 .5,1.4 .5-.9 .5-.8 .5,1.2 .5,1.3 .5-2.1 .5,.2 .5,.2 .5,0 .5,1.1 .5-1.4 .5,1.6 .5-2.6" fill="none" stroke="#515151" stroke-width="2.2" stroke-linejoin="round"/>
<path d="M128.7,2373.4l.5,.6 .5-.4 .5,.5 .5-.7 .5,.7 .5,.3 .5,0 .5-.3 .5,.7 .5-1.4 .5,.8 .5,0 .5,.4 .5,0 .5,.1 .5,1.1 .5-.7 .5-.2 .5,.1 .5-.7 .5,.4 .5,.6 .5-.9 .5,1.2 .5-1.3 .5,.6 .5,.2 .5-.2 .5-.1 .5,1.3 .5-.1 .5-.5 .5,0 .5,.1 .5,1.1 .5-.5 .5,.4 .5-.2 .5-.5 .5-.3 .5,.4 .5,0 .5,0 .5-.6 .5,.4 .5-.3 .5-.4 .5,1.3 .5-.4 .5,.3 .5,.2 .5,.6 .5-1.1 .5,.1 .5-.3 .5,.8 .5,1.1 .5-1.2 .5,.1 .5-.2 .5-.6 .5,.8 .5-.4 .5,1.8 .5-1 .5,.2 .5-.5 .5,1.4 .5,.5 .5-.2 .5,.8 .5-.2 .5-.6 .5,.3 .5-.5 .5-.2 .5,2.2 .5-1.2 .5,1 .5,0 .5-.2 .5,.2 .5,.8 .5,0 .5-.2 .5-.6 .5,1.4 .5-1.2 .5-.2 .5,.8 .5-.4 .5-.8 .5,.1 .5,.4 .5,.4 .5-.3 .5-.9 .5,1.7 .5-.6 .5,.5 .5-.5 .5,.9 .5-1.4 .5,1.4 .5,.6 .5-1 .5,.3 .5,.9 .5-.6 .5,1.4 .5-.7 .5,.6 .5,.9 .5-1.4 .5-.3 .5,.4 .5-.3 .5,.6 .5-.4 .5,0 .5,.5 .5,.6 .5,.1 .5,.1 .5-1.2 .5,2.1 .5-1.1 .5,.7 .5-.7 .5,.5 .5-1.6 .5,1.2 .5-.6 .5,.8 .5-1 .5,1 .5-.7 .5,.4 .5-.3 .5,.1 .5,1 .5,.3 .5-.5 .5-.7 .5,2 .5-.8 .5-.3 .5,1.1 .5-1.4 .5,1.1 .5,.5 .5-.5 .5,.2 .5-.3 .5-.7 .5,.4 .5,.1 .5,.4 .5-.7 .5,.5 .5,.7 .5,.4 .5-.6 .5,1.2 .5-.2 .5-.5 .5-.8 .5,1 .5,.4 .5-.5 .5,.3 .5-.6 .5-.4 .5-.4 .5-.4 .5,1.8 .5-1.1 .5,.6 .5-.4 .5,.3 .5,.3 .5,.6 .5-.1 .5,.9 .5-.8 .5,.3 .5-.6 .5,1.1 .5-.2 .5-.7 .5,.7 .5,.3 .5,.3 .5-.5 .5-1.1 .5,1.1 .5-.9 .5,1.1 .5-1.6 .5,.6 .5,.5 .5,.6 .5,.1 .5,0 .5-.9 .5,0 .5,.6 .5,.4 .5-.5 .5-.1 .5-.6 .5,0 .5,1 .5-1 .5,1 .5-.5 .5,.4 .5,.3 .5,.1 .5,.4 .5-.7 .5,.9 .5,.8 .5,.4 .5-.7 .5,.4 .5-.6 .5,1.2 .5,.1 .5,0 .5-.1 .5,.7 .5-.5 .5-.7 .5,1.1 .5-.4 .5-1.2 .5-.9 .5,1.3 .5-1.5 .5,.8 .5,.1 .5-.3 .5,.9 .5-.6 .5,.5 .5-.9 .5,1 .5,.5 .5-.5 .5-.2 .5-.1 .5-.6 .5,.8 .5,.2 .5-1 .5,.3 .5,.9 .5-.2 .5-.5 .5,1.2 .5-1.4 .5-.5 .5,1 .5,.7 .5-.3 .5,.3 .5,.3 .5,.3 .5-.2 .5,1.1 .5-1.5 .5,.4 .5,.9 .5,0 .5-.1 .5-1.7 .5,.8 .5,.2 .5-.2 .5-.3 .5,.2 .5-.8 .5-.3 .5-.3 .5,.5 .5,.2 .5-.2 .5,.4 .5,.6 .5-.7 .5,.6 .5,.9 .5-.5 .5,.3 .5,.5 .5-.2 .5,1 .5-.7 .5-.6 .5-.5 .5-.2 .5-.2 .5-.2 .5,.1 .5-.3 .5,.8 .5,1 .5-.8 .5,.3 .5,.2 .5-.9 .5,1.2 .5-.2 .5,.2 .5,.1 .5-.3 .5-1 .5,.3 .5,1.1 .5,.7 .5-1.2 .5,.4 .5,1.3 .5-1.2 .5-.7 .5,.1 .5,.2 .5-.7 .5,1.3 .5-1.3 .5,2 .5-.2 .5-1 .5,.2 .5,0 .5,.9 .5-.9 .5-.1 .5-.2 .5,.6 .5-.2 .5,.3 .5,.5 .5-.6 .5,.5 .5-.4 .5,.4 .5-.5 .5,0 .5-.9 .5,.2 .5-.6 .5,.3 .5-.1 .5,.7 .5-.6 .5-.2 .5-.1 .5,1.6 .5-1.2 .5,.8 .5,.1 .5,.9 .5-1.9 .5,.9 .5,1.9 .5-1.2 .5,.9 .5-.9 .5,.8 .5,.1 .5-1.9 .5-.1 .5,1 .5-.6 .5,1.1 .5-1.1 .5,.7 .5-.4 .5,.2 .5-.8 .5,.5 .5-.7 .5,.4 .5,.8 .5-.9 .5-.1" fill="none" stroke="#F14040" stroke-width="7.0" stroke-linejoin="round"/>
<path d="M321.2,2391.6l.5,.8 .5-.9 .5-.1 .5,.6 .5-.2 .5,.3 .5-.2 .5-.8 .5-1.2 .5,1.1 .5,.2 .5-1.1 .5,.6 .5,.8 .5-1.1 .5,.6 .5-.7 .5,.6 .5,0 .5,0 .5-.2 .5,1.1 .5,.2 .5-.8 .5,1.1 .5,.3 .5,1.5 .5-1.1 .5,.1 .5-.9 .5,.5 .5-1.2 .5,1.3 .5-1 .5,2 .5-.7 .5,.8 .5,.2 .5-.5" fill="none" stroke="#F14040" stroke-width="5.8" stroke-linejoin="round"/>
<path d="M339.2,2393.1l.5,.8 .5,.2 .5-.5 .5-.7 .5,1.5 .5-.3 .5,0 .5-.2 .5-1.6 .5-.6 .5,.6 .5,.6 .5,1.1 .5,.7 .5-.1 .5-.4 .5,.3 .5,.8 .5-.5 .5,0 .5,.9 .5-.3 .5,1 .5-.7 .5-.6 .5-.1 .5,1.8 .5-1.1 .5-.2 .5,.7 .5-.3 .5-1 .5,.1 .5,.4 .5-.5 .5-.3 .5,.4 .5-1.1 .5,.5 .5-.1 .5-.6 .5-.5 .5,.4 .5-1.4 .5-.2 .5-.4 .5-.2 .5-.9 .5-1 .5-3.6 .5-7.2 .5-12.6 .5-9.3 .5,9.2 .5,12.3 .5,7 .5,2.7 .5-.5 .5-3.3 .5-6.4 .5-4.3 .5,5.5 .5,7.3 .5,4.5 .5,2.2 .5,.9 .5,1 .5,.8 .5-.4 .5,0 .5-1 .5,.3 .5,.1 .5-.3 .5,.5 .5,0 .5-.5 .5,0 .5-.3 .5-.1 .5,.1 .5,.3 .5,.7 .5-.7 .5-.5 .5,.8 .5-.7 .5-.7 .5,.1 .5,.1 .5-.7 .5-.4 .5-.6 .5-1.5 .5-3.2 .5-5.4 .5-4.1 .5,3.4 .5,5.3 .5,2.7 .5,1.1 .5,1.3 .5,.3 .5-.2 .5,.4 .5,.5 .5,.1 .5,1.2 .5-.1 .5,.3 .5,.9 .5-1.4 .5-.7 .5,.5 .5,.4 .5-.3 .5-.8 .5,0 .5,1 .5-.4 .5,.3 .5-.3 .5-.3 .5,.4 .5-.2 .5-.3 .5,.4 .5,.2 .5-1 .5,.5 .5,.1 .5,.7 .5-.3 .5-.2 .5,1 .5,.3 .5,.1 .5,.1 .5-.5 .5-1 .5-1.4 .5-2.5 .5-2.2 .5,1.7 .5,2.5 .5,1.6 .5,1 .5-.5 .5-.6 .5-.7 .5,.1 .5-1.1 .5-.4 .5-.4 .5-1.7 .5-1.5 .5-2 .5-1.8 .5-.9 .5,.9 .5,1.9 .5,1.8 .5,1.3 .5,1.6 .5,1.8 .5,.4 .5,1.3 .5,.5 .5,.7 .5-.5 .5,1.4 .5-.5 .5-.6 .5,.3 .5-.5 .5,.4 .5-.2 .5-.6 .5-.2 .5,.6 .5-.2 .5,0 .5-1.1 .5,.4 .5-1.2 .5-1.8 .5-4.5 .5-7.9 .5-5.4 .5,6.2 .5,8.3 .5,5.1 .5,2.7 .5,1.1 .5,1 .5,.5 .5,.6 .5-.1 .5-.4 .5-.1 .5-.6 .5-.7 .5,.2 .5-.4 .5-1 .5-1.5 .5,.4 .5-.8 .5,.6 .5-.5 .5,.5 .5-1.7 .5,.8 .5,.9 .5-.7 .5-.3 .5,1.7 .5-.6 .5,1.4 .5-.5 .5,.1 .5,1 .5,.2 .5,.2 .5,.1 .5,.4 .5,.1 .5,1.2 .5-1.4 .5-.3 .5,.2 .5-.8 .5-.5 .5-.5 .5-.3 .5-1 .5-.2 .5-1.2 .5-1 .5-1.2 .5-2.7 .5-5.3 .5-12.3 .5-26.2 .5-44 .5-32.4 .5,32.6 .5,44.1 .5,26.4 .5,12.6 .5,5.1 .5,2.6 .5,1.4 .5,1.2 .5,.3 .5,.6 .5-.1 .5,.6 .5,.1 .5-.2 .5,.3 .5,.5 .5-.4" fill="none" stroke="#F14040" stroke-width="4.6" stroke-linejoin="round"/>
<path d="M469.2,2394.0l.5,.3 .5,.5 .5-.4 .5,.4 .5,0 .5,1.1 .5,.2 .5,.1 .5-.4 .5,.1 .5,1.1 .5-.5 .5,.8 .5-.4 .5,.2 .5-.2 .5-1.2 .5,.7 .5-.9 .5,.4 .5,.4 .5-.1 .5-.3 .5-1.4 .5-1.6 .5-.8 .5,1.1 .5,1.8 .5-.1 .5,1.5 .5-.9 .5,1.2 .5-.7 .5,.9 .5,0 .5,.4 .5-1.4 .5,1.3 .5-.1 .5-1.3 .5-1 .5-.4 .5-1.7 .5-3.3 .5-2.1 .5,1.5 .5,1.9 .5,1.7 .5,0 .5,.3 .5-.5 .5,1 .5-.3 .5,.6 .5-.1 .5,.5 .5,.2 .5,.3 .5,.7 .5-.1 .5,.3 .5-.7 .5-.2 .5,.5 .5,1 .5-.1 .5-.2 .5,.7 .5-.3 .5-.9 .5-.1 .5-.2 .5-.1 .5,.7 .5-.9 .5-.4 .5,.5 .5,.1 .5,0 .5-.8 .5,.9 .5,0 .5,1.1 .5,0 .5,.5 .5-1.1 .5,.2 .5-.9 .5-1.6 .5-1 .5,1.2 .5,.6 .5,1.1 .5-.3 .5,.4 .5-.8 .5,.9 .5-.3 .5-.3 .5,.4 .5-.2 .5,1.1 .5-.4 .5,1.2 .5,.6 .5,.2 .5,.1 .5,1.1 .5,.5 .5,.1 .5,.1 .5,0 .5-.7 .5,.9 .5-2.2 .5,.5 .5-.5 .5-1 .5-2.4 .5-3.1 .5-4.1 .5-3.2 .5,2.9 .5,4.1 .5,3 .5,1.3 .5,.5 .5,.9 .5,0 .5,1.2 .5,.3 .5-.1 .5-.1 .5-.4 .5,.7 .5-2.2 .5-3.4 .5-5.5 .5-4.1 .5,2.9 .5,4.5 .5,2.5 .5,.9 .5,0 .5,1 .5,.4 .5,.4 .5,.2 .5,0 .5-.1 .5,1.1 .5-.2 .5-.3 .5,.3 .5-.1 .5-1.4 .5,.1 .5-.1 .5,.4 .5-1.1 .5-.1 .5-1.6 .5,1.8 .5-1.3 .5,1 .5,.3 .5-.5 .5,1.3 .5,.6 .5-1.1 .5-.1 .5-.4 .5,1 .5-.2 .5,.7 .5-.8 .5,.5 .5-.1 .5-.5 .5,.3 .5-1.7 .5-1.5 .5-3.1 .5-2.5 .5,2.5 .5,2.9 .5,1.6 .5,.4 .5-.1 .5,1.3 .5-.1 .5-.4 .5,.5 .5-.1 .5,0 .5,.8 .5,0 .5-.6 .5,1.2 .5-.7 .5,.8 .5,.9 .5,.2 .5-.6 .5,.5 .5-.2 .5,.6 .5,.2 .5,0 .5-.4 .5,.4 .5,.3 .5-1.1 .5-.2 .5-.5 .5,.4 .5-1.1 .5,1.1 .5-.4 .5-.4 .5,.6 .5,.2 .5,.2 .5,1 .5,0 .5-.2 .5-.1 .5,.3 .5-.5 .5,.4 .5-.1 .5,.1 .5-1 .5-.1 .5-.6 .5-1.1 .5,.9 .5,0 .5-.2 .5,.3 .5-.7 .5,.4 .5-1.3 .5-2.3 .5-1.7 .5,1.2 .5,1.7 .5,.8 .5,.7 .5-.2 .5,.9 .5,.5 .5-.8 .5,1.5 .5-.8 .5,.8 .5,.5 .5-.3 .5-.9 .5,.5 .5-.7 .5,.2 .5,1 .5-1 .5,1.8 .5-1.4 .5,.6 .5,.7 .5,.2 .5-.6 .5,.7 .5-.3 .5,.4 .5-.7 .5,.4 .5,1.6 .5,.2 .5,.4 .5-.5 .5,1.8 .5-.5 .5,0 .5,.5 .5,.2 .5-1.2 .5,1 .5-.5 .5-1.4 .5-.2 .5-.4 .5-.5 .5,.4 .5-.7 .5,.2 .5,.6 .5-1 .5,.1 .5-.8 .5,.8 .5-.2 .5-.2 .5,.9 .5,.1 .5-.1 .5-.1 .5-1 .5,.3 .5,.3 .5-.7 .5-1.3 .5-.7 .5-2.6 .5-1.5 .5,1.9 .5,1.8 .5,1.5 .5,.2 .5,.9 .5-.3 .5,.9 .5-1.2 .5,1.4 .5-.4 .5,.1 .5-.4 .5,1 .5,.9 .5-2 .5,2 .5-1.2 .5,1.3 .5-1.3 .5,1.5 .5,0 .5,.1 .5-.2 .5,.9 .5-.8 .5-.4 .5,.3 .5-.2 .5-.1 .5-.5 .5-.9 .5,.6 .5-.9 .5-1.5 .5,1.3 .5-1.9 .5,.3 .5-.3 .5-1.1 .5,1 .5-.6 .5,1.3 .5,0 .5-1.3 .5,1.3 .5,.5 .5-1 .5,1.2 .5-.2 .5-.2 .5,1 .5-.3 .5,.3 .5,0 .5,0 .5,.2 .5-.7 .5,1.1 .5-.1 .5-.2 .5,.2 .5-.1 .5,0 .5-.3 .5-.3 .5-.1 .5-2.2 .5-1.4 .5-1.2 .5,1.4 .5,1.3 .5,.4 .5,.9 .5,0 .5,.7 .5-.1 .5-.9 .5,1.9 .5-.8 .5-1.1 .5,1.2 .5-.3 .5-.1 .5,.1 .5,.5 .5,.2 .5-.3 .5-.1 .5,.7 .5-.7 .5-.1 .5,.3 .5,0 .5-.7 .5-.5 .5,.6 .5,.3 .5-.3 .5,1.5 .5-.5 .5,.2 .5-.5 .5,.2 .5-.9 .5-1.6 .5-1.5 .5,1.5 .5,1.6 .5,.6 .5,1.2 .5-.1 .5,.3 .5-.8 .5,.5 .5-.7 .5,.6 .5-1.7 .5,.8 .5,0 .5-.2 .5,.2 .5-.5 .5,.7 .5,.6 .5-.7 .5,1.1 .5-.5 .5-.7 .5,.3 .5,.2 .5-1.4 .5-.2 .5-.4 .5-.6 .5,.5 .5-.3 .5-.1 .5,.8 .5-.5 .5,.2 .5,.1 .5-.3 .5-1.1 .5-1.3 .5,.7 .5,1 .5,.7 .5-.1 .5,.4 .5-1.5 .5,1 .5-1 .5,.7 .5,.1 .5-.2 .5,.2 .5,.2 .5,.2 .5-.3 .5,.2 .5,.3 .5,.2 .5,.6 .5,.2 .5-.1 .5,.9 .5-.3 .5-.4 .5,1 .5-1.2 .5,1.2 .5,0 .5-.6 .5,.1 .5,.3 .5-.2 .5,.6 .5-.9 .5-.2 .5-.4 .5-.3 .5-.3 .5-.4 .5-1.6 .5-.6 .5-2.2 .5-2.7 .5-4 .5-5 .5-4.8 .5-2.2 .5,2.6 .5,5.1 .5,5.3 .5,4.1 .5,3.1 .5,2.3 .5,1.3 .5,1.2 .5,.5 .5,.5 .5-.2 .5,0 .5-.3 .5,.3 .5-.2 .5-1.1 .5,.2 .5-.4 .5-.4 .5,.6 .5-.6 .5-.9 .5-1.3 .5-1 .5,1.5 .5,2.3 .5,.9 .5,1.2 .5,.9 .5-.9 .5-.4 .5,.8 .5-.7 .5-.1 .5-.6 .5,.6 .5,.3 .5-.7 .5,.2 .5,.3 .5,.7 .5-.6 .5,.6 .5-.6 .5,.5 .5,.8 .5-.6 .5-.3 .5-1 .5,.5 .5-1.1 .5,.7 .5-.5 .5-1 .5,.2 .5,.1 .5-.7 .5,.5 .5,.3 .5-.4 .5-.9 .5,1.7 .5-.2 .5,.3 .5-.1 .5,.2 .5,.2 .5-1.3 .5,.9 .5,.2 .5-1.1 .5,1 .5,.2 .5,.1 .5-.6 .5,1 .5-.4 .5-.1 .5,.2" fill="none" stroke="#F14040" stroke-width="5.2" stroke-linejoin="round"/>
<path d="M759.2,2398.5l.5-.4 .5-.1 .5,.2 .5-.3 .5,0 .5-.2 .5,.2 .5,.3 .5-.3 .5,.8 .5-.6 .5-.5 .5,.6 .5-.2 .5,0 .5,.3 .5,.5 .5-.4 .5-.1 .5-.5 .5,.3 .5-.5 .5-.6 .5,.5 .5,.4 .5-.3 .5-.9 .5-.1 .5-.2 .5-.1 .5,.5 .5,.5 .5-.8 .5,.1 .5-.7 .5,1.6 .5,.3 .5-.1 .5-.3 .5,.3 .5-.7 .5,0 .5,.5 .5-.5 .5-.7 .5,.8 .5-.6 .5,.7 .5,.1 .5-.1 .5,.1 .5-.5 .5,1.8 .5-.7 .5,0 .5,.3 .5,.4 .5-.2 .5,.9 .5-1.2 .5,.9 .5-.3 .5-.4 .5,.6 .5,0 .5-.7 .5-.1 .5-.1 .5,.3 .5-.5 .5,.2 .5,.2 .5-.2 .5,.1 .5,.1 .5,.2 .5-.3 .5-.4 .5,.7 .5-.8 .5-.3 .5,0 .5,.9 .5-.6 .5,.5 .5-.7 .5,.2 .5-.2 .5,.2 .5,.1 .5-.3 .5,.4 .5-.7 .5,.1 .5-.1 .5,.4 .5,.3 .5-.4 .5,.2 .5,.2 .5-.2 .5,.3 .5-.2 .5,.4 .5-.1 .5,.1 .5,.1 .5,0 .5,.4 .5,.1 .5-.8 .5,1.1 .5-1.2 .5,.2 .5,0 .5,.6 .5-1 .5-.5 .5-.4 .5,.7 .5-.2 .5,.1 .5-.2 .5,.2 .5,.3 .5,.3 .5-.4 .5,.2 .5,1.1 .5-.4 .5,.4 .5-.1 .5-.5 .5,.7 .5,.3 .5-.7 .5,.4 .5-.6 .5,.8 .5-.7 .5,.1 .5-.3 .5,.6 .5,.1 .5-.7 .5,0 .5-1 .5,.4 .5-.8 .5-.2 .5-1 .5,0 .5-.8 .5,.3 .5,0 .5,.2 .5,.4 .5,.5 .5,.7 .5-.5 .5,1.2 .5,.4 .5-.3 .5,.4 .5-.1 .5,.3 .5-1 .5,1.1 .5-.2 .5-.5 .5-.1 .5-.1 .5,.2 .5-.3 .5,0 .5,.1 .5,.1 .5,.1 .5,.5 .5,0 .5,.6 .5-.6 .5,.5 .5-.4 .5,.2 .5,.5 .5-.1 .5,.4 .5-1 .5-.3 .5,.3 .5,.1 .5,.6 .5-.7 .5,.5 .5-1 .5,1.1 .5-.3 .5,.7 .5-.5 .5,0 .5,0 .5-.3 .5-.4 .5,.2 .5-.2 .5-.6 .5-.1 .5-.2 .5-.2 .5,1 .5-.9 .5-.3 .5,1 .5,.3 .5-.6 .5-.6 .5,.6 .5,.1 .5-.7 .5,.4 .5,.5 .5-1.3 .5,.5 .5,.2 .5-.2 .5,.7 .5-.6 .5,.6 .5-.2 .5,0 .5,.2 .5,.5 .5-.7 .5,0 .5,.1 .5,.2 .5,.3 .5,.7 .5-1.4 .5,0 .5,.3 .5,.4 .5,.1 .5-.2 .5,.5 .5,.7 .5-.1 .5-.5 .5,.8 .5-.9 .5,.9 .5-.6 .5,.6 .5-.6 .5-.8 .5,.6 .5-.7 .5-.3 .5,.5 .5-.3 .5,.6 .5-.3 .5,.8 .5-.7 .5,.1 .5-.2 .5,.3 .5,0 .5-.5 .5,.4 .5-.5 .5,.3 .5-.9 .5,1.2 .5-.6 .5-.8 .5,.5 .5-.7 .5,.1 .5,.1 .5-1.2 .5,1.2 .5,.1 .5-.3 .5-.5 .5,.6 .5,.2 .5-.1 .5,.5 .5-.3 .5,.9 .5,.3 .5-.3 .5,.3 .5-.3 .5,.8 .5-.2 .5-.7 .5,.5 .5,.1 .5-.6 .5,0 .5,.7 .5-.6 .5,0 .5,.1 .5,.3 .5-.9 .5,1 .5-.8 .5-.1 .5-.3 .5-.2 .5,.3 .5-.1 .5-.7 .5,.4 .5-.4 .5-.8 .5,0 .5-.5 .5-.8 .5-.4 .5,.3 .5,.5 .5,.4 .5,1.2 .5,.5 .5,.8 .5,.6 .5,.5 .5,.3 .5-.2 .5,.6 .5-.5 .5,.1 .5-.6 .5,.4 .5-.2 .5,.3 .5-.3 .5-.9 .5,.5 .5-.2 .5-.1 .5,.1 .5-.4 .5,.4 .5,.3 .5-.3 .5-.9 .5,1.8 .5-.8 .5,.1 .5,.6 .5-.5 .5,.4 .5-.8 .5,0 .5,.1 .5-.1 .5-.1 .5,.9 .5,.2 .5,.1 .5,.1 .5,.3 .5,.2 .5,.6 .5-.2 .5,.1 .5-.6 .5,.7 .5-.4 .5,0 .5-.2 .5-.4 .5,0 .5-.6 .5,.2 .5-.6 .5-.1 .5,.1 .5,.3 .5-.3 .5,0 .5-.4 .5-.3 .5,.6 .5,.1 .5,.1 .5,.2 .5,.5 .5-1.5 .5,1.5 .5-.5 .5,.6 .5,.1 .5-.7 .5,.6 .5-.1 .5,.4 .5,.2 .5-1.2 .5,1.2 .5,.5 .5,.7 .5-.7 .5-.5 .5,.1 .5-.4 .5,.1 .5,.5 .5-.7 .5,.9 .5-.2 .5-.7 .5,.6 .5,0 .5-.1 .5-.8 .5-.1 .5-.1 .5,.3 .5-.2 .5,.8 .5-.6 .5,.1 .5,0 .5,.1 .5-.3 .5-.5 .5,.1 .5,.3 .5,0 .5,.2 .5-.1 .5-.8 .5,.6 .5-.1 .5-.5 .5,0 .5-.5 .5-.6 .5,.4 .5-.6 .5,.3 .5,.4 .5-.4 .5-.3 .5-.1 .5-.2 .5,.6 .5-.4 .5-.2 .5,1.2 .5-.2 .5,0 .5,.4 .5,.3 .5-.3 .5,.5 .5,.4 .5-.4 .5,.5 .5-.2 .5-.4 .5,.1 .5,.9 .5,0 .5-.3 .5,.3 .5,.4 .5,.6 .5-.3 .5,.3 .5,0 .5-.4 .5-.6 .5,.4 .5-.2 .5,.4 .5-.2 .5-.7 .5,.6 .5-.1 .5-.3 .5-.1 .5,.1 .5,.3 .5-.6 .5,.2 .5-.6 .5,.7 .5-.4 .5-.3 .5,.4 .5,.1 .5-.6 .5,.2 .5,.3 .5,0 .5-.1 .5-.5 .5-.2 .5-.1 .5-.1 .5-.2 .5-.1 .5-.2 .5,.7 .5-.5 .5,.1 .5-.3 .5,.7 .5,.6 .5-.2 .5,.2 .5,.3 .5-.6 .5,.9 .5-.5 .5,.6 .5,0 .5,.2 .5-.3 .5-.2 .5-.2 .5,.6 .5-.7 .5,.1 .5-.6 .5,0 .5-.4 .5,.4 .5,.1 .5,.1 .5-.7 .5,.3 .5,.5 .5,.1 .5-.2 .5,.9 .5-.1 .5-.6 .5-.1 .5,.7 .5,.2 .5-.6 .5-.4 .5,.3 .5,.1 .5,.2 .5,0 .5,.2 .5,.3 .5-.4 .5,.1 .5-.3 .5,.3 .5-.4 .5-.4 .5,.2 .5-.2 .5,0 .5-.4 .5,0 .5,.9 .5-1 .5,.2 .5,.5 .5,.1 .5-.1 .5,0 .5,.7 .5-.6 .5,1 .5-.2 .5,.5 .5-.3 .5,.3 .5-.3 .5-.3 .5,.4 .5-.1 .5-.1 .5,.2 .5-.2 .5,0 .5-.2 .5,.2 .5-.7 .5,.7 .5-.1 .5,.2 .5-.1 .5,0 .5-.1 .5,0 .5,.5 .5-.5 .5,.1 .5,.1 .5-.6 .5,.3 .5,.5 .5-.2 .5-.4 .5-.4 .5,.2 .5,.4 .5-.4 .5,.2 .5-.6 .5,.1 .5,.4 .5-.2 .5,.4 .5-.2 .5,.1 .5,.2 .5,.3 .5-.2 .5,0" fill="none" stroke="#F14040" stroke-width="4.3" stroke-linejoin="round"/>
<path d="M128.7,2375.9l.5,.3 .5-3.8 .5-1.5 .5,4.8 .5-1.6 .5,1.4 .5-1.6 .5-.7 .5,3.7 .5-3 .5,.9 .5-1.9 .5,.4 .5,1.8 .5-.8 .5-1.1 .5,1.1 .5,.1 .5,2.6 .5,.9 .5-5 .5,.4 .5,3.2 .5,1.7 .5-4.7 .5,.4 .5,.5 .5,2.6 .5-4.1 .5,6 .5-2.9 .5-1.7 .5,2.7 .5-2.6 .5,1.4 .5-1.9 .5,2.8 .5-1.1 .5,.5 .5,.9 .5,.6 .5-1.3 .5-1 .5,3.7 .5-3.7 .5,1.4 .5-.6 .5-.1 .5,3.4 .5-3.7 .5-.6 .5,3.3 .5-3.7 .5,.2 .5,1.9 .5-1.1 .5,3 .5,.8 .5-3.1 .5-3.5 .5,2.7 .5-1.4 .5,4.2 .5-5.3 .5,4.3 .5,1.5 .5-2.5 .5-2.2 .5,2.5 .5,3.2 .5-2.3 .5,3 .5-.7 .5-.6 .5,2.9 .5-4.9 .5,.1 .5,1.6 .5,.2 .5-1 .5,2.9 .5,.4 .5,3.2 .5-5.5 .5-2.9 .5,3.8 .5-2.6 .5,1.2 .5-1 .5,2.1 .5,2.2 .5-6 .5,4.9 .5-.1 .5-.4 .5-3.1 .5,2.1 .5,3.7 .5-.6 .5-1.9 .5-1.5 .5,3.6 .5-1.2 .5-2.4 .5,2.4 .5-2.3 .5,2 .5-2.4 .5,4.4 .5-5 .5,1.8 .5,3.5 .5-1.4 .5,2.2 .5-.9 .5-3.6 .5,3.4 .5,1.5 .5-2.8 .5,.5 .5-2.9 .5,2.2 .5-2.7 .5,1.6 .5-.1 .5,1.5 .5,1 .5,1.5 .5-1.2 .5,4.1 .5-1.3 .5-3.3 .5-.8 .5-.7 .5,2.3 .5,0 .5,0 .5,.9 .5,.8 .5-1.8 .5,2.4 .5-.8 .5-1.5 .5,.3 .5,1.2 .5-3.7 .5,4.3 .5,.3 .5-3 .5,3 .5,2.5 .5-3.6 .5,4.4 .5-4.1 .5,1 .5,2.4 .5-2.9 .5-2.1 .5,2 .5,2.2 .5-3.3 .5-1.7 .5,1.9 .5,1.1 .5,1.6 .5-3.3 .5,4.1 .5-2.8 .5-1.3 .5,2.9 .5-3.2 .5,1.4 .5-1.2 .5,.1 .5,.8 .5-.7 .5,1.2 .5-.6 .5,1.3 .5-1.2 .5-.6 .5,2.7 .5,.6 .5-.8 .5-1.8 .5,1.6 .5,0 .5-3 .5,3.9 .5-2.8 .5,2 .5,1.9 .5-2.4 .5,4.9 .5-6.3 .5,.6 .5,1.7 .5,.2 .5-1.1 .5-1.7 .5,2.4 .5-.6 .5,1.8 .5,.4 .5,2.8 .5-4.7 .5-.2 .5,.2 .5-1.3 .5,1.4 .5,2.9 .5-.1 .5,2 .5-2.1 .5-2 .5,2.7 .5-4.4 .5,.8 .5-1.2 .5,.7 .5,2 .5-1.3 .5,.4 .5-.2 .5,1.8 .5-.1 .5,2.8 .5-3.2 .5,.7 .5-3.1 .5,5.2 .5-2 .5-1.4 .5,1.5 .5,2 .5-2.3 .5-1.2 .5,.5 .5,1.4 .5-1.9 .5-1 .5,2 .5-3.2 .5,2.7 .5,1.7 .5,.4 .5,.4 .5-.6 .5-1.4 .5-1.3 .5,1.1 .5,4.3 .5-5.2 .5,2.5 .5,1 .5,1 .5-1.9 .5-4.5 .5,3.9 .5,.1 .5-1.4 .5-.4 .5,4.2 .5-.8 .5-.5 .5-2.7 .5-.2 .5,3.7 .5-1.7 .5,1.6 .5,1.1 .5-1.1 .5-3 .5,6 .5-6.1 .5,2.3 .5-2.1 .5-2.3 .5,1.3 .5,.3 .5,.2 .5,3.4 .5-2.9 .5,1.5 .5-.6 .5-2 .5,2.5 .5-1.1 .5,2.7 .5-2.6 .5-.8 .5,5.8 .5-3 .5-.6 .5-2.1 .5,2.7 .5-1.7 .5,.5 .5,2.1 .5-1.2 .5,.1 .5,.8 .5-2.6 .5,2.4 .5,.3 .5-.3 .5-1.5 .5,.8 .5,1.4 .5,.4 .5-.3 .5-.9 .5,4 .5-6.5 .5,3.5 .5-.7 .5-.6 .5-1.8 .5,3.8 .5-4.6 .5,4.9 .5,1.5 .5-4.2 .5,2.4 .5,.4 .5,1.1 .5-6 .5,2.8 .5,.5 .5-.5 .5,1.7 .5-3.3 .5,4.6 .5-2.5 .5,1 .5-.4 .5-1 .5,1.1 .5,1 .5-.6 .5-2.4 .5,1.8 .5-.5 .5,0 .5,1.4 .5-.4 .5,.2 .5-.1 .5-2.2 .5,2.7 .5-3.7 .5,.1 .5,1.4 .5,1.9 .5-.1 .5-.5 .5,.7 .5-.4 .5-4.7 .5,5.8 .5-5 .5,3.7 .5,2 .5-4.3 .5,4 .5-1 .5,.3 .5-2.3 .5,1.4 .5-.1 .5-1.5 .5,1.1 .5,3.7 .5-5.9 .5,.4 .5-1.5 .5,4.4 .5-.7 .5-1.7 .5-.5 .5,2.6 .5-1.4 .5,2 .5,1.8 .5-3.7 .5-1.1 .5-1.1 .5-.6 .5,4.3 .5-2.4 .5,.1 .5,2.5 .5-6.1 .5,2.5 .5,2.5 .5-1.8 .5-.6 .5,2.6 .5-4.2 .5,.9 .5-.4 .5,.9 .5-.5 .5,1.9 .5,2 .5-3.7 .5,3.6 .5-1 .5,1 .5-.5 .5,.4 .5-.3 .5,2.7 .5-.7 .5-2.8 .5-1.5 .5,2.6 .5,1.5 .5,1 .5-3.4 .5,1.5 .5,0 .5-.7 .5,1.4 .5-1.6 .5,1.9 .5,1.7 .5-.9 .5-1.7 .5-.5 .5-1.9 .5-.2 .5,2 .5,2.6 .5-.1 .5-2.2 .5,2.5 .5-.1 .5-.7 .5-.8 .5,0 .5-.4 .5,2.4 .5-2.5 .5,2.4 .5-.4 .5-1.1 .5,.7 .5,2.1 .5-.5 .5-1.6 .5,1.5 .5,.6 .5,.1 .5-2.7 .5,.6 .5-1.6 .5,2.1 .5-1.2 .5-1 .5,.7 .5-.5 .5,2 .5-2.8 .5-1.4 .5,1.3 .5-.6 .5,.3 .5-1.1 .5-3.2 .5-1.4 .5-8.2 .5-12.7 .5-9.3 .5,9.2 .5,12.3 .5,7.1 .5,2.6 .5-.8 .5-3.3 .5-6 .5-4.5 .5,5.4 .5,7.3 .5,5 .5,.3 .5,2.9 .5,1.1 .5-.8 .5,.2 .5,.1 .5,.1 .5,.1 .5,1.3 .5-2.3 .5-.8 .5,2.4 .5-1.4 .5-1.1 .5,.2 .5,1.8 .5-.2 .5-.3 .5,1.1 .5-2.5 .5,1 .5,2.3 .5-2.8 .5,.2 .5,1.7 .5-1.6 .5,.7 .5-2.9 .5,1.1 .5-2.7 .5-3.2 .5-5.4 .5-4.3 .5,3.9 .5,4.3 .5,2.9 .5,3.2 .5-1.3 .5,1.3 .5,.2 .5,.1 .5-.3 .5,1.5 .5,.5 .5,1 .5-.4 .5-1.4 .5,1.2 .5,.8 .5-.3 .5-2.1 .5,3.4 .5-4.6 .5-1.7 .5,3.2 .5,1.8 .5-1.4 .5-.1 .5-2.5 .5,4.2 .5,.5 .5-3.1 .5,1.8 .5,.7 .5-.8 .5-.6 .5,.3 .5-1.8 .5,1.9 .5,.3 .5-1.4 .5,1.1 .5,.3 .5-.2 .5,.2 .5,.8 .5-2.8 .5-3.4 .5-2.4 .5,3.4 .5,.3 .5,2.2 .5,1.2 .5-.7 .5,.1 .5,.8 .5-.6 .5-1.3 .5-2.2 .5,1 .5-1.7 .5-1.2 .5-2.2 .5-2 .5-.6 .5,.8 .5,1.5 .5,2.1 .5,1.9 .5,.6 .5,1.2 .5,1.1 .5,1.1 .5,1.1 .5-.4 .5,1 .5,.4 .5,.5 .5,.4 .5-1 .5-.9 .5-.5 .5,.7 .5-3.1 .5,2.9 .5,1 .5-1.8 .5-.7 .5,0 .5,1.4 .5-1.5 .5-2.8 .5-3.1 .5-8.4 .5-5.8 .5,6.1 .5,9.3 .5,4.8 .5,1.2 .5,4.3 .5-2.3 .5,.7 .5,1.1 .5-.1 .5,0 .5,3 .5-3.4 .5-2.3 .5-.7 .5,.8 .5,.5 .5,.2 .5-.3 .5-1.5 .5,.1 .5-1 .5,2.2 .5-5.1 .5,2.2 .5,1.7 .5-.2 .5,.8 .5-1.8 .5,1.5 .5,3.6 .5-.7 .5-1.5 .5-.1 .5,1.9 .5-1.6 .5,1.3 .5,.2 .5-1 .5,.4 .5,1.1 .5-1.2 .5,.8 .5-2.1 .5-.6 .5,.5 .5-2.1 .5,.6 .5,.6 .5-2.9 .5-.1 .5-.7 .5-4 .5-4.6 .5-12.6 .5-26.3 .5-43.9 .5-32.3 .5,32.5 .5,44.2 .5,26.3 .5,12.7 .5,4 .5,3.9 .5,.9 .5,1.4 .5-1.2 .5,1.4 .5,1.4 .5,0 .5,0 .5-1.1 .5,.3 .5-.7 .5,3.4 .5-1.1 .5-1.5 .5-.2 .5,1.2 .5,1.3 .5,1.3 .5-1.1 .5,1.4 .5-3.8 .5,3.8 .5-1.5 .5-.3 .5,.1 .5-.8 .5,2.7 .5-4.1 .5,1.4 .5,3.8 .5-5.3 .5,2 .5-.7 .5-2.4 .5-1.3 .5,1.6 .5,1.3 .5-.8 .5,2.7 .5-.1 .5-.4 .5-2 .5,4.1 .5,1.1 .5-.8 .5-.7 .5,2 .5-2.3 .5-.9 .5-1.8 .5,.1 .5-1.7 .5-2.2 .5-2.3 .5,1.2 .5,3.5 .5,.8 .5-.7 .5,.1 .5-1.9 .5,3.8 .5-3.9 .5,2.8 .5,1 .5-.3 .5,.9 .5-.6 .5,.5 .5-.9 .5,2.4 .5-1.4 .5,.5 .5-1.7 .5,.1 .5,2.2 .5-.1 .5-.7 .5,.2 .5,2.6 .5-.7 .5-4 .5,.6 .5,3.2 .5-4.2 .5-.7 .5,.6 .5,.4 .5-1.6 .5,1.5 .5,.3 .5,2.7 .5-3.2 .5,5.5 .5-2.6 .5-.7 .5,.3 .5,.1 .5-3.1 .5-.8 .5,.6 .5,1.8 .5-.9 .5,2.7 .5,1.7 .5-1.4 .5-2.4 .5,1 .5,2.1 .5-.7 .5-1.5 .5,3.4 .5-3.9 .5,1 .5,2.7 .5-1.5 .5,1.6 .5,1.4 .5-1 .5,1.5 .5-.3 .5-2.1 .5-.3 .5-.4 .5,3.1 .5-2.8 .5-2.4 .5-.4 .5-.7 .5-3.7 .5-3.7 .5-3.8 .5,3.9 .5,4.4 .5,1.6 .5,1.3 .5,1.9 .5-1.5 .5,.9 .5,2.6 .5,2 .5-2.9 .5-.4 .5,2.1 .5-1.8 .5-.9 .5-3.6 .5-5.5 .5-4.5 .5,3.3 .5,3 .5,3 .5,.6 .5,1.7 .5,.2 .5,1.9 .5-1.9 .5,2.7 .5-2.7 .5,1.8 .5,1.4 .5-2.2 .5-.9 .5,2.2 .5,.7 .5-3.7 .5,.4 .5,2.3 .5-3.6 .5,2.1 .5-1.1 .5-3.3 .5,2.4 .5,3.3 .5-2.5 .5,2.5 .5-2.9 .5,1 .5-1.7 .5,.5 .5-.2 .5,2.9 .5-3.2 .5,1.7 .5,2.2 .5-2.5 .5,.8 .5,1.5 .5,.7 .5-3 .5,.1 .5-1.4 .5-5.1 .5-1.1 .5,2.4 .5,1.1 .5,2.5 .5,1.8 .5-1 .5,1.5 .5,1.9 .5-3.9 .5,1.9 .5,.4 .5,.9 .5,1.2 .5-3.7 .5,2.8 .5-1.1 .5,2.6 .5,1.2 .5-2.9 .5,1.4 .5-1.8 .5,3.3 .5-2.1 .5,.8 .5,2.3 .5-1.3 .5-.6 .5-1.5 .5,1.9 .5,0 .5-4.5 .5,1.4 .5,0 .5-1.9 .5,3.9 .5,1.4 .5-2.8 .5,1.9 .5-1.2 .5-.4 .5-.1 .5,.9 .5,1.1 .5-.1 .5,1.9 .5-3.2 .5,.9 .5,0 .5-.7 .5,.1 .5-1.8 .5,2.4 .5,1.5 .5-3.7 .5,2.9 .5-2.5 .5,1.2 .5-1.4 .5-1.8 .5,1 .5-2.7 .5-1.4 .5,2.2 .5,1.5 .5-.2 .5,1.7 .5,0 .5-1.4 .5,0 .5,3 .5-.6 .5-.4 .5-2.1 .5,2.9 .5-.6 .5-3.1 .5,4 .5-.7 .5-.5 .5,.2 .5,1.2 .5,1 .5-1 .5,2.3 .5-3.4 .5,.8 .5-.5 .5,.4 .5-1.1 .5,2.4 .5-1.2 .5,1.2 .5-1.6 .5,2.7 .5-1.6 .5,1.4 .5,.4 .5,2.5 .5-3.8 .5,2.1 .5,.5 .5,2.3 .5-4.1 .5,.3 .5-.2 .5-2.4 .5,4.4 .5-2.5 .5-1 .5-1.3 .5,3 .5-1 .5-3.6 .5,2.1 .5,.1 .5-.4 .5-.7 .5,1.8 .5,.5 .5-1.1 .5,.3 .5,0 .5-.7 .5,1.8 .5-1.8 .5-.9 .5-2.1 .5,.7 .5-1.8 .5-2.3 .5,3.5 .5,1.1 .5,1.2 .5,3.1 .5-.9 .5-1.9 .5-.2 .5,.6 .5-.7 .5,.4 .5,2.8 .5-1.9 .5,.2 .5,.6 .5,1.9 .5-.5 .5-.9 .5-.7 .5,2.1 .5-1.8 .5,1.2 .5,1 .5-1.2 .5-1.8 .5,.9 .5,.7 .5,2.3 .5-3.2 .5-1.2 .5,1.4 .5-.6 .5-1.6 .5-.8 .5,1.5 .5-.5 .5,.8 .5-.8 .5-2.1 .5,.9 .5,1.5 .5-3.1 .5,.2 .5,2.2 .5,2.7 .5-3.2 .5,1.6 .5-1 .5-1.4 .5,1.9 .5-.8 .5,1.2 .5-.4 .5-1 .5-.6 .5,.7 .5,2.7 .5-1.3 .5-1.2 .5-1.9 .5,4.2 .5-.8 .5-2.7 .5,1.5 .5,.9 .5-1.6 .5,.6 .5-2.4 .5-1.9 .5-.9 .5,2.4 .5,1 .5,1.7 .5-2.2 .5,2 .5,1.5 .5-2.3 .5,1.4 .5,.9 .5-1.1 .5,.4 .5-.8 .5,1.6 .5-2.9 .5,1.8 .5,.8 .5,2.3 .5-2.7 .5,.7 .5,.3 .5-1 .5,2.4 .5-4.2 .5,4 .5-3.4 .5-1.2 .5,3.7 .5-1.5 .5,.8 .5,.3 .5-.7 .5,2 .5,.9 .5-3.1 .5,.2 .5-3.6 .5-1.1 .5,3.1 .5,3.3 .5-.5 .5,.3 .5,.7 .5-.3 .5-2.3 .5,1.4 .5,1.1 .5,.4 .5-3.8 .5,2.7 .5,.2 .5-1 .5,.4 .5-.6 .5-.8 .5,.2 .5,1.8 .5-.2 .5-3.2 .5,3.4 .5-3 .5,.6 .5-1.8 .5,0 .5,1.2 .5-3.1 .5,2.6 .5-1.1 .5-.2 .5,2.3 .5,1.9 .5-.9 .5-1.8 .5-1.3 .5-.7 .5,.5 .5-1 .5,3.4 .5,0 .5,1.7 .5-3.9 .5,2.2 .5-2.5 .5,1.3 .5,.2 .5-1 .5,.5 .5-1 .5,2.6 .5,1.3 .5-4 .5,1.6 .5-.3 .5,1.7 .5,1.3 .5-3.9 .5,3.8 .5-2.1 .5,2.5 .5-1.3 .5,1.9 .5-3.2 .5,2.2 .5-1.2 .5,.5 .5,.5 .5,2.4 .5-2.2 .5-.5 .5-.9 .5,.8 .5-1.9 .5,1.6 .5-1.2 .5,.8 .5-.7 .5-2 .5-2.8 .5-3.2 .5-3.4 .5-4.7 .5-4.8 .5-2.7 .5,2.9 .5,5.3 .5,5.3 .5,3.7 .5,3.2 .5,1.8 .5,3.5 .5-.7 .5,1.3 .5,2.2 .5-4.1 .5,.7 .5,.1 .5,.7 .5,0 .5-.8 .5,.8 .5-3.1 .5,.3 .5,2.8 .5-1 .5-2 .5-.9 .5-1.8 .5,2.5 .5,2.7 .5,.6 .5-2.3 .5,4.1 .5-1.3 .5,.9 .5-1.3 .5-1.4 .5,2.6 .5-.4 .5-2.2 .5,1.8 .5,.3 .5,0 .5-1.7 .5-.2 .5,1.4 .5,.3 .5,1.6 .5-1.4 .5-.1 .5,.8 .5,.3 .5-1.2 .5-3.3 .5,3.2 .5,.7 .5-4.1 .5,2.5 .5,.6 .5,.1 .5-3 .5,1.4 .5-.1 .5,1.8 .5,.1 .5-1.5 .5-.2 .5,2 .5-1.1 .5-.2 .5-1.8 .5,1.9 .5-.1 .5,.9 .5-2.5 .5,2.2 .5-1.2 .5,3.7 .5-3.6 .5,2.3 .5-2.8 .5,3.4 .5-3.7 .5-1.5 .5,4.1 .5-2.8 .5,.8 .5,.8 .5-.8 .5,0 .5,0 .5,.7 .5-.7 .5-1.8 .5,3 .5-.9 .5-2.2 .5,2.9 .5,.3 .5,.7 .5,.6 .5-2.3 .5,.9 .5-2 .5,3.1 .5-3.4 .5,.2 .5,.8 .5,.2 .5,.4 .5-1.4 .5-1.6 .5,.7 .5,1.1 .5,1.2 .5-2 .5,2.5 .5-1.8 .5,2.5 .5,.7 .5-2.1 .5-.7 .5,.5 .5,.1 .5,.3 .5-1.4 .5,.5 .5-.2 .5-.3 .5-.1 .5,.3 .5,2.1 .5-1.1 .5-.5 .5,2.6 .5,.5 .5-3.1 .5,2.6 .5-.1 .5-3.5 .5,1 .5,.7 .5,2.9 .5-2.1 .5-.1 .5,1.3 .5-.5 .5,1.2 .5-1 .5-1.9 .5,2.6 .5-2.3 .5-1 .5-.9 .5,2.7 .5,2.3 .5-3.9 .5-.7 .5,2.1 .5-1.7 .5,1 .5,3 .5-1.7 .5,.5 .5,.2 .5-3 .5,1.1 .5,.6 .5-1 .5,.7 .5-1.8 .5,.9 .5-.5 .5,0 .5,.7 .5-1.5 .5,.8 .5-.1 .5,1.4 .5-1.5 .5,1.8 .5-.8 .5,.4 .5,3.1 .5-3.1 .5,1.5 .5-1.3 .5-1.4 .5,1.4 .5,.9 .5-1.1 .5,2.1 .5-2 .5,.9 .5-1.1 .5-1.2 .5-.2 .5,1.9 .5,.6 .5-1.4 .5-2.4 .5,1.1 .5,1.5 .5-.5 .5-.4 .5,.4 .5-1.4 .5,1.8 .5,.7 .5,.3 .5,2.5 .5-3.6 .5-1.1 .5,3.1 .5-.7 .5,0 .5,.5 .5-1.1 .5,.4 .5,1.4 .5-1.9 .5,.3 .5,.4 .5,.9 .5-1.7 .5-.5 .5,1.8 .5-3 .5,.6 .5-.2 .5-.6 .5-1.6 .5,.2 .5,.1 .5,1.9 .5-2.5 .5,2.4 .5,1 .5,.4 .5-1 .5,0 .5,1.2 .5-1.1 .5,1.7 .5-.2 .5,.1 .5,.7 .5-2.6 .5-.4 .5,.1 .5-.2 .5,3.1 .5-.3 .5-1.2 .5,0 .5-.1 .5,0 .5-1 .5,1.8 .5-.4 .5-.8 .5,.5 .5,1.1 .5-.7 .5-.6 .5-.1 .5,2 .5-.2 .5-.5 .5,.8 .5-.1 .5-.8 .5,.4 .5,.3 .5-2.5 .5,2.2 .5-.5 .5,.4 .5-.6 .5,1.5 .5-2.1 .5,2.7 .5-3.8 .5,.8 .5,1.1 .5-.3 .5-2.8 .5,1.9 .5-.7 .5,2 .5,.1 .5-3.3 .5,2.4 .5,.3 .5-.8 .5-1.3 .5,.1 .5-.2 .5-.2 .5,2.4 .5,.2 .5-2.2 .5,.1 .5,1.6 .5-1.4 .5,1.1 .5-.5 .5-.8 .5-1.5 .5,1.8 .5,1.1 .5-1.8 .5,3.1 .5-1.7 .5,.1 .5-.1 .5-.1 .5,1.2 .5-.3 .5-.9 .5,1.3 .5-1.4 .5,1.4 .5-.9 .5,.8 .5,.1 .5,.2 .5,1.6 .5-3.4 .5,.7 .5,3.6 .5-1.4 .5,1 .5-3 .5,.5 .5,1.5 .5-3.2 .5,1.9 .5-.3 .5,.7 .5-1.3 .5,.7 .5,0 .5-1.9 .5,1.3 .5,.8 .5,0 .5-.6 .5-.9 .5-.5 .5,.3 .5,.9 .5,.6 .5-.9 .5,.4 .5,0 .5-.4 .5-.8 .5,.7 .5,1.7 .5-2.8 .5,1.9 .5-1.3 .5-1.5 .5-1 .5,1.9 .5,.9 .5,.2 .5,.4 .5-.9 .5,.5 .5-.2 .5,1.5 .5-1.4 .5,.5 .5,1.3 .5-1 .5,1.1 .5-1.4 .5,1.7 .5-.5 .5-1.1 .5-.8 .5,.9 .5,.8 .5,1.6 .5-2.1 .5-1.2 .5,1.2 .5-1.3 .5,.1 .5,2 .5-.5 .5-1.1 .5-.9 .5-.4 .5,1.3 .5-.8 .5-.2 .5-.4 .5-.3 .5-1 .5,0 .5,.2 .5-.7 .5,1.7 .5-.6 .5,1.8 .5,.3 .5,.8 .5,.6 .5-.8 .5,1.9 .5-1.8 .5,1.5 .5,.1 .5,0 .5-.5 .5-1 .5,1.7 .5-.6 .5-1.3 .5,2.1 .5-1.5 .5-.7 .5,1.1 .5,.1 .5-2.9 .5,2.3 .5-.8 .5-.3 .5,1.7 .5,1.1 .5,.8 .5-2.4 .5-.3 .5,2.5 .5-1.4 .5,0 .5-1.5 .5,1.3 .5,1.5 .5-.8 .5-.6 .5-1.5 .5,1.9 .5,.1 .5,.9 .5-1.9 .5,1.1 .5-.4 .5,2 .5-1.6 .5,.9 .5-.3 .5-1.1 .5-1 .5,1 .5-.1 .5-.5 .5,.5 .5-1.6 .5,1.5 .5-1.3 .5,1.1 .5-1.2 .5-1.7 .5,1.4 .5,.4 .5,1.6 .5-1.6 .5,.9 .5,.4 .5-.7 .5,.4 .5,.5 .5-.7 .5,.3 .5,1.4 .5-1.8 .5-.7 .5,2.3 .5-.3 .5-.7 .5-.3 .5,1.8 .5-.5 .5-.7 .5,1.6 .5-.9 .5-.4 .5,.6 .5-1 .5,.5 .5,1.1 .5-.7 .5-.4 .5-.7 .5,1.1 .5-.5 .5,1.1 .5-2.3 .5,2.4 .5,0 .5-1.8 .5,0 .5,.6 .5-.4 .5-1.3 .5,.7 .5,1 .5-.4 .5,1.2 .5-2.5 .5,1.4 .5,.9 .5-1.1 .5,.3 .5-.6 .5-.7 .5,.9 .5,.6 .5-.1 .5-2.8 .5,1.5 .5-3 .5,1.7 .5-1 .5,1.4 .5-.6 .5,.4 .5-1.2 .5,1.5 .5,1.8 .5-1.7 .5-.8 .5-.5 .5,1.9 .5-1.1 .5-1 .5,2.4 .5-1.3 .5,2.3 .5,.2 .5-1.7 .5,2.1 .5-2 .5,1.2 .5,.5 .5-.6 .5-.5 .5,1 .5-.5 .5-.2 .5-.3 .5,2.3 .5-2.9 .5,2.4 .5,.7 .5-.8 .5-.4 .5-.9 .5,1.9 .5,0 .5-1.4 .5-.7 .5,.8 .5-1.7 .5,1 .5-1.4 .5,.7 .5,.4 .5-.3 .5,.7 .5,.7 .5-.9 .5,.8 .5-1.2 .5,1.9 .5-1 .5,.4 .5-.3 .5-1 .5-.7 .5,1.2 .5-.2 .5,.6 .5-3 .5,2.2 .5-1.4 .5-.3 .5,.9 .5,.3 .5,0 .5,.4 .5,2.1 .5-2.6 .5,1.4 .5-.9 .5,.9 .5-.3 .5,1.1 .5,0 .5-1.2 .5,.1 .5-.1 .5,.5 .5-.6 .5,.8 .5,1.4 .5-.8 .5-.3 .5-2.4 .5,1.1 .5,.5 .5-1.8 .5,1.3 .5,1.4 .5-1.4 .5,.1 .5-.1 .5,.1 .5-.7 .5,1.2 .5,.6 .5-1.7 .5,1.5 .5,.4 .5-1.9 .5,1.2 .5-.8 .5,.4 .5,1.4 .5-2.3 .5,1.4 .5-1.2 .5,1.9 .5-1 .5,.1 .5-.2 .5,.3 .5,.4 .5-.5 .5-1.1 .5-.3 .5,.4 .5-.2 .5,1.2 .5-.3 .5,.3 .5,.6 .5,.1 .5-2.1 .5,.9 .5-.9 .5,1.7 .5-.7 .5,1 .5-.1 .5-1 .5,2.7 .5-3.4 .5,3 .5-1.2 .5,.1 .5-1.4 .5,2.1 .5,1.1 .5-3.4 .5,.1 .5,1.2 .5-1.3 .5,1.9 .5-.7 .5-.5 .5,2.4 .5-2.8 .5,3.2 .5-2.2 .5,.6 .5-.2 .5-1.8 .5,1.5 .5-.3 .5,.4 .5,.7 .5-.3 .5-.2 .5-1.5 .5,1 .5,1.3 .5-1.8 .5,.4 .5,.1 .5-.8 .5,1.4 .5-1.2 .5,.7 .5,0 .5-.5 .5,.8 .5-.8 .5,1.1 .5-.1 .5,.3" fill="none" stroke="#F14040" stroke-width="2.2" stroke-linejoin="round"/>
<path d="M128.7,2196.6l.5-.1 .5-.1 .5,1.5 .5-.3 .5,.2 .5,.3 .5,.2 .5,0 .5-.6 .5,1.2 .5-.1 .5-.5 .5-1.1 .5,1.1 .5,.2 .5-.9 .5,.6 .5,.5 .5-.8 .5,1 .5,.3 .5-.1 .5-1.2 .5,1.6 .5-1.2 .5,.3 .5,.9 .5-.2 .5-.2 .5-.2 .5,.4 .5-.4 .5,.7 .5,.3 .5-.2 .5,.3 .5-.2 .5,.2 .5,.5 .5-.6 .5,.7 .5-.1 .5,1.3 .5-1.3 .5,.2 .5-.6 .5,1.9 .5-1.2 .5-.4 .5,.7 .5,.1 .5,.1 .5-.2 .5,.5 .5,1 .5-1.1 .5,1.4 .5-.7 .5-.5 .5,.8 .5,.5 .5-.9 .5,0 .5,.9 .5,.2 .5-.8 .5,.1 .5-1 .5,1.3 .5-1.1 .5,.3 .5,.7 .5,.1 .5,.2 .5-.2 .5,.9 .5,0 .5-.1 .5-.1 .5,.5 .5,.4 .5-.2 .5,.3 .5,.2 .5,.7 .5-.8 .5-.8 .5,.4 .5,1 .5-1.8 .5,.2 .5,1 .5,1 .5,.1 .5,.5 .5-1.1 .5,1 .5,0 .5,.5 .5-.4 .5,.3 .5,.1 .5-.2 .5-1.3 .5,.4 .5-.2 .5,.1 .5,0 .5,.7 .5-.6 .5-.9 .5,1 .5,0 .5-1.6 .5,1.9 .5-.3 .5-.6 .5,.3 .5-.5 .5,1.1 .5,.1 .5,.3 .5-.4 .5,0 .5,1.5 .5,.2 .5-1.7 .5,.2 .5,1.1 .5-.1 .5,.5 .5-.9 .5-.2 .5-.3 .5,1 .5-.3 .5-.7 .5,.6 .5-1.1 .5-.2 .5,1.1 .5,.2 .5-.4 .5-.3 .5,.6 .5-1.9 .5,1.9 .5-1 .5,1.2 .5,.5 .5,.4 .5,.1 .5,.3 .5-.1 .5,.2 .5-.4 .5,1 .5,0 .5,0 .5-.2 .5,0 .5,0 .5,.7 .5,.5 .5-.5 .5,.8 .5-1.1 .5,1.8 .5-1.1 .5,0 .5,0 .5,0 .5,.3 .5,.1 .5,.7 .5,.3 .5-.5 .5-.6 .5,1.7 .5-.7 .5,0 .5-.3 .5,.3 .5-.5 .5-.6 .5,.5 .5-1.5 .5,1.7 .5-1.3 .5,.5 .5-.3 .5,.2 .5-.3 .5,.6 .5,.8 .5-.6 .5-.5 .5,1.6 .5-.8 .5,.9 .5-.6 .5,.5 .5-.2 .5,.4 .5-.5 .5,.9 .5-.1 .5-.9 .5,.1 .5,.2 .5,1 .5-.2 .5,.4 .5-.8 .5,1.1 .5-.9 .5,.9 .5-.6 .5,0 .5,.5 .5,.7 .5-1.1 .5,.1 .5,.9 .5-.8 .5,.2 .5-.2 .5,.7 .5-.4 .5,0 .5,0 .5-.3 .5-.5 .5,.3 .5,.4 .5-.4 .5,.4 .5,.3 .5-.7 .5,1 .5,.1 .5-.4 .5,.4 .5,.7 .5-.9 .5,.7 .5,1.4 .5-.8 .5,1.1 .5-.4 .5,.1 .5,.1 .5-.6 .5-.6 .5,.5 .5,.6 .5-1.1 .5,.3 .5-1.4 .5,.9 .5-.3 .5,.6 .5-1.1 .5-.3 .5-.5 .5,1 .5-.2 .5,.7 .5-1 .5,.3 .5,.1 .5,.4 .5-.8 .5,.4 .5,.8 .5-.5 .5,.6 .5,.2 .5,.3 .5-.4 .5-1.1 .5,1.6 .5-.6 .5,.7 .5-.2 .5-1.3 .5,.1 .5-.1 .5,.3 .5-.3 .5-.3 .5-.8 .5,1.2 .5,.1 .5-.5 .5,1.1 .5,.3 .5-1.5 .5,1.5 .5-.2 .5,.3 .5-1.2 .5,1.5 .5,.2 .5-.9 .5,1 .5,0 .5,0 .5-.3 .5,1 .5-.5 .5-.1 .5,.5 .5-.8 .5,.6 .5,1.2 .5-1.7 .5,.5 .5,.5 .5-.1 .5-.8 .5,.9 .5-.4 .5,1 .5,0 .5-.2 .5,.7 .5,0 .5-1.1 .5-.1 .5,.2 .5,.1 .5-.5 .5-.8 .5-.9 .5,.1 .5,1.4 .5,.5 .5-.9 .5,.3 .5,.7 .5,1.1 .5-.8 .5,.3 .5-.7 .5-.7 .5,1.7 .5-1.1 .5,.8 .5-1 .5,1.2 .5-1.1 .5-.4 .5-.3 .5,1.1 .5-.8 .5,.2 .5-.2 .5-.3 .5,.4 .5-.8 .5,1 .5-1.3 .5,1.1 .5,1 .5-1.5 .5,.8 .5,.4 .5-1.6 .5,1.4 .5,.5 .5-.2 .5,.4 .5-.3 .5,.8 .5-.6 .5,1 .5-1.1 .5,1 .5,.4 .5-.7 .5,.5 .5,.1 .5,1.6 .5-1.5 .5,2 .5-1.3 .5-.3" fill="none" stroke="#1A6FDF" stroke-width="7.0" stroke-linejoin="round"/>
<path d="M321.2,2218.0l.5,2 .5-1.3 .5-.3 .5,.2 .5,.5 .5,1.1 .5-1.4 .5,.8 .5-.3 .5-.1 .5-.1 .5,.6 .5-.9 .5-.4 .5,1 .5-1.3 .5,.4 .5,.5 .5-1.2 .5,.1 .5-.5 .5-.3 .5,0 .5-.1 .5,1.8 .5-.6 .5,.6 .5-.3 .5-.2 .5,.1 .5-.5 .5-.3 .5,.2 .5-1.6 .5,1.4 .5-1 .5-.5 .5-1.3 .5-1.6" fill="none" stroke="#1A6FDF" stroke-width="5.8" stroke-linejoin="round"/>
<path d="M339.2,2216.6l.5-.5 .5-1.3 .5-1.6 .5-.8 .5,.8 .5,1.2 .5,.5 .5,.3 .5,0 .5-.3 .5-.8 .5,.5 .5-.6 .5,.1 .5,0 .5-.6 .5,.6 .5,.1 .5,.3 .5-.2 .5,0 .5-.2 .5,.3 .5,.1 .5-.4 .5,.1 .5,1 .5,.6 .5-.2 .5,.3 .5,.9 .5-.1 .5,.7 .5-.3 .5,.8 .5,.8 .5-.4 .5,.4 .5-.2 .5,.8 .5-.4 .5-.8 .5-.6 .5-1.7 .5-2.7 .5-5.9 .5-12.2 .5-19.9 .5-14.8 .5,14.1 .5,19.3 .5,11.7 .5,5.5 .5,2 .5,1.7 .5,.5 .5,.1 .5,.7 .5,.3 .5,.1 .5-.3 .5,0 .5,0 .5-.2 .5-.1 .5-.6 .5,.6 .5-1.2 .5,.2 .5-.9 .5,.5 .5,.1 .5-.4 .5,.4 .5-.2 .5,.6 .5-.1 .5,.2 .5,1.4 .5-.1 .5,.1 .5-.4 .5,0 .5-.6 .5-.7 .5-1.1 .5-2.4 .5-5.2 .5-11.6 .5-24.6 .5-41 .5-30.3 .5,29.8 .5,40.7 .5,24.3 .5,11.5 .5,5.2 .5,2.7 .5,1.3 .5,1.1 .5,.9 .5,.7 .5,.4 .5,.3 .5,.5 .5,.2 .5-.6 .5,.1 .5-.1 .5-.3 .5,.5 .5-.9 .5-.4 .5,.6 .5-.8 .5,.2 .5-.7 .5-.8 .5-1.5 .5-3.7 .5-6.8 .5-4.9 .5,5.2 .5,7 .5,4 .5,1.9 .5,.6 .5,.7 .5-.1 .5-.5 .5,1 .5-.1 .5,0 .5,.3 .5-.3 .5,.2 .5,1.2 .5-.1 .5,.1 .5-1 .5,0 .5,.6 .5-.8 .5,.2 .5,.1 .5-.3 .5,0 .5-.4 .5-1.7 .5-1.5 .5-2.3 .5-3.8 .5-4.8 .5-5.6 .5-5.7 .5-2.5 .5,2.6 .5,5.5 .5,5.7 .5,4.9 .5,3.2 .5,2.5 .5,1.6 .5,.9 .5,1.4 .5,.9 .5,.4 .5,.7 .5,1.5 .5-.3 .5,.8 .5-.7 .5,1.5 .5-.3 .5-1 .5-.1 .5-.7 .5-.3 .5-.6 .5-1 .5-.7 .5-1 .5-.8 .5-3 .5-3.5 .5-3 .5,3.1 .5,4.1 .5,3.1 .5,1.1 .5-.4 .5-.2 .5,.5 .5-.4 .5-.5 .5-.7 .5-.1 .5-.8 .5-1.3 .5-.9 .5-.9 .5-1.5 .5-2.6 .5-3.7 .5-4.7 .5-4.9 .5-1.9 .5,2.9 .5,5.4 .5,5.4 .5,3.9 .5,2.7 .5,1.7 .5,.9 .5,.2 .5-.2 .5,.7 .5-.7 .5,.1 .5,.3 .5,.3 .5,0 .5,0 .5,1 .5,.7 .5,1.1 .5,.2 .5,.5 .5,.7 .5-.6 .5,.1 .5-.2 .5-.1 .5-1.2 .5-.7 .5-1.1 .5-2.3 .5-3.8 .5-7.9 .5-16.8 .5-28 .5-20.5 .5,20.8 .5,28.2 .5,17.1 .5,8.1 .5,3.7 .5,1.6 .5,.8 .5,1 .5,.2 .5,.6 .5,.3 .5,.2 .5-.4 .5-.2 .5-.4 .5,.1 .5-1.3 .5-.4 .5-.6 .5-.6 .5,.8" fill="none" stroke="#1A6FDF" stroke-width="4.6" stroke-linejoin="round"/>
<path d="M469.2,2217.7l.5-.6 .5-.6 .5,.8 .5-1.2 .5-.1 .5,.7 .5-.8 .5,1.1 .5,.2 .5,.3 .5,1.2 .5,.8 .5-.7 .5-.9 .5-1.7 .5-.9 .5,2.5 .5,3.6 .5,1.8 .5,1.1 .5,1 .5,.2 .5,.7 .5-.4 .5-.2 .5,.3 .5-1.8 .5,.3 .5-.5 .5-.5 .5,.3 .5-1.3 .5,.3 .5-.1 .5,.4 .5-.3 .5-.6 .5-1.3 .5-3.5 .5-5.8 .5-4.4 .5,4.4 .5,5.7 .5,3.4 .5,1.9 .5,1 .5-.7 .5-.4 .5,1.4 .5-1.3 .5,.1 .5-.4 .5-.1 .5-.5 .5-.3 .5,1.2 .5-2.4 .5,.8 .5,.8 .5-1 .5,1.6 .5,.2 .5-1.4 .5,.6 .5-.9 .5,.5 .5-.3 .5-.7 .5,.2 .5-1 .5,.2 .5,.4 .5,.5 .5-.8 .5,.2 .5,.7 .5,.6 .5,.3 .5,.7 .5,0 .5-.1 .5-.7 .5-.5 .5-.9 .5-2.1 .5-1.4 .5,.3 .5,.8 .5-.3 .5,.9 .5-.4 .5-1.9 .5-.9 .5,1.2 .5,.4 .5,.5 .5,.4 .5,0 .5,1.3 .5,.9 .5,.3 .5,0 .5,2.1 .5-.5 .5,.4 .5-.2 .5,.7 .5,1.2 .5-.6 .5,.6 .5-.8 .5,.4 .5-.1 .5-.2 .5-.9 .5,1 .5-1.6 .5-.7 .5,.8 .5,.2 .5-.5 .5-.9 .5,.4 .5,.4 .5,.4 .5-.5 .5,.5 .5-1 .5,.4 .5-2.1 .5-1.8 .5-1.5 .5,1.3 .5,2.3 .5,.3 .5,.2 .5-.2 .5,1.3 .5-.7 .5-.1 .5,.6 .5-1 .5-.5 .5,0 .5,.3 .5,.9 .5-.4 .5-.3 .5,.8 .5-.2 .5,.7 .5-.1 .5,.5 .5,1.5 .5-1 .5,.6 .5,.2 .5-.7 .5,1 .5-.3 .5-1.8 .5,1.2 .5-1.4 .5,.5 .5,.5 .5-.6 .5,.3 .5,.4 .5,.4 .5,0 .5-.5 .5,.3 .5-.2 .5,.5 .5-.8 .5,.2 .5-.5 .5-1.1 .5-2.3 .5-1.9 .5,2.1 .5,2.4 .5,1.5 .5-.3 .5,.3 .5,.2 .5-1.1 .5-.4 .5-.1 .5,.2 .5,.3 .5,.2 .5-.3 .5,.2 .5-.1 .5-.5 .5-.9 .5,.7 .5-.1 .5-.3 .5,.8 .5-.6 .5,.5 .5-.2 .5,.7 .5,.6 .5,.2 .5,1.1 .5-.2 .5,.7 .5,.2 .5-.3 .5-.5 .5,0 .5,0 .5-1.4 .5-.5 .5,0 .5-.3 .5-.9 .5-1.2 .5-1.3 .5,1.5 .5,1.5 .5-.6 .5,1.8 .5,1 .5,0 .5,1.4 .5-2 .5,1.4 .5,.6 .5-.1 .5-.7 .5,.8 .5-1 .5,.3 .5-.4 .5-.5 .5-1.2 .5-1.4 .5-3.3 .5-2 .5,2 .5,2.7 .5,1.6 .5,1.2 .5-.4 .5,1 .5-.9 .5,0 .5,1 .5,0 .5,.4 .5,.5 .5,.1 .5-.6 .5,.8 .5,.3 .5-.9 .5-1.7 .5,.7 .5-.4 .5,.2 .5-.7 .5,.4 .5,.3 .5,.1 .5,.9 .5,.1 .5,1 .5,.4 .5,.3 .5-.7 .5,0 .5-.4 .5,1.5 .5-.3 .5,.4 .5-.3 .5-1 .5,0 .5,.3 .5-.6 .5,.6 .5-.4 .5,.1 .5,.7 .5,1 .5,1 .5-.8 .5-.2 .5,0 .5,1.1 .5,.6 .5-1.2 .5,1 .5,.3 .5-.7 .5-.1 .5-.3 .5-.5 .5,.3 .5-.6 .5-1 .5-1.8 .5-2.4 .5-2.1 .5,1.5 .5,1.8 .5,1.1 .5-.2 .5-.7 .5,.2 .5,.4 .5-.4 .5-.3 .5,.1 .5-.3 .5,.3 .5-1 .5,.4 .5,1.4 .5,.5 .5,.1 .5,.4 .5,0 .5,.1 .5,.4 .5,.8 .5,0 .5-.9 .5,1 .5-1.2 .5,.6 .5,1 .5-.2 .5-.6 .5,0 .5,.2 .5,.1 .5-.7 .5,.1 .5-.5 .5-.4 .5-1.3 .5,.1 .5-.6 .5,0 .5-.3 .5,.6 .5-.6 .5-.2 .5,.2 .5,1.4 .5,.5 .5-.2 .5,.3 .5,.2 .5,.9 .5-.9 .5,.8 .5-.2 .5,.3 .5,.2 .5-.2 .5,.1 .5-.7 .5,0 .5,.3 .5,.9 .5-1.9 .5,.4 .5-.6 .5-.6 .5-.7 .5,.8 .5,.4 .5-1.5 .5,0 .5,1.4 .5-.8 .5,.5 .5,.2 .5-.5 .5,.3 .5-.1 .5-.3 .5,1.3 .5-.2 .5,1.4 .5-1.6 .5,1.1 .5-.2 .5,.5 .5-.5 .5,.6 .5,.9 .5-1.1 .5,1.6 .5-.4 .5-.7 .5,.2 .5-.7 .5,.4 .5-.8 .5,.3 .5,.1 .5-.3 .5-.7 .5-.3 .5-.2 .5-.4 .5,.4 .5-.1 .5,.6 .5-.5 .5-.5 .5,1.1 .5-.4 .5-.4 .5-1.8 .5,.8 .5-.1 .5,.2 .5-.6 .5,1 .5-.9 .5,.1 .5,.6 .5,.5 .5,.9 .5,.7 .5,.8 .5,1 .5,.2 .5-.3 .5,0 .5,.9 .5-.5 .5,.4 .5,.1 .5-.8 .5,.2 .5,.5 .5,.1 .5-.9 .5,.4 .5-.4 .5-2 .5-2.9 .5-2.3 .5,1.7 .5,1.7 .5,1.3 .5,0 .5-.1 .5-1.1 .5-1.1 .5,1.4 .5-.8 .5,.7 .5-.7 .5,.3 .5-.3 .5,.2 .5,.2 .5,.2 .5,.1 .5-.3 .5,.7 .5,1 .5-.1 .5-.3 .5-.1 .5,.5 .5,.6 .5-1.7 .5,1.2 .5,.3 .5,.1 .5,.6 .5-.2 .5,.1 .5,0 .5-.1 .5-.7 .5,.6 .5-.5 .5-.1 .5,.4 .5-.2 .5,.2 .5-.3 .5-.8 .5-.3 .5-1.5 .5-1.8 .5-2.9 .5-3.4 .5-3.3 .5-1.6 .5,2.4 .5,3.9 .5,3.9 .5,3.3 .5,2.2 .5,.9 .5,1.2 .5,.2 .5-.6 .5,1 .5-1.6 .5,.6 .5,.2 .5,.1 .5-.3 .5-.1 .5,.2 .5-.3 .5,.3 .5-.1 .5,0 .5-.4 .5,.9 .5-.4 .5-.6 .5-.3 .5,.2 .5-.9 .5,.5 .5,0 .5,.9 .5-.3 .5-.2 .5,.7 .5-.2 .5-.1 .5,.8 .5-.3 .5-.1 .5,0 .5,.1 .5,1 .5-1.3 .5-.7 .5,.2 .5-.3 .5-.5 .5-.2 .5-1 .5,.1 .5,.8 .5,0 .5-.2 .5,.3 .5,.2 .5-.8 .5,.2 .5,.8 .5-.9 .5,.1 .5,0 .5-.3 .5,.2 .5,.9 .5-.1 .5,.2 .5-.2 .5,.2 .5,0 .5,.6 .5,.5 .5,.3 .5,.3 .5-.8 .5,.5 .5,.2 .5-.8 .5,.5 .5,.4 .5,.4 .5,.3" fill="none" stroke="#1A6FDF" stroke-width="5.2" stroke-linejoin="round"/>
<path d="M759.2,2225.9l.5,.4 .5,.4 .5,.3 .5-.6 .5-.1 .5,.7 .5-.8 .5,.2 .5,.7 .5-.1 .5-.1 .5-1.5 .5,1.1 .5-.7 .5-.1 .5-.1 .5-.7 .5-.1 .5,.5 .5-1.2 .5,1 .5,.4 .5-.5 .5,.4 .5-.2 .5,.8 .5-.1 .5,.1 .5-1.1 .5,1 .5,.4 .5-.5 .5-.4 .5,1.2 .5-.9 .5,.1 .5-.5 .5,1.4 .5-1.2 .5-1.1 .5,1 .5-.6 .5,.2 .5,.8 .5-.8 .5,.4 .5,.4 .5-.5 .5,.4 .5-.3 .5,.4 .5,.7 .5,.5 .5-.4 .5,.8 .5,.1 .5-.4 .5,.5 .5-.2 .5,.7 .5-1.3 .5,.2 .5-1 .5,.4 .5-.5 .5,.3 .5-.5 .5,.3 .5,.1 .5,.2 .5-.3 .5,.4 .5,.9 .5-1.5 .5,1.5 .5,.1 .5,.4 .5-1.5 .5,.6 .5,.5 .5-.8 .5,.9 .5-.7 .5,.3 .5,.4 .5-.6 .5-.7 .5,.3 .5,0 .5,.2 .5-.4 .5-.2 .5-.1 .5-.1 .5,.1 .5-.8 .5-.1 .5,.1 .5-.5 .5-.1 .5-.1 .5,.5 .5,0 .5,0 .5,0 .5-.5 .5,.9 .5-.3 .5-.1 .5-.4 .5,.9 .5,.1 .5,.2 .5,.2 .5-.4 .5,.4 .5-.7 .5-.5 .5,.5 .5,.5 .5,.6 .5-.3 .5,.4 .5-.6 .5-.6 .5,.9 .5-.6 .5,.2 .5-.8 .5,.4 .5-.1 .5,.3 .5,0 .5-.2 .5,.4 .5,1.1 .5,.2 .5,0 .5,1 .5-.1 .5,.2 .5-.2 .5-.5 .5,.4 .5-.4 .5-.9 .5,0 .5-.9 .5-.7 .5-1.5 .5-1.3 .5-1.2 .5,1.2 .5,1.1 .5,1.3 .5,.1 .5,.5 .5-.5 .5-.2 .5,.6 .5,0 .5-.7 .5,.3 .5-.7 .5,.7 .5-.4 .5,.2 .5,.5 .5-.3 .5,.6 .5,.3 .5,.6 .5-1 .5,.3 .5,.1 .5,.9 .5-.3 .5,.9 .5,.2 .5-.6 .5-.1 .5,0 .5,.3 .5-.4 .5-.3 .5-.1 .5,.5 .5-.1 .5-.3 .5-.6 .5,.1 .5,0 .5,0 .5,.4 .5-1.1 .5,.5 .5,.2 .5-1 .5,.3 .5-.2 .5-.3 .5,.3 .5-.2 .5,.2 .5,.5 .5-.2 .5-.1 .5,1.2 .5-.3 .5-.7 .5,1 .5-.8 .5-.6 .5,1 .5,.3 .5-.2 .5-.5 .5,.3 .5,.4 .5,.3 .5-.5 .5,.8 .5-.3 .5,.9 .5,.1 .5-1.1 .5,1.1 .5,0 .5-.3 .5,.3 .5,0 .5-.3 .5,.4 .5-.8 .5,.5 .5,.4 .5-1 .5,.3 .5-.7 .5-.2 .5-.1 .5,.2 .5,.2 .5,.1 .5-.8 .5-.5 .5-.1 .5,0 .5-.2 .5,0 .5-1.2 .5,.9 .5,0 .5-.6 .5,.5 .5-.3 .5,.3 .5,.4 .5,.7 .5-.3 .5,.2 .5,0 .5,.7 .5,.1 .5-.9 .5,.9 .5,.1 .5-.1 .5,.1 .5,0 .5,.4 .5,.1 .5-.5 .5,.3 .5-1 .5,.7 .5-.4 .5,.7 .5-.5 .5,.9 .5-.7 .5,1.1 .5-.1 .5,.4 .5-.2 .5-.3 .5,.5 .5,.3 .5,.1 .5-.4 .5,.3 .5-.4 .5-.7 .5-.4 .5,.1 .5,.3 .5-.5 .5,.1 .5-.6 .5,0 .5-.1 .5,0 .5-.2 .5-.5 .5,.2 .5,.4 .5-.3 .5,.4 .5,.4 .5-.9 .5,.8 .5,.8 .5-.1 .5-.9 .5,1.1 .5-.5 .5,0 .5,.1 .5-.5 .5,.5 .5-1 .5-1.2 .5-1.3 .5-1.6 .5,1.4 .5,1.8 .5,1.9 .5,.6 .5,.3 .5,.1 .5,1 .5-.3 .5,.3 .5,0 .5-.8 .5,.5 .5-.5 .5,.1 .5-.6 .5,.4 .5-.4 .5-.5 .5-.3 .5-.1 .5,0 .5,.1 .5,.3 .5,0 .5,.1 .5-.7 .5,.2 .5,.1 .5,.3 .5,.3 .5-.3 .5,.2 .5-.3 .5-.1 .5,.6 .5-.7 .5-.6 .5,1.1 .5-1 .5,.7 .5,.1 .5,.3 .5,0 .5-.2 .5,.4 .5,.2 .5-.2 .5-.2 .5,1.3 .5-1.2 .5,1.3 .5,0 .5-.7 .5,.3 .5-.8 .5,.1 .5-1.1 .5,.5 .5-.7 .5,0 .5-.6 .5,0 .5,.2 .5-.4 .5-.4 .5,.9 .5-.6 .5-.3 .5,.6 .5,.1 .5-.5 .5,.5 .5,.5 .5,.2 .5,.2 .5-.5 .5-.3 .5,.8 .5,0 .5,0 .5-.4 .5,.5 .5,.1 .5-.1 .5,.2 .5-.1 .5,.1 .5-.5 .5,1 .5,.1 .5-.6 .5-.5 .5,0 .5,.2 .5-.2 .5-.7 .5,.5 .5-.7 .5,1 .5,.3 .5,0 .5,.1 .5,0 .5,.2 .5-.3 .5,0 .5,.5 .5,.4 .5-.5 .5,.9 .5-.5 .5,.6 .5-.6 .5,.2 .5-.9 .5-.6 .5,1.7 .5-1.2 .5,.3 .5,.2 .5,.1 .5-.1 .5,.3 .5,.2 .5,.1 .5-.3 .5,0 .5,0 .5-.8 .5,0 .5,.9 .5-1.4 .5,0 .5,.9 .5,0 .5-.3 .5-.5 .5,.6 .5,.4 .5-1.3 .5,.7 .5-.2 .5,0 .5-.5 .5,0 .5-.5 .5,1 .5-.7 .5,.6 .5,.5 .5-.3 .5-.2 .5,.1 .5,.7 .5-.3 .5,0 .5-.1 .5-.2 .5,.3 .5,.4 .5-.6 .5,.3 .5,.1 .5-.5 .5-.2 .5-.8 .5,.4 .5-.6 .5,.2 .5-.7 .5,.2 .5,.1 .5,0 .5,.2 .5-.2 .5-.3 .5,.1 .5,.9 .5-.5 .5,.3 .5,.1 .5-.1 .5,.9 .5-.2 .5,.3 .5-.1 .5,.4 .5,.3 .5,.3 .5-1 .5,.8 .5-.1 .5-.6 .5,.4 .5,0 .5-.6 .5-.4 .5-.1 .5,0 .5,0 .5-.7 .5,.3 .5,.8 .5-.4 .5,0 .5,.3 .5,.3 .5,.2 .5,.4 .5,.1 .5-.4 .5-.2 .5,.6 .5,.3 .5-.3 .5,.4 .5-.4 .5,.4 .5,.3 .5,.4 .5-.5 .5,.2 .5-.7 .5,.1 .5,.2 .5,.3 .5-.8 .5,0 .5,0 .5,.5 .5-.7 .5,.8 .5,0 .5-.4 .5,.3 .5,0 .5,.5 .5,1 .5-.8 .5,0 .5-.1 .5,.4 .5-.4 .5-.3 .5,.5 .5-.7 .5,.2 .5,0 .5-.2 .5-.7 .5,.7 .5,.1 .5-.2 .5-.7 .5,.9 .5-.4 .5-.3 .5,.2 .5-.4 .5,.1 .5-.7 .5,.5 .5-.5 .5-.5 .5,.7 .5-.1 .5-.6 .5,.3 .5-.2 .5,.4 .5,.8 .5-.9 .5,.6 .5-.2 .5-.2 .5,.6 .5,.3 .5-.3 .5,.3 .5-.1 .5-.3 .5,.2 .5,0 .5-.3 .5-.2 .5,.1 .5-.1 .5,0 .5,1.2 .5-.8 .5,0 .5-.1 .5,.3 .5,.7 .5,0 .5-.2 .5,.2 .5-.3 .5,.2 .5,.1 .5-.2" fill="none" stroke="#1A6FDF" stroke-width="4.3" stroke-linejoin="round"/>
<path d="M128.7,2199.4l.5-1.2 .5-3.5 .5,.8 .5,5.1 .5-2.5 .5-.3 .5-1.2 .5,0 .5,1.7 .5-2.4 .5,5 .5,1.2 .5-6 .5,4.8 .5-3.6 .5,1.6 .5-2.6 .5,1.9 .5,1.9 .5-2.2 .5-1.9 .5,3.8 .5-.1 .5-1.4 .5-.3 .5,3.1 .5-4.1 .5-1.2 .5,6.2 .5-1 .5-1.7 .5,.7 .5,2.7 .5-4.4 .5,3.7 .5-3.7 .5,.7 .5,1.7 .5-1.9 .5,.5 .5,2.8 .5,.2 .5-1.4 .5-.6 .5,0 .5-.6 .5,2 .5-.6 .5,.6 .5-2.6 .5,1.2 .5,5.5 .5-4.6 .5-.8 .5,3 .5,0 .5-3.1 .5,1.1 .5-1.9 .5,1.8 .5,1 .5-.2 .5-3.2 .5,6.1 .5-2.2 .5-4.8 .5,1.2 .5,2.1 .5,2.2 .5,.4 .5-1.6 .5,.2 .5-.1 .5-1.5 .5,3.9 .5,1 .5-.5 .5-1.1 .5,2.6 .5-2.4 .5,.9 .5-4.3 .5,1 .5,4.4 .5-5 .5,2.4 .5-1.1 .5,2.8 .5-3 .5,4.4 .5-1.9 .5-2.5 .5,5 .5-5.5 .5,3.5 .5-.6 .5,2.8 .5-3 .5,.4 .5,.4 .5,4.9 .5-6.5 .5,.5 .5,0 .5,.4 .5-.8 .5,3.4 .5-.5 .5,.3 .5-4.3 .5,2 .5,2.5 .5-3.3 .5-2.5 .5,.5 .5,2.9 .5,3.4 .5,1.3 .5-4 .5,2.8 .5-4.4 .5,3.8 .5-4.2 .5,2.9 .5,.2 .5,0 .5,.5 .5,.5 .5-2.1 .5-1.9 .5,.8 .5,3.4 .5,3.1 .5-.8 .5-2.8 .5-.4 .5-.7 .5,.7 .5,.3 .5-.5 .5,1.3 .5,.2 .5-4.3 .5,3.7 .5,.1 .5-4.9 .5,4.1 .5-1.4 .5-2.1 .5,2.6 .5,2.1 .5,.2 .5,.7 .5-3 .5,.8 .5,.3 .5-1.1 .5,3.2 .5-.7 .5-1.3 .5,3.4 .5-2.1 .5-1.3 .5-1.8 .5,.5 .5,1.9 .5,1.1 .5,.8 .5-1.6 .5,5.5 .5-5.6 .5,3.3 .5-3.6 .5,1.1 .5,.6 .5,.3 .5,1.3 .5-1.3 .5,2.3 .5-2.5 .5,2.9 .5,1.8 .5-5.3 .5,1.4 .5,.1 .5-.2 .5,1.8 .5-2.3 .5,1.4 .5,.1 .5-.9 .5-2.7 .5,3.2 .5,1.7 .5-3 .5,2.7 .5,.4 .5,.2 .5-3.8 .5,3.3 .5,.6 .5-3.9 .5,1.7 .5-1.4 .5,2.9 .5-1.9 .5,.4 .5-.2 .5,.7 .5,.7 .5-2 .5,3.3 .5-3.5 .5,3.9 .5,.5 .5,.6 .5,1.2 .5-4.3 .5-.4 .5,2.5 .5,0 .5-.9 .5-.6 .5-.8 .5-2.3 .5,5.8 .5-2.7 .5-.4 .5-3.6 .5,4.4 .5-1.6 .5-1.9 .5,0 .5,.9 .5,1.4 .5,.6 .5,.4 .5-1.4 .5,3.7 .5,.3 .5-2.6 .5-.3 .5-1.8 .5,2.8 .5-2.4 .5,3 .5-.6 .5,2.5 .5,.5 .5-3.4 .5,1.8 .5-1.5 .5,5.5 .5-2.4 .5-3.2 .5,1.6 .5,1.1 .5,.1 .5-.8 .5-.1 .5-.1 .5-.3 .5-.2 .5-2.4 .5,2.2 .5-1 .5-1.1 .5,1.6 .5,1.8 .5-1.5 .5-3.8 .5,.6 .5,3.1 .5,.4 .5-.6 .5,1.1 .5-2.7 .5,2.5 .5-.7 .5-2.9 .5-.2 .5,4.2 .5,.4 .5,1 .5-2.7 .5,.8 .5-.7 .5-2.9 .5,1.9 .5,1.2 .5-5 .5,4.2 .5,2.2 .5-3.6 .5,.6 .5,1.3 .5-2.6 .5,3.9 .5-1.5 .5,2.5 .5-3.8 .5,1 .5,2.6 .5-1.1 .5-.9 .5,3.8 .5,1 .5-5 .5,2.6 .5-2.4 .5,4.8 .5-6.5 .5,4.3 .5-1.2 .5-.8 .5,.5 .5,1.4 .5,.6 .5-2.3 .5-.8 .5,3.7 .5-1.7 .5-.9 .5,4.4 .5-1.8 .5,2.1 .5-.5 .5-3.7 .5,2.7 .5-2.1 .5-.9 .5,1.1 .5-2 .5-.4 .5,1.8 .5-.6 .5-2.5 .5,2 .5,4.1 .5-1.9 .5,2 .5,.3 .5-1.6 .5-3 .5,2.5 .5-1.8 .5,2.8 .5-1.2 .5,3 .5-3.4 .5-1.7 .5,1.7 .5-1.3 .5,1 .5,1.7 .5,1.7 .5-2.5 .5-2.5 .5,.3 .5,.8 .5-.9 .5,2.5 .5,1.3 .5-6.6 .5,2.7 .5,1.8 .5-1.6 .5,1.3 .5,.1 .5-1.6 .5,2.1 .5,2.7 .5-4.1 .5,3.6 .5-3.1 .5-2.8 .5,4.5 .5-.2 .5-3.3 .5,6.1 .5-3.9 .5,5.4 .5-4.3 .5,3.5 .5-3 .5,1.4 .5-2.7 .5,2.7 .5,1.8 .5-4.2 .5,1.4 .5,2.3 .5-.8 .5-1.9 .5,2.2 .5,.1 .5-2.9 .5,3.3 .5-.8 .5-1.3 .5,1 .5-2.1 .5,1.7 .5-.8 .5,2.7 .5-1.5 .5-4.8 .5,3.4 .5,1.5 .5-2.2 .5-.3 .5,1.6 .5,.1 .5-3.1 .5,3.8 .5-2.4 .5,2.3 .5,.4 .5-1.7 .5-1.4 .5-1.1 .5-.5 .5,1.2 .5-2.1 .5-.9 .5,1.2 .5-.5 .5,0 .5,1.8 .5-.9 .5,1 .5,.4 .5-3.3 .5,.8 .5,.3 .5-2.6 .5,2.7 .5-.3 .5,.4 .5,.4 .5-.9 .5-.6 .5,.1 .5,2.9 .5-.3 .5-2.1 .5,3.3 .5-1.2 .5,0 .5,0 .5-1.6 .5,.6 .5,2.8 .5-1.2 .5,2.6 .5-.8 .5-2.4 .5,3.3 .5-1.1 .5,2.5 .5-2.1 .5,1.6 .5-1.9 .5-.4 .5-1.9 .5-2.7 .5-6.2 .5-11.9 .5-19.9 .5-14.6 .5,13.9 .5,19.7 .5,10.9 .5,6.1 .5,3.5 .5-.3 .5,1.1 .5-1.1 .5,2.8 .5-.8 .5,0 .5-2.5 .5,1.5 .5,2.2 .5-1.6 .5,.6 .5,.3 .5-.4 .5-.2 .5,1.2 .5-2.3 .5-1.8 .5,.2 .5,1.1 .5,.1 .5,1.4 .5-.4 .5-.3 .5,1 .5-.2 .5-.5 .5-.9 .5,2.8 .5-2.2 .5,.4 .5-2.5 .5,.8 .5-3.9 .5-4 .5-12 .5-24.4 .5-41.1 .5-30.3 .5,29.9 .5,40.8 .5,24 .5,11.9 .5,5.4 .5,2.6 .5,1 .5,.5 .5,1.9 .5-.2 .5,1.6 .5-2.5 .5,2.8 .5-2.2 .5,.5 .5,1 .5-1.2 .5,1.5 .5-1 .5,1.4 .5-2.1 .5,1.2 .5-1.5 .5,1.5 .5-1.4 .5-1 .5-1.4 .5-3.6 .5-6.5 .5-5.3 .5,5.1 .5,6.4 .5,5.9 .5-.2 .5,1.7 .5,.2 .5-.4 .5,1 .5-1 .5,1.3 .5,1 .5-.8 .5-1.8 .5,4.1 .5,.2 .5-.9 .5-1.7 .5,.5 .5-.6 .5,.4 .5,.8 .5-1.6 .5,1.4 .5-2.4 .5,2.4 .5-2.6 .5,1.5 .5-2.3 .5-4.3 .5-3.2 .5-4.3 .5-6.2 .5-5.5 .5-2.3 .5,2.4 .5,5.3 .5,5.3 .5,5.5 .5,3.8 .5,2.9 .5,2 .5,.2 .5,.6 .5,1.2 .5,1.6 .5-.5 .5-1 .5,1 .5,3.6 .5-2.1 .5,2.5 .5-1.2 .5-1.7 .5,1.4 .5,.5 .5-2.9 .5-1.5 .5-.5 .5,.6 .5-1.8 .5,.1 .5-3.5 .5-3.3 .5-3 .5,2.5 .5,5 .5,1.7 .5,1.3 .5,2.2 .5-.7 .5-2 .5-1.6 .5-.7 .5,1.3 .5-.2 .5-1.9 .5-.5 .5,.6 .5-2.3 .5-.5 .5-3.8 .5-2.9 .5-5 .5-4.6 .5-1.9 .5,2.7 .5,5.7 .5,4.8 .5,4.8 .5,1.6 .5,2.6 .5,.4 .5-1.7 .5-.6 .5,4.4 .5-4.1 .5,1.4 .5,.7 .5,.9 .5,0 .5,2.2 .5-.7 .5,1.6 .5-1.6 .5,3.2 .5-1.6 .5-.5 .5,2 .5-1.2 .5-1.6 .5,3 .5-2.8 .5-.3 .5-1.3 .5-3.1 .5-3.4 .5-8 .5-16.6 .5-28 .5-20.4 .5,20.9 .5,28.4 .5,17.1 .5,8.2 .5,3.4 .5,2.8 .5-.2 .5-.4 .5,1.5 .5,2.2 .5-.8 .5,1.8 .5-1.8 .5-2.1 .5,1 .5-2.8 .5-.3 .5,2.3 .5-.8 .5-1.8 .5-1.4 .5-.7 .5,3 .5-.8 .5,1 .5-.4 .5-.6 .5,3.5 .5-4.1 .5,2 .5,.2 .5-1.4 .5,.9 .5-2 .5,3 .5,3.9 .5,2.2 .5-1.3 .5,2.8 .5-2.9 .5,4.4 .5-3.8 .5,5 .5-3.5 .5,1.9 .5-2.3 .5-2.2 .5-.8 .5,2 .5-2.8 .5,3 .5-2.3 .5-.2 .5,.1 .5,1 .5-2.1 .5-2 .5-7.4 .5-4 .5,4.5 .5,5.5 .5,3.2 .5,2 .5,1.8 .5-2.3 .5-.4 .5,2.1 .5-1.9 .5-2.4 .5,4.8 .5-3.5 .5,.6 .5-1.3 .5,1.5 .5,.2 .5-1 .5,1.6 .5,.8 .5-2 .5,1 .5-2.6 .5,2.2 .5,.4 .5-.3 .5-.8 .5,1.5 .5-1.7 .5,2.1 .5-.1 .5-1.9 .5,1.5 .5-3 .5,3.5 .5-1.4 .5-.3 .5,.9 .5,.3 .5-.5 .5,.7 .5,.7 .5-.1 .5-4.1 .5,0 .5-2.3 .5,2.3 .5-.9 .5-1.9 .5,1.3 .5-1.4 .5-2.6 .5,2.1 .5,1.9 .5,1 .5-3.3 .5,2.7 .5-.6 .5,.6 .5,2.3 .5-1 .5,1.1 .5-2.2 .5,5.8 .5-.3 .5-.5 .5,1 .5-.7 .5,.8 .5-.9 .5-.3 .5,2.2 .5-1.3 .5-.7 .5-.4 .5,0 .5-1 .5,2.4 .5-2.7 .5-2.9 .5,3 .5,.4 .5-1.4 .5,.5 .5,1.3 .5,2.1 .5-2.9 .5-.1 .5-.1 .5-1.8 .5-1.4 .5-3.4 .5,2.8 .5,2.3 .5,.1 .5-1.9 .5,.6 .5,1.6 .5-1.3 .5,.5 .5,2.4 .5-3.8 .5,3.6 .5-5.3 .5,4.4 .5,.9 .5-2.8 .5-1.3 .5,.9 .5,3.9 .5-.7 .5-.2 .5,2.3 .5-3 .5-.1 .5,2.8 .5-1.2 .5-1.4 .5,.7 .5-.3 .5,1.3 .5,.6 .5-1.7 .5,2.6 .5-2.1 .5-.1 .5-.4 .5,0 .5-.8 .5,1 .5,.7 .5-1.1 .5,2 .5-1.8 .5,2.3 .5-2.1 .5-.4 .5-1.2 .5-2.4 .5-1.2 .5,1.3 .5,2.5 .5,3.4 .5-.9 .5-.6 .5-.4 .5-1.1 .5,.6 .5,.8 .5,1.1 .5-4.2 .5,1.3 .5,.4 .5-1.7 .5,2.8 .5-1.6 .5-1.6 .5,.9 .5-.3 .5-1 .5,1.5 .5,1.2 .5,.3 .5-1.4 .5,1.6 .5,2.7 .5-4.1 .5,.3 .5,3.6 .5,.2 .5-3 .5,1.8 .5,.4 .5-1.4 .5-.9 .5,2.5 .5-2.1 .5,.3 .5-2.4 .5,.1 .5-1.7 .5-1 .5,2.1 .5,.7 .5,3.3 .5-.6 .5-.8 .5-.2 .5,2.6 .5-1.3 .5-.5 .5,2.6 .5-1.1 .5-.5 .5,1 .5-.8 .5,.8 .5-3.1 .5,2.7 .5-1 .5-2.9 .5-3.9 .5-1.4 .5,2.2 .5,2.7 .5,0 .5,.4 .5,1.8 .5,1 .5,0 .5-1.9 .5,2.5 .5-.6 .5-.5 .5-.4 .5,3.6 .5-2.7 .5,1.1 .5-1.5 .5,1 .5-.3 .5-1 .5-1.8 .5,1.8 .5,.6 .5-2.4 .5,1.5 .5,1.5 .5-.1 .5-1 .5,.2 .5,4.5 .5-2.9 .5,1.4 .5-1 .5-1.9 .5,4.1 .5-2 .5,2.2 .5-1.1 .5,0 .5-1.4 .5-.5 .5,1.7 .5-.3 .5,.1 .5-2.4 .5,.6 .5,.8 .5,2.5 .5-.4 .5-.9 .5,1.2 .5-1.5 .5,3.9 .5-3.5 .5,2.5 .5-.3 .5-1.6 .5,1.5 .5-2.5 .5,1.1 .5,.2 .5,1.4 .5-2.7 .5-1.8 .5-2.6 .5-1.5 .5,.6 .5,1.5 .5,2.6 .5-1.8 .5,2.7 .5-1.7 .5,0 .5-3.9 .5,3.7 .5,.9 .5-.6 .5,1.7 .5-.8 .5-3.4 .5,1.1 .5,.4 .5,2.1 .5-3 .5,.4 .5,3.2 .5-1.4 .5,1.7 .5,.1 .5-2.3 .5,.2 .5,2 .5,.6 .5-2.7 .5,.8 .5,2.4 .5-1.7 .5-.1 .5,2.8 .5-3.1 .5,0 .5-2.1 .5,1.7 .5-1.7 .5-2.2 .5,2.1 .5,1.9 .5-1.8 .5,1.2 .5-.2 .5-1 .5,1.5 .5-.7 .5,.3 .5-1.6 .5,1.8 .5,2.2 .5-1.7 .5,2.7 .5-2.1 .5,2 .5-.5 .5-2.4 .5,1.9 .5-1.1 .5-2.2 .5,2.7 .5-.9 .5,1.4 .5-2.5 .5,1.6 .5-1.5 .5-.6 .5,1.6 .5-1 .5-1 .5,.3 .5-.8 .5-1.4 .5,2.1 .5,1.8 .5-1.6 .5,1.6 .5-1.8 .5,2.6 .5-.9 .5-.3 .5-.8 .5-.7 .5,4.6 .5-3.5 .5,1.3 .5-.7 .5-.7 .5,1.7 .5-1.1 .5,1 .5,2.3 .5-1 .5-.9 .5-1.9 .5,1.4 .5-.1 .5,.6 .5-3.9 .5,4.7 .5-1.7 .5-2.5 .5,2.5 .5-.8 .5-1 .5,1.7 .5-1.1 .5,0 .5-1.9 .5,1 .5,.1 .5-1.5 .5,.3 .5-.4 .5,1.9 .5-3.6 .5,3.9 .5-2.4 .5,.8 .5,1 .5,.3 .5,1.9 .5-1.1 .5,.5 .5,1.3 .5,.4 .5,.7 .5,2.6 .5-1.4 .5-.9 .5-.9 .5,2.3 .5-3.3 .5,3.1 .5-1.5 .5-.9 .5-1.3 .5,1 .5-.1 .5,.5 .5-2.2 .5-.2 .5-2.4 .5-2.5 .5,1.5 .5,3.2 .5,.1 .5-.7 .5,1.1 .5-.7 .5,.5 .5,.5 .5-.4 .5-1.6 .5-.6 .5,.8 .5,1.2 .5,2.1 .5-3.3 .5,.1 .5,.6 .5,2.4 .5-.9 .5-.4 .5,1.5 .5-2.1 .5,0 .5-.2 .5,2.4 .5,.1 .5-.7 .5-.9 .5,1.2 .5-1.8 .5,1.6 .5-1.4 .5,2.3 .5,.1 .5-1.5 .5-.4 .5,1 .5,.7 .5-2.2 .5-.1 .5,.3 .5,.2 .5,1.1 .5-.9 .5-3.4 .5-.3 .5-2.9 .5-3.7 .5-3.7 .5-1.5 .5,2.1 .5,4.4 .5,3.4 .5,3.7 .5,.5 .5,1.5 .5,2.7 .5-1.2 .5,.4 .5,.8 .5-2.1 .5,1.3 .5,0 .5-.4 .5-2.3 .5-.2 .5,2.8 .5,2.1 .5-2 .5-1.4 .5,.8 .5,.9 .5,1.2 .5-3.7 .5,1.3 .5-1.3 .5,4.1 .5-1.9 .5-2.1 .5-.6 .5,0 .5,2.6 .5,.5 .5-.3 .5-.9 .5,.9 .5,1.3 .5,1.8 .5-4 .5,1.3 .5,2.3 .5-3.3 .5-.7 .5,1 .5,.7 .5-.3 .5,.8 .5-3.3 .5,.1 .5,1.9 .5-1.7 .5-1 .5-1 .5,3.3 .5-3.6 .5,3.8 .5-.2 .5-1.7 .5,.9 .5,1.5 .5-.3 .5-.1 .5-.2 .5,.4 .5-1.6 .5,.8 .5,.1 .5,.6 .5-2.3 .5,.9 .5-.5 .5,1 .5,2.3 .5-.6 .5-.5 .5,1.8 .5,.8 .5-1.7 .5-1.2 .5,1.3 .5,2.4 .5-2.6 .5,1.1 .5-2.7 .5,2.3 .5,1.1 .5-4.1 .5,.4 .5,1.5 .5,1 .5-.4 .5,1.3 .5-1.6 .5,1 .5-.8 .5-2.9 .5,3.3 .5-2.1 .5,1.2 .5-2.4 .5,2 .5,.8 .5-2.1 .5,.8 .5,1.4 .5,.2 .5-.6 .5-.5 .5,.4 .5,1.1 .5-.6 .5-.5 .5-1.1 .5,.4 .5,.3 .5,.4 .5-.1 .5-1.3 .5,1.8 .5-.8 .5,1.6 .5-1.8 .5,.9 .5-1.5 .5-.1 .5,0 .5,1.4 .5,1.4 .5-3.7 .5,2.7 .5,.5 .5,0 .5-.4 .5,.7 .5,.8 .5-.5 .5-2.1 .5,1.8 .5-1.1 .5-.2 .5,.1 .5,2 .5-3.6 .5,1.5 .5-1.7 .5,1.4 .5-1.1 .5,1.2 .5-1.2 .5,3.4 .5-3 .5,1.7 .5,.2 .5-.6 .5,2 .5-3.6 .5,1.9 .5-.9 .5,2.6 .5-1.6 .5,.1 .5-1.2 .5,1 .5,.6 .5,.5 .5-3.4 .5,2.5 .5,.4 .5-.8 .5,.3 .5,.5 .5-3 .5,1.4 .5-1.6 .5,1.3 .5,0 .5-1.9 .5,.8 .5,.8 .5-2.3 .5,4.4 .5-3.5 .5,.8 .5-1.2 .5,1.5 .5,1.3 .5-1.3 .5-.3 .5,1.4 .5-1.4 .5,.4 .5-.2 .5,0 .5-1.2 .5,3.3 .5-.3 .5-.7 .5-.5 .5,.6 .5-.8 .5,1.7 .5-.4 .5-2.4 .5-.3 .5,2.5 .5-1 .5,.3 .5-.3 .5-.7 .5,.2 .5,.2 .5,1.7 .5-1.8 .5-.6 .5,.2 .5,3.2 .5,.2 .5-.7 .5,1.3 .5-.6 .5,0 .5-1.3 .5,0 .5,.4 .5-1.4 .5,1.4 .5-3.1 .5-.9 .5-.8 .5-.4 .5,.9 .5,1.3 .5,.7 .5,.5 .5,.8 .5-.4 .5-1 .5,1.7 .5-4.3 .5,2.6 .5,1.3 .5-2.8 .5,0 .5,.9 .5,1.4 .5-2.9 .5,2.3 .5-1.1 .5,2.6 .5-2 .5,2.2 .5-1.1 .5,1.7 .5-.2 .5-1 .5,2.4 .5-2 .5,.2 .5-.1 .5-.1 .5-.1 .5-.9 .5,1.9 .5-2.1 .5,.5 .5,1.4 .5-1.8 .5-.4 .5,.4 .5,.8 .5,1.2 .5-1.4 .5,.3 .5-2.5 .5-.8 .5,2 .5,.4 .5-.4 .5,.6 .5-1.1 .5,1.5 .5-1.7 .5,1.6 .5-1.9 .5,2.9 .5,.4 .5-.6 .5,0 .5-.2 .5-1.6 .5,.4 .5,.4 .5,1.8 .5-1.7 .5,.9 .5-.9 .5,.9 .5-1.2 .5,1.9 .5-.6 .5,.7 .5-1.3 .5-.8 .5,2 .5-.9 .5,2 .5-1 .5,.4 .5,1.7 .5-3.4 .5,.2 .5-.3 .5-.4 .5,1 .5,.7 .5-1.6 .5,1.3 .5-.6 .5-2.2 .5-.3 .5,2.1 .5,1.4 .5-3 .5,.7 .5-.7 .5,.1 .5,.3 .5-.5 .5-.8 .5,1.6 .5-.6 .5-.9 .5,1.5 .5-.6 .5,2.1 .5-1 .5,.2 .5-.9 .5-1.7 .5,2.7 .5,1.5 .5-1.9 .5,1.8 .5,.1 .5-2 .5,1 .5,.5 .5,1 .5-3.9 .5,2.8 .5,.3 .5-2.6 .5,3 .5-.1 .5-2.2 .5,2.2 .5-.6 .5-1.8 .5,3.2 .5-2.6 .5,.3 .5,2.3 .5,1.4 .5-.6 .5-1.5 .5-.5 .5,.7 .5-1.9 .5,.2 .5,2.7 .5-.9 .5-1.4 .5,1.1 .5-.8 .5,.4 .5-.6 .5,.4 .5-.1 .5-1.9 .5,.1 .5-.1 .5,2.1 .5-2.1 .5,1.5 .5-.2 .5-1.3 .5,2.5 .5-.7 .5-1.3 .5,.8 .5,1 .5-.4 .5-1.3 .5,3.4 .5-1.7 .5-.3 .5,.2 .5-.2 .5-1.3 .5-1 .5-.4 .5-3.4 .5,2.9 .5,.8 .5,1.2 .5,1.2 .5,1.8 .5,.1 .5-1.5 .5,2.5 .5-.7 .5-2 .5,2.3 .5-.7 .5-2.6 .5,2.9 .5-.5 .5-1.6 .5-1.9 .5,2.4 .5,.3 .5,0 .5-1.7 .5,.7 .5,.3 .5-.9 .5,0 .5,.1 .5-.1 .5,.5 .5-.4 .5-.6 .5,1.3 .5,.5 .5,.6 .5-2.3 .5,1.8 .5,.3 .5-.8 .5,.4 .5-.7 .5-1.6 .5,1.6 .5,.3 .5-2.3 .5,2.6 .5,.8 .5,.1 .5,.1 .5-1.3 .5,.2 .5,1.5 .5-.1 .5-.6 .5,.2 .5,.5 .5-1.7 .5,1.3 .5-2.2 .5,.2 .5-.1 .5,1.1 .5-1.6 .5-.9 .5,.9 .5-.2 .5-2.2 .5,2.8 .5-.2 .5-.3 .5,.6 .5,.3 .5-.9 .5-.3 .5,3.2 .5-1.2 .5-.2 .5,1.7 .5-2.3 .5,1.8 .5-2 .5,.1 .5,.2 .5-1.6 .5,1 .5,.1 .5,.7 .5,.4 .5-.6 .5,.7 .5-1.5 .5-.4 .5,1.8 .5-.7 .5,.9 .5-.9 .5,.5 .5-.9 .5-1.5 .5,2.2 .5-2.1 .5,2.3 .5-2.1 .5,2.6 .5,.4 .5-1 .5-.3 .5-.6 .5,2.7 .5-1.4 .5,1.1 .5-1 .5-1.5 .5,.6 .5,1 .5,1 .5-1.2 .5,.1 .5,.4 .5-.1 .5,.7 .5-.4 .5-.8 .5,.3 .5,.8 .5-.5 .5-1.8 .5,1.7 .5-1.7 .5,1 .5,1.2 .5-2.1 .5,1.9 .5-2.6 .5,.5 .5,1 .5,.9 .5,.4 .5-1 .5-.3 .5-.3 .5-1.1 .5,.7 .5-.4 .5,.6 .5-.4 .5,1 .5-1.4 .5,1.2 .5-.6 .5,0 .5-.5 .5,1.9 .5,.7 .5,.7 .5-1.9 .5,1.4 .5-2.2 .5,.7 .5,1 .5-.9 .5-.1 .5,.5 .5-.5 .5-1.7 .5,1.2 .5,.3 .5,.6 .5-2.9 .5,1.4 .5-.2 .5,.2 .5-.7 .5-.5 .5,1 .5,.8 .5-.4 .5-.6 .5,.4 .5,.8 .5-1.1 .5,.1 .5-1.3 .5,1 .5,1.8 .5,1.1 .5-2.5 .5,1.8 .5-.6 .5,.5 .5-.1 .5-.3 .5,.8 .5-1 .5,.5 .5-.7 .5,.7 .5-2 .5,.2 .5,.1 .5,.9 .5-1.7 .5,2.9 .5-1.1 .5,1.3 .5-.4 .5-1.2 .5,1.2 .5-1.2 .5-1.4 .5,3.5 .5-2.3 .5,.8 .5,1.3 .5-1.2 .5,.4 .5-1 .5,1.3 .5-.2 .5-.1 .5-.4 .5-.2 .5,.1 .5,1 .5-.6 .5-.6 .5,2 .5,.4 .5-2.2 .5,1.9 .5-1.5 .5,.7 .5-.6 .5,.9 .5-.9 .5,.1 .5-.4 .5,1.1 .5-.9 .5,0 .5,.7 .5,.1 .5,2.2 .5-2.7 .5,.5 .5,1.5 .5-1.5 .5,.7 .5-1.1 .5-.6 .5,1.7 .5-1.7 .5,.8 .5,.2 .5-1 .5,0 .5,.5 .5-1.4 .5,2.6 .5-1.5 .5-.7 .5-.5 .5,1.2 .5-1 .5,.3 .5,.4 .5-2.5 .5,.8 .5,.3 .5-.9 .5,1.5 .5,2.3 .5-2.7 .5,.4 .5,.2 .5-.2 .5,.5 .5-.3 .5,.8 .5,0 .5-.2 .5,.7 .5-.8 .5,.1 .5-.3 .5-.5 .5,2 .5-2.9 .5,.6 .5,2 .5-1.1 .5,.5 .5,.1 .5,.7 .5-.6 .5,.1 .5,1.4 .5-2.6 .5,1.4 .5,.8 .5,.2 .5-.1 .5-1.9" fill="none" stroke="#1A6FDF" stroke-width="2.2" stroke-linejoin="round"/>
<path d="M128.7,2049.5l.5,1.5 .5-.4 .5-.3 .5-.1 .5,1.5 .5-1.1 .5,1.5 .5-1 .5-.4 .5,.9 .5,.9 .5-2 .5,1.5 .5-.3 .5-.5 .5,1 .5-1.4 .5,.4 .5,.5 .5,1.2 .5-.2 .5-.6 .5,1.6 .5-1.3 .5,.8 .5-.2 .5,.4 .5,.6 .5-.7 .5-.7 .5,1 .5-.1 .5-.2 .5,1.4 .5-.4 .5-.5 .5,1.1 .5-1.4 .5,.8 .5,.5 .5-.7 .5,.5 .5-.3 .5,1 .5-.5 .5,.8 .5,.2 .5-.4 .5,.2 .5-.5 .5,.8 .5,0 .5,.3 .5-.8 .5,.3 .5,.7 .5,.3 .5-1.1 .5,.7 .5-.4 .5,.2 .5,.3 .5,.9 .5-.1 .5,.7 .5-.2 .5-1 .5,.4 .5,1.2 .5-.1 .5,.1 .5,0 .5,.2 .5,.5 .5-.8 .5,.3 .5,.3 .5,0 .5,.8 .5-1.9 .5,1.4 .5-.8 .5-.3 .5,.6 .5,.3 .5,.2 .5-1.3 .5,2.1 .5-.6 .5-.7 .5,.6 .5,.3 .5-.2 .5,1.1 .5-1 .5,1 .5-.7 .5,.2 .5,0 .5-.3 .5,.4 .5-1.1 .5,.9 .5-.7 .5-.2 .5-.5 .5,.9 .5,.8 .5-1.1 .5,.9 .5,.1 .5-1 .5,.6 .5-.3 .5,.5 .5-.4 .5,.2 .5,.2 .5,.3 .5-.2 .5,.9 .5-.4 .5,.4 .5,.2 .5,.2 .5,.7 .5,.1 .5-.1 .5,.3 .5-.2 .5,.9 .5,.2 .5-.4 .5-.1 .5-1.1 .5,.7 .5,1.4 .5-.9 .5,.4 .5,.5 .5-.4 .5,.3 .5,.6 .5-.3 .5,.2 .5-.7 .5,.8 .5,.5 .5-1.6 .5,1.6 .5,.1 .5-1.2 .5,.5 .5-.1 .5,0 .5,.9 .5-1.1 .5,1.2 .5-.4 .5-.7 .5,1 .5-.7 .5,.2 .5-.3 .5,.2 .5,1.3 .5-.5 .5-1.1 .5,1.3 .5-1.5 .5,.1 .5-.1 .5,.1 .5,.5 .5-1 .5,.8 .5-.1 .5-.2 .5,.1 .5,.5 .5,.6 .5,0 .5-.5 .5,1.3 .5-.6 .5,.4 .5-.5 .5,1 .5,.7 .5-.5 .5-.5 .5-.2 .5,1.2 .5,0 .5,0 .5,.4 .5-1 .5,.2 .5-.3 .5,1.4 .5-.9 .5,.5 .5-.1 .5,.3 .5-.4 .5-.7 .5,.2 .5-.6 .5-.1 .5-.6 .5-.5 .5,1.2 .5-.8 .5,1.2 .5-.1 .5-.6 .5,.2 .5,.1 .5,.4 .5,.7 .5-.6 .5-.1 .5,1.3 .5-.5 .5,.5 .5,.7 .5-.7 .5,1.6 .5-2 .5,.8 .5-.8 .5,.7 .5-.9 .5,1.3 .5-.4 .5,.7 .5-.4 .5,.1 .5-.1 .5-.3 .5,.2 .5,.8 .5,.7 .5-.5 .5-1 .5,.7 .5-.1 .5,.6 .5-.4 .5,.4 .5-.4 .5,1.5 .5-2.1 .5-.4 .5,1.7 .5-1.3 .5-.2 .5-.5 .5,.9 .5-1.5 .5,1.6 .5-.4 .5-.7 .5,2 .5-.6 .5,.6 .5-.4 .5,1.3 .5-2.1 .5,1.7 .5-.5 .5,.1 .5-.4 .5,1.3 .5,.1 .5,0 .5,0 .5-.1 .5-.9 .5,1.4 .5-1.2 .5,.2 .5-.4 .5,.3 .5,.9 .5-1.5 .5,.8 .5,0 .5-.8 .5,1.3 .5-1 .5,1.1 .5-1.3 .5,.8 .5,.6 .5-1.6 .5,2.9 .5-1.4 .5-1.2 .5,1 .5,.3 .5,.7 .5-.9 .5,.7 .5-1.2 .5,1.1 .5-1 .5,1 .5-.3 .5,.1 .5-.4 .5,.7 .5,.5 .5-1.4 .5,.1 .5,.1 .5,.5 .5-.3 .5,.7 .5-1.3 .5,1.6 .5-.2 .5,.1 .5-.5 .5,.1 .5,1.4 .5-1.4 .5-.5 .5-.1 .5,.6 .5,.4 .5-.4 .5-.3 .5-1 .5-.3 .5,.5 .5,0 .5,.3 .5,.6 .5-.8 .5,1.3 .5,.2 .5,.1 .5-1.3 .5,.8 .5-.8 .5,.7 .5,1.1 .5-1.1 .5,.1 .5-.8 .5,1.7 .5,.7 .5,.1 .5-.4 .5-.5 .5-1.4 .5,1 .5-.6 .5-.4 .5,0 .5,.4 .5-.2 .5,0 .5,.8 .5,.1 .5-.7 .5-.1 .5,1.7 .5-1.5 .5,0 .5,.5 .5-.2 .5,.7 .5-.4 .5-.8 .5,.1 .5,1.5 .5-1 .5,.1 .5-.1 .5-.7 .5,1 .5-.6 .5,.7 .5,.2 .5,0 .5,.8" fill="none" stroke="#37AD6B" stroke-width="7.0" stroke-linejoin="round"/>
<path d="M321.2,2072.0l.5,.2 .5,0 .5,.8 .5-1.3 .5,.4 .5,.1 .5-1.5 .5-2.5 .5-3.8 .5-2.8 .5,2.8 .5,3 .5,2.2 .5,1.6 .5-.4 .5,.1 .5-.2 .5,.5 .5,1.1 .5,.4 .5-.3 .5,.5 .5,.8 .5-.6 .5,.6 .5,.4 .5,.6 .5-.2 .5-.1 .5-.3 .5-.1 .5,.8 .5-.7 .5-.1 .5-1.1 .5-2.1 .5-3.4 .5-2.8 .5,2.7" fill="none" stroke="#37AD6B" stroke-width="5.8" stroke-linejoin="round"/>
<path d="M339.2,2070.8l.5-3.4 .5-2.8 .5,2.7 .5,3.6 .5,2.2 .5,.8 .5,.9 .5,.1 .5,0 .5,.2 .5,.1 .5-.7 .5-.4 .5-.3 .5,0 .5,.1 .5-.3 .5-1.1 .5,.6 .5-.8 .5,0 .5-.2 .5,0 .5-1 .5,.7 .5-1.1 .5-.6 .5,.2 .5-.1 .5-.2 .5,.1 .5,.4 .5-.1 .5,.3 .5,.7 .5,.8 .5,.1 .5,.3 .5,.1 .5-.2 .5-.1 .5-.7 .5-.2 .5-1.5 .5-2.3 .5-6 .5-12.5 .5-21 .5-15.3 .5,15.5 .5,20.9 .5,12.7 .5,5.8 .5,2.4 .5,.9 .5,.9 .5,.1 .5,.2 .5,.1 .5,0 .5-.1 .5,.2 .5,0 .5-.8 .5,.3 .5-.8 .5,.1 .5-.5 .5,.3 .5-.9 .5-.6 .5-.3 .5-.3 .5-.3 .5,.8 .5,.1 .5-1.2 .5,1.4 .5-.1 .5,.8 .5-.1 .5-.1 .5,.6 .5-.5 .5,.4 .5-.2 .5-.9 .5-2 .5-4.9 .5-10.2 .5-17.1 .5-12.7 .5,12.5 .5,17.1 .5,10 .5,4.9 .5,1.9 .5,1.4 .5,0 .5,.7 .5,1 .5,.1 .5,.5 .5,.9 .5,.3 .5-.1 .5,.2 .5-.5 .5-.8 .5,.4 .5-1 .5-.4 .5-.6 .5-.1 .5-1 .5-.4 .5-2 .5-2.8 .5-7 .5-14.5 .5-24.2 .5-17.7 .5,17.9 .5,24.5 .5,14.5 .5,7.3 .5,3 .5,2.1 .5,.5 .5,1.1 .5,1 .5,.5 .5,.3 .5-.3 .5,0 .5-.2 .5-.7 .5-.5 .5-1.4 .5-1 .5-1.6 .5-2.5 .5-4.8 .5-9.7 .5-15.5 .5-11.5 .5,11.1 .5,15.4 .5,8.9 .5,3.9 .5,1 .5-2.2 .5-5 .5-9.7 .5-7.1 .5,7.7 .5,10.1 .5,6.6 .5,3.2 .5,1.3 .5,.6 .5,.2 .5,.5 .5,.1 .5,.4 .5-.9 .5,.4 .5,.5 .5-.6 .5,.8 .5,.3 .5-.6 .5,.9 .5,.2 .5,.8 .5,.3 .5-.3 .5,.5 .5,.6 .5,.2 .5-1.3 .5-2.6 .5-3.4 .5-2.7 .5,2.1 .5,2.6 .5,1.5 .5,.8 .5,0 .5,.7 .5,.7 .5-.3 .5-.2 .5-.3 .5,.5 .5,.7 .5-.1 .5,0 .5,1 .5,.6 .5-.5 .5-.4 .5-.1 .5-2.5 .5-4.1 .5-6.9 .5-5 .5,4.6 .5,6.2 .5,3.6 .5,1.4 .5,.9 .5,.8 .5-1 .5-.2 .5,.9 .5-.7 .5,1.1 .5-.7 .5,.5 .5,.5 .5,.3 .5-.3 .5-.3 .5-.3 .5,.9 .5-.1 .5-.1 .5,.5 .5-.8 .5,.7 .5-.3 .5-1.1 .5,.1 .5-1.1 .5-1.6 .5-1.9 .5-3.6 .5-7.4 .5-15.1 .5-24.8 .5-18.3 .5,18.1 .5,24.7 .5,14.9 .5,7.1 .5,3.8 .5,1.1 .5,1.8 .5,1.1 .5,.4 .5,1 .5,.7 .5,.8 .5-1.4 .5,1.2 .5-.6 .5-.4 .5,.8 .5-.6 .5-.5 .5,1 .5-.2" fill="none" stroke="#37AD6B" stroke-width="4.6" stroke-linejoin="round"/>
<path d="M469.2,2073.3l.5-.5 .5,1 .5-.2 .5,0 .5,.6 .5,.2 .5,.1 .5,0 .5-1.4 .5,1.4 .5-.8 .5,.5 .5-1 .5-.4 .5-1.8 .5-.8 .5,1.7 .5,1.5 .5,1 .5,.1 .5,1.3 .5,.4 .5-.3 .5,.1 .5,.1 .5,.3 .5-.2 .5-.9 .5,0 .5,.4 .5-.9 .5,.4 .5,.5 .5,.3 .5,1.1 .5-1.7 .5,.8 .5-2.6 .5-2 .5-5.1 .5-3.4 .5,2.9 .5,4.1 .5,2.1 .5,.8 .5,.4 .5,1.1 .5-.4 .5-.1 .5,.4 .5,.1 .5,1.4 .5,.7 .5,.5 .5,.4 .5,.6 .5,0 .5,.3 .5-.4 .5,.1 .5-1.1 .5,.6 .5-.9 .5,0 .5,1.1 .5-.9 .5,.2 .5,.4 .5-1.2 .5,1.7 .5-.4 .5-.5 .5,.2 .5-.6 .5,.6 .5-.1 .5-.2 .5-.5 .5,.2 .5-.3 .5,.5 .5,.8 .5-1.3 .5,0 .5-.8 .5-1.7 .5-1.4 .5,1.5 .5,1.6 .5,1.8 .5-.7 .5,1 .5,1.4 .5,0 .5-.9 .5,.1 .5-.6 .5,0 .5-.2 .5-2.1 .5,1.2 .5-1.1 .5-.4 .5,.5 .5-.2 .5-1.2 .5,.8 .5-.5 .5-.6 .5,.2 .5,.3 .5-.5 .5-.4 .5-.4 .5-.2 .5,.9 .5-.4 .5,1.6 .5,.7 .5-1.1 .5,.9 .5,0 .5,.5 .5-.1 .5,.4 .5,.5 .5-.7 .5,1.2 .5-1.3 .5-1.3 .5-2.4 .5-1.7 .5,1.6 .5,2.2 .5,.6 .5-.2 .5,.4 .5,.5 .5,.5 .5,0 .5,.4 .5,.6 .5,1 .5,.2 .5,.7 .5,.4 .5,.7 .5-.8 .5,.3 .5-1.2 .5,.3 .5-.8 .5,.3 .5-.7 .5-.4 .5-.5 .5,.4 .5-.5 .5,1.2 .5-1 .5,.2 .5-.3 .5,.3 .5-.3 .5-.1 .5-1.3 .5,.9 .5-1.1 .5-.2 .5-.4 .5,.1 .5-.3 .5,.3 .5-.4 .5,.4 .5-.2 .5-1 .5,0 .5-1.4 .5-1.2 .5,1.7 .5,2.6 .5,.4 .5-.4 .5,.7 .5,1.4 .5,1 .5-1.9 .5,1.5 .5,.2 .5,.4 .5-.5 .5,.3 .5,.1 .5,1.3 .5-.2 .5,.4 .5,.2 .5,.4 .5-.3 .5,.9 .5,.8 .5,.2 .5,.2 .5-.1 .5,.1 .5,.7 .5-1.7 .5,.2 .5-.7 .5,0 .5-1.4 .5,.5 .5,.1 .5-1.5 .5-.6 .5,.5 .5-.8 .5,0 .5-1.4 .5-1.4 .5-.8 .5-1.7 .5,0 .5,.4 .5,.9 .5-.1 .5,.8 .5,.1 .5,0 .5,.3 .5,1.4 .5,.2 .5,1 .5,.5 .5-.2 .5,.7 .5,.1 .5-.1 .5-.8 .5-1.9 .5-4.4 .5-3 .5,3.1 .5,4.3 .5,2.2 .5,.3 .5,.2 .5,.4 .5,.6 .5-.4 .5,.1 .5-.4 .5,0 .5,.9 .5,.5 .5,.5 .5-2 .5,1.5 .5,.8 .5-.7 .5-.8 .5-.7 .5,1 .5,.4 .5-1.2 .5,.6 .5-1.2 .5,.7 .5,.4 .5,.1 .5,.2 .5,.2 .5-.3 .5,.7 .5-.5 .5,1.4 .5,1.4 .5-1.1 .5,.8 .5,.5 .5-.1 .5-.1 .5,.3 .5-.1 .5,.1 .5-.2 .5-.4 .5,0 .5-.1 .5-1 .5,.5 .5-.2 .5,.3 .5-1.8 .5,.3 .5,.1 .5-.9 .5,.5 .5-.1 .5-.6 .5-.2 .5-.3 .5,.2 .5-.8 .5-.8 .5-2.2 .5-1.3 .5,1.2 .5,2.1 .5,1.1 .5,1 .5-1.3 .5,.4 .5-.2 .5,.6 .5-.9 .5,.6 .5,0 .5-.3 .5,1.1 .5-.1 .5,.4 .5,1.2 .5-.4 .5,.6 .5,.4 .5-1.1 .5,.4 .5-.7 .5,.3 .5-.9 .5-.1 .5,.7 .5-1.2 .5,0 .5-.4 .5-.3 .5-1 .5-.7 .5,.5 .5-.7 .5-.8 .5,1 .5-.3 .5-.5 .5,.3 .5,1.3 .5,.1 .5-.2 .5,1.5 .5,0 .5,1.5 .5-.6 .5,.5 .5,.3 .5,.3 .5,.2 .5,.9 .5,.4 .5,1.6 .5-.9 .5,.9 .5,1.3 .5-.2 .5-.5 .5,1.7 .5-.7 .5,.9 .5-.5 .5-.3 .5-.2 .5-.8 .5-.6 .5-.3 .5-1.1 .5-.3 .5,0 .5-1.2 .5-.7 .5,.2 .5,.7 .5-1.6 .5,.5 .5-.5 .5-.3 .5,1.4 .5-.9 .5,.8 .5-.3 .5,.3 .5,.3 .5,1.4 .5,1.1 .5-.7 .5-.2 .5,0 .5,.6 .5,0 .5-1.2 .5,.4 .5,.2 .5-1.1 .5-.6 .5,0 .5-1.1 .5,.5 .5-1 .5-.4 .5,.8 .5-1.1 .5,.2 .5-.2 .5,.2 .5-.3 .5,.2 .5,1 .5-.8 .5,.1 .5-.2 .5,.8 .5-.7 .5,.8 .5-.3 .5-.3 .5-.3 .5-.5 .5-.2 .5,0 .5,1 .5-.8 .5,0 .5,.1 .5-.1 .5,.8 .5,.2 .5-1.1 .5,.6 .5-.5 .5,0 .5,.2 .5-.7 .5,.4 .5,.6 .5,.5 .5,.3 .5-.6 .5,.1 .5-.7 .5-1.6 .5-1.5 .5-1.3 .5,.9 .5,1.6 .5,.6 .5,.1 .5,.7 .5-.7 .5,.7 .5,.4 .5,0 .5,.7 .5,.7 .5,.5 .5,1.6 .5-1 .5,.6 .5,.9 .5-.5 .5,.8 .5-2 .5,1.2 .5-1.3 .5,.2 .5,.2 .5,.3 .5-.3 .5,.6 .5,.6 .5-.4 .5-.4 .5,1.2 .5-.3 .5-.2 .5-.1 .5,0 .5-.1 .5,.1 .5,.6 .5-.8 .5-.5 .5,.2 .5-.4 .5,.1 .5,.1 .5-.2 .5-1.5 .5-1.8 .5-2.4 .5-2.8 .5-3.3 .5-1.6 .5,1.1 .5,3 .5,2.6 .5,2.2 .5,1.8 .5,1.2 .5,.8 .5,.8 .5,.1 .5,.2 .5-.5 .5,1.1 .5-.5 .5,1.2 .5-1.1 .5-.5 .5,.3 .5,.1 .5,.3 .5-.1 .5-.9 .5,.9 .5-.6 .5-.6 .5,.9 .5-.3 .5-.1 .5-.3 .5,.7 .5-1.3 .5,.7 .5-.8 .5-.3 .5,.5 .5-.5 .5,.1 .5-.4 .5,.6 .5-.4 .5,1.1 .5-1 .5,.4 .5,.5 .5-.4 .5-.1 .5,.2 .5,.4 .5-.5 .5,.3 .5,.4 .5,1 .5-.4 .5-.2 .5,0 .5,.7 .5-.4 .5-.1 .5-.6 .5,.6 .5-.8 .5-.8 .5,.5 .5,0 .5-.5 .5-1.3 .5,1.2 .5,.2 .5,.4 .5-1 .5,.7 .5-.4 .5,.7 .5-.1 .5,0 .5,.3 .5-.7 .5,.7 .5-1 .5,.3 .5,.1 .5,.6" fill="none" stroke="#37AD6B" stroke-width="5.2" stroke-linejoin="round"/>
<path d="M759.2,2079.2l.5,.3 .5,.1 .5,.6 .5,.5 .5-.1 .5,.1 .5,1.1 .5,.1 .5-.5 .5,.8 .5-.5 .5-.9 .5,1.2 .5,0 .5-.4 .5,.1 .5,.5 .5-1.5 .5,.3 .5,0 .5-.1 .5,.3 .5-.5 .5-.7 .5,0 .5-.2 .5,.8 .5-.7 .5,.1 .5-.4 .5,1 .5-.7 .5-1 .5,.7 .5-.1 .5-.8 .5,.4 .5,.9 .5,.7 .5,.4 .5-.3 .5,.2 .5-.7 .5-.6 .5,1.9 .5-.2 .5-.1 .5-.3 .5,.6 .5-.9 .5,.4 .5,.1 .5-.8 .5,.2 .5-.1 .5-.1 .5,0 .5-.2 .5,.2 .5-.1 .5-.5 .5-.1 .5,.5 .5-.4 .5,0 .5-.1 .5,.7 .5-.5 .5,.6 .5-.1 .5,.8 .5-.4 .5,0 .5-.6 .5-.3 .5,.5 .5,.7 .5,1.1 .5-.8 .5-.9 .5,.3 .5-.7 .5,0 .5,.2 .5-.6 .5-.7 .5-.4 .5,.5 .5-.3 .5,.1 .5-.4 .5,1.1 .5,.2 .5,.6 .5,0 .5,.1 .5,.2 .5,.3 .5-.1 .5,.8 .5-.5 .5-.3 .5-.2 .5-.3 .5,.1 .5,.1 .5-1.4 .5,.4 .5-.1 .5,.3 .5,0 .5-.7 .5,1.1 .5-.2 .5-.2 .5-.7 .5,.2 .5,.4 .5,.4 .5,.2 .5,.4 .5-.1 .5,.4 .5-.2 .5,.2 .5,.2 .5,.3 .5,.1 .5,.4 .5,.5 .5-.4 .5-.7 .5,.8 .5-1.2 .5,.1 .5,.3 .5-1.6 .5,.2 .5-1.2 .5,.5 .5,.2 .5-1 .5-.4 .5,.7 .5,0 .5-.2 .5,.5 .5,0 .5-1 .5-.5 .5-.7 .5,1.1 .5,.5 .5,1 .5,.2 .5,.3 .5,.2 .5,.3 .5,.5 .5-.2 .5,.4 .5-.2 .5,.5 .5-.2 .5,.1 .5-.3 .5,.5 .5-.6 .5,.9 .5-.1 .5,.1 .5,.9 .5-.7 .5-.2 .5-.5 .5,.3 .5,.4 .5,.1 .5-.8 .5-.5 .5,.5 .5-.1 .5-.2 .5,.2 .5,.2 .5,.1 .5,.3 .5-.2 .5,.8 .5-.7 .5,.4 .5-.3 .5,.1 .5,.6 .5-.5 .5-.3 .5-.1 .5,.1 .5,.2 .5-.7 .5,.3 .5-.8 .5,.2 .5-.6 .5,.1 .5-.6 .5-.6 .5,.1 .5,.6 .5-.6 .5-.2 .5,1.1 .5-.3 .5,.9 .5-.1 .5,0 .5-1 .5,.7 .5,.6 .5,.1 .5-.9 .5,1.3 .5-.9 .5-.2 .5,0 .5,.5 .5,.1 .5-.3 .5-.4 .5,.3 .5-.4 .5,1 .5-.7 .5,.2 .5,.2 .5-.2 .5-.4 .5,.2 .5,0 .5,.6 .5,.1 .5-.1 .5-.4 .5-.5 .5,.7 .5,.2 .5,.5 .5-.8 .5,0 .5,.1 .5-.1 .5-.1 .5-.1 .5-.3 .5-.2 .5,.1 .5,0 .5-.1 .5,.4 .5-.5 .5,.3 .5-.2 .5,.2 .5,.2 .5,.3 .5,.3 .5-.7 .5,0 .5-.3 .5,.2 .5-.3 .5-.2 .5,.1 .5,.4 .5,.2 .5-.5 .5,.1 .5-.2 .5,.8 .5-.6 .5,.3 .5,.2 .5,.6 .5-.7 .5,.5 .5,.3 .5-.8 .5-.1 .5,.2 .5,.1 .5,.1 .5,.1 .5-.9 .5,.4 .5,.2 .5-.4 .5-.5 .5,.5 .5-.6 .5,.9 .5-.2 .5-.3 .5,.7 .5-.6 .5,.8 .5,.4 .5-.3 .5,0 .5-.6 .5,.5 .5-.2 .5-.4 .5-.1 .5-.7 .5,.1 .5,0 .5-.2 .5-.6 .5,.4 .5-.8 .5-.4 .5,.3 .5-1 .5,.3 .5,.2 .5,.1 .5,.4 .5,.4 .5,.3 .5,.6 .5-.4 .5,.4 .5,.5 .5-.6 .5,.3 .5,.7 .5,.2 .5-1.3 .5,1.1 .5,.8 .5-.6 .5,0 .5-.1 .5,.5 .5,0 .5,0 .5,.2 .5-.5 .5,.4 .5,.1 .5,.4 .5,.3 .5,.3 .5,0 .5,.5 .5,0 .5,.4 .5,.3 .5,0 .5-1.1 .5,.8 .5,.3 .5-.4 .5-.8 .5,1.1 .5-1.2 .5,.8 .5-1.5 .5,1 .5-1.5 .5,.2 .5,.1 .5-.5 .5-.7 .5-.4 .5,.6 .5-.9 .5,.1 .5-.2 .5-.7 .5,.8 .5-.4 .5-.5 .5,.7 .5,.2 .5-.1 .5,0 .5,.4 .5-.2 .5,.3 .5,.4 .5,.3 .5,.2 .5-.6 .5-.6 .5,.5 .5-.5 .5,.7 .5-.5 .5-.1 .5,.1 .5-.3 .5,0 .5-.1 .5-.3 .5,0 .5,1.1 .5,.1 .5,.3 .5-.3 .5,0 .5-.2 .5-.2 .5,1 .5-.5 .5-.2 .5-.1 .5,.4 .5,0 .5-.3 .5-.8 .5,.3 .5,.3 .5,0 .5,.4 .5-.8 .5,.3 .5-.3 .5,.5 .5-.4 .5,.2 .5,.1 .5-.2 .5,.1 .5-.6 .5-.3 .5,.1 .5,.5 .5-.3 .5,.2 .5,.6 .5-.4 .5,.5 .5,.2 .5,.1 .5,.1 .5,.5 .5-.5 .5,1 .5-1.2 .5,.4 .5-.1 .5,.5 .5-.5 .5-.6 .5,.9 .5-.2 .5,.1 .5-.1 .5,.7 .5-.5 .5,.1 .5-.4 .5,.4 .5-.2 .5,.1 .5-.2 .5,.3 .5-.1 .5-.1 .5-.8 .5,.5 .5,0 .5-.1 .5,.5 .5-.1 .5-.2 .5-.3 .5,.7 .5,0 .5,.2 .5-.8 .5,1.2 .5-.6 .5,.7 .5-.4 .5-.7 .5,.2 .5,.3 .5-.2 .5,.2 .5,.3 .5,.1 .5-.2 .5-.2 .5-.1 .5,.7 .5,0 .5,.6 .5-1 .5-.1 .5,.5 .5-.3 .5,.6 .5-.6 .5,.1 .5,0 .5-.3 .5,.3 .5,.1 .5,.6 .5-1.1 .5,.1 .5,0 .5,.1 .5,.5 .5,.3 .5,.3 .5-.1 .5,0 .5-.2 .5,.1 .5,.1 .5-.7 .5-.1 .5-.2 .5-.3 .5,.8 .5-.9 .5-.2 .5,.4 .5-.2 .5,.1 .5,.5 .5-.2 .5,.4 .5-.2 .5-.1 .5,.4 .5,.4 .5-.1 .5,0 .5,.5 .5-1 .5,1 .5-.4 .5,0 .5,.3 .5-.3 .5-.4 .5-.1 .5-.3 .5-.3 .5-.2 .5-.1 .5,.4 .5-.9 .5-.1 .5,.7 .5-.6 .5,.6 .5-.6 .5,.4 .5,.4 .5-.6 .5,.2 .5,.1 .5,.2 .5,.4 .5,0 .5-.1 .5,.1 .5-.3 .5,.3 .5,0 .5-.1 .5,.3 .5,0 .5,.1 .5,.3 .5-.3 .5,.6 .5,0 .5,.5 .5-.6 .5,.4 .5,.2 .5,.5 .5-.4 .5,.7 .5-.7 .5,.5 .5-.4 .5-.7 .5,.2 .5,.1 .5-.3 .5,.2 .5-.3 .5-.1 .5,.6 .5-.1 .5-.5 .5,.5 .5,.1 .5-.6 .5,0 .5-.4 .5,0 .5,0 .5-.4 .5,.4 .5-.1 .5-.2 .5,.3 .5-.2 .5,.2 .5-.4 .5,.2 .5-.4 .5,.2 .5-.3 .5-.2 .5-.4 .5,.8" fill="none" stroke="#37AD6B" stroke-width="4.3" stroke-linejoin="round"/>
<path d="M128.7,2047.5l.5,1.8 .5,2.9 .5-1.7 .5,0 .5,1.5 .5-3.7 .5,2.5 .5,2.8 .5-5 .5,2 .5,2.3 .5-1 .5-.8 .5,.2 .5-.4 .5,3.1 .5,1.2 .5-4 .5,1.5 .5-.9 .5,4.7 .5-2.1 .5,.9 .5-5.1 .5,3.7 .5-1.4 .5-1.5 .5,2.2 .5,.9 .5,1.5 .5-.8 .5-1.6 .5,2.8 .5-3.8 .5,2 .5,1.6 .5-3.9 .5,4.2 .5-2.2 .5,1.8 .5-1.4 .5-3.1 .5,6.9 .5-7.2 .5,2.7 .5,1.5 .5-.1 .5,4 .5-2.5 .5-1.2 .5,3.6 .5-2.4 .5-.7 .5-.8 .5,.7 .5,1.3 .5-1.7 .5,2.4 .5-.7 .5,1.8 .5-1.1 .5-1.3 .5,.9 .5,.4 .5-1.5 .5-.8 .5-1.2 .5,2.8 .5,.2 .5,2.1 .5-1 .5-1.8 .5,3.1 .5-.6 .5-1.7 .5-1.1 .5,3.2 .5-1.2 .5,.9 .5-1.1 .5-1.9 .5,2.3 .5,2 .5-.1 .5-6 .5,1.3 .5,6.1 .5-2.3 .5,0 .5-.7 .5,1.6 .5,.9 .5,.3 .5-5.3 .5,6.2 .5-2.9 .5,2.4 .5-.1 .5-6.3 .5,5.5 .5-3.8 .5-.3 .5,2.9 .5-.7 .5,2.2 .5-2.2 .5,1.2 .5-2.2 .5-.6 .5,2 .5,3.2 .5-1.2 .5-1.7 .5,.4 .5-2.5 .5,2.3 .5-2.3 .5,3.8 .5-4.1 .5,.8 .5,3.3 .5-.4 .5-3.2 .5,5.2 .5-3.7 .5,3.4 .5-1.9 .5,1.2 .5-.1 .5,2.6 .5-4.7 .5,4 .5-.5 .5,2.1 .5-3.3 .5-.9 .5,.7 .5,2.6 .5-2 .5,0 .5,3.2 .5-1 .5-.6 .5,1.5 .5-1.1 .5-2 .5,.2 .5,1.2 .5,1.6 .5-2.3 .5,2.4 .5-1.9 .5-1.5 .5-.4 .5,2.5 .5,3.9 .5-.5 .5-3.4 .5-2.8 .5,5 .5-1 .5-2.2 .5,.2 .5-2.1 .5,3.4 .5,2.1 .5-4.6 .5,2.5 .5-4.4 .5,4.5 .5-1.7 .5-1 .5,1 .5,1.9 .5-.5 .5-1.6 .5,1.1 .5-1.6 .5-.4 .5,1.6 .5,.2 .5,1.7 .5-4.5 .5,3.8 .5-1.2 .5,2.2 .5-.4 .5,.8 .5,.5 .5,2.5 .5-5.2 .5,.5 .5,.2 .5,0 .5,2.7 .5-3.7 .5,1.2 .5,1.8 .5-2.4 .5,1.4 .5-1.4 .5,2.4 .5,4.2 .5-2.7 .5,.7 .5-.3 .5-2.3 .5-.5 .5-3.9 .5,4.1 .5-1.2 .5,3.5 .5-3.9 .5,.8 .5,.7 .5-3.2 .5,2.9 .5,.3 .5,.1 .5-1.3 .5,2.4 .5,1.8 .5-5.1 .5,1.3 .5,1.1 .5,1.2 .5,1.2 .5-2.8 .5,3.6 .5-3.8 .5,2 .5,1 .5,1.4 .5-2.3 .5,.9 .5,.2 .5-.9 .5-2.6 .5,1.5 .5,.6 .5,3 .5-3.2 .5-1.1 .5,.8 .5,3.5 .5-.6 .5-1.2 .5,3.2 .5-2 .5-.9 .5,1.7 .5-3.2 .5,2.4 .5-3.3 .5,0 .5,2.9 .5,3.1 .5-6.4 .5,2.9 .5,.5 .5,0 .5-4 .5,4.7 .5,2.2 .5-5.5 .5,4.1 .5-2.5 .5,3 .5-.9 .5-2.4 .5,3.8 .5-1.1 .5-1.6 .5,3.9 .5-4.5 .5,0 .5,2.5 .5-1 .5-1.2 .5,1.7 .5,.2 .5-2 .5,4.3 .5-1.7 .5-.7 .5-.6 .5-.2 .5,1 .5-1.2 .5,.6 .5-2.3 .5,.6 .5,3.3 .5-1.7 .5-.1 .5-.9 .5,1.8 .5-2 .5,.8 .5,4 .5-5.8 .5,.2 .5,1.9 .5-3.8 .5,2 .5,2.5 .5,.5 .5-1.8 .5-.7 .5,2.8 .5,.2 .5-.5 .5,.5 .5-3 .5,.3 .5,.3 .5,.7 .5-.3 .5,2.5 .5-.5 .5-1.1 .5-1 .5,.2 .5-2.2 .5,5.2 .5-3.2 .5,.4 .5,1.6 .5-1.4 .5,2.7 .5-4.5 .5,2.5 .5-.7 .5-2.6 .5,2.3 .5,1.6 .5,.3 .5-2.6 .5-1.9 .5,7.2 .5-6.2 .5,2.7 .5-.8 .5-.8 .5,1.9 .5-.1 .5-.4 .5,1.4 .5,.3 .5-.7 .5-1 .5-1.1 .5,1.3 .5-.2 .5,2.6 .5-.6 .5-2.4 .5,.2 .5,2.4 .5-1.7 .5,.4 .5-1.1 .5,.6 .5-1.2 .5-.1 .5-.5 .5,2.6 .5-1 .5-.2 .5-1.7 .5,1.4 .5-1.5 .5,2.5 .5-.7 .5,.3 .5,.5 .5,.8 .5-.8 .5,.5 .5,.7 .5-3.2 .5-.3 .5,1.5 .5,3.1 .5-2.5 .5,1 .5,2.9 .5-5.7 .5-1 .5,2.6 .5-.8 .5,.7 .5-3.1 .5-3.7 .5-4.3 .5,3.3 .5,4.1 .5,1.6 .5,.2 .5-.3 .5,.5 .5,3.4 .5-1 .5,.4 .5-1.2 .5,1.1 .5,1.7 .5-1.3 .5,.6 .5,1.1 .5-.1 .5-2.3 .5,4.1 .5-4.4 .5,1.3 .5,.5 .5,2.1 .5,.4 .5-2.1 .5,.3 .5-5 .5-2 .5-2.5 .5,2.7 .5,4.3 .5,.1 .5,3.2 .5-2.1 .5,.2 .5,.4 .5,2.5 .5-1.7 .5-1.1 .5,.9 .5,.6 .5,.1 .5-1.7 .5,.8 .5-2.6 .5,.2 .5-1.6 .5,3.3 .5-.9 .5,.2 .5-2.7 .5,1.4 .5-1.8 .5,.9 .5-1.1 .5,1.1 .5-1.8 .5,2 .5-.8 .5,.4 .5-.7 .5,3.5 .5,.4 .5-2.7 .5,4 .5-2.4 .5-.6 .5,1.2 .5,.4 .5-.4 .5-1.8 .5-3.7 .5-5.4 .5-12.8 .5-21 .5-15.4 .5,15.6 .5,21 .5,12.6 .5,5.4 .5,2.7 .5,2.4 .5-1.6 .5,3.3 .5-.6 .5-1 .5-2.7 .5,2.3 .5-2.5 .5,2.5 .5-.3 .5-1.3 .5,.5 .5,1.3 .5-1.9 .5-.2 .5,.1 .5-1 .5-.9 .5,.3 .5,0 .5,.4 .5,.6 .5,.5 .5-2.7 .5,2.8 .5,.2 .5-2.6 .5,2.1 .5,0 .5,1.1 .5,.4 .5-2.5 .5,1.9 .5-2.9 .5-4.9 .5-10.6 .5-17.3 .5-12.8 .5,12.8 .5,17.1 .5,9.9 .5,4.8 .5,2.7 .5-.2 .5,.7 .5,.5 .5,1.9 .5,.2 .5,1.1 .5-3.2 .5,2.4 .5-1.1 .5,2.5 .5-1 .5-1.2 .5,.4 .5,1.5 .5-1.8 .5-1.2 .5,0 .5,1 .5-4.2 .5,0 .5-2.5 .5-8 .5-14.3 .5-24.3 .5-17.5 .5,18 .5,24.6 .5,14.5 .5,7.2 .5,1.6 .5,4 .5-1.7 .5,3.1 .5,.1 .5,.6 .5,.8 .5-.1 .5,.5 .5-1.8 .5-.7 .5,1.6 .5-3.7 .5,.6 .5-2.2 .5-2.9 .5-4.1 .5-10.1 .5-15.7 .5-11.5 .5,11.4 .5,15 .5,9.1 .5,4.9 .5,.9 .5-3 .5-4.6 .5-10 .5-7.4 .5,8.1 .5,9.7 .5,8 .5,3.6 .5-2 .5,2.5 .5-1.3 .5,2.3 .5,.8 .5-2 .5-.1 .5,.4 .5-.8 .5,3.4 .5-2.4 .5,.6 .5,2.6 .5-1.9 .5,.2 .5,.9 .5,1.8 .5,.6 .5-2.1 .5,2.9 .5-5.1 .5,.7 .5-1 .5-4.2 .5-2.3 .5,2 .5,2.5 .5,2.4 .5-1.2 .5,1 .5,2 .5,.3 .5-1 .5-.7 .5,1 .5-.6 .5,4.1 .5-1.8 .5-.3 .5-2.7 .5,.9 .5,1.3 .5,.8 .5-.7 .5-4 .5-2.8 .5-6.2 .5-5 .5,4.1 .5,6.4 .5,4.6 .5-.3 .5,2.8 .5-2 .5-1.7 .5,1.2 .5-.3 .5,2 .5-.1 .5-.9 .5-.7 .5,2.1 .5,1.8 .5-1.2 .5-1.8 .5,1.5 .5,0 .5-.3 .5,1.2 .5-2.6 .5,2.5 .5-.5 .5-.6 .5,1.2 .5-1.6 .5-1.5 .5-1.2 .5-3 .5-1.6 .5-8.9 .5-14.8 .5-24.4 .5-18.4 .5,18 .5,24.5 .5,15.2 .5,8.7 .5,1.8 .5,1.7 .5-.7 .5,4.7 .5-.7 .5,.4 .5,1.3 .5-.9 .5,2.4 .5-.4 .5,.5 .5-1.4 .5,1.2 .5-2.6 .5,2.1 .5-1.2 .5,.7 .5-1.8 .5,3.5 .5-3.5 .5,1.3 .5-.8 .5,.4 .5,1.1 .5-.4 .5-.8 .5-.9 .5,1.3 .5-2.1 .5-1.2 .5,2.1 .5,2.8 .5-.1 .5,.2 .5,.4 .5,.3 .5,1.7 .5-.1 .5-1.9 .5,1.6 .5,.2 .5-3.5 .5,2.9 .5-1.5 .5-.1 .5,.8 .5-1.4 .5,1.9 .5-3.1 .5,3.2 .5-1.6 .5,.6 .5-4.2 .5-4.4 .5-4.4 .5,3.9 .5,3.1 .5,2.9 .5-.5 .5,2.8 .5-.8 .5-2.1 .5,.4 .5,5.7 .5-4.4 .5,2.2 .5,2.1 .5-1.9 .5-.4 .5,4.7 .5-3.2 .5,.3 .5-.5 .5,.6 .5,.3 .5-1.8 .5,.9 .5-3 .5,4 .5-1.4 .5,1 .5-1.5 .5,2.7 .5-1.3 .5,1.7 .5-1.9 .5-.4 .5-1.2 .5,2.7 .5-.4 .5,1.7 .5-2.2 .5-.1 .5,2.4 .5-1.3 .5-2.7 .5,3.1 .5-2 .5-1.7 .5-1.1 .5-1.3 .5,1.9 .5,1.9 .5,0 .5,1.6 .5-1.5 .5,2.7 .5,.2 .5-4.6 .5,3.8 .5,2.6 .5-3.9 .5,1 .5-2.3 .5,.5 .5,.6 .5-2.2 .5-.6 .5-.2 .5-.4 .5-.2 .5,.4 .5,0 .5,0 .5-.1 .5-2 .5,2 .5,.5 .5,0 .5-2.3 .5,4.6 .5-3.3 .5,1.6 .5-3 .5,1.9 .5,3.6 .5-2.1 .5,0 .5-.2 .5,.7 .5-1.8 .5,4.2 .5-3.1 .5-.3 .5-1.6 .5-3.3 .5,2.3 .5,2.3 .5,.7 .5,.1 .5-.2 .5-.8 .5,1.3 .5,1.7 .5-1.9 .5,2 .5,.2 .5-1.2 .5,4.8 .5-1.5 .5,.4 .5,.9 .5-.4 .5-3 .5-1 .5,1.1 .5,3.5 .5-5.6 .5,2.6 .5-1.1 .5,.9 .5-.8 .5-2.1 .5,0 .5,.5 .5,1.7 .5-.3 .5-1.4 .5,1.1 .5-.6 .5-.5 .5-.2 .5-1.5 .5,.9 .5,1.5 .5-.7 .5-2 .5,2.6 .5-.6 .5-1.7 .5-1.9 .5,.8 .5-.9 .5-.7 .5-.8 .5,4.6 .5,1.4 .5-2.4 .5,2.7 .5-.9 .5,1.4 .5-1.2 .5,3 .5-.8 .5,1.4 .5-3.8 .5,3.9 .5-1.6 .5,2.4 .5-1.3 .5-1.1 .5,1 .5,.4 .5,.1 .5,2.3 .5,0 .5,1.6 .5,.3 .5,1.6 .5-3 .5-2.1 .5,1.7 .5,1.7 .5-3 .5-2.6 .5,.6 .5-.6 .5,1.6 .5-2.6 .5,.5 .5-.4 .5,1.4 .5-4.4 .5,3 .5-1.3 .5-.2 .5-3.7 .5,.3 .5-2.5 .5,2.9 .5,.1 .5,2.1 .5,.2 .5-1.4 .5,2.4 .5-3.5 .5,1.2 .5,.7 .5,4.6 .5-1.7 .5,2.2 .5-3.7 .5,2.8 .5-2 .5-1.3 .5-4.8 .5-2.1 .5,2.9 .5,3.5 .5,2.7 .5,1.9 .5,.5 .5-.9 .5,.2 .5,2.4 .5-3.2 .5,.2 .5,2.7 .5-3 .5,.7 .5,2.7 .5-2.2 .5,1.7 .5-2.9 .5,.6 .5,.8 .5-.3 .5-1 .5,.8 .5,.1 .5-1.4 .5,2.3 .5-3.2 .5-.6 .5,2.3 .5,1.2 .5-.2 .5,.5 .5-2.6 .5,1.7 .5,1.6 .5-.8 .5-1.3 .5,1.2 .5,1.8 .5,.4 .5-2 .5,2.5 .5-1.4 .5,2.6 .5-2.1 .5,.8 .5,.2 .5-2.2 .5-.8 .5-.9 .5,.2 .5-1.2 .5,1.7 .5-.5 .5-.2 .5,1 .5,1.5 .5-3.8 .5,.1 .5-1.6 .5,1.4 .5,.7 .5,.2 .5-2.3 .5-1.4 .5-2.2 .5,2.7 .5,3.2 .5,.1 .5-2.2 .5,1 .5,.5 .5,.7 .5-2.4 .5-.2 .5,.2 .5,.9 .5,2.5 .5,1.6 .5-.5 .5-1.9 .5,2.9 .5-1.3 .5,.5 .5-1 .5-2.2 .5,2.2 .5,1.2 .5,.3 .5-1.2 .5-.3 .5-1 .5-.3 .5,.5 .5-.6 .5-.7 .5-2.3 .5,1.1 .5-1.4 .5,.9 .5,.4 .5,1.3 .5-1.8 .5-1.7 .5,2.5 .5-2.5 .5,2.9 .5,1.3 .5,2.5 .5-4.7 .5,4.5 .5-2 .5,.5 .5,.4 .5-.1 .5,3.9 .5-4.7 .5,1 .5,5.3 .5-1.3 .5,2.5 .5-1.4 .5-2.1 .5,3.6 .5-.5 .5,1.8 .5-2.1 .5,.3 .5-.8 .5-1.4 .5,.8 .5-.2 .5-.3 .5-2 .5,2.8 .5-2 .5-3.5 .5,1.2 .5-.8 .5,0 .5,.4 .5-1 .5,1.2 .5-2.7 .5,.4 .5,4.2 .5-2.3 .5,.3 .5-.4 .5,3.2 .5,.2 .5-.1 .5-1.1 .5-.6 .5,2.8 .5-4.2 .5,1.3 .5,1.2 .5-.7 .5-1 .5-1.1 .5,.7 .5-.5 .5-2.4 .5-1 .5,1.6 .5-.2 .5,.6 .5,0 .5-.5 .5,.9 .5,.6 .5,.7 .5,.4 .5-1.2 .5,.4 .5,.1 .5-1.3 .5,1.5 .5-2.9 .5,2 .5-1.3 .5-1.2 .5,3.2 .5-2 .5-1.1 .5-.4 .5-.6 .5,1.9 .5-3.2 .5,3.2 .5-1.7 .5,2.9 .5,.4 .5-1.2 .5-.9 .5,2 .5,.6 .5-1.7 .5-1 .5-.1 .5,2.5 .5,1.5 .5-4.2 .5,2.4 .5-1.1 .5,.3 .5-1.8 .5-1.5 .5-2.2 .5,1.9 .5,1.5 .5,.1 .5,1.3 .5,0 .5-2.4 .5,.7 .5,1.6 .5,.8 .5-.3 .5,1.3 .5-.1 .5,1.4 .5,.1 .5,0 .5,1.7 .5-4.1 .5,4.5 .5-.2 .5-1.7 .5-1.6 .5-.4 .5,2.5 .5,1.1 .5-3.5 .5,.8 .5,.8 .5-1.1 .5,1.3 .5,1.2 .5-.7 .5-2.2 .5,1.6 .5,2.1 .5-2.2 .5,.9 .5-.6 .5-.7 .5-.1 .5-.3 .5,1.6 .5-.1 .5-1.7 .5,1.6 .5-2.5 .5-.6 .5-2.9 .5-3.1 .5-3.2 .5-2.3 .5,1.9 .5,1.8 .5,4.1 .5,1.6 .5,3.4 .5-.5 .5,1.9 .5-.6 .5,.2 .5-.6 .5,1 .5,.3 .5,1.4 .5-.2 .5-1 .5-1.2 .5,.1 .5,.2 .5,.5 .5-1.3 .5,.8 .5,.2 .5,.2 .5-.2 .5-1.8 .5,2.7 .5-.8 .5-2.1 .5,.5 .5,.5 .5-.6 .5,1.3 .5-1.8 .5,3.4 .5-4.3 .5,.1 .5,3 .5-3.8 .5,2.1 .5,1.5 .5-.2 .5-.3 .5-.3 .5-.6 .5-.4 .5,3.3 .5-1.8 .5-.7 .5,.1 .5,1.8 .5-1.5 .5,2.7 .5-2.2 .5,1 .5-.5 .5,.5 .5,.3 .5-1.3 .5,1.8 .5-.7 .5-1.5 .5-.2 .5-.6 .5-.6 .5-1.5 .5,.1 .5-.6 .5,2.8 .5-1 .5-.5 .5,.4 .5,2 .5-.4 .5-1.9 .5-1.3 .5,2.4 .5,.8 .5,.2 .5,.2 .5-.3 .5,.4 .5,1.4 .5-1.8 .5-1.5 .5,2.2 .5,.5 .5,1.3 .5-1.1 .5,.2 .5-.6 .5,.4 .5-.8 .5,2.3 .5-1.2 .5-1.4 .5-1.3 .5,.4 .5,1.4 .5,1.5 .5-3 .5,.9 .5,.6 .5,.7 .5-2.1 .5,1.5 .5-.5 .5-1.5 .5,1.7 .5-1 .5,.8 .5-.6 .5-1.2 .5-.5 .5,1.2 .5,1.2 .5-1.3 .5,2.3 .5,.4 .5-1.2 .5,1.2 .5-3.5 .5,2.9 .5-1.7 .5,1.5 .5-.1 .5-.6 .5,2.6 .5-2.5 .5-1.8 .5,3 .5-1.4 .5-1.2 .5,2.7 .5-.8 .5-.2 .5-.6 .5-2.5 .5,3.2 .5-1.1 .5,.1 .5,0 .5,1.8 .5-2.2 .5,.8 .5-1.7 .5,2.9 .5-.9 .5-1.4 .5,2.3 .5-1.9 .5,2.3 .5-.5 .5,.3 .5-2 .5,1.4 .5-1.7 .5,.4 .5-1.9 .5,3.2 .5-1.3 .5-1 .5,.3 .5,.4 .5-1 .5,1.1 .5-.5 .5-.3 .5-.5 .5,1 .5,1.2 .5-.9 .5,2.5 .5-2.1 .5,2.7 .5-1.9 .5-1 .5,.9 .5-.2 .5,.8 .5,.9 .5,.5 .5-2.7 .5,.2 .5-2 .5,1.6 .5-.4 .5-.4 .5-.4 .5,2 .5-.1 .5-.9 .5-1.6 .5,1.4 .5,1.4 .5-.9 .5-.9 .5,1.2 .5-2.1 .5,.7 .5-.4 .5,2.8 .5-1.3 .5,1.5 .5-1.8 .5,.3 .5,2.1 .5,2 .5-1.9 .5-.1 .5-.9 .5,2.9 .5-3 .5,.2 .5-.3 .5-.7 .5-.4 .5-.5 .5-1.8 .5-.4 .5,2.7 .5-.4 .5-.2 .5-.9 .5-.2 .5,1.1 .5,1.4 .5-.4 .5-3.1 .5-.1 .5-.2 .5,1.9 .5,1.7 .5-2.1 .5-.5 .5,2.9 .5-.5 .5-.1 .5,.4 .5,2 .5-.9 .5-2.8 .5,1.5 .5,.9 .5,.2 .5,2.3 .5-1.4 .5-2.1 .5-.5 .5,1.4 .5-.7 .5,.8 .5,3.3 .5-4.1 .5-.9 .5,1.5 .5,1 .5-.2 .5,.1 .5,0 .5,1 .5-.5 .5-1.7 .5,1.3 .5,1.3 .5-.9 .5-1.6 .5,1.2 .5-2.1 .5,2 .5,.7 .5-1.5 .5-1.5 .5,3.3 .5-1.7 .5,1.2 .5,.6 .5-2 .5-1.1 .5,.1 .5,.1 .5,.7 .5-.3 .5-.9 .5,1.3 .5-2.1 .5,1.3 .5,.2 .5-1.4 .5,1.3 .5,.5 .5,.2 .5-1.7 .5,1.7 .5-.5 .5,.6 .5,.6 .5,1.3 .5-3 .5,.2 .5,.8 .5,.8 .5-.6 .5-2.1 .5,1.4 .5,.4 .5,0 .5,1.3 .5,0 .5-.1 .5-1.2 .5-.5 .5,.5 .5,.2 .5,0 .5-.6 .5-.3 .5,2 .5-3 .5,1.1 .5-.3 .5,0 .5,1.9 .5-.9 .5,.3 .5-.5 .5,.5 .5-.8 .5,1.2 .5-.7 .5-.6 .5-.1 .5,1.8 .5-4.4 .5,3.7 .5-1.6 .5,.5 .5,.3 .5-1.4 .5,3.6 .5-.8 .5,1.2 .5-.7 .5-2.4 .5,3 .5-.4 .5-3.4 .5,1.1 .5-2.2 .5,.4 .5,1.3 .5,.9 .5-2 .5,.6 .5,1 .5,.6 .5-1.2 .5,.3 .5-.3 .5,.5 .5,.5 .5,.5 .5-.3 .5-.9 .5,1.4 .5-.3 .5,.4 .5-2.3 .5,3 .5-1 .5-3.2 .5,.5 .5,3.6 .5-2.5 .5-.3 .5,2.6 .5-.6 .5-2.4 .5,.9 .5-.4 .5-.8 .5,1.7 .5,.1 .5,.3 .5,.7 .5-.5 .5-1.2 .5,1.7 .5,.3 .5-.5 .5-.5 .5-2 .5,1.6 .5-.9 .5-1.9 .5,2.8 .5-.5 .5-1.3 .5,.4 .5-1.1 .5,.2 .5-1 .5,1.2 .5-1.1 .5,.3 .5,.9 .5,0 .5,1 .5,.2 .5-.3 .5,.6 .5-.9 .5,.7 .5,2.4 .5-1.3 .5-1.3 .5-.2 .5,.9 .5-.4 .5,2.1 .5-1.9 .5,1.4 .5-1.5 .5,1.8 .5-1.5 .5,1.1 .5-.4 .5,.7 .5,2 .5-2.4 .5,.9 .5-.2 .5-.6 .5-1.1 .5,2.1 .5,1.4 .5-.8 .5,.5 .5-.3 .5-.6 .5-.7 .5,1.2 .5-1.1 .5-.2 .5,0 .5,.8 .5,0 .5-.6 .5-.3 .5-.5 .5-.8 .5,1.2 .5-2.9 .5,.8 .5,.7 .5-.6 .5-.3 .5-.2 .5-.4 .5-1 .5,3 .5-1.9 .5,1.6 .5-1.7 .5,.5 .5-1.5 .5,1.3 .5,1 .5,.2 .5-.7 .5-.4 .5,1.6 .5-1 .5,1.4 .5-2.3 .5,2.6 .5-.7 .5-1.9 .5,.7 .5,.5 .5-.2 .5-.4 .5,1.8 .5-2.2 .5-1.4 .5,3.6 .5-.6 .5,1.5 .5-1.4 .5-1.6 .5,2.2 .5-1.2 .5-1.1 .5,1.4 .5,.3 .5-1.1 .5,1.3 .5-1.5 .5,.7 .5,.7 .5-.8 .5,.8 .5-.8 .5-1.7 .5,2 .5,.3 .5-.5 .5,.3 .5,.2 .5-1.7 .5,1.5 .5,.5 .5-1.8 .5,.8 .5-.4 .5,1.6 .5-3.2 .5,2.1 .5,.5 .5-2.4 .5,1.7 .5,.7 .5-1 .5,2.8 .5-2.7 .5,1.3 .5,.6 .5-1.8 .5,1.9 .5-1.1 .5-.4 .5,.9 .5,.2 .5-.9 .5,1.9 .5-1.2 .5,1.5 .5-1.4 .5-1.7 .5,2.2 .5,.4 .5-.5 .5-1.4 .5,0 .5,2 .5-1.9 .5,.2 .5,.7 .5,.7 .5-.6 .5-1.5 .5,1.2 .5-.3 .5-1 .5-.2 .5,.1 .5,1.6 .5-1.3 .5,1.9 .5-1.4 .5,1.6 .5-.5 .5-1.4 .5,1.3 .5,0 .5-.8 .5-1.3 .5,2.1 .5-1 .5,1.6 .5-.6 .5,.7 .5-.9 .5,.3 .5,1.1 .5-1.3 .5,.6 .5-.7 .5,.9 .5-.1 .5-.2 .5,1.6 .5-1.1 .5-.4 .5-.8 .5-.2 .5-.1 .5,1.2 .5,.1 .5-1.3 .5,.6 .5,.3 .5,.1 .5,0 .5-1.1 .5,1.2 .5-.1 .5,1.1 .5-1.3 .5,2.9 .5-3.4 .5,1.6 .5-.8 .5-1.7 .5,1 .5,0 .5,2 .5-1.8 .5-.1 .5,1 .5-1.7 .5,.6 .5-.2 .5-.4 .5,2.7 .5-2 .5-.5 .5,.6 .5,.6 .5,.2 .5-.6 .5,1.2 .5,.3 .5-1.4 .5,1.7 .5-.2 .5-1.5 .5,.8 .5-1 .5,.3 .5,.2 .5-.1 .5-.9 .5,1.2 .5-2.4 .5,.8 .5-.7 .5,0 .5,1.1 .5-1.1 .5,0 .5,1.6 .5-.7 .5,1.1 .5,1 .5-2.6 .5,1.9 .5-1.1 .5-.4 .5,1.4 .5-.7 .5,.1 .5-.4 .5-.4 .5,.9 .5,.5 .5,.1 .5,.1 .5-.6 .5,.2 .5,1.1 .5-.5 .5,.8 .5-.1 .5,.8 .5-.4 .5,1.1 .5-1.2 .5,.4 .5-1 .5,.5 .5,0 .5-.2 .5,.1 .5-.7 .5,.3 .5-1.1 .5,.9 .5,1.1 .5-1.8 .5,.8 .5,.5 .5-2 .5,3.1 .5-2.9 .5,.5 .5,1.1 .5,.2 .5-3.3 .5,1 .5-.7 .5,2 .5,.1 .5-1.7 .5-.6 .5,.1 .5,1.8 .5-2.2 .5,2.1 .5-.6 .5-.4 .5,1.3 .5,1 .5-3.3" fill="none" stroke="#37AD6B" stroke-width="2.2" stroke-linejoin="round"/>
<text transform="translate(151.59,1888.80) scale(0.9243,1)" font-size="34.87">l</text>
<text transform="translate(162.49,1888.70)" font-size="35.00">:</text>
<text transform="translate(174.33,1888.70) scale(0.9784,1)" font-size="30.12">Al</text>
<text transform="translate(202.64,1895.60) scale(0.8960,1)" font-size="33.53">2</text>
<text transform="translate(216.77,1889.08) scale(0.9615,1)" font-size="31.96">SiO</text>
<text transform="translate(265.29,1895.28) scale(0.9425,1)" font-size="32.03">5</text>
<text transform="translate(323.70,1885.40) scale(0.9214,1)" font-size="37.37">m</text>
<text transform="translate(352.00,1885.60)" font-size="35.00">:</text>
<text transform="translate(364.59,1885.52) scale(1.0365,1)" font-size="28.27">CaAl</text>
<text transform="translate(429.93,1891.80) scale(0.9261,1)" font-size="30.85">4</text>
<text transform="translate(443.64,1885.90) scale(1.0791,1)" font-size="30.21">O</text>
<text transform="translate(466.88,1892.40) scale(0.9164,1)" font-size="30.99">7</text>
<text transform="translate(523.72,1889.70) scale(0.8493,1)" font-size="39.70">n</text>
<text transform="translate(542.69,1889.90)" font-size="35.00">:</text>
<text transform="translate(554.93,1889.81) scale(0.9865,1)" font-size="28.98">CaSi</text>
<text transform="translate(614.16,1896.50) scale(1.0089,1)" font-size="29.31">2</text>
<text transform="translate(628.74,1890.19) scale(1.0532,1)" font-size="30.95">O</text>
<text transform="translate(651.85,1896.90) scale(1.0185,1)" font-size="30.23">7</text>
<text transform="translate(707.80,1889.70) scale(0.9353,1)" font-size="39.97">t</text>
<text transform="translate(718.59,1889.90)" font-size="35.00">:</text>
<text transform="translate(730.42,1890.21) scale(1.0358,1)" font-size="28.84">SiO</text>
<text transform="translate(777.30,1895.60) scale(1.0112,1)" font-size="30.66">2</text>
<text transform="translate(824.62,1888.89) scale(1.0098,1)" font-size="35.72">j</text>
<text transform="translate(836.69,1889.00)" font-size="35.00">:</text>
<text transform="translate(849.02,1888.80) scale(0.9493,1)" font-size="30.36">Ca</text>
<text transform="translate(884.54,1895.60) scale(1.0583,1)" font-size="30.66">2</text>
<text transform="translate(900.66,1888.80) scale(0.9359,1)" font-size="28.96">Al</text>
<text transform="translate(928.07,1887.91) scale(1.1205,1)" font-size="27.67">(</text>
<text transform="translate(938.43,1889.11) scale(1.0147,1)" font-size="29.40">AlSiO</text>
<text transform="translate(1014.78,1896.10) scale(0.8944,1)" font-size="31.76">7</text>
<text transform="translate(1028.61,1887.91) scale(1.0084,1)" font-size="27.67">)</text>
<text transform="translate(144.54,1965.38) scale(1.0866,1)" font-size="56.89">(c)</text>
<text transform="translate(349.88,2002.24)" font-size="35.78">t</text>
<text transform="translate(370.45,2028.44)" font-size="35.95">t</text>
<text transform="translate(396.51,1986.00)" font-size="30.98">l</text>
<text transform="translate(411.04,2015.20)" font-size="33.29">l</text>
<text transform="translate(454.28,1988.91)" font-size="33.74">j</text>
<text transform="translate(715.18,2054.21)" font-size="33.74">j</text>
<text transform="translate(369.50,2095.70)" font-size="36.09">m</text>
<text transform="translate(455.92,2126.55)" font-size="32.64">j</text>
<text transform="translate(342.93,2158.83)" font-size="36.65">t</text>
<text transform="translate(396.16,2191.40)" font-size="35.30">l</text>
<text transform="translate(411.44,2184.40)" font-size="34.01">l</text>
<text transform="translate(431.68,2192.52)" font-size="38.39">t</text>
<text transform="translate(714.61,2194.70)" font-size="34.29">j</text>
<text transform="translate(457.39,2255.91)" font-size="33.30">j</text>
<text transform="translate(358.88,2356.24)" font-size="35.78">t</text>
<text transform="translate(381.15,2369.33)" font-size="36.82">t</text>
<text transform="translate(430.38,2351.91)" font-size="33.74">j</text>
<text transform="translate(525.48,2373.51)" font-size="33.74">j</text>
<text transform="translate(712.61,2355.80)" font-size="34.29">j</text>
<text transform="translate(333.30,2492.90)" font-size="33.97">n</text>
<text transform="translate(364.48,2462.39)" font-size="31.41">t</text>
<text transform="translate(381.38,2494.06)" font-size="34.03">t</text>
<text transform="translate(409.20,2463.70)" font-size="36.09">n</text>
<text transform="translate(435.50,2489.05)" font-size="35.08">t</text>
<text transform="translate(450.91,2435.30)" font-size="34.29">j</text>
<text transform="translate(712.11,2494.70)" font-size="34.29">j</text>
</svg>
</body></html>
